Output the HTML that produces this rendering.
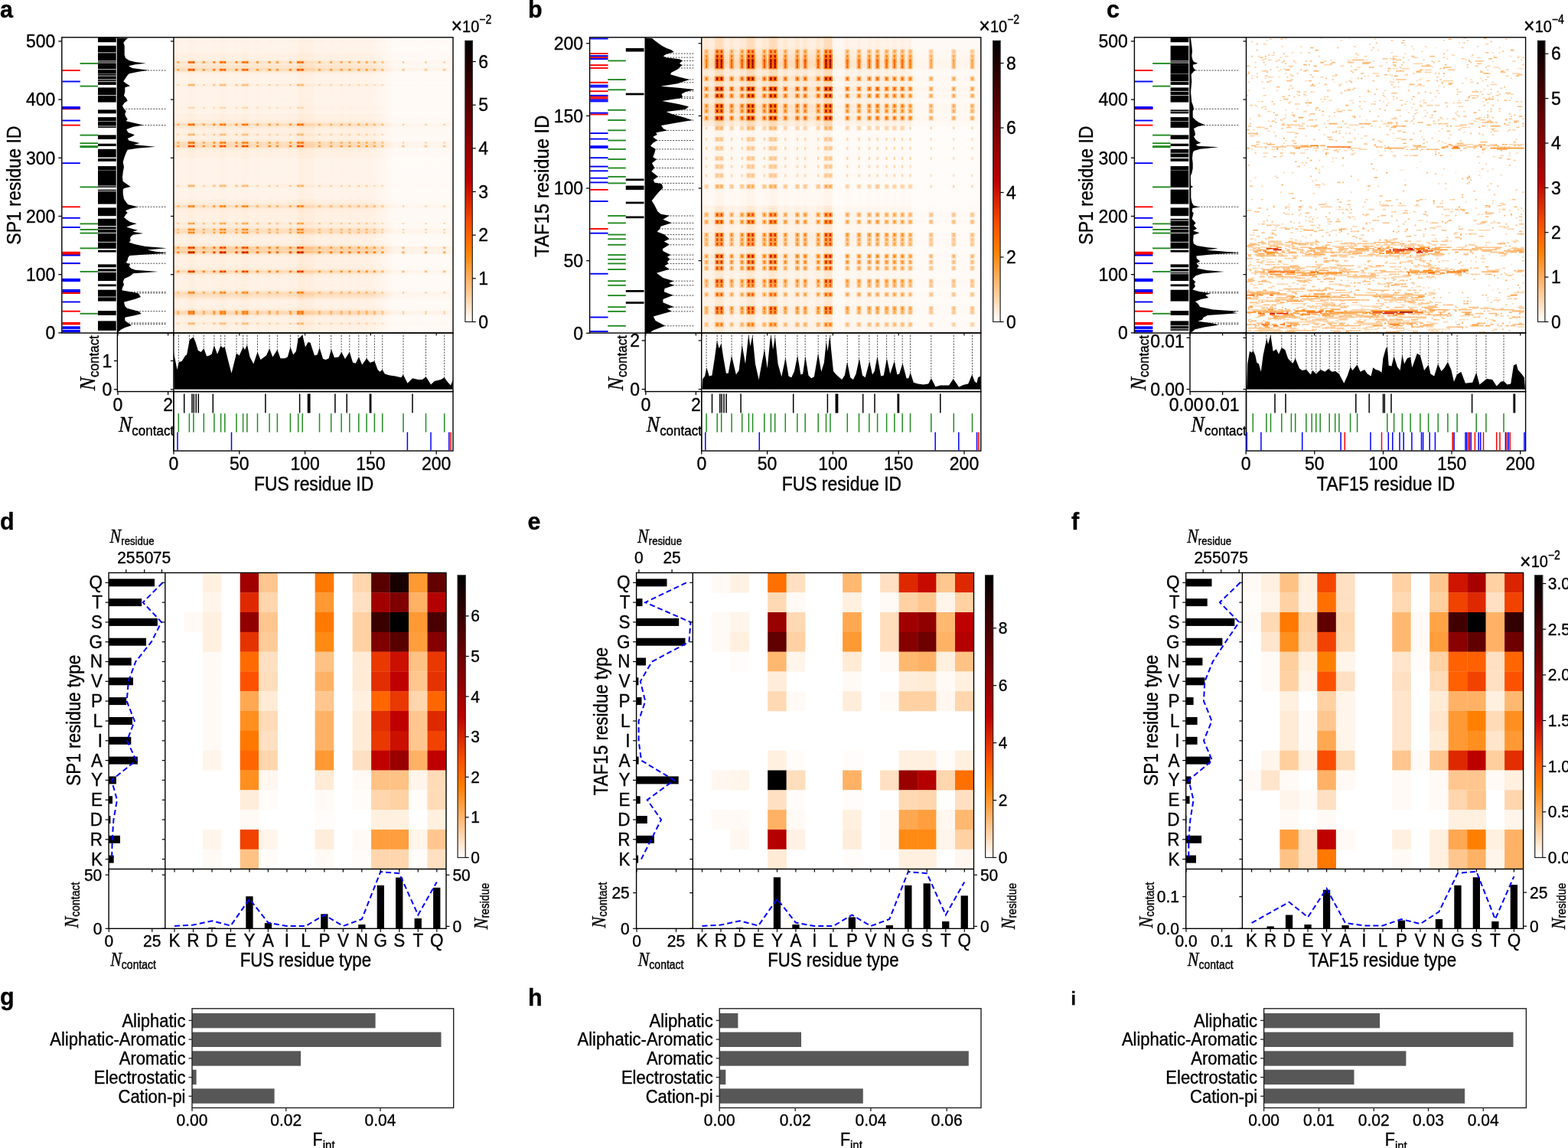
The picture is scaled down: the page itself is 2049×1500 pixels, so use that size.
<!DOCTYPE html>
<html><head><meta charset="utf-8"><title>Figure</title>
<style>html,body{margin:0;padding:0;background:#fff;}svg{display:block;}text{stroke:#000;stroke-width:0.35px;}</style>
</head><body>
<svg width="2049" height="1500" viewBox="0 0 2049 1500"><rect width="2049" height="1500" fill="#fff"/>
<text x="0" y="23.2" font-family="Liberation Sans, Arial, sans-serif" font-size="30.5" font-weight="bold">a</text>
<rect x="226.9" y="48.8" width="365.1" height="386.3" fill="#fffcfa"/>
<defs><linearGradient id="hba" x1="0" y1="0" x2="1" y2="0"><stop offset="0.0000" stop-color="#ff8000" stop-opacity="0.625"/><stop offset="0.0094" stop-color="#ff8000" stop-opacity="0.644"/><stop offset="0.0188" stop-color="#ff8000" stop-opacity="0.683"/><stop offset="0.0282" stop-color="#ff8000" stop-opacity="0.626"/><stop offset="0.0376" stop-color="#ff8000" stop-opacity="0.625"/><stop offset="0.0470" stop-color="#ff8000" stop-opacity="0.639"/><stop offset="0.0564" stop-color="#ff8000" stop-opacity="0.820"/><stop offset="0.0659" stop-color="#ff8000" stop-opacity="0.816"/><stop offset="0.0753" stop-color="#ff8000" stop-opacity="0.723"/><stop offset="0.0847" stop-color="#ff8000" stop-opacity="0.625"/><stop offset="0.0941" stop-color="#ff8000" stop-opacity="0.625"/><stop offset="0.1035" stop-color="#ff8000" stop-opacity="0.678"/><stop offset="0.1129" stop-color="#ff8000" stop-opacity="0.665"/><stop offset="0.1223" stop-color="#ff8000" stop-opacity="0.625"/><stop offset="0.1317" stop-color="#ff8000" stop-opacity="0.625"/><stop offset="0.1411" stop-color="#ff8000" stop-opacity="0.697"/><stop offset="0.1505" stop-color="#ff8000" stop-opacity="0.666"/><stop offset="0.1599" stop-color="#ff8000" stop-opacity="0.637"/><stop offset="0.1693" stop-color="#ff8000" stop-opacity="0.803"/><stop offset="0.1787" stop-color="#ff8000" stop-opacity="0.805"/><stop offset="0.1881" stop-color="#ff8000" stop-opacity="0.691"/><stop offset="0.1976" stop-color="#ff8000" stop-opacity="0.625"/><stop offset="0.2070" stop-color="#ff8000" stop-opacity="0.625"/><stop offset="0.2164" stop-color="#ff8000" stop-opacity="0.637"/><stop offset="0.2258" stop-color="#ff8000" stop-opacity="0.734"/><stop offset="0.2352" stop-color="#ff8000" stop-opacity="0.630"/><stop offset="0.2446" stop-color="#ff8000" stop-opacity="0.724"/><stop offset="0.2540" stop-color="#ff8000" stop-opacity="0.798"/><stop offset="0.2634" stop-color="#ff8000" stop-opacity="0.789"/><stop offset="0.2728" stop-color="#ff8000" stop-opacity="0.632"/><stop offset="0.2822" stop-color="#ff8000" stop-opacity="0.625"/><stop offset="0.2916" stop-color="#ff8000" stop-opacity="0.635"/><stop offset="0.3010" stop-color="#ff8000" stop-opacity="0.716"/><stop offset="0.3104" stop-color="#ff8000" stop-opacity="0.628"/><stop offset="0.3198" stop-color="#ff8000" stop-opacity="0.625"/><stop offset="0.3293" stop-color="#ff8000" stop-opacity="0.625"/><stop offset="0.3387" stop-color="#ff8000" stop-opacity="0.684"/><stop offset="0.3481" stop-color="#ff8000" stop-opacity="0.670"/><stop offset="0.3575" stop-color="#ff8000" stop-opacity="0.625"/><stop offset="0.3669" stop-color="#ff8000" stop-opacity="0.678"/><stop offset="0.3763" stop-color="#ff8000" stop-opacity="0.665"/><stop offset="0.3857" stop-color="#ff8000" stop-opacity="0.625"/><stop offset="0.3951" stop-color="#ff8000" stop-opacity="0.625"/><stop offset="0.4045" stop-color="#ff8000" stop-opacity="0.625"/><stop offset="0.4139" stop-color="#ff8000" stop-opacity="0.691"/><stop offset="0.4233" stop-color="#ff8000" stop-opacity="0.663"/><stop offset="0.4327" stop-color="#ff8000" stop-opacity="0.626"/><stop offset="0.4421" stop-color="#ff8000" stop-opacity="0.729"/><stop offset="0.4516" stop-color="#ff8000" stop-opacity="1.000"/><stop offset="0.4610" stop-color="#ff8000" stop-opacity="1.000"/><stop offset="0.4704" stop-color="#ff8000" stop-opacity="0.854"/><stop offset="0.4798" stop-color="#ff8000" stop-opacity="0.844"/><stop offset="0.4892" stop-color="#ff8000" stop-opacity="0.844"/><stop offset="0.4986" stop-color="#ff8000" stop-opacity="0.844"/><stop offset="0.5080" stop-color="#ff8000" stop-opacity="0.625"/><stop offset="0.5174" stop-color="#ff8000" stop-opacity="0.667"/><stop offset="0.5268" stop-color="#ff8000" stop-opacity="0.667"/><stop offset="0.5362" stop-color="#ff8000" stop-opacity="0.625"/><stop offset="0.5456" stop-color="#ff8000" stop-opacity="0.625"/><stop offset="0.5550" stop-color="#ff8000" stop-opacity="0.632"/><stop offset="0.5644" stop-color="#ff8000" stop-opacity="0.709"/><stop offset="0.5738" stop-color="#ff8000" stop-opacity="0.629"/><stop offset="0.5833" stop-color="#ff8000" stop-opacity="0.625"/><stop offset="0.5927" stop-color="#ff8000" stop-opacity="0.636"/><stop offset="0.6021" stop-color="#ff8000" stop-opacity="0.704"/><stop offset="0.6115" stop-color="#ff8000" stop-opacity="0.627"/><stop offset="0.6209" stop-color="#ff8000" stop-opacity="0.632"/><stop offset="0.6303" stop-color="#ff8000" stop-opacity="0.709"/><stop offset="0.6397" stop-color="#ff8000" stop-opacity="0.629"/><stop offset="0.6491" stop-color="#ff8000" stop-opacity="0.625"/><stop offset="0.6585" stop-color="#ff8000" stop-opacity="0.673"/><stop offset="0.6679" stop-color="#ff8000" stop-opacity="0.661"/><stop offset="0.6773" stop-color="#ff8000" stop-opacity="0.625"/><stop offset="0.6867" stop-color="#ff8000" stop-opacity="0.673"/><stop offset="0.6961" stop-color="#ff8000" stop-opacity="0.661"/><stop offset="0.7056" stop-color="#ff8000" stop-opacity="0.625"/><stop offset="0.7150" stop-color="#ff8000" stop-opacity="0.610"/><stop offset="0.7244" stop-color="#ff8000" stop-opacity="0.543"/><stop offset="0.7338" stop-color="#ff8000" stop-opacity="0.463"/><stop offset="0.7432" stop-color="#ff8000" stop-opacity="0.429"/><stop offset="0.7526" stop-color="#ff8000" stop-opacity="0.368"/><stop offset="0.7620" stop-color="#ff8000" stop-opacity="0.300"/><stop offset="0.7714" stop-color="#ff8000" stop-opacity="0.246"/><stop offset="0.7808" stop-color="#ff8000" stop-opacity="0.192"/><stop offset="0.7902" stop-color="#ff8000" stop-opacity="0.138"/><stop offset="0.7996" stop-color="#ff8000" stop-opacity="0.138"/><stop offset="0.8090" stop-color="#ff8000" stop-opacity="0.138"/><stop offset="0.8184" stop-color="#ff8000" stop-opacity="0.143"/><stop offset="0.8278" stop-color="#ff8000" stop-opacity="0.141"/><stop offset="0.8373" stop-color="#ff8000" stop-opacity="0.138"/><stop offset="0.8467" stop-color="#ff8000" stop-opacity="0.138"/><stop offset="0.8561" stop-color="#ff8000" stop-opacity="0.137"/><stop offset="0.8655" stop-color="#ff8000" stop-opacity="0.137"/><stop offset="0.8749" stop-color="#ff8000" stop-opacity="0.138"/><stop offset="0.8843" stop-color="#ff8000" stop-opacity="0.138"/><stop offset="0.8937" stop-color="#ff8000" stop-opacity="0.138"/><stop offset="0.9031" stop-color="#ff8000" stop-opacity="0.147"/><stop offset="0.9125" stop-color="#ff8000" stop-opacity="0.138"/><stop offset="0.9219" stop-color="#ff8000" stop-opacity="0.138"/><stop offset="0.9313" stop-color="#ff8000" stop-opacity="0.138"/><stop offset="0.9407" stop-color="#ff8000" stop-opacity="0.138"/><stop offset="0.9501" stop-color="#ff8000" stop-opacity="0.138"/><stop offset="0.9595" stop-color="#ff8000" stop-opacity="0.138"/><stop offset="0.9690" stop-color="#ff8000" stop-opacity="0.147"/><stop offset="0.9784" stop-color="#ff8000" stop-opacity="0.138"/><stop offset="0.9878" stop-color="#ff8000" stop-opacity="0.138"/><stop offset="0.9972" stop-color="#ff8000" stop-opacity="0.138"/></linearGradient></defs>
<g><rect x="226.9" y="433.4" width="365.1" height="1.8" fill="url(#hba)" opacity="0.110"/><rect x="226.9" y="431.9" width="365.1" height="1.8" fill="url(#hba)" opacity="0.110"/><rect x="226.9" y="430.3" width="365.1" height="1.8" fill="url(#hba)" opacity="0.110"/><rect x="226.9" y="428.8" width="365.1" height="1.8" fill="url(#hba)" opacity="0.110"/><rect x="226.9" y="427.3" width="365.1" height="1.8" fill="url(#hba)" opacity="0.110"/><rect x="226.9" y="425.8" width="365.1" height="1.8" fill="url(#hba)" opacity="0.111"/><rect x="226.9" y="424.2" width="365.1" height="1.8" fill="url(#hba)" opacity="0.123"/><rect x="226.9" y="422.7" width="365.1" height="1.8" fill="url(#hba)" opacity="0.163"/><rect x="226.9" y="421.2" width="365.1" height="1.8" fill="url(#hba)" opacity="0.163"/><rect x="226.9" y="419.7" width="365.1" height="1.8" fill="url(#hba)" opacity="0.123"/><rect x="226.9" y="418.1" width="365.1" height="1.8" fill="url(#hba)" opacity="0.111"/><rect x="226.9" y="416.6" width="365.1" height="1.8" fill="url(#hba)" opacity="0.111"/><rect x="226.9" y="415.1" width="365.1" height="1.8" fill="url(#hba)" opacity="0.115"/><rect x="226.9" y="413.6" width="365.1" height="1.8" fill="url(#hba)" opacity="0.126"/><rect x="226.9" y="412" width="365.1" height="1.8" fill="url(#hba)" opacity="0.158"/><rect x="226.9" y="410.5" width="365.1" height="1.8" fill="url(#hba)" opacity="0.254"/><rect x="226.9" y="409" width="365.1" height="1.8" fill="url(#hba)" opacity="0.384"/><rect x="226.9" y="407.5" width="365.1" height="1.8" fill="url(#hba)" opacity="0.426"/><rect x="226.9" y="405.9" width="365.1" height="1.8" fill="url(#hba)" opacity="0.354"/><rect x="226.9" y="404.4" width="365.1" height="1.8" fill="url(#hba)" opacity="0.218"/><rect x="226.9" y="402.9" width="365.1" height="1.8" fill="url(#hba)" opacity="0.152"/><rect x="226.9" y="401.4" width="365.1" height="1.8" fill="url(#hba)" opacity="0.126"/><rect x="226.9" y="399.8" width="365.1" height="1.8" fill="url(#hba)" opacity="0.115"/><rect x="226.9" y="398.3" width="365.1" height="1.8" fill="url(#hba)" opacity="0.111"/><rect x="226.9" y="396.8" width="365.1" height="1.8" fill="url(#hba)" opacity="0.110"/><rect x="226.9" y="395.3" width="365.1" height="1.8" fill="url(#hba)" opacity="0.110"/><rect x="226.9" y="393.8" width="365.1" height="1.8" fill="url(#hba)" opacity="0.112"/><rect x="226.9" y="392.2" width="365.1" height="1.8" fill="url(#hba)" opacity="0.118"/><rect x="226.9" y="390.7" width="365.1" height="1.8" fill="url(#hba)" opacity="0.135"/><rect x="226.9" y="389.2" width="365.1" height="1.8" fill="url(#hba)" opacity="0.174"/><rect x="226.9" y="387.7" width="365.1" height="1.8" fill="url(#hba)" opacity="0.234"/><rect x="226.9" y="386.1" width="365.1" height="1.8" fill="url(#hba)" opacity="0.295"/><rect x="226.9" y="384.6" width="365.1" height="1.8" fill="url(#hba)" opacity="0.329"/><rect x="226.9" y="383.1" width="365.1" height="1.8" fill="url(#hba)" opacity="0.355"/><rect x="226.9" y="381.6" width="365.1" height="1.8" fill="url(#hba)" opacity="0.355"/><rect x="226.9" y="380" width="365.1" height="1.8" fill="url(#hba)" opacity="0.234"/><rect x="226.9" y="378.5" width="365.1" height="1.8" fill="url(#hba)" opacity="0.143"/><rect x="226.9" y="377" width="365.1" height="1.8" fill="url(#hba)" opacity="0.118"/><rect x="226.9" y="375.5" width="365.1" height="1.8" fill="url(#hba)" opacity="0.112"/><rect x="226.9" y="373.9" width="365.1" height="1.8" fill="url(#hba)" opacity="0.110"/><rect x="226.9" y="372.4" width="365.1" height="1.8" fill="url(#hba)" opacity="0.110"/><rect x="226.9" y="370.9" width="365.1" height="1.8" fill="url(#hba)" opacity="0.110"/><rect x="226.9" y="369.4" width="365.1" height="1.8" fill="url(#hba)" opacity="0.110"/><rect x="226.9" y="367.8" width="365.1" height="1.8" fill="url(#hba)" opacity="0.110"/><rect x="226.9" y="366.3" width="365.1" height="1.8" fill="url(#hba)" opacity="0.110"/><rect x="226.9" y="364.8" width="365.1" height="1.8" fill="url(#hba)" opacity="0.110"/><rect x="226.9" y="363.3" width="365.1" height="1.8" fill="url(#hba)" opacity="0.111"/><rect x="226.9" y="361.7" width="365.1" height="1.8" fill="url(#hba)" opacity="0.113"/><rect x="226.9" y="360.2" width="365.1" height="1.8" fill="url(#hba)" opacity="0.121"/><rect x="226.9" y="358.7" width="365.1" height="1.8" fill="url(#hba)" opacity="0.138"/><rect x="226.9" y="357.2" width="365.1" height="1.8" fill="url(#hba)" opacity="0.188"/><rect x="226.9" y="355.7" width="365.1" height="1.8" fill="url(#hba)" opacity="0.299"/><rect x="226.9" y="354.1" width="365.1" height="1.8" fill="url(#hba)" opacity="0.408"/><rect x="226.9" y="352.6" width="365.1" height="1.8" fill="url(#hba)" opacity="0.299"/><rect x="226.9" y="351.1" width="365.1" height="1.8" fill="url(#hba)" opacity="0.188"/><rect x="226.9" y="349.6" width="365.1" height="1.8" fill="url(#hba)" opacity="0.149"/><rect x="226.9" y="348" width="365.1" height="1.8" fill="url(#hba)" opacity="0.132"/><rect x="226.9" y="346.5" width="365.1" height="1.8" fill="url(#hba)" opacity="0.124"/><rect x="226.9" y="345" width="365.1" height="1.8" fill="url(#hba)" opacity="0.122"/><rect x="226.9" y="343.5" width="365.1" height="1.8" fill="url(#hba)" opacity="0.121"/><rect x="226.9" y="341.9" width="365.1" height="1.8" fill="url(#hba)" opacity="0.121"/><rect x="226.9" y="340.4" width="365.1" height="1.8" fill="url(#hba)" opacity="0.121"/><rect x="226.9" y="338.9" width="365.1" height="1.8" fill="url(#hba)" opacity="0.121"/><rect x="226.9" y="337.4" width="365.1" height="1.8" fill="url(#hba)" opacity="0.121"/><rect x="226.9" y="335.8" width="365.1" height="1.8" fill="url(#hba)" opacity="0.121"/><rect x="226.9" y="334.3" width="365.1" height="1.8" fill="url(#hba)" opacity="0.123"/><rect x="226.9" y="332.8" width="365.1" height="1.8" fill="url(#hba)" opacity="0.134"/><rect x="226.9" y="331.3" width="365.1" height="1.8" fill="url(#hba)" opacity="0.210"/><rect x="226.9" y="329.7" width="365.1" height="1.8" fill="url(#hba)" opacity="0.430"/><rect x="226.9" y="328.2" width="365.1" height="1.8" fill="url(#hba)" opacity="0.505"/><rect x="226.9" y="326.7" width="365.1" height="1.8" fill="url(#hba)" opacity="0.412"/><rect x="226.9" y="325.2" width="365.1" height="1.8" fill="url(#hba)" opacity="0.429"/><rect x="226.9" y="323.6" width="365.1" height="1.8" fill="url(#hba)" opacity="0.516"/><rect x="226.9" y="322.1" width="365.1" height="1.8" fill="url(#hba)" opacity="0.440"/><rect x="226.9" y="320.6" width="365.1" height="1.8" fill="url(#hba)" opacity="0.242"/><rect x="226.9" y="319.1" width="365.1" height="1.8" fill="url(#hba)" opacity="0.155"/><rect x="226.9" y="317.6" width="365.1" height="1.8" fill="url(#hba)" opacity="0.131"/><rect x="226.9" y="316" width="365.1" height="1.8" fill="url(#hba)" opacity="0.123"/><rect x="226.9" y="314.5" width="365.1" height="1.8" fill="url(#hba)" opacity="0.121"/><rect x="226.9" y="313" width="365.1" height="1.8" fill="url(#hba)" opacity="0.121"/><rect x="226.9" y="311.5" width="365.1" height="1.8" fill="url(#hba)" opacity="0.121"/><rect x="226.9" y="309.9" width="365.1" height="1.8" fill="url(#hba)" opacity="0.122"/><rect x="226.9" y="308.4" width="365.1" height="1.8" fill="url(#hba)" opacity="0.126"/><rect x="226.9" y="306.9" width="365.1" height="1.8" fill="url(#hba)" opacity="0.138"/><rect x="226.9" y="305.4" width="365.1" height="1.8" fill="url(#hba)" opacity="0.184"/><rect x="226.9" y="303.8" width="365.1" height="1.8" fill="url(#hba)" opacity="0.290"/><rect x="226.9" y="302.3" width="365.1" height="1.8" fill="url(#hba)" opacity="0.335"/><rect x="226.9" y="300.8" width="365.1" height="1.8" fill="url(#hba)" opacity="0.336"/><rect x="226.9" y="299.3" width="365.1" height="1.8" fill="url(#hba)" opacity="0.358"/><rect x="226.9" y="297.7" width="365.1" height="1.8" fill="url(#hba)" opacity="0.259"/><rect x="226.9" y="296.2" width="365.1" height="1.8" fill="url(#hba)" opacity="0.169"/><rect x="226.9" y="294.7" width="365.1" height="1.8" fill="url(#hba)" opacity="0.140"/><rect x="226.9" y="293.2" width="365.1" height="1.8" fill="url(#hba)" opacity="0.153"/><rect x="226.9" y="291.6" width="365.1" height="1.8" fill="url(#hba)" opacity="0.199"/><rect x="226.9" y="290.1" width="365.1" height="1.8" fill="url(#hba)" opacity="0.175"/><rect x="226.9" y="288.6" width="365.1" height="1.8" fill="url(#hba)" opacity="0.131"/><rect x="226.9" y="287.1" width="365.1" height="1.8" fill="url(#hba)" opacity="0.121"/><rect x="226.9" y="285.5" width="365.1" height="1.8" fill="url(#hba)" opacity="0.121"/><rect x="226.9" y="284" width="365.1" height="1.8" fill="url(#hba)" opacity="0.121"/><rect x="226.9" y="282.5" width="365.1" height="1.8" fill="url(#hba)" opacity="0.121"/><rect x="226.9" y="281" width="365.1" height="1.8" fill="url(#hba)" opacity="0.121"/><rect x="226.9" y="279.5" width="365.1" height="1.8" fill="url(#hba)" opacity="0.121"/><rect x="226.9" y="277.9" width="365.1" height="1.8" fill="url(#hba)" opacity="0.122"/><rect x="226.9" y="276.4" width="365.1" height="1.8" fill="url(#hba)" opacity="0.124"/><rect x="226.9" y="274.9" width="365.1" height="1.8" fill="url(#hba)" opacity="0.131"/><rect x="226.9" y="273.4" width="365.1" height="1.8" fill="url(#hba)" opacity="0.145"/><rect x="226.9" y="271.8" width="365.1" height="1.8" fill="url(#hba)" opacity="0.176"/><rect x="226.9" y="270.3" width="365.1" height="1.8" fill="url(#hba)" opacity="0.255"/><rect x="226.9" y="268.8" width="365.1" height="1.8" fill="url(#hba)" opacity="0.329"/><rect x="226.9" y="267.3" width="365.1" height="1.8" fill="url(#hba)" opacity="0.255"/><rect x="226.9" y="265.7" width="365.1" height="1.8" fill="url(#hba)" opacity="0.176"/><rect x="226.9" y="264.2" width="365.1" height="1.8" fill="url(#hba)" opacity="0.145"/><rect x="226.9" y="262.7" width="365.1" height="1.8" fill="url(#hba)" opacity="0.131"/><rect x="226.9" y="261.2" width="365.1" height="1.8" fill="url(#hba)" opacity="0.124"/><rect x="226.9" y="259.6" width="365.1" height="1.8" fill="url(#hba)" opacity="0.122"/><rect x="226.9" y="258.1" width="365.1" height="1.8" fill="url(#hba)" opacity="0.088"/><rect x="226.9" y="256.6" width="365.1" height="1.8" fill="url(#hba)" opacity="0.088"/><rect x="226.9" y="255.1" width="365.1" height="1.8" fill="url(#hba)" opacity="0.088"/><rect x="226.9" y="253.5" width="365.1" height="1.8" fill="url(#hba)" opacity="0.088"/><rect x="226.9" y="252" width="365.1" height="1.8" fill="url(#hba)" opacity="0.088"/><rect x="226.9" y="250.5" width="365.1" height="1.8" fill="url(#hba)" opacity="0.088"/><rect x="226.9" y="249" width="365.1" height="1.8" fill="url(#hba)" opacity="0.088"/><rect x="226.9" y="247.4" width="365.1" height="1.8" fill="url(#hba)" opacity="0.088"/><rect x="226.9" y="245.9" width="365.1" height="1.8" fill="url(#hba)" opacity="0.089"/><rect x="226.9" y="244.4" width="365.1" height="1.8" fill="url(#hba)" opacity="0.101"/><rect x="226.9" y="242.9" width="365.1" height="1.8" fill="url(#hba)" opacity="0.141"/><rect x="226.9" y="241.4" width="365.1" height="1.8" fill="url(#hba)" opacity="0.141"/><rect x="226.9" y="239.8" width="365.1" height="1.8" fill="url(#hba)" opacity="0.101"/><rect x="226.9" y="238.3" width="365.1" height="1.8" fill="url(#hba)" opacity="0.089"/><rect x="226.9" y="236.8" width="365.1" height="1.8" fill="url(#hba)" opacity="0.088"/><rect x="226.9" y="235.3" width="365.1" height="1.8" fill="url(#hba)" opacity="0.088"/><rect x="226.9" y="233.7" width="365.1" height="1.8" fill="url(#hba)" opacity="0.088"/><rect x="226.9" y="232.2" width="365.1" height="1.8" fill="url(#hba)" opacity="0.088"/><rect x="226.9" y="230.7" width="365.1" height="1.8" fill="url(#hba)" opacity="0.088"/><rect x="226.9" y="229.2" width="365.1" height="1.8" fill="url(#hba)" opacity="0.088"/><rect x="226.9" y="227.6" width="365.1" height="1.8" fill="url(#hba)" opacity="0.088"/><rect x="226.9" y="226.1" width="365.1" height="1.8" fill="url(#hba)" opacity="0.088"/><rect x="226.9" y="224.6" width="365.1" height="1.8" fill="url(#hba)" opacity="0.088"/><rect x="226.9" y="223.1" width="365.1" height="1.8" fill="url(#hba)" opacity="0.088"/><rect x="226.9" y="221.5" width="365.1" height="1.8" fill="url(#hba)" opacity="0.088"/><rect x="226.9" y="220" width="365.1" height="1.8" fill="url(#hba)" opacity="0.088"/><rect x="226.9" y="218.5" width="365.1" height="1.8" fill="url(#hba)" opacity="0.088"/><rect x="226.9" y="217" width="365.1" height="1.8" fill="url(#hba)" opacity="0.088"/><rect x="226.9" y="215.4" width="365.1" height="1.8" fill="url(#hba)" opacity="0.088"/><rect x="226.9" y="213.9" width="365.1" height="1.8" fill="url(#hba)" opacity="0.088"/><rect x="226.9" y="212.4" width="365.1" height="1.8" fill="url(#hba)" opacity="0.088"/><rect x="226.9" y="210.9" width="365.1" height="1.8" fill="url(#hba)" opacity="0.088"/><rect x="226.9" y="209.3" width="365.1" height="1.8" fill="url(#hba)" opacity="0.088"/><rect x="226.9" y="207.8" width="365.1" height="1.8" fill="url(#hba)" opacity="0.088"/><rect x="226.9" y="206.3" width="365.1" height="1.8" fill="url(#hba)" opacity="0.088"/><rect x="226.9" y="204.8" width="365.1" height="1.8" fill="url(#hba)" opacity="0.121"/><rect x="226.9" y="203.3" width="365.1" height="1.8" fill="url(#hba)" opacity="0.121"/><rect x="226.9" y="201.7" width="365.1" height="1.8" fill="url(#hba)" opacity="0.121"/><rect x="226.9" y="200.2" width="365.1" height="1.8" fill="url(#hba)" opacity="0.121"/><rect x="226.9" y="198.7" width="365.1" height="1.8" fill="url(#hba)" opacity="0.121"/><rect x="226.9" y="197.2" width="365.1" height="1.8" fill="url(#hba)" opacity="0.122"/><rect x="226.9" y="195.6" width="365.1" height="1.8" fill="url(#hba)" opacity="0.126"/><rect x="226.9" y="194.1" width="365.1" height="1.8" fill="url(#hba)" opacity="0.139"/><rect x="226.9" y="192.6" width="365.1" height="1.8" fill="url(#hba)" opacity="0.200"/><rect x="226.9" y="191.1" width="365.1" height="1.8" fill="url(#hba)" opacity="0.355"/><rect x="226.9" y="189.5" width="365.1" height="1.8" fill="url(#hba)" opacity="0.395"/><rect x="226.9" y="188" width="365.1" height="1.8" fill="url(#hba)" opacity="0.322"/><rect x="226.9" y="186.5" width="365.1" height="1.8" fill="url(#hba)" opacity="0.359"/><rect x="226.9" y="185" width="365.1" height="1.8" fill="url(#hba)" opacity="0.319"/><rect x="226.9" y="183.4" width="365.1" height="1.8" fill="url(#hba)" opacity="0.191"/><rect x="226.9" y="181.9" width="365.1" height="1.8" fill="url(#hba)" opacity="0.139"/><rect x="226.9" y="180.4" width="365.1" height="1.8" fill="url(#hba)" opacity="0.126"/><rect x="226.9" y="178.9" width="365.1" height="1.8" fill="url(#hba)" opacity="0.123"/><rect x="226.9" y="177.3" width="365.1" height="1.8" fill="url(#hba)" opacity="0.133"/><rect x="226.9" y="175.8" width="365.1" height="1.8" fill="url(#hba)" opacity="0.169"/><rect x="226.9" y="174.3" width="365.1" height="1.8" fill="url(#hba)" opacity="0.169"/><rect x="226.9" y="172.8" width="365.1" height="1.8" fill="url(#hba)" opacity="0.133"/><rect x="226.9" y="171.2" width="365.1" height="1.8" fill="url(#hba)" opacity="0.123"/><rect x="226.9" y="169.7" width="365.1" height="1.8" fill="url(#hba)" opacity="0.124"/><rect x="226.9" y="168.2" width="365.1" height="1.8" fill="url(#hba)" opacity="0.132"/><rect x="226.9" y="166.7" width="365.1" height="1.8" fill="url(#hba)" opacity="0.149"/><rect x="226.9" y="165.2" width="365.1" height="1.8" fill="url(#hba)" opacity="0.184"/><rect x="226.9" y="163.6" width="365.1" height="1.8" fill="url(#hba)" opacity="0.273"/><rect x="226.9" y="162.1" width="365.1" height="1.8" fill="url(#hba)" opacity="0.356"/><rect x="226.9" y="160.6" width="365.1" height="1.8" fill="url(#hba)" opacity="0.273"/><rect x="226.9" y="159.1" width="365.1" height="1.8" fill="url(#hba)" opacity="0.184"/><rect x="226.9" y="157.5" width="365.1" height="1.8" fill="url(#hba)" opacity="0.149"/><rect x="226.9" y="156" width="365.1" height="1.8" fill="url(#hba)" opacity="0.132"/><rect x="226.9" y="154.5" width="365.1" height="1.8" fill="url(#hba)" opacity="0.124"/><rect x="226.9" y="153" width="365.1" height="1.8" fill="url(#hba)" opacity="0.122"/><rect x="226.9" y="151.4" width="365.1" height="1.8" fill="url(#hba)" opacity="0.121"/><rect x="226.9" y="149.9" width="365.1" height="1.8" fill="url(#hba)" opacity="0.121"/><rect x="226.9" y="148.4" width="365.1" height="1.8" fill="url(#hba)" opacity="0.121"/><rect x="226.9" y="146.9" width="365.1" height="1.8" fill="url(#hba)" opacity="0.088"/><rect x="226.9" y="145.3" width="365.1" height="1.8" fill="url(#hba)" opacity="0.088"/><rect x="226.9" y="143.8" width="365.1" height="1.8" fill="url(#hba)" opacity="0.088"/><rect x="226.9" y="142.3" width="365.1" height="1.8" fill="url(#hba)" opacity="0.095"/><rect x="226.9" y="140.8" width="365.1" height="1.8" fill="url(#hba)" opacity="0.117"/><rect x="226.9" y="139.2" width="365.1" height="1.8" fill="url(#hba)" opacity="0.117"/><rect x="226.9" y="137.7" width="365.1" height="1.8" fill="url(#hba)" opacity="0.095"/><rect x="226.9" y="136.2" width="365.1" height="1.8" fill="url(#hba)" opacity="0.088"/><rect x="226.9" y="134.7" width="365.1" height="1.8" fill="url(#hba)" opacity="0.088"/><rect x="226.9" y="133.1" width="365.1" height="1.8" fill="url(#hba)" opacity="0.088"/><rect x="226.9" y="131.6" width="365.1" height="1.8" fill="url(#hba)" opacity="0.088"/><rect x="226.9" y="130.1" width="365.1" height="1.8" fill="url(#hba)" opacity="0.088"/><rect x="226.9" y="128.6" width="365.1" height="1.8" fill="url(#hba)" opacity="0.088"/><rect x="226.9" y="127.1" width="365.1" height="1.8" fill="url(#hba)" opacity="0.088"/><rect x="226.9" y="125.5" width="365.1" height="1.8" fill="url(#hba)" opacity="0.088"/><rect x="226.9" y="124" width="365.1" height="1.8" fill="url(#hba)" opacity="0.088"/><rect x="226.9" y="122.5" width="365.1" height="1.8" fill="url(#hba)" opacity="0.088"/><rect x="226.9" y="121" width="365.1" height="1.8" fill="url(#hba)" opacity="0.088"/><rect x="226.9" y="119.4" width="365.1" height="1.8" fill="url(#hba)" opacity="0.088"/><rect x="226.9" y="117.9" width="365.1" height="1.8" fill="url(#hba)" opacity="0.088"/><rect x="226.9" y="116.4" width="365.1" height="1.8" fill="url(#hba)" opacity="0.088"/><rect x="226.9" y="114.9" width="365.1" height="1.8" fill="url(#hba)" opacity="0.088"/><rect x="226.9" y="113.3" width="365.1" height="1.8" fill="url(#hba)" opacity="0.092"/><rect x="226.9" y="111.8" width="365.1" height="1.8" fill="url(#hba)" opacity="0.119"/><rect x="226.9" y="110.3" width="365.1" height="1.8" fill="url(#hba)" opacity="0.151"/><rect x="226.9" y="108.8" width="365.1" height="1.8" fill="url(#hba)" opacity="0.119"/><rect x="226.9" y="107.2" width="365.1" height="1.8" fill="url(#hba)" opacity="0.092"/><rect x="226.9" y="105.7" width="365.1" height="1.8" fill="url(#hba)" opacity="0.088"/><rect x="226.9" y="104.2" width="365.1" height="1.8" fill="url(#hba)" opacity="0.088"/><rect x="226.9" y="102.7" width="365.1" height="1.8" fill="url(#hba)" opacity="0.088"/><rect x="226.9" y="101.1" width="365.1" height="1.8" fill="url(#hba)" opacity="0.088"/><rect x="226.9" y="99.6" width="365.1" height="1.8" fill="url(#hba)" opacity="0.088"/><rect x="226.9" y="98.1" width="365.1" height="1.8" fill="url(#hba)" opacity="0.088"/><rect x="226.9" y="96.6" width="365.1" height="1.8" fill="url(#hba)" opacity="0.089"/><rect x="226.9" y="95" width="365.1" height="1.8" fill="url(#hba)" opacity="0.126"/><rect x="226.9" y="93.5" width="365.1" height="1.8" fill="url(#hba)" opacity="0.148"/><rect x="226.9" y="92" width="365.1" height="1.8" fill="url(#hba)" opacity="0.250"/><rect x="226.9" y="90.5" width="365.1" height="1.8" fill="url(#hba)" opacity="0.376"/><rect x="226.9" y="89" width="365.1" height="1.8" fill="url(#hba)" opacity="0.325"/><rect x="226.9" y="87.4" width="365.1" height="1.8" fill="url(#hba)" opacity="0.264"/><rect x="226.9" y="85.9" width="365.1" height="1.8" fill="url(#hba)" opacity="0.237"/><rect x="226.9" y="84.4" width="365.1" height="1.8" fill="url(#hba)" opacity="0.201"/><rect x="226.9" y="82.9" width="365.1" height="1.8" fill="url(#hba)" opacity="0.194"/><rect x="226.9" y="81.3" width="365.1" height="1.8" fill="url(#hba)" opacity="0.269"/><rect x="226.9" y="79.8" width="365.1" height="1.8" fill="url(#hba)" opacity="0.258"/><rect x="226.9" y="78.3" width="365.1" height="1.8" fill="url(#hba)" opacity="0.155"/><rect x="226.9" y="76.8" width="365.1" height="1.8" fill="url(#hba)" opacity="0.123"/><rect x="226.9" y="75.2" width="365.1" height="1.8" fill="url(#hba)" opacity="0.121"/><rect x="226.9" y="73.7" width="365.1" height="1.8" fill="url(#hba)" opacity="0.121"/><rect x="226.9" y="72.2" width="365.1" height="1.8" fill="url(#hba)" opacity="0.121"/><rect x="226.9" y="70.7" width="365.1" height="1.8" fill="url(#hba)" opacity="0.121"/><rect x="226.9" y="69.1" width="365.1" height="1.8" fill="url(#hba)" opacity="0.121"/><rect x="226.9" y="67.6" width="365.1" height="1.8" fill="url(#hba)" opacity="0.088"/><rect x="226.9" y="66.1" width="365.1" height="1.8" fill="url(#hba)" opacity="0.088"/><rect x="226.9" y="64.6" width="365.1" height="1.8" fill="url(#hba)" opacity="0.088"/><rect x="226.9" y="63" width="365.1" height="1.8" fill="url(#hba)" opacity="0.088"/><rect x="226.9" y="61.5" width="365.1" height="1.8" fill="url(#hba)" opacity="0.088"/><rect x="226.9" y="60" width="365.1" height="1.8" fill="url(#hba)" opacity="0.088"/><rect x="226.9" y="58.5" width="365.1" height="1.8" fill="url(#hba)" opacity="0.088"/><rect x="226.9" y="56.9" width="365.1" height="1.8" fill="url(#hba)" opacity="0.088"/><rect x="226.9" y="55.4" width="365.1" height="1.8" fill="url(#hba)" opacity="0.088"/><rect x="226.9" y="53.9" width="365.1" height="1.8" fill="url(#hba)" opacity="0.088"/><rect x="226.9" y="52.4" width="365.1" height="1.8" fill="url(#hba)" opacity="0.088"/><rect x="226.9" y="50.9" width="365.1" height="1.8" fill="url(#hba)" opacity="0.088"/><rect x="226.9" y="49.3" width="365.1" height="1.8" fill="url(#hba)" opacity="0.088"/><rect x="226.9" y="47.8" width="365.1" height="1.8" fill="url(#hba)" opacity="0.088"/></g>
<path fill="#ffe0c2" d="M230.7 298.3h4.3v3.4h-4.3zM230.7 302.2h4.3v3.4h-4.3zM230.7 380.6h4.3v3.4h-4.3zM248 109.4h4.3v3.4h-4.3zM248 174.1h4.3v3.4h-4.3zM248 241.2h4.3v3.4h-4.3zM248 421h4.3v3.4h-4.3zM264.1 290.3h4.3v3.4h-4.3zM277.7 109.4h4.3v3.4h-4.3zM277.7 241.2h4.3v3.4h-4.3zM277.7 290.3h4.3v3.4h-4.3zM277.7 421h4.3v3.4h-4.3zM286.4 174.1h4.3v3.4h-4.3zM289 109.4h4.3v3.4h-4.3zM289 241.2h4.3v3.4h-4.3zM289 290.3h4.3v3.4h-4.3zM289 421h4.3v3.4h-4.3zM291.6 174.1h4.3v3.4h-4.3zM306.9 109.4h4.3v3.4h-4.3zM306.9 241.2h4.3v3.4h-4.3zM306.9 290.3h4.3v3.4h-4.3zM306.9 421h4.3v3.4h-4.3zM315.4 174.1h4.3v3.4h-4.3zM318 109.4h4.3v3.4h-4.3zM318 241.2h4.3v3.4h-4.3zM318 290.3h4.3v3.4h-4.3zM318 421h4.3v3.4h-4.3zM320.8 174.1h4.3v3.4h-4.3zM334.3 290.3h4.3v3.4h-4.3zM349.9 290.3h4.3v3.4h-4.3zM360.2 290.3h4.3v3.4h-4.3zM377.2 290.3h4.3v3.4h-4.3zM390.3 109.4h4.3v3.4h-4.3zM390.3 174.1h4.3v3.4h-4.3zM390.3 241.2h4.3v3.4h-4.3zM390.3 421h4.3v3.4h-4.3zM487.2 298.3h4.3v3.4h-4.3zM487.2 302.2h4.3v3.4h-4.3zM487.2 380.6h4.3v3.4h-4.3zM497.5 79.7h4.3v3.4h-4.3zM497.5 161.2h4.3v3.4h-4.3zM497.5 184.8h4.3v3.4h-4.3zM497.5 267.9h4.3v3.4h-4.3zM497.5 405.8h4.3v3.4h-4.3zM497.5 408.1h4.3v3.4h-4.3zM524.8 89.6h4.3v3.4h-4.3zM524.8 189.4h4.3v3.4h-4.3zM524.8 322h4.3v3.4h-4.3zM524.8 353.2h4.3v3.4h-4.3zM554.3 89.6h4.3v3.4h-4.3zM554.3 189.4h4.3v3.4h-4.3zM554.3 322h4.3v3.4h-4.3zM554.3 353.2h4.3v3.4h-4.3zM578.5 89.6h4.3v3.4h-4.3zM578.5 189.4h4.3v3.4h-4.3zM578.5 322h4.3v3.4h-4.3zM578.5 353.2h4.3v3.4h-4.3z"/>
<path fill="#ffd6ad" d="M230.7 79.7h4.3v3.4h-4.3zM230.7 89.6h4.3v3.4h-4.3zM230.7 161.2h4.3v3.4h-4.3zM230.7 184.8h4.3v3.4h-4.3zM230.7 267.9h4.3v3.4h-4.3zM230.7 405.8h4.3v3.4h-4.3zM230.7 408.1h4.3v3.4h-4.3zM245.3 109.4h4.3v3.4h-4.3zM245.3 174.1h4.3v3.4h-4.3zM245.3 241.2h4.3v3.4h-4.3zM245.3 290.3h4.3v3.4h-4.3zM245.3 421h4.3v3.4h-4.3zM248 290.3h4.3v3.4h-4.3zM250.7 109.4h4.3v3.4h-4.3zM250.7 174.1h4.3v3.4h-4.3zM250.7 241.2h4.3v3.4h-4.3zM250.7 290.3h4.3v3.4h-4.3zM250.7 421h4.3v3.4h-4.3zM264.1 161.2h4.3v3.4h-4.3zM264.1 184.8h4.3v3.4h-4.3zM264.1 267.9h4.3v3.4h-4.3zM264.1 298.3h4.3v3.4h-4.3zM264.1 302.2h4.3v3.4h-4.3zM264.1 380.6h4.3v3.4h-4.3zM264.1 405.8h4.3v3.4h-4.3zM264.1 408.1h4.3v3.4h-4.3zM277.7 298.3h4.3v3.4h-4.3zM277.7 302.2h4.3v3.4h-4.3zM277.7 380.6h4.3v3.4h-4.3zM286.4 109.4h4.3v3.4h-4.3zM286.4 241.2h4.3v3.4h-4.3zM286.4 290.3h4.3v3.4h-4.3zM286.4 421h4.3v3.4h-4.3zM289 298.3h4.3v3.4h-4.3zM289 302.2h4.3v3.4h-4.3zM289 380.6h4.3v3.4h-4.3zM291.6 109.4h4.3v3.4h-4.3zM291.6 241.2h4.3v3.4h-4.3zM291.6 290.3h4.3v3.4h-4.3zM291.6 421h4.3v3.4h-4.3zM306.9 298.3h4.3v3.4h-4.3zM306.9 302.2h4.3v3.4h-4.3zM306.9 380.6h4.3v3.4h-4.3zM315.4 109.4h4.3v3.4h-4.3zM315.4 241.2h4.3v3.4h-4.3zM315.4 290.3h4.3v3.4h-4.3zM315.4 421h4.3v3.4h-4.3zM318 298.3h4.3v3.4h-4.3zM318 302.2h4.3v3.4h-4.3zM318 380.6h4.3v3.4h-4.3zM320.8 109.4h4.3v3.4h-4.3zM320.8 241.2h4.3v3.4h-4.3zM320.8 290.3h4.3v3.4h-4.3zM320.8 421h4.3v3.4h-4.3zM334.3 161.2h4.3v3.4h-4.3zM334.3 184.8h4.3v3.4h-4.3zM334.3 267.9h4.3v3.4h-4.3zM334.3 298.3h4.3v3.4h-4.3zM334.3 302.2h4.3v3.4h-4.3zM334.3 380.6h4.3v3.4h-4.3zM334.3 405.8h4.3v3.4h-4.3zM334.3 408.1h4.3v3.4h-4.3zM349.9 267.9h4.3v3.4h-4.3zM349.9 298.3h4.3v3.4h-4.3zM349.9 302.2h4.3v3.4h-4.3zM349.9 380.6h4.3v3.4h-4.3zM349.9 408.1h4.3v3.4h-4.3zM360.2 161.2h4.3v3.4h-4.3zM360.2 184.8h4.3v3.4h-4.3zM360.2 267.9h4.3v3.4h-4.3zM360.2 298.3h4.3v3.4h-4.3zM360.2 302.2h4.3v3.4h-4.3zM360.2 380.6h4.3v3.4h-4.3zM360.2 405.8h4.3v3.4h-4.3zM360.2 408.1h4.3v3.4h-4.3zM377.2 267.9h4.3v3.4h-4.3zM377.2 298.3h4.3v3.4h-4.3zM377.2 302.2h4.3v3.4h-4.3zM377.2 380.6h4.3v3.4h-4.3zM377.2 408.1h4.3v3.4h-4.3zM387.5 109.4h4.3v3.4h-4.3zM387.5 174.1h4.3v3.4h-4.3zM387.5 241.2h4.3v3.4h-4.3zM387.5 290.3h4.3v3.4h-4.3zM387.5 421h4.3v3.4h-4.3zM390.3 290.3h4.3v3.4h-4.3zM390.3 302.2h4.3v3.4h-4.3zM393 109.4h4.3v3.4h-4.3zM393 174.1h4.3v3.4h-4.3zM393 241.2h4.3v3.4h-4.3zM393 290.3h4.3v3.4h-4.3zM393 421h4.3v3.4h-4.3zM415.3 79.7h4.3v3.4h-4.3zM415.3 161.2h4.3v3.4h-4.3zM415.3 184.8h4.3v3.4h-4.3zM415.3 267.9h4.3v3.4h-4.3zM415.3 298.3h4.3v3.4h-4.3zM415.3 302.2h4.3v3.4h-4.3zM415.3 380.6h4.3v3.4h-4.3zM415.3 405.8h4.3v3.4h-4.3zM415.3 408.1h4.3v3.4h-4.3zM430.6 79.7h4.3v3.4h-4.3zM430.6 161.2h4.3v3.4h-4.3zM430.6 184.8h4.3v3.4h-4.3zM430.6 267.9h4.3v3.4h-4.3zM430.6 298.3h4.3v3.4h-4.3zM430.6 302.2h4.3v3.4h-4.3zM430.6 380.6h4.3v3.4h-4.3zM430.6 405.8h4.3v3.4h-4.3zM430.6 408.1h4.3v3.4h-4.3zM444 79.7h4.3v3.4h-4.3zM444 161.2h4.3v3.4h-4.3zM444 184.8h4.3v3.4h-4.3zM444 267.9h4.3v3.4h-4.3zM444 298.3h4.3v3.4h-4.3zM444 302.2h4.3v3.4h-4.3zM444 380.6h4.3v3.4h-4.3zM444 405.8h4.3v3.4h-4.3zM444 408.1h4.3v3.4h-4.3zM454.6 79.7h4.3v3.4h-4.3zM454.6 161.2h4.3v3.4h-4.3zM454.6 184.8h4.3v3.4h-4.3zM454.6 267.9h4.3v3.4h-4.3zM454.6 298.3h4.3v3.4h-4.3zM454.6 302.2h4.3v3.4h-4.3zM454.6 380.6h4.3v3.4h-4.3zM454.6 405.8h4.3v3.4h-4.3zM454.6 408.1h4.3v3.4h-4.3zM466.6 79.7h4.3v3.4h-4.3zM466.6 161.2h4.3v3.4h-4.3zM466.6 184.8h4.3v3.4h-4.3zM466.6 267.9h4.3v3.4h-4.3zM466.6 298.3h4.3v3.4h-4.3zM466.6 302.2h4.3v3.4h-4.3zM466.6 380.6h4.3v3.4h-4.3zM466.6 405.8h4.3v3.4h-4.3zM466.6 408.1h4.3v3.4h-4.3zM476.9 79.7h4.3v3.4h-4.3zM476.9 161.2h4.3v3.4h-4.3zM476.9 184.8h4.3v3.4h-4.3zM476.9 267.9h4.3v3.4h-4.3zM476.9 298.3h4.3v3.4h-4.3zM476.9 302.2h4.3v3.4h-4.3zM476.9 380.6h4.3v3.4h-4.3zM476.9 405.8h4.3v3.4h-4.3zM476.9 408.1h4.3v3.4h-4.3zM487.2 79.7h4.3v3.4h-4.3zM487.2 89.6h4.3v3.4h-4.3zM487.2 161.2h4.3v3.4h-4.3zM487.2 184.8h4.3v3.4h-4.3zM487.2 267.9h4.3v3.4h-4.3zM487.2 405.8h4.3v3.4h-4.3zM487.2 408.1h4.3v3.4h-4.3zM497.5 89.6h4.3v3.4h-4.3zM497.5 189.4h4.3v3.4h-4.3zM497.5 322h4.3v3.4h-4.3zM497.5 353.2h4.3v3.4h-4.3zM524.8 328.1h4.3v3.4h-4.3zM554.3 328.1h4.3v3.4h-4.3zM578.5 328.1h4.3v3.4h-4.3z"/>
<path fill="#ffcc99" d="M230.7 189.4h4.3v3.4h-4.3zM230.7 322h4.3v3.4h-4.3zM230.7 353.2h4.3v3.4h-4.3zM248 267.9h4.3v3.4h-4.3zM248 298.3h4.3v3.4h-4.3zM248 302.2h4.3v3.4h-4.3zM248 380.6h4.3v3.4h-4.3zM248 408.1h4.3v3.4h-4.3zM264.1 79.7h4.3v3.4h-4.3zM264.1 89.6h4.3v3.4h-4.3zM264.1 189.4h4.3v3.4h-4.3zM277.7 79.7h4.3v3.4h-4.3zM277.7 161.2h4.3v3.4h-4.3zM277.7 184.8h4.3v3.4h-4.3zM277.7 267.9h4.3v3.4h-4.3zM277.7 405.8h4.3v3.4h-4.3zM277.7 408.1h4.3v3.4h-4.3zM286.4 298.3h4.3v3.4h-4.3zM286.4 302.2h4.3v3.4h-4.3zM286.4 380.6h4.3v3.4h-4.3zM289 79.7h4.3v3.4h-4.3zM289 161.2h4.3v3.4h-4.3zM289 184.8h4.3v3.4h-4.3zM289 267.9h4.3v3.4h-4.3zM289 405.8h4.3v3.4h-4.3zM289 408.1h4.3v3.4h-4.3zM291.6 298.3h4.3v3.4h-4.3zM291.6 302.2h4.3v3.4h-4.3zM291.6 380.6h4.3v3.4h-4.3zM306.9 79.7h4.3v3.4h-4.3zM306.9 161.2h4.3v3.4h-4.3zM306.9 184.8h4.3v3.4h-4.3zM306.9 267.9h4.3v3.4h-4.3zM306.9 405.8h4.3v3.4h-4.3zM306.9 408.1h4.3v3.4h-4.3zM315.4 298.3h4.3v3.4h-4.3zM315.4 302.2h4.3v3.4h-4.3zM315.4 380.6h4.3v3.4h-4.3zM318 79.7h4.3v3.4h-4.3zM318 161.2h4.3v3.4h-4.3zM318 184.8h4.3v3.4h-4.3zM318 267.9h4.3v3.4h-4.3zM318 405.8h4.3v3.4h-4.3zM318 408.1h4.3v3.4h-4.3zM320.8 298.3h4.3v3.4h-4.3zM320.8 302.2h4.3v3.4h-4.3zM320.8 380.6h4.3v3.4h-4.3zM334.3 79.7h4.3v3.4h-4.3zM334.3 89.6h4.3v3.4h-4.3zM334.3 189.4h4.3v3.4h-4.3zM349.9 79.7h4.3v3.4h-4.3zM349.9 161.2h4.3v3.4h-4.3zM349.9 184.8h4.3v3.4h-4.3zM349.9 405.8h4.3v3.4h-4.3zM360.2 79.7h4.3v3.4h-4.3zM360.2 89.6h4.3v3.4h-4.3zM360.2 189.4h4.3v3.4h-4.3zM377.2 79.7h4.3v3.4h-4.3zM377.2 161.2h4.3v3.4h-4.3zM377.2 184.8h4.3v3.4h-4.3zM377.2 405.8h4.3v3.4h-4.3zM387.5 302.2h4.3v3.4h-4.3zM390.3 161.2h4.3v3.4h-4.3zM390.3 184.8h4.3v3.4h-4.3zM390.3 267.9h4.3v3.4h-4.3zM390.3 298.3h4.3v3.4h-4.3zM390.3 380.6h4.3v3.4h-4.3zM390.3 405.8h4.3v3.4h-4.3zM390.3 408.1h4.3v3.4h-4.3zM393 302.2h4.3v3.4h-4.3zM415.3 89.6h4.3v3.4h-4.3zM415.3 189.4h4.3v3.4h-4.3zM415.3 322h4.3v3.4h-4.3zM415.3 353.2h4.3v3.4h-4.3zM430.6 89.6h4.3v3.4h-4.3zM430.6 189.4h4.3v3.4h-4.3zM430.6 322h4.3v3.4h-4.3zM430.6 353.2h4.3v3.4h-4.3zM444 89.6h4.3v3.4h-4.3zM444 189.4h4.3v3.4h-4.3zM444 322h4.3v3.4h-4.3zM444 353.2h4.3v3.4h-4.3zM454.6 89.6h4.3v3.4h-4.3zM454.6 189.4h4.3v3.4h-4.3zM454.6 322h4.3v3.4h-4.3zM454.6 353.2h4.3v3.4h-4.3zM466.6 89.6h4.3v3.4h-4.3zM466.6 189.4h4.3v3.4h-4.3zM466.6 322h4.3v3.4h-4.3zM466.6 353.2h4.3v3.4h-4.3zM476.9 89.6h4.3v3.4h-4.3zM476.9 189.4h4.3v3.4h-4.3zM476.9 322h4.3v3.4h-4.3zM476.9 353.2h4.3v3.4h-4.3zM487.2 189.4h4.3v3.4h-4.3zM487.2 322h4.3v3.4h-4.3zM487.2 353.2h4.3v3.4h-4.3zM497.5 328.1h4.3v3.4h-4.3z"/>
<path fill="#ffc285" d="M230.7 328.1h4.3v3.4h-4.3zM245.3 267.9h4.3v3.4h-4.3zM245.3 298.3h4.3v3.4h-4.3zM245.3 302.2h4.3v3.4h-4.3zM245.3 380.6h4.3v3.4h-4.3zM245.3 408.1h4.3v3.4h-4.3zM248 79.7h4.3v3.4h-4.3zM248 161.2h4.3v3.4h-4.3zM248 184.8h4.3v3.4h-4.3zM248 405.8h4.3v3.4h-4.3zM250.7 267.9h4.3v3.4h-4.3zM250.7 298.3h4.3v3.4h-4.3zM250.7 302.2h4.3v3.4h-4.3zM250.7 380.6h4.3v3.4h-4.3zM250.7 408.1h4.3v3.4h-4.3zM264.1 322h4.3v3.4h-4.3zM264.1 353.2h4.3v3.4h-4.3zM277.7 89.6h4.3v3.4h-4.3zM277.7 189.4h4.3v3.4h-4.3zM277.7 322h4.3v3.4h-4.3zM277.7 353.2h4.3v3.4h-4.3zM286.4 161.2h4.3v3.4h-4.3zM286.4 184.8h4.3v3.4h-4.3zM286.4 267.9h4.3v3.4h-4.3zM286.4 405.8h4.3v3.4h-4.3zM286.4 408.1h4.3v3.4h-4.3zM289 89.6h4.3v3.4h-4.3zM289 189.4h4.3v3.4h-4.3zM289 322h4.3v3.4h-4.3zM289 353.2h4.3v3.4h-4.3zM291.6 161.2h4.3v3.4h-4.3zM291.6 184.8h4.3v3.4h-4.3zM291.6 267.9h4.3v3.4h-4.3zM291.6 405.8h4.3v3.4h-4.3zM291.6 408.1h4.3v3.4h-4.3zM306.9 89.6h4.3v3.4h-4.3zM306.9 189.4h4.3v3.4h-4.3zM306.9 322h4.3v3.4h-4.3zM306.9 353.2h4.3v3.4h-4.3zM315.4 161.2h4.3v3.4h-4.3zM315.4 184.8h4.3v3.4h-4.3zM315.4 267.9h4.3v3.4h-4.3zM315.4 405.8h4.3v3.4h-4.3zM315.4 408.1h4.3v3.4h-4.3zM318 89.6h4.3v3.4h-4.3zM318 189.4h4.3v3.4h-4.3zM318 322h4.3v3.4h-4.3zM318 353.2h4.3v3.4h-4.3zM320.8 161.2h4.3v3.4h-4.3zM320.8 184.8h4.3v3.4h-4.3zM320.8 267.9h4.3v3.4h-4.3zM320.8 405.8h4.3v3.4h-4.3zM320.8 408.1h4.3v3.4h-4.3zM334.3 322h4.3v3.4h-4.3zM334.3 353.2h4.3v3.4h-4.3zM349.9 89.6h4.3v3.4h-4.3zM349.9 189.4h4.3v3.4h-4.3zM349.9 322h4.3v3.4h-4.3zM349.9 353.2h4.3v3.4h-4.3zM360.2 322h4.3v3.4h-4.3zM360.2 353.2h4.3v3.4h-4.3zM377.2 89.6h4.3v3.4h-4.3zM377.2 189.4h4.3v3.4h-4.3zM377.2 322h4.3v3.4h-4.3zM377.2 353.2h4.3v3.4h-4.3zM387.5 267.9h4.3v3.4h-4.3zM387.5 298.3h4.3v3.4h-4.3zM387.5 380.6h4.3v3.4h-4.3zM387.5 408.1h4.3v3.4h-4.3zM390.3 79.7h4.3v3.4h-4.3zM390.3 89.6h4.3v3.4h-4.3zM393 267.9h4.3v3.4h-4.3zM393 298.3h4.3v3.4h-4.3zM393 380.6h4.3v3.4h-4.3zM393 408.1h4.3v3.4h-4.3zM487.2 328.1h4.3v3.4h-4.3z"/>
<path fill="#ffb870" d="M245.3 79.7h4.3v3.4h-4.3zM245.3 161.2h4.3v3.4h-4.3zM245.3 184.8h4.3v3.4h-4.3zM245.3 405.8h4.3v3.4h-4.3zM248 89.6h4.3v3.4h-4.3zM248 189.4h4.3v3.4h-4.3zM248 322h4.3v3.4h-4.3zM248 353.2h4.3v3.4h-4.3zM250.7 79.7h4.3v3.4h-4.3zM250.7 161.2h4.3v3.4h-4.3zM250.7 184.8h4.3v3.4h-4.3zM250.7 405.8h4.3v3.4h-4.3zM264.1 328.1h4.3v3.4h-4.3zM286.4 79.7h4.3v3.4h-4.3zM286.4 89.6h4.3v3.4h-4.3zM291.6 79.7h4.3v3.4h-4.3zM291.6 89.6h4.3v3.4h-4.3zM315.4 79.7h4.3v3.4h-4.3zM315.4 89.6h4.3v3.4h-4.3zM320.8 79.7h4.3v3.4h-4.3zM320.8 89.6h4.3v3.4h-4.3zM334.3 328.1h4.3v3.4h-4.3zM360.2 328.1h4.3v3.4h-4.3zM387.5 79.7h4.3v3.4h-4.3zM387.5 161.2h4.3v3.4h-4.3zM387.5 184.8h4.3v3.4h-4.3zM387.5 405.8h4.3v3.4h-4.3zM390.3 189.4h4.3v3.4h-4.3zM390.3 322h4.3v3.4h-4.3zM390.3 353.2h4.3v3.4h-4.3zM393 79.7h4.3v3.4h-4.3zM393 161.2h4.3v3.4h-4.3zM393 184.8h4.3v3.4h-4.3zM393 405.8h4.3v3.4h-4.3zM415.3 328.1h4.3v3.4h-4.3zM430.6 328.1h4.3v3.4h-4.3zM444 328.1h4.3v3.4h-4.3zM454.6 328.1h4.3v3.4h-4.3zM466.6 328.1h4.3v3.4h-4.3zM476.9 328.1h4.3v3.4h-4.3z"/>
<path fill="#ffad5c" d="M245.3 89.6h4.3v3.4h-4.3zM245.3 189.4h4.3v3.4h-4.3zM250.7 89.6h4.3v3.4h-4.3zM250.7 189.4h4.3v3.4h-4.3zM277.7 328.1h4.3v3.4h-4.3zM286.4 189.4h4.3v3.4h-4.3zM286.4 322h4.3v3.4h-4.3zM286.4 353.2h4.3v3.4h-4.3zM289 328.1h4.3v3.4h-4.3zM291.6 189.4h4.3v3.4h-4.3zM291.6 322h4.3v3.4h-4.3zM291.6 353.2h4.3v3.4h-4.3zM306.9 328.1h4.3v3.4h-4.3zM315.4 189.4h4.3v3.4h-4.3zM315.4 322h4.3v3.4h-4.3zM315.4 353.2h4.3v3.4h-4.3zM318 328.1h4.3v3.4h-4.3zM320.8 189.4h4.3v3.4h-4.3zM320.8 322h4.3v3.4h-4.3zM320.8 353.2h4.3v3.4h-4.3zM349.9 328.1h4.3v3.4h-4.3zM377.2 328.1h4.3v3.4h-4.3zM387.5 89.6h4.3v3.4h-4.3zM387.5 189.4h4.3v3.4h-4.3zM387.5 322h4.3v3.4h-4.3zM387.5 353.2h4.3v3.4h-4.3zM393 89.6h4.3v3.4h-4.3zM393 189.4h4.3v3.4h-4.3zM393 322h4.3v3.4h-4.3zM393 353.2h4.3v3.4h-4.3z"/>
<path fill="#ffa347" d="M245.3 322h4.3v3.4h-4.3zM245.3 353.2h4.3v3.4h-4.3zM248 328.1h4.3v3.4h-4.3zM250.7 322h4.3v3.4h-4.3zM250.7 353.2h4.3v3.4h-4.3zM390.3 328.1h4.3v3.4h-4.3z"/>
<path fill="#ff8f1f" d="M286.4 328.1h4.3v3.4h-4.3zM291.6 328.1h4.3v3.4h-4.3zM315.4 328.1h4.3v3.4h-4.3zM320.8 328.1h4.3v3.4h-4.3zM387.5 328.1h4.3v3.4h-4.3zM393 328.1h4.3v3.4h-4.3z"/>
<path fill="#ff850a" d="M245.3 328.1h4.3v3.4h-4.3zM250.7 328.1h4.3v3.4h-4.3z"/>
<path fill="#ffd6ad" d="M265.1 139.7h2.4v2.1h-2.4zM335.3 139.7h2.4v2.1h-2.4zM361.2 139.7h2.4v2.1h-2.4zM498.5 174.8h2.4v2.1h-2.4zM525.8 291h2.4v2.1h-2.4zM555.3 291h2.4v2.1h-2.4zM579.5 291h2.4v2.1h-2.4zM350.9 139.7h2.4v2.1h-2.4zM378.2 139.7h2.4v2.1h-2.4zM498.5 421.7h2.4v2.1h-2.4zM498.5 241.8h2.4v2.1h-2.4zM498.5 110h2.4v2.1h-2.4zM278.7 139.7h2.4v2.1h-2.4zM290 139.7h2.4v2.1h-2.4zM307.8 139.7h2.4v2.1h-2.4zM319 139.7h2.4v2.1h-2.4zM391.2 139.7h2.4v2.1h-2.4zM231.6 174.8h2.4v2.1h-2.4zM488.2 174.8h2.4v2.1h-2.4zM525.8 302.8h2.4v2.1h-2.4zM555.3 302.8h2.4v2.1h-2.4zM579.5 302.8h2.4v2.1h-2.4zM249 139.7h2.4v2.1h-2.4zM498.5 291h2.4v2.1h-2.4zM231.6 421.7h2.4v2.1h-2.4zM231.6 241.8h2.4v2.1h-2.4zM231.6 110h2.4v2.1h-2.4zM488.2 421.7h2.4v2.1h-2.4zM488.2 241.8h2.4v2.1h-2.4zM488.2 110h2.4v2.1h-2.4z"/>
<path fill="#ffcc99" d="M416.3 174.8h2.4v2.1h-2.4zM431.5 174.8h2.4v2.1h-2.4zM444.9 174.8h2.4v2.1h-2.4zM455.6 174.8h2.4v2.1h-2.4zM467.6 174.8h2.4v2.1h-2.4zM477.9 174.8h2.4v2.1h-2.4zM525.8 381.3h2.4v2.1h-2.4zM525.8 299h2.4v2.1h-2.4zM555.3 381.3h2.4v2.1h-2.4zM555.3 299h2.4v2.1h-2.4zM579.5 381.3h2.4v2.1h-2.4zM579.5 299h2.4v2.1h-2.4zM287.4 139.7h2.4v2.1h-2.4zM292.6 139.7h2.4v2.1h-2.4zM316.4 139.7h2.4v2.1h-2.4zM321.7 139.7h2.4v2.1h-2.4zM416.3 421.7h2.4v2.1h-2.4zM416.3 241.8h2.4v2.1h-2.4zM416.3 110h2.4v2.1h-2.4zM431.5 421.7h2.4v2.1h-2.4zM431.5 241.8h2.4v2.1h-2.4zM431.5 110h2.4v2.1h-2.4zM444.9 421.7h2.4v2.1h-2.4zM444.9 241.8h2.4v2.1h-2.4zM444.9 110h2.4v2.1h-2.4zM455.6 421.7h2.4v2.1h-2.4zM455.6 241.8h2.4v2.1h-2.4zM455.6 110h2.4v2.1h-2.4zM467.6 421.7h2.4v2.1h-2.4zM467.6 241.8h2.4v2.1h-2.4zM467.6 110h2.4v2.1h-2.4zM477.9 421.7h2.4v2.1h-2.4zM477.9 241.8h2.4v2.1h-2.4zM477.9 110h2.4v2.1h-2.4zM525.8 408.7h2.4v2.1h-2.4zM525.8 268.5h2.4v2.1h-2.4zM555.3 408.7h2.4v2.1h-2.4zM555.3 268.5h2.4v2.1h-2.4zM579.5 408.7h2.4v2.1h-2.4zM579.5 268.5h2.4v2.1h-2.4zM265.1 174.8h2.4v2.1h-2.4zM335.3 174.8h2.4v2.1h-2.4zM361.2 174.8h2.4v2.1h-2.4zM388.5 139.7h2.4v2.1h-2.4zM394 139.7h2.4v2.1h-2.4zM246.2 139.7h2.4v2.1h-2.4zM251.7 139.7h2.4v2.1h-2.4zM265.1 421.7h2.4v2.1h-2.4zM265.1 241.8h2.4v2.1h-2.4zM265.1 110h2.4v2.1h-2.4zM335.3 421.7h2.4v2.1h-2.4zM335.3 241.8h2.4v2.1h-2.4zM335.3 110h2.4v2.1h-2.4zM361.2 421.7h2.4v2.1h-2.4zM361.2 241.8h2.4v2.1h-2.4zM361.2 110h2.4v2.1h-2.4zM525.8 406.4h2.4v2.1h-2.4zM525.8 185.4h2.4v2.1h-2.4zM525.8 161.8h2.4v2.1h-2.4zM555.3 406.4h2.4v2.1h-2.4zM555.3 185.4h2.4v2.1h-2.4zM555.3 161.8h2.4v2.1h-2.4zM579.5 406.4h2.4v2.1h-2.4zM579.5 185.4h2.4v2.1h-2.4zM579.5 161.8h2.4v2.1h-2.4zM350.9 174.8h2.4v2.1h-2.4zM378.2 174.8h2.4v2.1h-2.4zM231.6 291h2.4v2.1h-2.4zM488.2 291h2.4v2.1h-2.4zM498.5 302.8h2.4v2.1h-2.4z"/>
<path fill="#ffc285" d="M278.7 174.8h2.4v2.1h-2.4zM290 174.8h2.4v2.1h-2.4zM307.8 174.8h2.4v2.1h-2.4zM319 174.8h2.4v2.1h-2.4zM350.9 421.7h2.4v2.1h-2.4zM350.9 241.8h2.4v2.1h-2.4zM350.9 110h2.4v2.1h-2.4zM378.2 421.7h2.4v2.1h-2.4zM378.2 241.8h2.4v2.1h-2.4zM378.2 110h2.4v2.1h-2.4zM525.8 80.3h2.4v2.1h-2.4zM555.3 80.3h2.4v2.1h-2.4zM579.5 80.3h2.4v2.1h-2.4zM498.5 381.3h2.4v2.1h-2.4zM498.5 299h2.4v2.1h-2.4zM416.3 291h2.4v2.1h-2.4zM431.5 291h2.4v2.1h-2.4zM444.9 291h2.4v2.1h-2.4zM455.6 291h2.4v2.1h-2.4zM467.6 291h2.4v2.1h-2.4zM477.9 291h2.4v2.1h-2.4zM391.2 174.8h2.4v2.1h-2.4zM278.7 421.7h2.4v2.1h-2.4zM278.7 241.8h2.4v2.1h-2.4zM278.7 110h2.4v2.1h-2.4zM290 421.7h2.4v2.1h-2.4zM290 241.8h2.4v2.1h-2.4zM290 110h2.4v2.1h-2.4zM307.8 421.7h2.4v2.1h-2.4zM307.8 241.8h2.4v2.1h-2.4zM307.8 110h2.4v2.1h-2.4zM319 421.7h2.4v2.1h-2.4zM319 241.8h2.4v2.1h-2.4zM319 110h2.4v2.1h-2.4zM498.5 408.7h2.4v2.1h-2.4zM498.5 268.5h2.4v2.1h-2.4zM525.8 90.2h2.4v2.1h-2.4zM555.3 90.2h2.4v2.1h-2.4zM579.5 90.2h2.4v2.1h-2.4zM249 174.8h2.4v2.1h-2.4zM265.1 291h2.4v2.1h-2.4zM335.3 291h2.4v2.1h-2.4zM361.2 291h2.4v2.1h-2.4zM391.2 421.7h2.4v2.1h-2.4zM391.2 241.8h2.4v2.1h-2.4zM391.2 110h2.4v2.1h-2.4zM525.8 190h2.4v2.1h-2.4zM555.3 190h2.4v2.1h-2.4zM579.5 190h2.4v2.1h-2.4z"/>
<path fill="#ffb870" d="M525.8 353.8h2.4v2.1h-2.4zM525.8 322.6h2.4v2.1h-2.4zM555.3 353.8h2.4v2.1h-2.4zM555.3 322.6h2.4v2.1h-2.4zM579.5 353.8h2.4v2.1h-2.4zM579.5 322.6h2.4v2.1h-2.4zM498.5 406.4h2.4v2.1h-2.4zM498.5 185.4h2.4v2.1h-2.4zM498.5 161.8h2.4v2.1h-2.4zM231.6 302.8h2.4v2.1h-2.4zM488.2 302.8h2.4v2.1h-2.4zM249 421.7h2.4v2.1h-2.4zM249 241.8h2.4v2.1h-2.4zM249 110h2.4v2.1h-2.4zM350.9 291h2.4v2.1h-2.4zM378.2 291h2.4v2.1h-2.4zM287.4 174.8h2.4v2.1h-2.4zM292.6 174.8h2.4v2.1h-2.4zM316.4 174.8h2.4v2.1h-2.4zM321.7 174.8h2.4v2.1h-2.4zM498.5 80.3h2.4v2.1h-2.4zM231.6 381.3h2.4v2.1h-2.4zM231.6 299h2.4v2.1h-2.4zM278.7 291h2.4v2.1h-2.4zM290 291h2.4v2.1h-2.4zM307.8 291h2.4v2.1h-2.4zM319 291h2.4v2.1h-2.4zM488.2 381.3h2.4v2.1h-2.4zM488.2 299h2.4v2.1h-2.4zM388.5 174.8h2.4v2.1h-2.4zM394 174.8h2.4v2.1h-2.4zM416.3 302.8h2.4v2.1h-2.4zM431.5 302.8h2.4v2.1h-2.4zM444.9 302.8h2.4v2.1h-2.4zM455.6 302.8h2.4v2.1h-2.4zM467.6 302.8h2.4v2.1h-2.4zM477.9 302.8h2.4v2.1h-2.4zM287.4 421.7h2.4v2.1h-2.4zM287.4 241.8h2.4v2.1h-2.4zM287.4 110h2.4v2.1h-2.4zM292.6 421.7h2.4v2.1h-2.4zM292.6 241.8h2.4v2.1h-2.4zM292.6 110h2.4v2.1h-2.4zM316.4 421.7h2.4v2.1h-2.4zM316.4 241.8h2.4v2.1h-2.4zM316.4 110h2.4v2.1h-2.4zM321.7 421.7h2.4v2.1h-2.4zM321.7 241.8h2.4v2.1h-2.4zM321.7 110h2.4v2.1h-2.4z"/>
<path fill="#ffad5c" d="M231.6 408.7h2.4v2.1h-2.4zM231.6 268.5h2.4v2.1h-2.4zM246.2 174.8h2.4v2.1h-2.4zM251.7 174.8h2.4v2.1h-2.4zM488.2 408.7h2.4v2.1h-2.4zM488.2 268.5h2.4v2.1h-2.4zM391.2 291h2.4v2.1h-2.4zM498.5 90.2h2.4v2.1h-2.4zM388.5 421.7h2.4v2.1h-2.4zM388.5 241.8h2.4v2.1h-2.4zM388.5 110h2.4v2.1h-2.4zM394 421.7h2.4v2.1h-2.4zM394 241.8h2.4v2.1h-2.4zM394 110h2.4v2.1h-2.4zM416.3 381.3h2.4v2.1h-2.4zM416.3 299h2.4v2.1h-2.4zM431.5 381.3h2.4v2.1h-2.4zM431.5 299h2.4v2.1h-2.4zM444.9 381.3h2.4v2.1h-2.4zM444.9 299h2.4v2.1h-2.4zM455.6 381.3h2.4v2.1h-2.4zM455.6 299h2.4v2.1h-2.4zM467.6 381.3h2.4v2.1h-2.4zM467.6 299h2.4v2.1h-2.4zM477.9 381.3h2.4v2.1h-2.4zM477.9 299h2.4v2.1h-2.4zM265.1 302.8h2.4v2.1h-2.4zM335.3 302.8h2.4v2.1h-2.4zM361.2 302.8h2.4v2.1h-2.4zM498.5 190h2.4v2.1h-2.4zM249 291h2.4v2.1h-2.4zM246.2 421.7h2.4v2.1h-2.4zM246.2 241.8h2.4v2.1h-2.4zM246.2 110h2.4v2.1h-2.4zM251.7 421.7h2.4v2.1h-2.4zM251.7 241.8h2.4v2.1h-2.4zM251.7 110h2.4v2.1h-2.4zM231.6 406.4h2.4v2.1h-2.4zM231.6 185.4h2.4v2.1h-2.4zM231.6 161.8h2.4v2.1h-2.4zM488.2 406.4h2.4v2.1h-2.4zM488.2 185.4h2.4v2.1h-2.4zM488.2 161.8h2.4v2.1h-2.4zM416.3 408.7h2.4v2.1h-2.4zM416.3 268.5h2.4v2.1h-2.4zM431.5 408.7h2.4v2.1h-2.4zM431.5 268.5h2.4v2.1h-2.4zM444.9 408.7h2.4v2.1h-2.4zM444.9 268.5h2.4v2.1h-2.4zM455.6 408.7h2.4v2.1h-2.4zM455.6 268.5h2.4v2.1h-2.4zM467.6 408.7h2.4v2.1h-2.4zM467.6 268.5h2.4v2.1h-2.4zM477.9 408.7h2.4v2.1h-2.4zM477.9 268.5h2.4v2.1h-2.4zM498.5 353.8h2.4v2.1h-2.4zM498.5 322.6h2.4v2.1h-2.4z"/>
<path fill="#ffa347" d="M525.8 328.7h2.4v2.1h-2.4zM555.3 328.7h2.4v2.1h-2.4zM579.5 328.7h2.4v2.1h-2.4zM350.9 302.8h2.4v2.1h-2.4zM378.2 302.8h2.4v2.1h-2.4zM265.1 381.3h2.4v2.1h-2.4zM265.1 299h2.4v2.1h-2.4zM335.3 381.3h2.4v2.1h-2.4zM335.3 299h2.4v2.1h-2.4zM361.2 381.3h2.4v2.1h-2.4zM361.2 299h2.4v2.1h-2.4zM231.6 80.3h2.4v2.1h-2.4zM488.2 80.3h2.4v2.1h-2.4zM287.4 291h2.4v2.1h-2.4zM292.6 291h2.4v2.1h-2.4zM316.4 291h2.4v2.1h-2.4zM321.7 291h2.4v2.1h-2.4zM265.1 408.7h2.4v2.1h-2.4zM265.1 268.5h2.4v2.1h-2.4zM335.3 408.7h2.4v2.1h-2.4zM335.3 268.5h2.4v2.1h-2.4zM361.2 408.7h2.4v2.1h-2.4zM361.2 268.5h2.4v2.1h-2.4zM416.3 406.4h2.4v2.1h-2.4zM416.3 185.4h2.4v2.1h-2.4zM416.3 161.8h2.4v2.1h-2.4zM431.5 406.4h2.4v2.1h-2.4zM431.5 185.4h2.4v2.1h-2.4zM431.5 161.8h2.4v2.1h-2.4zM444.9 406.4h2.4v2.1h-2.4zM444.9 185.4h2.4v2.1h-2.4zM444.9 161.8h2.4v2.1h-2.4zM455.6 406.4h2.4v2.1h-2.4zM455.6 185.4h2.4v2.1h-2.4zM455.6 161.8h2.4v2.1h-2.4zM467.6 406.4h2.4v2.1h-2.4zM467.6 185.4h2.4v2.1h-2.4zM467.6 161.8h2.4v2.1h-2.4zM477.9 406.4h2.4v2.1h-2.4zM477.9 185.4h2.4v2.1h-2.4zM477.9 161.8h2.4v2.1h-2.4zM278.7 302.8h2.4v2.1h-2.4zM290 302.8h2.4v2.1h-2.4zM307.8 302.8h2.4v2.1h-2.4zM319 302.8h2.4v2.1h-2.4zM350.9 381.3h2.4v2.1h-2.4zM350.9 299h2.4v2.1h-2.4zM378.2 381.3h2.4v2.1h-2.4zM378.2 299h2.4v2.1h-2.4z"/>
<path fill="#ff9933" d="M388.5 291h2.4v2.1h-2.4zM394 291h2.4v2.1h-2.4zM391.2 302.8h2.4v2.1h-2.4zM350.9 408.7h2.4v2.1h-2.4zM350.9 268.5h2.4v2.1h-2.4zM378.2 408.7h2.4v2.1h-2.4zM378.2 268.5h2.4v2.1h-2.4zM416.3 80.3h2.4v2.1h-2.4zM431.5 80.3h2.4v2.1h-2.4zM444.9 80.3h2.4v2.1h-2.4zM455.6 80.3h2.4v2.1h-2.4zM467.6 80.3h2.4v2.1h-2.4zM477.9 80.3h2.4v2.1h-2.4zM231.6 90.2h2.4v2.1h-2.4zM488.2 90.2h2.4v2.1h-2.4zM265.1 406.4h2.4v2.1h-2.4zM265.1 185.4h2.4v2.1h-2.4zM265.1 161.8h2.4v2.1h-2.4zM335.3 406.4h2.4v2.1h-2.4zM335.3 185.4h2.4v2.1h-2.4zM335.3 161.8h2.4v2.1h-2.4zM361.2 406.4h2.4v2.1h-2.4zM361.2 185.4h2.4v2.1h-2.4zM361.2 161.8h2.4v2.1h-2.4zM278.7 381.3h2.4v2.1h-2.4zM278.7 299h2.4v2.1h-2.4zM290 381.3h2.4v2.1h-2.4zM290 299h2.4v2.1h-2.4zM307.8 381.3h2.4v2.1h-2.4zM307.8 299h2.4v2.1h-2.4zM319 381.3h2.4v2.1h-2.4zM319 299h2.4v2.1h-2.4zM246.2 291h2.4v2.1h-2.4zM251.7 291h2.4v2.1h-2.4zM231.6 190h2.4v2.1h-2.4zM488.2 190h2.4v2.1h-2.4z"/>
<path fill="#ff8f1f" d="M249 302.8h2.4v2.1h-2.4zM278.7 408.7h2.4v2.1h-2.4zM278.7 268.5h2.4v2.1h-2.4zM290 408.7h2.4v2.1h-2.4zM290 268.5h2.4v2.1h-2.4zM307.8 408.7h2.4v2.1h-2.4zM307.8 268.5h2.4v2.1h-2.4zM319 408.7h2.4v2.1h-2.4zM319 268.5h2.4v2.1h-2.4zM231.6 353.8h2.4v2.1h-2.4zM231.6 322.6h2.4v2.1h-2.4zM488.2 353.8h2.4v2.1h-2.4zM488.2 322.6h2.4v2.1h-2.4zM391.2 381.3h2.4v2.1h-2.4zM391.2 299h2.4v2.1h-2.4zM265.1 80.3h2.4v2.1h-2.4zM335.3 80.3h2.4v2.1h-2.4zM350.9 406.4h2.4v2.1h-2.4zM350.9 185.4h2.4v2.1h-2.4zM350.9 161.8h2.4v2.1h-2.4zM361.2 80.3h2.4v2.1h-2.4zM378.2 406.4h2.4v2.1h-2.4zM378.2 185.4h2.4v2.1h-2.4zM378.2 161.8h2.4v2.1h-2.4zM416.3 90.2h2.4v2.1h-2.4zM431.5 90.2h2.4v2.1h-2.4zM444.9 90.2h2.4v2.1h-2.4zM455.6 90.2h2.4v2.1h-2.4zM467.6 90.2h2.4v2.1h-2.4zM477.9 90.2h2.4v2.1h-2.4zM498.5 328.7h2.4v2.1h-2.4zM391.2 408.7h2.4v2.1h-2.4zM391.2 268.5h2.4v2.1h-2.4zM416.3 190h2.4v2.1h-2.4zM431.5 190h2.4v2.1h-2.4zM444.9 190h2.4v2.1h-2.4zM455.6 190h2.4v2.1h-2.4zM467.6 190h2.4v2.1h-2.4zM477.9 190h2.4v2.1h-2.4zM249 381.3h2.4v2.1h-2.4zM249 299h2.4v2.1h-2.4z"/>
<path fill="#ff850a" d="M278.7 406.4h2.4v2.1h-2.4zM278.7 185.4h2.4v2.1h-2.4zM278.7 161.8h2.4v2.1h-2.4zM290 406.4h2.4v2.1h-2.4zM290 185.4h2.4v2.1h-2.4zM290 161.8h2.4v2.1h-2.4zM307.8 406.4h2.4v2.1h-2.4zM307.8 185.4h2.4v2.1h-2.4zM307.8 161.8h2.4v2.1h-2.4zM319 406.4h2.4v2.1h-2.4zM319 185.4h2.4v2.1h-2.4zM319 161.8h2.4v2.1h-2.4zM350.9 80.3h2.4v2.1h-2.4zM378.2 80.3h2.4v2.1h-2.4zM287.4 302.8h2.4v2.1h-2.4zM292.6 302.8h2.4v2.1h-2.4zM316.4 302.8h2.4v2.1h-2.4zM321.7 302.8h2.4v2.1h-2.4zM416.3 353.8h2.4v2.1h-2.4zM416.3 322.6h2.4v2.1h-2.4zM431.5 353.8h2.4v2.1h-2.4zM431.5 322.6h2.4v2.1h-2.4zM444.9 353.8h2.4v2.1h-2.4zM444.9 322.6h2.4v2.1h-2.4zM455.6 353.8h2.4v2.1h-2.4zM455.6 322.6h2.4v2.1h-2.4zM467.6 353.8h2.4v2.1h-2.4zM467.6 322.6h2.4v2.1h-2.4zM477.9 353.8h2.4v2.1h-2.4zM477.9 322.6h2.4v2.1h-2.4zM265.1 90.2h2.4v2.1h-2.4zM335.3 90.2h2.4v2.1h-2.4zM361.2 90.2h2.4v2.1h-2.4zM249 408.7h2.4v2.1h-2.4zM249 268.5h2.4v2.1h-2.4zM388.5 302.8h2.4v2.1h-2.4zM394 302.8h2.4v2.1h-2.4z"/>
<path fill="#ff7a00" d="M265.1 190h2.4v2.1h-2.4zM335.3 190h2.4v2.1h-2.4zM361.2 190h2.4v2.1h-2.4zM391.2 406.4h2.4v2.1h-2.4zM391.2 185.4h2.4v2.1h-2.4zM391.2 161.8h2.4v2.1h-2.4zM278.7 80.3h2.4v2.1h-2.4zM290 80.3h2.4v2.1h-2.4zM307.8 80.3h2.4v2.1h-2.4zM319 80.3h2.4v2.1h-2.4zM287.4 381.3h2.4v2.1h-2.4zM287.4 299h2.4v2.1h-2.4zM292.6 381.3h2.4v2.1h-2.4zM292.6 299h2.4v2.1h-2.4zM316.4 381.3h2.4v2.1h-2.4zM316.4 299h2.4v2.1h-2.4zM321.7 381.3h2.4v2.1h-2.4zM321.7 299h2.4v2.1h-2.4zM265.1 353.8h2.4v2.1h-2.4zM265.1 322.6h2.4v2.1h-2.4zM335.3 353.8h2.4v2.1h-2.4zM335.3 322.6h2.4v2.1h-2.4zM361.2 353.8h2.4v2.1h-2.4zM361.2 322.6h2.4v2.1h-2.4zM350.9 90.2h2.4v2.1h-2.4zM378.2 90.2h2.4v2.1h-2.4zM246.2 302.8h2.4v2.1h-2.4zM251.7 302.8h2.4v2.1h-2.4zM249 406.4h2.4v2.1h-2.4zM249 185.4h2.4v2.1h-2.4zM249 161.8h2.4v2.1h-2.4z"/>
<path fill="#ff7000" d="M388.5 381.3h2.4v2.1h-2.4zM388.5 299h2.4v2.1h-2.4zM394 381.3h2.4v2.1h-2.4zM394 299h2.4v2.1h-2.4zM350.9 190h2.4v2.1h-2.4zM378.2 190h2.4v2.1h-2.4zM391.2 80.3h2.4v2.1h-2.4zM287.4 408.7h2.4v2.1h-2.4zM287.4 268.5h2.4v2.1h-2.4zM292.6 408.7h2.4v2.1h-2.4zM292.6 268.5h2.4v2.1h-2.4zM316.4 408.7h2.4v2.1h-2.4zM316.4 268.5h2.4v2.1h-2.4zM321.7 408.7h2.4v2.1h-2.4zM321.7 268.5h2.4v2.1h-2.4zM278.7 90.2h2.4v2.1h-2.4zM290 90.2h2.4v2.1h-2.4zM307.8 90.2h2.4v2.1h-2.4zM319 90.2h2.4v2.1h-2.4zM350.9 353.8h2.4v2.1h-2.4zM350.9 322.6h2.4v2.1h-2.4zM378.2 353.8h2.4v2.1h-2.4zM378.2 322.6h2.4v2.1h-2.4zM246.2 381.3h2.4v2.1h-2.4zM246.2 299h2.4v2.1h-2.4zM251.7 381.3h2.4v2.1h-2.4zM251.7 299h2.4v2.1h-2.4zM231.6 328.7h2.4v2.1h-2.4zM488.2 328.7h2.4v2.1h-2.4z"/>
<path fill="#ff6600" d="M388.5 408.7h2.4v2.1h-2.4zM388.5 268.5h2.4v2.1h-2.4zM394 408.7h2.4v2.1h-2.4zM394 268.5h2.4v2.1h-2.4zM249 80.3h2.4v2.1h-2.4zM278.7 190h2.4v2.1h-2.4zM290 190h2.4v2.1h-2.4zM307.8 190h2.4v2.1h-2.4zM319 190h2.4v2.1h-2.4zM287.4 406.4h2.4v2.1h-2.4zM287.4 185.4h2.4v2.1h-2.4zM287.4 161.8h2.4v2.1h-2.4zM292.6 406.4h2.4v2.1h-2.4zM292.6 185.4h2.4v2.1h-2.4zM292.6 161.8h2.4v2.1h-2.4zM316.4 406.4h2.4v2.1h-2.4zM316.4 185.4h2.4v2.1h-2.4zM316.4 161.8h2.4v2.1h-2.4zM321.7 406.4h2.4v2.1h-2.4zM321.7 185.4h2.4v2.1h-2.4zM321.7 161.8h2.4v2.1h-2.4zM391.2 90.2h2.4v2.1h-2.4zM246.2 408.7h2.4v2.1h-2.4zM246.2 268.5h2.4v2.1h-2.4zM251.7 408.7h2.4v2.1h-2.4zM251.7 268.5h2.4v2.1h-2.4zM278.7 353.8h2.4v2.1h-2.4zM278.7 322.6h2.4v2.1h-2.4zM290 353.8h2.4v2.1h-2.4zM290 322.6h2.4v2.1h-2.4zM307.8 353.8h2.4v2.1h-2.4zM307.8 322.6h2.4v2.1h-2.4zM319 353.8h2.4v2.1h-2.4zM319 322.6h2.4v2.1h-2.4z"/>
<path fill="#ff5c00" d="M391.2 190h2.4v2.1h-2.4zM388.5 406.4h2.4v2.1h-2.4zM388.5 185.4h2.4v2.1h-2.4zM388.5 161.8h2.4v2.1h-2.4zM394 406.4h2.4v2.1h-2.4zM394 185.4h2.4v2.1h-2.4zM394 161.8h2.4v2.1h-2.4zM416.3 328.7h2.4v2.1h-2.4zM431.5 328.7h2.4v2.1h-2.4zM444.9 328.7h2.4v2.1h-2.4zM455.6 328.7h2.4v2.1h-2.4zM467.6 328.7h2.4v2.1h-2.4zM477.9 328.7h2.4v2.1h-2.4zM249 90.2h2.4v2.1h-2.4zM287.4 80.3h2.4v2.1h-2.4zM292.6 80.3h2.4v2.1h-2.4zM316.4 80.3h2.4v2.1h-2.4zM321.7 80.3h2.4v2.1h-2.4z"/>
<path fill="#fc5200" d="M391.2 353.8h2.4v2.1h-2.4zM391.2 322.6h2.4v2.1h-2.4zM246.2 406.4h2.4v2.1h-2.4zM246.2 185.4h2.4v2.1h-2.4zM246.2 161.8h2.4v2.1h-2.4zM251.7 406.4h2.4v2.1h-2.4zM251.7 185.4h2.4v2.1h-2.4zM251.7 161.8h2.4v2.1h-2.4zM249 190h2.4v2.1h-2.4zM388.5 80.3h2.4v2.1h-2.4zM394 80.3h2.4v2.1h-2.4z"/>
<path fill="#f54700" d="M265.1 328.7h2.4v2.1h-2.4zM335.3 328.7h2.4v2.1h-2.4zM361.2 328.7h2.4v2.1h-2.4zM249 353.8h2.4v2.1h-2.4zM249 322.6h2.4v2.1h-2.4zM246.2 80.3h2.4v2.1h-2.4zM251.7 80.3h2.4v2.1h-2.4zM287.4 90.2h2.4v2.1h-2.4zM292.6 90.2h2.4v2.1h-2.4zM316.4 90.2h2.4v2.1h-2.4zM321.7 90.2h2.4v2.1h-2.4z"/>
<path fill="#ed3d00" d="M287.4 190h2.4v2.1h-2.4zM292.6 190h2.4v2.1h-2.4zM316.4 190h2.4v2.1h-2.4zM321.7 190h2.4v2.1h-2.4zM350.9 328.7h2.4v2.1h-2.4zM378.2 328.7h2.4v2.1h-2.4zM388.5 90.2h2.4v2.1h-2.4zM394 90.2h2.4v2.1h-2.4z"/>
<path fill="#e53300" d="M287.4 353.8h2.4v2.1h-2.4zM287.4 322.6h2.4v2.1h-2.4zM292.6 353.8h2.4v2.1h-2.4zM292.6 322.6h2.4v2.1h-2.4zM316.4 353.8h2.4v2.1h-2.4zM316.4 322.6h2.4v2.1h-2.4zM321.7 353.8h2.4v2.1h-2.4zM321.7 322.6h2.4v2.1h-2.4zM388.5 190h2.4v2.1h-2.4zM394 190h2.4v2.1h-2.4zM246.2 90.2h2.4v2.1h-2.4zM251.7 90.2h2.4v2.1h-2.4z"/>
<path fill="#de2900" d="M278.7 328.7h2.4v2.1h-2.4zM290 328.7h2.4v2.1h-2.4zM307.8 328.7h2.4v2.1h-2.4zM319 328.7h2.4v2.1h-2.4zM388.5 353.8h2.4v2.1h-2.4zM388.5 322.6h2.4v2.1h-2.4zM394 353.8h2.4v2.1h-2.4zM394 322.6h2.4v2.1h-2.4zM246.2 190h2.4v2.1h-2.4zM251.7 190h2.4v2.1h-2.4z"/>
<path fill="#d61f00" d="M246.2 353.8h2.4v2.1h-2.4zM246.2 322.6h2.4v2.1h-2.4zM251.7 353.8h2.4v2.1h-2.4zM251.7 322.6h2.4v2.1h-2.4zM391.2 328.7h2.4v2.1h-2.4z"/>
<path fill="#c70a00" d="M249 328.7h2.4v2.1h-2.4z"/>
<path fill="#b00000" d="M287.4 328.7h2.4v2.1h-2.4zM292.6 328.7h2.4v2.1h-2.4zM316.4 328.7h2.4v2.1h-2.4zM321.7 328.7h2.4v2.1h-2.4z"/>
<path fill="#a10000" d="M388.5 328.7h2.4v2.1h-2.4zM394 328.7h2.4v2.1h-2.4z"/>
<path fill="#910000" d="M246.2 328.7h2.4v2.1h-2.4zM251.7 328.7h2.4v2.1h-2.4z"/>
<line x1="81.4" y1="92" x2="104.8" y2="92" stroke="#ff0000" stroke-width="1.9"/>
<line x1="81.4" y1="142.3" x2="104.8" y2="142.3" stroke="#ff0000" stroke-width="1.9"/>
<line x1="81.4" y1="163.6" x2="104.8" y2="163.6" stroke="#ff0000" stroke-width="1.9"/>
<line x1="81.4" y1="270.3" x2="104.8" y2="270.3" stroke="#ff0000" stroke-width="1.9"/>
<line x1="81.4" y1="329.7" x2="104.8" y2="329.7" stroke="#ff0000" stroke-width="1.9"/>
<line x1="81.4" y1="330.9" x2="104.8" y2="330.9" stroke="#ff0000" stroke-width="1.9"/>
<line x1="81.4" y1="332" x2="104.8" y2="332" stroke="#ff0000" stroke-width="1.9"/>
<line x1="81.4" y1="344.2" x2="104.8" y2="344.2" stroke="#ff0000" stroke-width="1.9"/>
<line x1="81.4" y1="381.6" x2="104.8" y2="381.6" stroke="#ff0000" stroke-width="1.9"/>
<line x1="81.4" y1="383.1" x2="104.8" y2="383.1" stroke="#ff0000" stroke-width="1.9"/>
<line x1="81.4" y1="406.7" x2="104.8" y2="406.7" stroke="#ff0000" stroke-width="1.9"/>
<line x1="81.4" y1="421.9" x2="104.8" y2="421.9" stroke="#ff0000" stroke-width="1.9"/>
<line x1="81.4" y1="423.5" x2="104.8" y2="423.5" stroke="#ff0000" stroke-width="1.9"/>
<line x1="81.4" y1="106.5" x2="104.8" y2="106.5" stroke="#0000ff" stroke-width="1.9"/>
<line x1="81.4" y1="140" x2="104.8" y2="140" stroke="#0000ff" stroke-width="1.9"/>
<line x1="81.4" y1="140.8" x2="104.8" y2="140.8" stroke="#0000ff" stroke-width="1.9"/>
<line x1="81.4" y1="141.5" x2="104.8" y2="141.5" stroke="#0000ff" stroke-width="1.9"/>
<line x1="81.4" y1="157.5" x2="104.8" y2="157.5" stroke="#0000ff" stroke-width="1.9"/>
<line x1="81.4" y1="213.2" x2="104.8" y2="213.2" stroke="#0000ff" stroke-width="1.9"/>
<line x1="81.4" y1="284.8" x2="104.8" y2="284.8" stroke="#0000ff" stroke-width="1.9"/>
<line x1="81.4" y1="297" x2="104.8" y2="297" stroke="#0000ff" stroke-width="1.9"/>
<line x1="81.4" y1="333.6" x2="104.8" y2="333.6" stroke="#0000ff" stroke-width="1.9"/>
<line x1="81.4" y1="344" x2="104.8" y2="344" stroke="#0000ff" stroke-width="1.9"/>
<line x1="81.4" y1="364.8" x2="104.8" y2="364.8" stroke="#0000ff" stroke-width="1.9"/>
<line x1="81.4" y1="365.6" x2="104.8" y2="365.6" stroke="#0000ff" stroke-width="1.9"/>
<line x1="81.4" y1="366.3" x2="104.8" y2="366.3" stroke="#0000ff" stroke-width="1.9"/>
<line x1="81.4" y1="367.1" x2="104.8" y2="367.1" stroke="#0000ff" stroke-width="1.9"/>
<line x1="81.4" y1="378.9" x2="104.8" y2="378.9" stroke="#0000ff" stroke-width="1.9"/>
<line x1="81.4" y1="380.8" x2="104.8" y2="380.8" stroke="#0000ff" stroke-width="1.9"/>
<line x1="81.4" y1="394.5" x2="104.8" y2="394.5" stroke="#0000ff" stroke-width="1.9"/>
<line x1="81.4" y1="427.3" x2="104.8" y2="427.3" stroke="#0000ff" stroke-width="1.9"/>
<line x1="81.4" y1="429.1" x2="104.8" y2="429.1" stroke="#0000ff" stroke-width="1.9"/>
<line x1="81.4" y1="431.9" x2="104.8" y2="431.9" stroke="#0000ff" stroke-width="1.9"/>
<line x1="81.4" y1="433.4" x2="104.8" y2="433.4" stroke="#0000ff" stroke-width="1.9"/>
<line x1="104.5" y1="82.9" x2="128" y2="82.9" stroke="#228b22" stroke-width="1.9"/>
<line x1="104.5" y1="112.6" x2="128" y2="112.6" stroke="#228b22" stroke-width="1.9"/>
<line x1="104.5" y1="176.6" x2="128" y2="176.6" stroke="#228b22" stroke-width="1.9"/>
<line x1="104.5" y1="187.2" x2="128" y2="187.2" stroke="#228b22" stroke-width="1.9"/>
<line x1="104.5" y1="191.1" x2="128" y2="191.1" stroke="#228b22" stroke-width="1.9"/>
<line x1="104.5" y1="192.2" x2="128" y2="192.2" stroke="#228b22" stroke-width="1.9"/>
<line x1="104.5" y1="244.4" x2="128" y2="244.4" stroke="#228b22" stroke-width="1.9"/>
<line x1="104.5" y1="292.4" x2="128" y2="292.4" stroke="#228b22" stroke-width="1.9"/>
<line x1="104.5" y1="300" x2="128" y2="300" stroke="#228b22" stroke-width="1.9"/>
<line x1="104.5" y1="304.6" x2="128" y2="304.6" stroke="#228b22" stroke-width="1.9"/>
<line x1="104.5" y1="324.4" x2="128" y2="324.4" stroke="#228b22" stroke-width="1.9"/>
<line x1="104.5" y1="354.9" x2="128" y2="354.9" stroke="#228b22" stroke-width="1.9"/>
<line x1="104.5" y1="409.8" x2="128" y2="409.8" stroke="#228b22" stroke-width="1.9"/>
<rect x="128" y="49.1" width="23.7" height="6.1" fill="#000"/>
<rect x="128" y="59.7" width="23.7" height="21.9" fill="#000"/>
<line x1="128" y1="68.8" x2="151.7" y2="68.8" stroke="#fff" stroke-width="0.8"/>
<line x1="128" y1="79.8" x2="151.7" y2="79.8" stroke="#fff" stroke-width="0.8"/>
<rect x="128" y="82.4" width="23.7" height="3.2" fill="#000"/>
<rect x="128" y="85.1" width="23.7" height="11.3" fill="#000"/>
<line x1="128" y1="90.7" x2="151.7" y2="90.7" stroke="#fff" stroke-width="0.8"/>
<rect x="128" y="96.7" width="23.7" height="9.6" fill="#000"/>
<line x1="128" y1="99.1" x2="151.7" y2="99.1" stroke="#fff" stroke-width="0.8"/>
<line x1="128" y1="103.9" x2="151.7" y2="103.9" stroke="#fff" stroke-width="0.8"/>
<rect x="128" y="107.1" width="23.7" height="3.8" fill="#000"/>
<rect x="128" y="114.4" width="23.7" height="9.9" fill="#000"/>
<rect x="128" y="125.1" width="23.7" height="8.5" fill="#000"/>
<rect x="128" y="143.4" width="23.7" height="4.9" fill="#000"/>
<rect x="128" y="153.1" width="23.7" height="5.2" fill="#000"/>
<rect x="128" y="158.8" width="23.7" height="8.1" fill="#000"/>
<line x1="128" y1="164.9" x2="151.7" y2="164.9" stroke="#fff" stroke-width="0.8"/>
<rect x="128" y="176.4" width="23.7" height="5.5" fill="#000"/>
<rect x="128" y="187.7" width="23.7" height="3.2" fill="#000"/>
<rect x="128" y="194.8" width="23.7" height="10.8" fill="#000"/>
<rect x="128" y="207.1" width="23.7" height="3.8" fill="#000"/>
<rect x="128" y="217.1" width="23.7" height="5.2" fill="#000"/>
<rect x="128" y="222.5" width="23.7" height="22.4" fill="#000"/>
<line x1="128" y1="243" x2="151.7" y2="243" stroke="#fff" stroke-width="0.8"/>
<rect x="128" y="247.7" width="23.7" height="18.9" fill="#000"/>
<line x1="128" y1="249.6" x2="151.7" y2="249.6" stroke="#fff" stroke-width="0.8"/>
<rect x="128" y="271.4" width="23.7" height="10.8" fill="#000"/>
<rect x="128" y="285.8" width="23.7" height="9.5" fill="#000"/>
<rect x="128" y="296.4" width="23.7" height="3" fill="#000"/>
<rect x="128" y="300.1" width="23.7" height="3.8" fill="#000"/>
<rect x="128" y="304.8" width="23.7" height="11.1" fill="#000"/>
<rect x="128" y="316.7" width="23.7" height="8.2" fill="#000"/>
<rect x="128" y="326.7" width="23.7" height="2.9" fill="#000"/>
<rect x="128" y="345.4" width="23.7" height="3.9" fill="#000"/>
<rect x="128" y="351.4" width="23.7" height="3.2" fill="#000"/>
<rect x="128" y="355.8" width="23.7" height="11.2" fill="#000"/>
<rect x="128" y="371.4" width="23.7" height="2.8" fill="#000"/>
<rect x="128" y="378.7" width="23.7" height="14.9" fill="#000"/>
<line x1="128" y1="388" x2="151.7" y2="388" stroke="#fff" stroke-width="0.8"/>
<rect x="128" y="406.1" width="23.7" height="5.8" fill="#000"/>
<rect x="128" y="419.4" width="23.7" height="12.5" fill="#000"/>
<line x1="153.4" y1="92" x2="217.3" y2="92" stroke="#333" stroke-width="0.9" stroke-dasharray="2,1.6"/>
<line x1="153.4" y1="142.3" x2="217.3" y2="142.3" stroke="#333" stroke-width="0.9" stroke-dasharray="2,1.6"/>
<line x1="153.4" y1="163.6" x2="217.3" y2="163.6" stroke="#333" stroke-width="0.9" stroke-dasharray="2,1.6"/>
<line x1="153.4" y1="270.3" x2="217.3" y2="270.3" stroke="#333" stroke-width="0.9" stroke-dasharray="2,1.6"/>
<line x1="153.4" y1="329.7" x2="217.3" y2="329.7" stroke="#333" stroke-width="0.9" stroke-dasharray="2,1.6"/>
<line x1="153.4" y1="332" x2="217.3" y2="332" stroke="#333" stroke-width="0.9" stroke-dasharray="2,1.6"/>
<line x1="153.4" y1="344.2" x2="217.3" y2="344.2" stroke="#333" stroke-width="0.9" stroke-dasharray="2,1.6"/>
<line x1="153.4" y1="381.6" x2="217.3" y2="381.6" stroke="#333" stroke-width="0.9" stroke-dasharray="2,1.6"/>
<line x1="153.4" y1="383.1" x2="217.3" y2="383.1" stroke="#333" stroke-width="0.9" stroke-dasharray="2,1.6"/>
<line x1="153.4" y1="406.7" x2="217.3" y2="406.7" stroke="#333" stroke-width="0.9" stroke-dasharray="2,1.6"/>
<line x1="153.4" y1="421.9" x2="217.3" y2="421.9" stroke="#333" stroke-width="0.9" stroke-dasharray="2,1.6"/>
<line x1="153.4" y1="423.5" x2="217.3" y2="423.5" stroke="#333" stroke-width="0.9" stroke-dasharray="2,1.6"/>
<line x1="233.3" y1="438" x2="233.3" y2="508.7" stroke="#333" stroke-width="0.9" stroke-dasharray="2,1.6"/>
<line x1="247.4" y1="438" x2="247.4" y2="508.7" stroke="#333" stroke-width="0.9" stroke-dasharray="2,1.6"/>
<line x1="252.9" y1="438" x2="252.9" y2="508.7" stroke="#333" stroke-width="0.9" stroke-dasharray="2,1.6"/>
<line x1="266.3" y1="438" x2="266.3" y2="508.7" stroke="#333" stroke-width="0.9" stroke-dasharray="2,1.6"/>
<line x1="279.9" y1="438" x2="279.9" y2="508.7" stroke="#333" stroke-width="0.9" stroke-dasharray="2,1.6"/>
<line x1="288.6" y1="438" x2="288.6" y2="508.7" stroke="#333" stroke-width="0.9" stroke-dasharray="2,1.6"/>
<line x1="293.8" y1="438" x2="293.8" y2="508.7" stroke="#333" stroke-width="0.9" stroke-dasharray="2,1.6"/>
<line x1="309" y1="438" x2="309" y2="508.7" stroke="#333" stroke-width="0.9" stroke-dasharray="2,1.6"/>
<line x1="317.6" y1="438" x2="317.6" y2="508.7" stroke="#333" stroke-width="0.9" stroke-dasharray="2,1.6"/>
<line x1="322.9" y1="438" x2="322.9" y2="508.7" stroke="#333" stroke-width="0.9" stroke-dasharray="2,1.6"/>
<line x1="336.5" y1="438" x2="336.5" y2="508.7" stroke="#333" stroke-width="0.9" stroke-dasharray="2,1.6"/>
<line x1="352.1" y1="438" x2="352.1" y2="508.7" stroke="#333" stroke-width="0.9" stroke-dasharray="2,1.6"/>
<line x1="362.4" y1="438" x2="362.4" y2="508.7" stroke="#333" stroke-width="0.9" stroke-dasharray="2,1.6"/>
<line x1="379.4" y1="438" x2="379.4" y2="508.7" stroke="#333" stroke-width="0.9" stroke-dasharray="2,1.6"/>
<line x1="389.7" y1="438" x2="389.7" y2="508.7" stroke="#333" stroke-width="0.9" stroke-dasharray="2,1.6"/>
<line x1="395.2" y1="438" x2="395.2" y2="508.7" stroke="#333" stroke-width="0.9" stroke-dasharray="2,1.6"/>
<line x1="417.5" y1="438" x2="417.5" y2="508.7" stroke="#333" stroke-width="0.9" stroke-dasharray="2,1.6"/>
<line x1="432.7" y1="438" x2="432.7" y2="508.7" stroke="#333" stroke-width="0.9" stroke-dasharray="2,1.6"/>
<line x1="446.1" y1="438" x2="446.1" y2="508.7" stroke="#333" stroke-width="0.9" stroke-dasharray="2,1.6"/>
<line x1="456.8" y1="438" x2="456.8" y2="508.7" stroke="#333" stroke-width="0.9" stroke-dasharray="2,1.6"/>
<line x1="468.8" y1="438" x2="468.8" y2="508.7" stroke="#333" stroke-width="0.9" stroke-dasharray="2,1.6"/>
<line x1="479.1" y1="438" x2="479.1" y2="508.7" stroke="#333" stroke-width="0.9" stroke-dasharray="2,1.6"/>
<line x1="489.4" y1="438" x2="489.4" y2="508.7" stroke="#333" stroke-width="0.9" stroke-dasharray="2,1.6"/>
<line x1="499.7" y1="438" x2="499.7" y2="508.7" stroke="#333" stroke-width="0.9" stroke-dasharray="2,1.6"/>
<line x1="527" y1="438" x2="527" y2="508.7" stroke="#333" stroke-width="0.9" stroke-dasharray="2,1.6"/>
<line x1="556.5" y1="438" x2="556.5" y2="508.7" stroke="#333" stroke-width="0.9" stroke-dasharray="2,1.6"/>
<line x1="580.7" y1="438" x2="580.7" y2="508.7" stroke="#333" stroke-width="0.9" stroke-dasharray="2,1.6"/>
<polygon points="153.4,49.6 167.3,49.7 164.7,51.7 161.3,55.7 162.7,59.7 162.7,65 162.7,71.7 164,75.7 168.7,79 176.7,81 190.7,82.7 176.7,84.3 168,86.3 172.7,89 194,91.7 180.7,93.7 168.7,96.3 166.7,98.3 164,102.3 161.3,106.3 164.7,109 170,112.3 163.3,114.3 163.3,119.7 162,125 164.7,127.7 166.7,131.7 162.7,134.3 160,138.3 162,142.3 164.7,145 163.3,149 164,151.7 166.7,155.7 164.7,158.3 176.7,161 187.3,163.4 174,165.7 165.3,169 167.3,173 176,176.3 172.7,178.3 166.7,181 168.7,183.7 182.7,187 174.7,189 203.3,191.7 179.3,193.7 166.7,195.7 164.7,199.7 162.7,205 160.7,211.7 162,218.3 160.7,225 160,231.7 160.7,237 170.7,244 162,246 160.7,248 160.7,253.3 162,260 164.7,264 167.3,267.3 174,268.7 180,270.4 170,272.7 164,275.3 166.7,278 164.7,280 162,284 165.3,286.7 170,290 178.7,292.3 170,294.7 165.3,296.7 174,299.3 180,300.7 173.3,302.7 187.3,304.9 174,306.7 171.3,308.7 170,311.3 170.7,314 168.7,316.7 176.7,319.3 190,322 218,324.3 192.7,326.4 203.3,328.7 218,330.7 187.3,332.7 169.3,334 167.3,336.7 166.7,340 164.7,343.3 170,345.3 168.7,348 171.3,350.7 176.7,352.7 206.7,354.9 174,357.3 170,360.7 162.7,364 160.7,368 162,372 160,376 159.3,379.3 170,381.3 180.7,383.3 184,388 176.7,390.7 162,394.7 163.3,400 166,402.7 175.3,405.3 182,407.3 184.7,410 176.7,412 163.3,414.7 163.3,418.7 167.3,422 172,425.3 163.3,428 158,430.7 155.3,433.3 154.7,434.7 153.4,434.6" fill="#000"/>
<polygon points="227.5,508.7 227,460.8 231.5,483.1 233.9,472.9 237.6,471.9 242.3,464.5 244.1,463.6 247.8,444.1 252.5,440.4 255.2,446 258.9,458 262.7,459.9 266.4,455.2 270.1,465.4 273.8,464.5 276.6,462.7 279.9,451.5 284,462.7 288.6,451.5 290.5,454.3 293.8,453.4 297.9,470.1 302.5,487.7 309,461.7 312.7,464.5 317.7,453.4 320.1,457.1 322.9,450.6 326.6,466.4 331.3,475.6 336.5,459.9 340.5,470.1 344.3,467.3 348,464.5 352.2,455.2 356.3,466.4 362.4,457.1 366.5,468.2 372.1,468.2 375.8,466.4 379.5,453.4 383.2,463.6 386.9,458.9 389.7,442.3 392.5,440.4 395.3,437.6 399,453.4 402.7,446.9 405.5,447.8 411,464.5 414.7,463.6 417.5,454.3 422.2,469.1 425.9,470.1 429.6,468.2 432.9,456.2 437,467.3 442.6,466.4 446.3,459.9 450.9,469.1 456.8,459.9 461.1,473.8 464.8,474.7 468.9,466.4 473.2,476.6 479.1,468.2 483.4,473.8 489.5,471.9 493.6,483.1 496.3,485.8 499.7,483.1 502.8,488.6 507.5,490.1 516.7,491.4 524.2,493.3 526.9,489.5 532.5,500.7 539,494.2 546.4,496 552,496 556.6,492.3 563.1,502.5 567.7,497.9 576.1,496 580.7,493.3 585.4,499.7 589.1,503.5 591.8,496 591.4,508.7" fill="#000"/>
<rect x="80.8" y="48.8" width="511.2" height="386.3" fill="none" stroke="#000" stroke-width="1.4"/>
<line x1="153.4" y1="48.8" x2="153.4" y2="435.1" stroke="#000" stroke-width="1.4"/>
<line x1="226.9" y1="48.8" x2="226.9" y2="589.1" stroke="#000" stroke-width="1.4"/>
<rect x="153.4" y="435.1" width="438.6" height="76.5" fill="none" stroke="#000" stroke-width="1.4"/>
<rect x="226.9" y="511.6" width="365.1" height="77.5" fill="none" stroke="#000" stroke-width="1.4"/>
<line x1="76.3" y1="434.9" x2="80.8" y2="434.9" stroke="#000" stroke-width="1.3"/>
<line x1="222.9" y1="434.9" x2="226.9" y2="434.9" stroke="#000" stroke-width="1.2"/>
<text x="72.3" y="443.1" font-family="Liberation Sans, Arial, sans-serif" font-size="23" text-anchor="end">0</text>
<line x1="76.3" y1="358.7" x2="80.8" y2="358.7" stroke="#000" stroke-width="1.3"/>
<line x1="222.9" y1="358.7" x2="226.9" y2="358.7" stroke="#000" stroke-width="1.2"/>
<text x="72.3" y="366.9" font-family="Liberation Sans, Arial, sans-serif" font-size="23" text-anchor="end">100</text>
<line x1="76.3" y1="282.5" x2="80.8" y2="282.5" stroke="#000" stroke-width="1.3"/>
<line x1="222.9" y1="282.5" x2="226.9" y2="282.5" stroke="#000" stroke-width="1.2"/>
<text x="72.3" y="290.7" font-family="Liberation Sans, Arial, sans-serif" font-size="23" text-anchor="end">200</text>
<line x1="76.3" y1="206.3" x2="80.8" y2="206.3" stroke="#000" stroke-width="1.3"/>
<line x1="222.9" y1="206.3" x2="226.9" y2="206.3" stroke="#000" stroke-width="1.2"/>
<text x="72.3" y="214.5" font-family="Liberation Sans, Arial, sans-serif" font-size="23" text-anchor="end">300</text>
<line x1="76.3" y1="130.1" x2="80.8" y2="130.1" stroke="#000" stroke-width="1.3"/>
<line x1="222.9" y1="130.1" x2="226.9" y2="130.1" stroke="#000" stroke-width="1.2"/>
<text x="72.3" y="138.3" font-family="Liberation Sans, Arial, sans-serif" font-size="23" text-anchor="end">400</text>
<line x1="76.3" y1="53.9" x2="80.8" y2="53.9" stroke="#000" stroke-width="1.3"/>
<line x1="222.9" y1="53.9" x2="226.9" y2="53.9" stroke="#000" stroke-width="1.2"/>
<text x="72.3" y="62.1" font-family="Liberation Sans, Arial, sans-serif" font-size="23" text-anchor="end">500</text>
<text x="26.8" y="242.1" font-family="Liberation Sans, Arial, sans-serif" font-size="22.5" text-anchor="middle" transform="rotate(-90 26.8 242.1) translate(26.8 242.1) scale(1 1.13) translate(-26.8 -242.1)" textLength="155.1" lengthAdjust="spacingAndGlyphs">SP1 residue ID</text>
<line x1="227" y1="435.1" x2="227" y2="438.6" stroke="#000" stroke-width="1.2"/>
<line x1="227" y1="589.1" x2="227" y2="593.6" stroke="#000" stroke-width="1.3"/>
<text x="227" y="613.9" font-family="Liberation Sans, Arial, sans-serif" font-size="23" text-anchor="middle">0</text>
<line x1="312.8" y1="435.1" x2="312.8" y2="438.6" stroke="#000" stroke-width="1.2"/>
<line x1="312.8" y1="589.1" x2="312.8" y2="593.6" stroke="#000" stroke-width="1.3"/>
<text x="312.8" y="613.9" font-family="Liberation Sans, Arial, sans-serif" font-size="23" text-anchor="middle">50</text>
<line x1="398.6" y1="435.1" x2="398.6" y2="438.6" stroke="#000" stroke-width="1.2"/>
<line x1="398.6" y1="589.1" x2="398.6" y2="593.6" stroke="#000" stroke-width="1.3"/>
<text x="398.6" y="613.9" font-family="Liberation Sans, Arial, sans-serif" font-size="23" text-anchor="middle">100</text>
<line x1="484.4" y1="435.1" x2="484.4" y2="438.6" stroke="#000" stroke-width="1.2"/>
<line x1="484.4" y1="589.1" x2="484.4" y2="593.6" stroke="#000" stroke-width="1.3"/>
<text x="484.4" y="613.9" font-family="Liberation Sans, Arial, sans-serif" font-size="23" text-anchor="middle">150</text>
<line x1="570.2" y1="435.1" x2="570.2" y2="438.6" stroke="#000" stroke-width="1.2"/>
<line x1="570.2" y1="589.1" x2="570.2" y2="593.6" stroke="#000" stroke-width="1.3"/>
<text x="570.2" y="613.9" font-family="Liberation Sans, Arial, sans-serif" font-size="23" text-anchor="middle">200</text>
<text x="410.1" y="640.9" font-family="Liberation Sans, Arial, sans-serif" font-size="22.5" text-anchor="middle" transform="translate(410.1 640.9) scale(1 1.13) translate(-410.1 -640.9)" textLength="156.3" lengthAdjust="spacingAndGlyphs">FUS residue ID</text>
<line x1="240.7" y1="514.6" x2="240.7" y2="539.6" stroke="#000" stroke-width="1.5"/>
<line x1="251" y1="514.6" x2="251" y2="539.6" stroke="#000" stroke-width="1.5"/>
<line x1="253.3" y1="514.6" x2="253.3" y2="539.6" stroke="#000" stroke-width="1.5"/>
<line x1="256.2" y1="514.6" x2="256.2" y2="539.6" stroke="#000" stroke-width="1.5"/>
<line x1="259.3" y1="514.6" x2="259.3" y2="539.6" stroke="#000" stroke-width="1.5"/>
<line x1="278.3" y1="514.6" x2="278.3" y2="539.6" stroke="#000" stroke-width="1.5"/>
<line x1="346.9" y1="514.6" x2="346.9" y2="539.6" stroke="#000" stroke-width="1.5"/>
<line x1="391.6" y1="514.6" x2="391.6" y2="539.6" stroke="#000" stroke-width="1.5"/>
<line x1="402.5" y1="514.6" x2="402.5" y2="539.6" stroke="#000" stroke-width="1.5"/>
<line x1="403.7" y1="514.6" x2="403.7" y2="539.6" stroke="#000" stroke-width="1.5"/>
<line x1="404.8" y1="514.6" x2="404.8" y2="539.6" stroke="#000" stroke-width="1.5"/>
<line x1="437.9" y1="514.6" x2="437.9" y2="539.6" stroke="#000" stroke-width="1.5"/>
<line x1="453.2" y1="514.6" x2="453.2" y2="539.6" stroke="#000" stroke-width="1.5"/>
<line x1="483.4" y1="514.6" x2="483.4" y2="539.6" stroke="#000" stroke-width="1.5"/>
<line x1="484.7" y1="514.6" x2="484.7" y2="539.6" stroke="#000" stroke-width="1.5"/>
<line x1="539" y1="514.6" x2="539" y2="539.6" stroke="#000" stroke-width="1.5"/>
<line x1="233.3" y1="540.2" x2="233.3" y2="564.7" stroke="#228b22" stroke-width="1.5"/>
<line x1="247.4" y1="540.2" x2="247.4" y2="564.7" stroke="#228b22" stroke-width="1.5"/>
<line x1="252.9" y1="540.2" x2="252.9" y2="564.7" stroke="#228b22" stroke-width="1.5"/>
<line x1="266.3" y1="540.2" x2="266.3" y2="564.7" stroke="#228b22" stroke-width="1.5"/>
<line x1="279.9" y1="540.2" x2="279.9" y2="564.7" stroke="#228b22" stroke-width="1.5"/>
<line x1="288.6" y1="540.2" x2="288.6" y2="564.7" stroke="#228b22" stroke-width="1.5"/>
<line x1="293.8" y1="540.2" x2="293.8" y2="564.7" stroke="#228b22" stroke-width="1.5"/>
<line x1="309" y1="540.2" x2="309" y2="564.7" stroke="#228b22" stroke-width="1.5"/>
<line x1="317.6" y1="540.2" x2="317.6" y2="564.7" stroke="#228b22" stroke-width="1.5"/>
<line x1="322.9" y1="540.2" x2="322.9" y2="564.7" stroke="#228b22" stroke-width="1.5"/>
<line x1="336.5" y1="540.2" x2="336.5" y2="564.7" stroke="#228b22" stroke-width="1.5"/>
<line x1="352.1" y1="540.2" x2="352.1" y2="564.7" stroke="#228b22" stroke-width="1.5"/>
<line x1="362.4" y1="540.2" x2="362.4" y2="564.7" stroke="#228b22" stroke-width="1.5"/>
<line x1="379.4" y1="540.2" x2="379.4" y2="564.7" stroke="#228b22" stroke-width="1.5"/>
<line x1="389.7" y1="540.2" x2="389.7" y2="564.7" stroke="#228b22" stroke-width="1.5"/>
<line x1="395.2" y1="540.2" x2="395.2" y2="564.7" stroke="#228b22" stroke-width="1.5"/>
<line x1="417.5" y1="540.2" x2="417.5" y2="564.7" stroke="#228b22" stroke-width="1.5"/>
<line x1="432.7" y1="540.2" x2="432.7" y2="564.7" stroke="#228b22" stroke-width="1.5"/>
<line x1="446.1" y1="540.2" x2="446.1" y2="564.7" stroke="#228b22" stroke-width="1.5"/>
<line x1="456.8" y1="540.2" x2="456.8" y2="564.7" stroke="#228b22" stroke-width="1.5"/>
<line x1="468.8" y1="540.2" x2="468.8" y2="564.7" stroke="#228b22" stroke-width="1.5"/>
<line x1="479.1" y1="540.2" x2="479.1" y2="564.7" stroke="#228b22" stroke-width="1.5"/>
<line x1="489.4" y1="540.2" x2="489.4" y2="564.7" stroke="#228b22" stroke-width="1.5"/>
<line x1="499.7" y1="540.2" x2="499.7" y2="564.7" stroke="#228b22" stroke-width="1.5"/>
<line x1="527" y1="540.2" x2="527" y2="564.7" stroke="#228b22" stroke-width="1.5"/>
<line x1="556.5" y1="540.2" x2="556.5" y2="564.7" stroke="#228b22" stroke-width="1.5"/>
<line x1="580.7" y1="540.2" x2="580.7" y2="564.7" stroke="#228b22" stroke-width="1.5"/>
<line x1="232" y1="564.7" x2="232" y2="588.4" stroke="#0000ff" stroke-width="1.5"/>
<line x1="302.5" y1="564.7" x2="302.5" y2="588.4" stroke="#0000ff" stroke-width="1.5"/>
<line x1="532.4" y1="564.7" x2="532.4" y2="588.4" stroke="#0000ff" stroke-width="1.5"/>
<line x1="563" y1="564.7" x2="563" y2="588.4" stroke="#0000ff" stroke-width="1.5"/>
<line x1="586.8" y1="564.7" x2="586.8" y2="588.4" stroke="#0000ff" stroke-width="1.5"/>
<line x1="589.1" y1="564.7" x2="589.1" y2="588.4" stroke="#ff0000" stroke-width="1.5"/>
<line x1="148.9" y1="471.5" x2="153.4" y2="471.5" stroke="#000" stroke-width="1.3"/>
<line x1="222.9" y1="471.5" x2="226.9" y2="471.5" stroke="#000" stroke-width="1.2"/>
<text x="146.3" y="479.7" font-family="Liberation Sans, Arial, sans-serif" font-size="23" text-anchor="end">1</text>
<line x1="148.9" y1="508.8" x2="153.4" y2="508.8" stroke="#000" stroke-width="1.3"/>
<line x1="222.9" y1="508.8" x2="226.9" y2="508.8" stroke="#000" stroke-width="1.2"/>
<text x="146.3" y="517" font-family="Liberation Sans, Arial, sans-serif" font-size="23" text-anchor="end">0</text>
<line x1="154" y1="511.6" x2="154" y2="516.1" stroke="#000" stroke-width="1.3"/>
<line x1="154" y1="435.1" x2="154" y2="438.6" stroke="#000" stroke-width="1.2"/>
<text x="154" y="537.3" font-family="Liberation Sans, Arial, sans-serif" font-size="23" text-anchor="middle">0</text>
<line x1="219.6" y1="511.6" x2="219.6" y2="516.1" stroke="#000" stroke-width="1.3"/>
<line x1="219.6" y1="435.1" x2="219.6" y2="438.6" stroke="#000" stroke-width="1.2"/>
<text x="219.6" y="537.3" font-family="Liberation Sans, Arial, sans-serif" font-size="23" text-anchor="middle">2</text>
<text x="124.4" y="474.2" text-anchor="middle" transform="rotate(-90 124.4 474.2) translate(124.4 474.2) scale(1 1.13) translate(-124.4 -474.2)"><tspan font-family="Liberation Serif, Times New Roman, serif" font-style="italic" font-size="26">N</tspan><tspan font-family="Liberation Sans, Arial, sans-serif" font-size="17" dy="4">contact</tspan></text>
<text x="155" y="564" transform="translate(155 564) scale(1 1.13) translate(-155 -564)"><tspan font-family="Liberation Serif, Times New Roman, serif" font-style="italic" font-size="26">N</tspan><tspan font-family="Liberation Sans, Arial, sans-serif" font-size="17" dy="4">contact</tspan></text>
<defs><linearGradient id="cbg0" x1="0" y1="1" x2="0" y2="0"><stop offset="0.000" stop-color="#ffffff"/><stop offset="0.050" stop-color="#ffe5cc"/><stop offset="0.100" stop-color="#ffcc99"/><stop offset="0.150" stop-color="#ffb266"/><stop offset="0.200" stop-color="#ff9933"/><stop offset="0.250" stop-color="#ff8000"/><stop offset="0.300" stop-color="#ff6600"/><stop offset="0.350" stop-color="#f94d00"/><stop offset="0.400" stop-color="#e53300"/><stop offset="0.450" stop-color="#d21a00"/><stop offset="0.500" stop-color="#bf0000"/><stop offset="0.550" stop-color="#ac0000"/><stop offset="0.600" stop-color="#990000"/><stop offset="0.650" stop-color="#860000"/><stop offset="0.700" stop-color="#730000"/><stop offset="0.750" stop-color="#600000"/><stop offset="0.800" stop-color="#4c0000"/><stop offset="0.850" stop-color="#390000"/><stop offset="0.900" stop-color="#260000"/><stop offset="0.950" stop-color="#130000"/><stop offset="1.000" stop-color="#000000"/></linearGradient></defs>
<rect x="607.9" y="53.3" width="9.4" height="367.2" fill="url(#cbg0)" stroke="#222" stroke-width="1.2"/>
<line x1="617.3" y1="420.5" x2="621.8" y2="420.5" stroke="#000" stroke-width="1.2"/>
<text x="625.3" y="428.7" font-family="Liberation Sans, Arial, sans-serif" font-size="23">0</text>
<line x1="617.3" y1="363.8" x2="621.8" y2="363.8" stroke="#000" stroke-width="1.2"/>
<text x="625.3" y="372" font-family="Liberation Sans, Arial, sans-serif" font-size="23">1</text>
<line x1="617.3" y1="307.2" x2="621.8" y2="307.2" stroke="#000" stroke-width="1.2"/>
<text x="625.3" y="315.4" font-family="Liberation Sans, Arial, sans-serif" font-size="23">2</text>
<line x1="617.3" y1="250.5" x2="621.8" y2="250.5" stroke="#000" stroke-width="1.2"/>
<text x="625.3" y="258.7" font-family="Liberation Sans, Arial, sans-serif" font-size="23">3</text>
<line x1="617.3" y1="193.8" x2="621.8" y2="193.8" stroke="#000" stroke-width="1.2"/>
<text x="625.3" y="202" font-family="Liberation Sans, Arial, sans-serif" font-size="23">4</text>
<line x1="617.3" y1="137.2" x2="621.8" y2="137.2" stroke="#000" stroke-width="1.2"/>
<text x="625.3" y="145.4" font-family="Liberation Sans, Arial, sans-serif" font-size="23">5</text>
<line x1="617.3" y1="80.5" x2="621.8" y2="80.5" stroke="#000" stroke-width="1.2"/>
<text x="625.3" y="88.7" font-family="Liberation Sans, Arial, sans-serif" font-size="23">6</text>
<text x="589.5" y="41.6" font-family="Liberation Sans, Arial, sans-serif" font-size="20" transform="translate(589.5 41.6) scale(1 1.13) translate(-589.5 -41.6)"><tspan font-size="25" dy="1">×</tspan><tspan dy="-1">10</tspan><tspan font-size="14" dy="-9">−2</tspan></text>
<text x="690" y="23.2" font-family="Liberation Sans, Arial, sans-serif" font-size="30.5" font-weight="bold">b</text>
<rect x="916.7" y="48.8" width="365.1" height="386.3" fill="#fffcfa"/>
<defs><linearGradient id="hbb" x1="0" y1="0" x2="1" y2="0"><stop offset="0.0000" stop-color="#ff8000" stop-opacity="0.394"/><stop offset="0.0047" stop-color="#ff8000" stop-opacity="0.405"/><stop offset="0.0094" stop-color="#ff8000" stop-opacity="0.459"/><stop offset="0.0141" stop-color="#ff8000" stop-opacity="0.563"/><stop offset="0.0188" stop-color="#ff8000" stop-opacity="0.592"/><stop offset="0.0235" stop-color="#ff8000" stop-opacity="0.500"/><stop offset="0.0282" stop-color="#ff8000" stop-opacity="0.423"/><stop offset="0.0329" stop-color="#ff8000" stop-opacity="0.407"/><stop offset="0.0376" stop-color="#ff8000" stop-opacity="0.425"/><stop offset="0.0423" stop-color="#ff8000" stop-opacity="0.482"/><stop offset="0.0470" stop-color="#ff8000" stop-opacity="0.658"/><stop offset="0.0517" stop-color="#ff8000" stop-opacity="1.000"/><stop offset="0.0564" stop-color="#ff8000" stop-opacity="1.000"/><stop offset="0.0611" stop-color="#ff8000" stop-opacity="1.000"/><stop offset="0.0659" stop-color="#ff8000" stop-opacity="1.000"/><stop offset="0.0706" stop-color="#ff8000" stop-opacity="1.000"/><stop offset="0.0753" stop-color="#ff8000" stop-opacity="1.000"/><stop offset="0.0800" stop-color="#ff8000" stop-opacity="0.658"/><stop offset="0.0847" stop-color="#ff8000" stop-opacity="0.482"/><stop offset="0.0894" stop-color="#ff8000" stop-opacity="0.425"/><stop offset="0.0941" stop-color="#ff8000" stop-opacity="0.414"/><stop offset="0.0988" stop-color="#ff8000" stop-opacity="0.462"/><stop offset="0.1035" stop-color="#ff8000" stop-opacity="0.591"/><stop offset="0.1082" stop-color="#ff8000" stop-opacity="0.662"/><stop offset="0.1129" stop-color="#ff8000" stop-opacity="0.561"/><stop offset="0.1176" stop-color="#ff8000" stop-opacity="0.441"/><stop offset="0.1223" stop-color="#ff8000" stop-opacity="0.399"/><stop offset="0.1270" stop-color="#ff8000" stop-opacity="0.394"/><stop offset="0.1317" stop-color="#ff8000" stop-opacity="0.407"/><stop offset="0.1364" stop-color="#ff8000" stop-opacity="0.476"/><stop offset="0.1411" stop-color="#ff8000" stop-opacity="0.622"/><stop offset="0.1458" stop-color="#ff8000" stop-opacity="0.690"/><stop offset="0.1505" stop-color="#ff8000" stop-opacity="0.592"/><stop offset="0.1552" stop-color="#ff8000" stop-opacity="0.531"/><stop offset="0.1599" stop-color="#ff8000" stop-opacity="0.671"/><stop offset="0.1646" stop-color="#ff8000" stop-opacity="1.000"/><stop offset="0.1693" stop-color="#ff8000" stop-opacity="1.000"/><stop offset="0.1740" stop-color="#ff8000" stop-opacity="1.000"/><stop offset="0.1787" stop-color="#ff8000" stop-opacity="1.000"/><stop offset="0.1834" stop-color="#ff8000" stop-opacity="1.000"/><stop offset="0.1881" stop-color="#ff8000" stop-opacity="0.940"/><stop offset="0.1929" stop-color="#ff8000" stop-opacity="0.614"/><stop offset="0.1976" stop-color="#ff8000" stop-opacity="0.469"/><stop offset="0.2023" stop-color="#ff8000" stop-opacity="0.421"/><stop offset="0.2070" stop-color="#ff8000" stop-opacity="0.404"/><stop offset="0.2117" stop-color="#ff8000" stop-opacity="0.410"/><stop offset="0.2164" stop-color="#ff8000" stop-opacity="0.477"/><stop offset="0.2211" stop-color="#ff8000" stop-opacity="0.623"/><stop offset="0.2258" stop-color="#ff8000" stop-opacity="0.692"/><stop offset="0.2305" stop-color="#ff8000" stop-opacity="0.596"/><stop offset="0.2352" stop-color="#ff8000" stop-opacity="0.541"/><stop offset="0.2399" stop-color="#ff8000" stop-opacity="0.699"/><stop offset="0.2446" stop-color="#ff8000" stop-opacity="1.000"/><stop offset="0.2493" stop-color="#ff8000" stop-opacity="1.000"/><stop offset="0.2540" stop-color="#ff8000" stop-opacity="1.000"/><stop offset="0.2587" stop-color="#ff8000" stop-opacity="1.000"/><stop offset="0.2634" stop-color="#ff8000" stop-opacity="1.000"/><stop offset="0.2681" stop-color="#ff8000" stop-opacity="0.931"/><stop offset="0.2728" stop-color="#ff8000" stop-opacity="0.607"/><stop offset="0.2775" stop-color="#ff8000" stop-opacity="0.465"/><stop offset="0.2822" stop-color="#ff8000" stop-opacity="0.420"/><stop offset="0.2869" stop-color="#ff8000" stop-opacity="0.415"/><stop offset="0.2916" stop-color="#ff8000" stop-opacity="0.472"/><stop offset="0.2963" stop-color="#ff8000" stop-opacity="0.604"/><stop offset="0.3010" stop-color="#ff8000" stop-opacity="0.659"/><stop offset="0.3057" stop-color="#ff8000" stop-opacity="0.547"/><stop offset="0.3104" stop-color="#ff8000" stop-opacity="0.434"/><stop offset="0.3151" stop-color="#ff8000" stop-opacity="0.398"/><stop offset="0.3198" stop-color="#ff8000" stop-opacity="0.393"/><stop offset="0.3246" stop-color="#ff8000" stop-opacity="0.394"/><stop offset="0.3293" stop-color="#ff8000" stop-opacity="0.404"/><stop offset="0.3340" stop-color="#ff8000" stop-opacity="0.463"/><stop offset="0.3387" stop-color="#ff8000" stop-opacity="0.604"/><stop offset="0.3434" stop-color="#ff8000" stop-opacity="0.681"/><stop offset="0.3481" stop-color="#ff8000" stop-opacity="0.573"/><stop offset="0.3528" stop-color="#ff8000" stop-opacity="0.445"/><stop offset="0.3575" stop-color="#ff8000" stop-opacity="0.410"/><stop offset="0.3622" stop-color="#ff8000" stop-opacity="0.464"/><stop offset="0.3669" stop-color="#ff8000" stop-opacity="0.604"/><stop offset="0.3716" stop-color="#ff8000" stop-opacity="0.681"/><stop offset="0.3763" stop-color="#ff8000" stop-opacity="0.573"/><stop offset="0.3810" stop-color="#ff8000" stop-opacity="0.445"/><stop offset="0.3857" stop-color="#ff8000" stop-opacity="0.400"/><stop offset="0.3904" stop-color="#ff8000" stop-opacity="0.393"/><stop offset="0.3951" stop-color="#ff8000" stop-opacity="0.393"/><stop offset="0.3998" stop-color="#ff8000" stop-opacity="0.394"/><stop offset="0.4045" stop-color="#ff8000" stop-opacity="0.406"/><stop offset="0.4092" stop-color="#ff8000" stop-opacity="0.475"/><stop offset="0.4139" stop-color="#ff8000" stop-opacity="0.619"/><stop offset="0.4186" stop-color="#ff8000" stop-opacity="0.682"/><stop offset="0.4233" stop-color="#ff8000" stop-opacity="0.570"/><stop offset="0.4280" stop-color="#ff8000" stop-opacity="0.472"/><stop offset="0.4327" stop-color="#ff8000" stop-opacity="0.497"/><stop offset="0.4374" stop-color="#ff8000" stop-opacity="0.686"/><stop offset="0.4421" stop-color="#ff8000" stop-opacity="1.000"/><stop offset="0.4468" stop-color="#ff8000" stop-opacity="1.000"/><stop offset="0.4516" stop-color="#ff8000" stop-opacity="1.000"/><stop offset="0.4563" stop-color="#ff8000" stop-opacity="1.000"/><stop offset="0.4610" stop-color="#ff8000" stop-opacity="1.000"/><stop offset="0.4657" stop-color="#ff8000" stop-opacity="0.969"/><stop offset="0.4704" stop-color="#ff8000" stop-opacity="0.221"/><stop offset="0.4751" stop-color="#ff8000" stop-opacity="0.165"/><stop offset="0.4798" stop-color="#ff8000" stop-opacity="0.148"/><stop offset="0.4845" stop-color="#ff8000" stop-opacity="0.141"/><stop offset="0.4892" stop-color="#ff8000" stop-opacity="0.139"/><stop offset="0.4939" stop-color="#ff8000" stop-opacity="0.138"/><stop offset="0.4986" stop-color="#ff8000" stop-opacity="0.138"/><stop offset="0.5033" stop-color="#ff8000" stop-opacity="0.138"/><stop offset="0.5080" stop-color="#ff8000" stop-opacity="0.140"/><stop offset="0.5127" stop-color="#ff8000" stop-opacity="0.266"/><stop offset="0.5174" stop-color="#ff8000" stop-opacity="0.335"/><stop offset="0.5221" stop-color="#ff8000" stop-opacity="0.382"/><stop offset="0.5268" stop-color="#ff8000" stop-opacity="0.335"/><stop offset="0.5315" stop-color="#ff8000" stop-opacity="0.266"/><stop offset="0.5362" stop-color="#ff8000" stop-opacity="0.240"/><stop offset="0.5409" stop-color="#ff8000" stop-opacity="0.236"/><stop offset="0.5456" stop-color="#ff8000" stop-opacity="0.236"/><stop offset="0.5503" stop-color="#ff8000" stop-opacity="0.241"/><stop offset="0.5550" stop-color="#ff8000" stop-opacity="0.271"/><stop offset="0.5597" stop-color="#ff8000" stop-opacity="0.343"/><stop offset="0.5644" stop-color="#ff8000" stop-opacity="0.382"/><stop offset="0.5691" stop-color="#ff8000" stop-opacity="0.327"/><stop offset="0.5738" stop-color="#ff8000" stop-opacity="0.262"/><stop offset="0.5786" stop-color="#ff8000" stop-opacity="0.239"/><stop offset="0.5833" stop-color="#ff8000" stop-opacity="0.237"/><stop offset="0.5880" stop-color="#ff8000" stop-opacity="0.244"/><stop offset="0.5927" stop-color="#ff8000" stop-opacity="0.283"/><stop offset="0.5974" stop-color="#ff8000" stop-opacity="0.357"/><stop offset="0.6021" stop-color="#ff8000" stop-opacity="0.377"/><stop offset="0.6068" stop-color="#ff8000" stop-opacity="0.311"/><stop offset="0.6115" stop-color="#ff8000" stop-opacity="0.255"/><stop offset="0.6162" stop-color="#ff8000" stop-opacity="0.244"/><stop offset="0.6209" stop-color="#ff8000" stop-opacity="0.275"/><stop offset="0.6256" stop-color="#ff8000" stop-opacity="0.354"/><stop offset="0.6303" stop-color="#ff8000" stop-opacity="0.397"/><stop offset="0.6350" stop-color="#ff8000" stop-opacity="0.337"/><stop offset="0.6397" stop-color="#ff8000" stop-opacity="0.265"/><stop offset="0.6444" stop-color="#ff8000" stop-opacity="0.240"/><stop offset="0.6491" stop-color="#ff8000" stop-opacity="0.241"/><stop offset="0.6538" stop-color="#ff8000" stop-opacity="0.271"/><stop offset="0.6585" stop-color="#ff8000" stop-opacity="0.343"/><stop offset="0.6632" stop-color="#ff8000" stop-opacity="0.382"/><stop offset="0.6679" stop-color="#ff8000" stop-opacity="0.327"/><stop offset="0.6726" stop-color="#ff8000" stop-opacity="0.262"/><stop offset="0.6773" stop-color="#ff8000" stop-opacity="0.245"/><stop offset="0.6820" stop-color="#ff8000" stop-opacity="0.272"/><stop offset="0.6867" stop-color="#ff8000" stop-opacity="0.343"/><stop offset="0.6914" stop-color="#ff8000" stop-opacity="0.382"/><stop offset="0.6961" stop-color="#ff8000" stop-opacity="0.327"/><stop offset="0.7008" stop-color="#ff8000" stop-opacity="0.262"/><stop offset="0.7056" stop-color="#ff8000" stop-opacity="0.245"/><stop offset="0.7103" stop-color="#ff8000" stop-opacity="0.272"/><stop offset="0.7150" stop-color="#ff8000" stop-opacity="0.343"/><stop offset="0.7197" stop-color="#ff8000" stop-opacity="0.382"/><stop offset="0.7244" stop-color="#ff8000" stop-opacity="0.327"/><stop offset="0.7291" stop-color="#ff8000" stop-opacity="0.262"/><stop offset="0.7338" stop-color="#ff8000" stop-opacity="0.244"/><stop offset="0.7385" stop-color="#ff8000" stop-opacity="0.267"/><stop offset="0.7432" stop-color="#ff8000" stop-opacity="0.328"/><stop offset="0.7479" stop-color="#ff8000" stop-opacity="0.363"/><stop offset="0.7526" stop-color="#ff8000" stop-opacity="0.105"/><stop offset="0.7573" stop-color="#ff8000" stop-opacity="0.086"/><stop offset="0.7620" stop-color="#ff8000" stop-opacity="0.080"/><stop offset="0.7667" stop-color="#ff8000" stop-opacity="0.079"/><stop offset="0.7714" stop-color="#ff8000" stop-opacity="0.079"/><stop offset="0.7761" stop-color="#ff8000" stop-opacity="0.079"/><stop offset="0.7808" stop-color="#ff8000" stop-opacity="0.079"/><stop offset="0.7855" stop-color="#ff8000" stop-opacity="0.079"/><stop offset="0.7902" stop-color="#ff8000" stop-opacity="0.079"/><stop offset="0.7949" stop-color="#ff8000" stop-opacity="0.079"/><stop offset="0.7996" stop-color="#ff8000" stop-opacity="0.079"/><stop offset="0.8043" stop-color="#ff8000" stop-opacity="0.079"/><stop offset="0.8090" stop-color="#ff8000" stop-opacity="0.080"/><stop offset="0.8137" stop-color="#ff8000" stop-opacity="0.087"/><stop offset="0.8184" stop-color="#ff8000" stop-opacity="0.101"/><stop offset="0.8231" stop-color="#ff8000" stop-opacity="0.106"/><stop offset="0.8278" stop-color="#ff8000" stop-opacity="0.095"/><stop offset="0.8325" stop-color="#ff8000" stop-opacity="0.083"/><stop offset="0.8373" stop-color="#ff8000" stop-opacity="0.079"/><stop offset="0.8420" stop-color="#ff8000" stop-opacity="0.079"/><stop offset="0.8467" stop-color="#ff8000" stop-opacity="0.079"/><stop offset="0.8514" stop-color="#ff8000" stop-opacity="0.079"/><stop offset="0.8561" stop-color="#ff8000" stop-opacity="0.079"/><stop offset="0.8608" stop-color="#ff8000" stop-opacity="0.079"/><stop offset="0.8655" stop-color="#ff8000" stop-opacity="0.079"/><stop offset="0.8702" stop-color="#ff8000" stop-opacity="0.079"/><stop offset="0.8749" stop-color="#ff8000" stop-opacity="0.079"/><stop offset="0.8796" stop-color="#ff8000" stop-opacity="0.079"/><stop offset="0.8843" stop-color="#ff8000" stop-opacity="0.079"/><stop offset="0.8890" stop-color="#ff8000" stop-opacity="0.079"/><stop offset="0.8937" stop-color="#ff8000" stop-opacity="0.085"/><stop offset="0.8984" stop-color="#ff8000" stop-opacity="0.098"/><stop offset="0.9031" stop-color="#ff8000" stop-opacity="0.107"/><stop offset="0.9078" stop-color="#ff8000" stop-opacity="0.098"/><stop offset="0.9125" stop-color="#ff8000" stop-opacity="0.085"/><stop offset="0.9172" stop-color="#ff8000" stop-opacity="0.079"/><stop offset="0.9219" stop-color="#ff8000" stop-opacity="0.079"/><stop offset="0.9266" stop-color="#ff8000" stop-opacity="0.079"/><stop offset="0.9313" stop-color="#ff8000" stop-opacity="0.079"/><stop offset="0.9360" stop-color="#ff8000" stop-opacity="0.079"/><stop offset="0.9407" stop-color="#ff8000" stop-opacity="0.079"/><stop offset="0.9454" stop-color="#ff8000" stop-opacity="0.079"/><stop offset="0.9501" stop-color="#ff8000" stop-opacity="0.079"/><stop offset="0.9548" stop-color="#ff8000" stop-opacity="0.079"/><stop offset="0.9595" stop-color="#ff8000" stop-opacity="0.084"/><stop offset="0.9643" stop-color="#ff8000" stop-opacity="0.096"/><stop offset="0.9690" stop-color="#ff8000" stop-opacity="0.107"/><stop offset="0.9737" stop-color="#ff8000" stop-opacity="0.099"/><stop offset="0.9784" stop-color="#ff8000" stop-opacity="0.085"/><stop offset="0.9831" stop-color="#ff8000" stop-opacity="0.080"/><stop offset="0.9878" stop-color="#ff8000" stop-opacity="0.079"/><stop offset="0.9925" stop-color="#ff8000" stop-opacity="0.079"/><stop offset="0.9972" stop-color="#ff8000" stop-opacity="0.079"/><stop offset="1.0019" stop-color="#ff8000" stop-opacity="0.079"/></linearGradient></defs>
<g><rect x="916.7" y="433.4" width="365.1" height="2.2" fill="url(#hbb)" opacity="0.135"/><rect x="916.7" y="431.5" width="365.1" height="2.2" fill="url(#hbb)" opacity="0.135"/><rect x="916.7" y="429.6" width="365.1" height="2.2" fill="url(#hbb)" opacity="0.137"/><rect x="916.7" y="427.7" width="365.1" height="2.2" fill="url(#hbb)" opacity="0.145"/><rect x="916.7" y="425.8" width="365.1" height="2.2" fill="url(#hbb)" opacity="0.166"/><rect x="916.7" y="423.9" width="365.1" height="2.2" fill="url(#hbb)" opacity="0.189"/><rect x="916.7" y="422" width="365.1" height="2.2" fill="url(#hbb)" opacity="0.186"/><rect x="916.7" y="420.2" width="365.1" height="2.2" fill="url(#hbb)" opacity="0.161"/><rect x="916.7" y="418.3" width="365.1" height="2.2" fill="url(#hbb)" opacity="0.142"/><rect x="916.7" y="416.4" width="365.1" height="2.2" fill="url(#hbb)" opacity="0.136"/><rect x="916.7" y="414.5" width="365.1" height="2.2" fill="url(#hbb)" opacity="0.136"/><rect x="916.7" y="412.6" width="365.1" height="2.2" fill="url(#hbb)" opacity="0.140"/><rect x="916.7" y="410.7" width="365.1" height="2.2" fill="url(#hbb)" opacity="0.159"/><rect x="916.7" y="408.8" width="365.1" height="2.2" fill="url(#hbb)" opacity="0.197"/><rect x="916.7" y="406.9" width="365.1" height="2.2" fill="url(#hbb)" opacity="0.230"/><rect x="916.7" y="405" width="365.1" height="2.2" fill="url(#hbb)" opacity="0.243"/><rect x="916.7" y="403.1" width="365.1" height="2.2" fill="url(#hbb)" opacity="0.249"/><rect x="916.7" y="401.2" width="365.1" height="2.2" fill="url(#hbb)" opacity="0.230"/><rect x="916.7" y="399.3" width="365.1" height="2.2" fill="url(#hbb)" opacity="0.184"/><rect x="916.7" y="397.4" width="365.1" height="2.2" fill="url(#hbb)" opacity="0.149"/><rect x="916.7" y="395.5" width="365.1" height="2.2" fill="url(#hbb)" opacity="0.137"/><rect x="916.7" y="393.7" width="365.1" height="2.2" fill="url(#hbb)" opacity="0.135"/><rect x="916.7" y="391.8" width="365.1" height="2.2" fill="url(#hbb)" opacity="0.135"/><rect x="916.7" y="389.9" width="365.1" height="2.2" fill="url(#hbb)" opacity="0.138"/><rect x="916.7" y="388" width="365.1" height="2.2" fill="url(#hbb)" opacity="0.151"/><rect x="916.7" y="386.1" width="365.1" height="2.2" fill="url(#hbb)" opacity="0.182"/><rect x="916.7" y="384.2" width="365.1" height="2.2" fill="url(#hbb)" opacity="0.207"/><rect x="916.7" y="382.3" width="365.1" height="2.2" fill="url(#hbb)" opacity="0.195"/><rect x="916.7" y="380.4" width="365.1" height="2.2" fill="url(#hbb)" opacity="0.162"/><rect x="916.7" y="378.5" width="365.1" height="2.2" fill="url(#hbb)" opacity="0.143"/><rect x="916.7" y="376.6" width="365.1" height="2.2" fill="url(#hbb)" opacity="0.146"/><rect x="916.7" y="374.7" width="365.1" height="2.2" fill="url(#hbb)" opacity="0.172"/><rect x="916.7" y="372.8" width="365.1" height="2.2" fill="url(#hbb)" opacity="0.206"/><rect x="916.7" y="370.9" width="365.1" height="2.2" fill="url(#hbb)" opacity="0.221"/><rect x="916.7" y="369" width="365.1" height="2.2" fill="url(#hbb)" opacity="0.229"/><rect x="916.7" y="367.2" width="365.1" height="2.2" fill="url(#hbb)" opacity="0.240"/><rect x="916.7" y="365.3" width="365.1" height="2.2" fill="url(#hbb)" opacity="0.220"/><rect x="916.7" y="363.4" width="365.1" height="2.2" fill="url(#hbb)" opacity="0.175"/><rect x="916.7" y="361.5" width="365.1" height="2.2" fill="url(#hbb)" opacity="0.145"/><rect x="916.7" y="359.6" width="365.1" height="2.2" fill="url(#hbb)" opacity="0.136"/><rect x="916.7" y="357.7" width="365.1" height="2.2" fill="url(#hbb)" opacity="0.135"/><rect x="916.7" y="355.8" width="365.1" height="2.2" fill="url(#hbb)" opacity="0.138"/><rect x="916.7" y="353.9" width="365.1" height="2.2" fill="url(#hbb)" opacity="0.151"/><rect x="916.7" y="352" width="365.1" height="2.2" fill="url(#hbb)" opacity="0.183"/><rect x="916.7" y="350.1" width="365.1" height="2.2" fill="url(#hbb)" opacity="0.214"/><rect x="916.7" y="348.2" width="365.1" height="2.2" fill="url(#hbb)" opacity="0.207"/><rect x="916.7" y="346.3" width="365.1" height="2.2" fill="url(#hbb)" opacity="0.182"/><rect x="916.7" y="344.4" width="365.1" height="2.2" fill="url(#hbb)" opacity="0.192"/><rect x="916.7" y="342.5" width="365.1" height="2.2" fill="url(#hbb)" opacity="0.226"/><rect x="916.7" y="340.6" width="365.1" height="2.2" fill="url(#hbb)" opacity="0.227"/><rect x="916.7" y="338.8" width="365.1" height="2.2" fill="url(#hbb)" opacity="0.197"/><rect x="916.7" y="336.9" width="365.1" height="2.2" fill="url(#hbb)" opacity="0.197"/><rect x="916.7" y="335" width="365.1" height="2.2" fill="url(#hbb)" opacity="0.231"/><rect x="916.7" y="333.1" width="365.1" height="2.2" fill="url(#hbb)" opacity="0.235"/><rect x="916.7" y="331.2" width="365.1" height="2.2" fill="url(#hbb)" opacity="0.193"/><rect x="916.7" y="329.3" width="365.1" height="2.2" fill="url(#hbb)" opacity="0.153"/><rect x="916.7" y="327.4" width="365.1" height="2.2" fill="url(#hbb)" opacity="0.138"/><rect x="916.7" y="325.5" width="365.1" height="2.2" fill="url(#hbb)" opacity="0.136"/><rect x="916.7" y="323.6" width="365.1" height="2.2" fill="url(#hbb)" opacity="0.140"/><rect x="916.7" y="321.7" width="365.1" height="2.2" fill="url(#hbb)" opacity="0.159"/><rect x="916.7" y="319.8" width="365.1" height="2.2" fill="url(#hbb)" opacity="0.195"/><rect x="916.7" y="317.9" width="365.1" height="2.2" fill="url(#hbb)" opacity="0.221"/><rect x="916.7" y="316" width="365.1" height="2.2" fill="url(#hbb)" opacity="0.218"/><rect x="916.7" y="314.1" width="365.1" height="2.2" fill="url(#hbb)" opacity="0.218"/><rect x="916.7" y="312.3" width="365.1" height="2.2" fill="url(#hbb)" opacity="0.224"/><rect x="916.7" y="310.4" width="365.1" height="2.2" fill="url(#hbb)" opacity="0.214"/><rect x="916.7" y="308.5" width="365.1" height="2.2" fill="url(#hbb)" opacity="0.216"/><rect x="916.7" y="306.6" width="365.1" height="2.2" fill="url(#hbb)" opacity="0.235"/><rect x="916.7" y="304.7" width="365.1" height="2.2" fill="url(#hbb)" opacity="0.219"/><rect x="916.7" y="302.8" width="365.1" height="2.2" fill="url(#hbb)" opacity="0.175"/><rect x="916.7" y="300.9" width="365.1" height="2.2" fill="url(#hbb)" opacity="0.145"/><rect x="916.7" y="299" width="365.1" height="2.2" fill="url(#hbb)" opacity="0.136"/><rect x="916.7" y="297.1" width="365.1" height="2.2" fill="url(#hbb)" opacity="0.135"/><rect x="916.7" y="295.2" width="365.1" height="2.2" fill="url(#hbb)" opacity="0.138"/><rect x="916.7" y="293.3" width="365.1" height="2.2" fill="url(#hbb)" opacity="0.152"/><rect x="916.7" y="291.4" width="365.1" height="2.2" fill="url(#hbb)" opacity="0.188"/><rect x="916.7" y="289.5" width="365.1" height="2.2" fill="url(#hbb)" opacity="0.222"/><rect x="916.7" y="287.6" width="365.1" height="2.2" fill="url(#hbb)" opacity="0.212"/><rect x="916.7" y="285.8" width="365.1" height="2.2" fill="url(#hbb)" opacity="0.175"/><rect x="916.7" y="283.9" width="365.1" height="2.2" fill="url(#hbb)" opacity="0.163"/><rect x="916.7" y="282" width="365.1" height="2.2" fill="url(#hbb)" opacity="0.188"/><rect x="916.7" y="280.1" width="365.1" height="2.2" fill="url(#hbb)" opacity="0.215"/><rect x="916.7" y="278.2" width="365.1" height="2.2" fill="url(#hbb)" opacity="0.201"/><rect x="916.7" y="276.3" width="365.1" height="2.2" fill="url(#hbb)" opacity="0.165"/><rect x="916.7" y="274.4" width="365.1" height="2.2" fill="url(#hbb)" opacity="0.142"/><rect x="916.7" y="272.5" width="365.1" height="2.2" fill="url(#hbb)" opacity="0.136"/><rect x="916.7" y="270.6" width="365.1" height="2.2" fill="url(#hbb)" opacity="0.135"/><rect x="916.7" y="268.7" width="365.1" height="2.2" fill="url(#hbb)" opacity="0.135"/><rect x="916.7" y="266.8" width="365.1" height="2.2" fill="url(#hbb)" opacity="0.053"/><rect x="916.7" y="264.9" width="365.1" height="2.2" fill="url(#hbb)" opacity="0.053"/><rect x="916.7" y="263" width="365.1" height="2.2" fill="url(#hbb)" opacity="0.053"/><rect x="916.7" y="261.1" width="365.1" height="2.2" fill="url(#hbb)" opacity="0.053"/><rect x="916.7" y="259.3" width="365.1" height="2.2" fill="url(#hbb)" opacity="0.053"/><rect x="916.7" y="257.4" width="365.1" height="2.2" fill="url(#hbb)" opacity="0.053"/><rect x="916.7" y="255.5" width="365.1" height="2.2" fill="url(#hbb)" opacity="0.053"/><rect x="916.7" y="253.6" width="365.1" height="2.2" fill="url(#hbb)" opacity="0.053"/><rect x="916.7" y="251.7" width="365.1" height="2.2" fill="url(#hbb)" opacity="0.053"/><rect x="916.7" y="249.8" width="365.1" height="2.2" fill="url(#hbb)" opacity="0.053"/><rect x="916.7" y="247.9" width="365.1" height="2.2" fill="url(#hbb)" opacity="0.054"/><rect x="916.7" y="246" width="365.1" height="2.2" fill="url(#hbb)" opacity="0.058"/><rect x="916.7" y="244.1" width="365.1" height="2.2" fill="url(#hbb)" opacity="0.064"/><rect x="916.7" y="242.2" width="365.1" height="2.2" fill="url(#hbb)" opacity="0.066"/><rect x="916.7" y="240.3" width="365.1" height="2.2" fill="url(#hbb)" opacity="0.061"/><rect x="916.7" y="238.4" width="365.1" height="2.2" fill="url(#hbb)" opacity="0.055"/><rect x="916.7" y="236.5" width="365.1" height="2.2" fill="url(#hbb)" opacity="0.053"/><rect x="916.7" y="234.6" width="365.1" height="2.2" fill="url(#hbb)" opacity="0.053"/><rect x="916.7" y="232.7" width="365.1" height="2.2" fill="url(#hbb)" opacity="0.054"/><rect x="916.7" y="230.9" width="365.1" height="2.2" fill="url(#hbb)" opacity="0.057"/><rect x="916.7" y="229" width="365.1" height="2.2" fill="url(#hbb)" opacity="0.060"/><rect x="916.7" y="227.1" width="365.1" height="2.2" fill="url(#hbb)" opacity="0.060"/><rect x="916.7" y="225.2" width="365.1" height="2.2" fill="url(#hbb)" opacity="0.056"/><rect x="916.7" y="223.3" width="365.1" height="2.2" fill="url(#hbb)" opacity="0.054"/><rect x="916.7" y="221.4" width="365.1" height="2.2" fill="url(#hbb)" opacity="0.054"/><rect x="916.7" y="219.5" width="365.1" height="2.2" fill="url(#hbb)" opacity="0.056"/><rect x="916.7" y="217.6" width="365.1" height="2.2" fill="url(#hbb)" opacity="0.059"/><rect x="916.7" y="215.7" width="365.1" height="2.2" fill="url(#hbb)" opacity="0.059"/><rect x="916.7" y="213.8" width="365.1" height="2.2" fill="url(#hbb)" opacity="0.056"/><rect x="916.7" y="211.9" width="365.1" height="2.2" fill="url(#hbb)" opacity="0.054"/><rect x="916.7" y="210" width="365.1" height="2.2" fill="url(#hbb)" opacity="0.055"/><rect x="916.7" y="208.1" width="365.1" height="2.2" fill="url(#hbb)" opacity="0.058"/><rect x="916.7" y="206.2" width="365.1" height="2.2" fill="url(#hbb)" opacity="0.060"/><rect x="916.7" y="204.4" width="365.1" height="2.2" fill="url(#hbb)" opacity="0.058"/><rect x="916.7" y="202.5" width="365.1" height="2.2" fill="url(#hbb)" opacity="0.055"/><rect x="916.7" y="200.6" width="365.1" height="2.2" fill="url(#hbb)" opacity="0.053"/><rect x="916.7" y="198.7" width="365.1" height="2.2" fill="url(#hbb)" opacity="0.053"/><rect x="916.7" y="196.8" width="365.1" height="2.2" fill="url(#hbb)" opacity="0.055"/><rect x="916.7" y="194.9" width="365.1" height="2.2" fill="url(#hbb)" opacity="0.058"/><rect x="916.7" y="193" width="365.1" height="2.2" fill="url(#hbb)" opacity="0.061"/><rect x="916.7" y="191.1" width="365.1" height="2.2" fill="url(#hbb)" opacity="0.059"/><rect x="916.7" y="189.2" width="365.1" height="2.2" fill="url(#hbb)" opacity="0.055"/><rect x="916.7" y="187.3" width="365.1" height="2.2" fill="url(#hbb)" opacity="0.053"/><rect x="916.7" y="185.4" width="365.1" height="2.2" fill="url(#hbb)" opacity="0.054"/><rect x="916.7" y="183.5" width="365.1" height="2.2" fill="url(#hbb)" opacity="0.057"/><rect x="916.7" y="181.6" width="365.1" height="2.2" fill="url(#hbb)" opacity="0.060"/><rect x="916.7" y="179.7" width="365.1" height="2.2" fill="url(#hbb)" opacity="0.059"/><rect x="916.7" y="177.9" width="365.1" height="2.2" fill="url(#hbb)" opacity="0.056"/><rect x="916.7" y="176" width="365.1" height="2.2" fill="url(#hbb)" opacity="0.053"/><rect x="916.7" y="174.1" width="365.1" height="2.2" fill="url(#hbb)" opacity="0.053"/><rect x="916.7" y="172.2" width="365.1" height="2.2" fill="url(#hbb)" opacity="0.053"/><rect x="916.7" y="170.3" width="365.1" height="2.2" fill="url(#hbb)" opacity="0.056"/><rect x="916.7" y="168.4" width="365.1" height="2.2" fill="url(#hbb)" opacity="0.061"/><rect x="916.7" y="166.5" width="365.1" height="2.2" fill="url(#hbb)" opacity="0.064"/><rect x="916.7" y="164.6" width="365.1" height="2.2" fill="url(#hbb)" opacity="0.061"/><rect x="916.7" y="162.7" width="365.1" height="2.2" fill="url(#hbb)" opacity="0.239"/><rect x="916.7" y="160.8" width="365.1" height="2.2" fill="url(#hbb)" opacity="0.230"/><rect x="916.7" y="158.9" width="365.1" height="2.2" fill="url(#hbb)" opacity="0.242"/><rect x="916.7" y="157" width="365.1" height="2.2" fill="url(#hbb)" opacity="0.300"/><rect x="916.7" y="155.1" width="365.1" height="2.2" fill="url(#hbb)" opacity="0.404"/><rect x="916.7" y="153.2" width="365.1" height="2.2" fill="url(#hbb)" opacity="0.454"/><rect x="916.7" y="151.4" width="365.1" height="2.2" fill="url(#hbb)" opacity="0.385"/><rect x="916.7" y="149.5" width="365.1" height="2.2" fill="url(#hbb)" opacity="0.301"/><rect x="916.7" y="147.6" width="365.1" height="2.2" fill="url(#hbb)" opacity="0.306"/><rect x="916.7" y="145.7" width="365.1" height="2.2" fill="url(#hbb)" opacity="0.382"/><rect x="916.7" y="143.8" width="365.1" height="2.2" fill="url(#hbb)" opacity="0.419"/><rect x="916.7" y="141.9" width="365.1" height="2.2" fill="url(#hbb)" opacity="0.388"/><rect x="916.7" y="140" width="365.1" height="2.2" fill="url(#hbb)" opacity="0.396"/><rect x="916.7" y="138.1" width="365.1" height="2.2" fill="url(#hbb)" opacity="0.443"/><rect x="916.7" y="136.2" width="365.1" height="2.2" fill="url(#hbb)" opacity="0.412"/><rect x="916.7" y="134.3" width="365.1" height="2.2" fill="url(#hbb)" opacity="0.314"/><rect x="916.7" y="132.4" width="365.1" height="2.2" fill="url(#hbb)" opacity="0.248"/><rect x="916.7" y="130.5" width="365.1" height="2.2" fill="url(#hbb)" opacity="0.236"/><rect x="916.7" y="128.6" width="365.1" height="2.2" fill="url(#hbb)" opacity="0.267"/><rect x="916.7" y="126.7" width="365.1" height="2.2" fill="url(#hbb)" opacity="0.353"/><rect x="916.7" y="124.8" width="365.1" height="2.2" fill="url(#hbb)" opacity="0.435"/><rect x="916.7" y="123" width="365.1" height="2.2" fill="url(#hbb)" opacity="0.412"/><rect x="916.7" y="121.1" width="365.1" height="2.2" fill="url(#hbb)" opacity="0.327"/><rect x="916.7" y="119.2" width="365.1" height="2.2" fill="url(#hbb)" opacity="0.314"/><rect x="916.7" y="117.3" width="365.1" height="2.2" fill="url(#hbb)" opacity="0.405"/><rect x="916.7" y="115.4" width="365.1" height="2.2" fill="url(#hbb)" opacity="0.481"/><rect x="916.7" y="113.5" width="365.1" height="2.2" fill="url(#hbb)" opacity="0.425"/><rect x="916.7" y="111.6" width="365.1" height="2.2" fill="url(#hbb)" opacity="0.309"/><rect x="916.7" y="109.7" width="365.1" height="2.2" fill="url(#hbb)" opacity="0.245"/><rect x="916.7" y="107.8" width="365.1" height="2.2" fill="url(#hbb)" opacity="0.239"/><rect x="916.7" y="105.9" width="365.1" height="2.2" fill="url(#hbb)" opacity="0.284"/><rect x="916.7" y="104" width="365.1" height="2.2" fill="url(#hbb)" opacity="0.383"/><rect x="916.7" y="102.1" width="365.1" height="2.2" fill="url(#hbb)" opacity="0.454"/><rect x="916.7" y="100.2" width="365.1" height="2.2" fill="url(#hbb)" opacity="0.404"/><rect x="916.7" y="98.3" width="365.1" height="2.2" fill="url(#hbb)" opacity="0.300"/><rect x="916.7" y="96.5" width="365.1" height="2.2" fill="url(#hbb)" opacity="0.242"/><rect x="916.7" y="94.6" width="365.1" height="2.2" fill="url(#hbb)" opacity="0.228"/><rect x="916.7" y="92.7" width="365.1" height="2.2" fill="url(#hbb)" opacity="0.232"/><rect x="916.7" y="90.8" width="365.1" height="2.2" fill="url(#hbb)" opacity="0.264"/><rect x="916.7" y="88.9" width="365.1" height="2.2" fill="url(#hbb)" opacity="0.356"/><rect x="916.7" y="87" width="365.1" height="2.2" fill="url(#hbb)" opacity="0.477"/><rect x="916.7" y="85.1" width="365.1" height="2.2" fill="url(#hbb)" opacity="0.549"/><rect x="916.7" y="83.2" width="365.1" height="2.2" fill="url(#hbb)" opacity="0.572"/><rect x="916.7" y="81.3" width="365.1" height="2.2" fill="url(#hbb)" opacity="0.577"/><rect x="916.7" y="79.4" width="365.1" height="2.2" fill="url(#hbb)" opacity="0.566"/><rect x="916.7" y="77.5" width="365.1" height="2.2" fill="url(#hbb)" opacity="0.517"/><rect x="916.7" y="75.6" width="365.1" height="2.2" fill="url(#hbb)" opacity="0.457"/><rect x="916.7" y="73.7" width="365.1" height="2.2" fill="url(#hbb)" opacity="0.443"/><rect x="916.7" y="71.8" width="365.1" height="2.2" fill="url(#hbb)" opacity="0.419"/><rect x="916.7" y="70" width="365.1" height="2.2" fill="url(#hbb)" opacity="0.370"/><rect x="916.7" y="68.1" width="365.1" height="2.2" fill="url(#hbb)" opacity="0.363"/><rect x="916.7" y="66.2" width="365.1" height="2.2" fill="url(#hbb)" opacity="0.363"/><rect x="916.7" y="64.3" width="365.1" height="2.2" fill="url(#hbb)" opacity="0.312"/><rect x="916.7" y="62.4" width="365.1" height="2.2" fill="url(#hbb)" opacity="0.255"/><rect x="916.7" y="60.5" width="365.1" height="2.2" fill="url(#hbb)" opacity="0.231"/><rect x="916.7" y="58.6" width="365.1" height="2.2" fill="url(#hbb)" opacity="0.226"/><rect x="916.7" y="56.7" width="365.1" height="2.2" fill="url(#hbb)" opacity="0.225"/><rect x="916.7" y="54.8" width="365.1" height="2.2" fill="url(#hbb)" opacity="0.225"/><rect x="916.7" y="52.9" width="365.1" height="2.2" fill="url(#hbb)" opacity="0.225"/><rect x="916.7" y="51" width="365.1" height="2.2" fill="url(#hbb)" opacity="0.225"/><rect x="916.7" y="49.1" width="365.1" height="2.2" fill="url(#hbb)" opacity="0.225"/><rect x="916.7" y="47.2" width="365.1" height="2.2" fill="url(#hbb)" opacity="0.225"/></g>
<path fill="#ffe0c2" d="M920.1 240.7h6v6.1h-6zM953.1 164.4h6v6.1h-6zM966.6 164.4h6v6.1h-6zM995.8 164.4h6v6.1h-6zM1023.3 164.4h6v6.1h-6zM1038.9 164.4h6v6.1h-6zM1049.2 164.4h6v6.1h-6zM1066.2 164.4h6v6.1h-6zM1104.3 164.4h6v6.1h-6zM1104.3 240.7h6v6.1h-6zM1119.5 164.4h6v6.1h-6zM1119.5 240.7h6v6.1h-6zM1132.9 164.4h6v6.1h-6zM1132.9 240.7h6v6.1h-6zM1143.6 164.4h6v6.1h-6zM1155.6 164.4h6v6.1h-6zM1155.6 240.7h6v6.1h-6zM1165.9 164.4h6v6.1h-6zM1165.9 240.7h6v6.1h-6zM1176.2 164.4h6v6.1h-6zM1176.2 240.7h6v6.1h-6zM1186.5 240.7h6v6.1h-6zM1213.7 421.1h6v6.1h-6zM1243.3 421.1h6v6.1h-6zM1267.5 421.1h6v6.1h-6z"/>
<path fill="#ffd6ad" d="M920.1 369.8h6v6.1h-6zM920.1 381.7h6v6.1h-6zM920.1 421.1h6v6.1h-6zM934.2 179h6v6.1h-6zM934.2 190.7h6v6.1h-6zM934.2 204h6v6.1h-6zM934.2 214.6h6v6.1h-6zM934.2 226.3h6v6.1h-6zM939.7 179h6v6.1h-6zM939.7 190.7h6v6.1h-6zM939.7 204h6v6.1h-6zM939.7 214.6h6v6.1h-6zM939.7 226.3h6v6.1h-6zM953.1 240.7h6v6.1h-6zM953.1 421.1h6v6.1h-6zM966.6 240.7h6v6.1h-6zM975.4 179h6v6.1h-6zM975.4 190.7h6v6.1h-6zM975.4 204h6v6.1h-6zM975.4 214.6h6v6.1h-6zM975.4 226.3h6v6.1h-6zM980.5 179h6v6.1h-6zM980.5 190.7h6v6.1h-6zM980.5 204h6v6.1h-6zM980.5 214.6h6v6.1h-6zM980.5 226.3h6v6.1h-6zM995.8 240.7h6v6.1h-6zM1004.4 179h6v6.1h-6zM1004.4 190.7h6v6.1h-6zM1004.4 204h6v6.1h-6zM1004.4 214.6h6v6.1h-6zM1004.4 226.3h6v6.1h-6zM1009.7 179h6v6.1h-6zM1009.7 190.7h6v6.1h-6zM1009.7 204h6v6.1h-6zM1009.7 214.6h6v6.1h-6zM1009.7 226.3h6v6.1h-6zM1023.3 240.7h6v6.1h-6zM1023.3 421.1h6v6.1h-6zM1038.9 240.7h6v6.1h-6zM1049.2 240.7h6v6.1h-6zM1066.2 240.7h6v6.1h-6zM1076.5 179h6v6.1h-6zM1076.5 190.7h6v6.1h-6zM1076.5 204h6v6.1h-6zM1076.5 214.6h6v6.1h-6zM1076.5 226.3h6v6.1h-6zM1082 179h6v6.1h-6zM1082 190.7h6v6.1h-6zM1082 204h6v6.1h-6zM1082 214.6h6v6.1h-6zM1082 226.3h6v6.1h-6zM1104.3 421.1h6v6.1h-6zM1119.5 421.1h6v6.1h-6zM1132.9 421.1h6v6.1h-6zM1143.6 240.7h6v6.1h-6zM1143.6 421.1h6v6.1h-6zM1155.6 421.1h6v6.1h-6zM1165.9 421.1h6v6.1h-6zM1176.2 421.1h6v6.1h-6zM1186.5 369.8h6v6.1h-6zM1186.5 381.7h6v6.1h-6zM1186.5 421.1h6v6.1h-6zM1213.7 64.5h6v6.1h-6zM1213.7 277.6h6v6.1h-6zM1213.7 286.9h6v6.1h-6zM1213.7 303.9h6v6.1h-6zM1213.7 310.2h6v6.1h-6zM1213.7 315.8h6v6.1h-6zM1213.7 331.7h6v6.1h-6zM1213.7 339.5h6v6.1h-6zM1213.7 347.5h6v6.1h-6zM1213.7 364.5h6v6.1h-6zM1213.7 369.8h6v6.1h-6zM1213.7 381.7h6v6.1h-6zM1213.7 400.1h6v6.1h-6zM1213.7 404.8h6v6.1h-6zM1243.3 64.5h6v6.1h-6zM1243.3 277.6h6v6.1h-6zM1243.3 286.9h6v6.1h-6zM1243.3 303.9h6v6.1h-6zM1243.3 310.2h6v6.1h-6zM1243.3 315.8h6v6.1h-6zM1243.3 331.7h6v6.1h-6zM1243.3 339.5h6v6.1h-6zM1243.3 347.5h6v6.1h-6zM1243.3 364.5h6v6.1h-6zM1243.3 369.8h6v6.1h-6zM1243.3 381.7h6v6.1h-6zM1243.3 400.1h6v6.1h-6zM1243.3 404.8h6v6.1h-6zM1267.5 64.5h6v6.1h-6zM1267.5 277.6h6v6.1h-6zM1267.5 286.9h6v6.1h-6zM1267.5 303.9h6v6.1h-6zM1267.5 310.2h6v6.1h-6zM1267.5 315.8h6v6.1h-6zM1267.5 331.7h6v6.1h-6zM1267.5 339.5h6v6.1h-6zM1267.5 347.5h6v6.1h-6zM1267.5 364.5h6v6.1h-6zM1267.5 369.8h6v6.1h-6zM1267.5 381.7h6v6.1h-6zM1267.5 400.1h6v6.1h-6zM1267.5 404.8h6v6.1h-6z"/>
<path fill="#ffcc99" d="M920.1 64.5h6v6.1h-6zM920.1 277.6h6v6.1h-6zM920.1 286.9h6v6.1h-6zM920.1 303.9h6v6.1h-6zM920.1 310.2h6v6.1h-6zM920.1 315.8h6v6.1h-6zM920.1 331.7h6v6.1h-6zM920.1 339.5h6v6.1h-6zM920.1 347.5h6v6.1h-6zM920.1 364.5h6v6.1h-6zM920.1 400.1h6v6.1h-6zM920.1 404.8h6v6.1h-6zM934.2 164.4h6v6.1h-6zM934.2 240.7h6v6.1h-6zM939.7 164.4h6v6.1h-6zM939.7 240.7h6v6.1h-6zM953.1 64.5h6v6.1h-6zM953.1 277.6h6v6.1h-6zM953.1 310.2h6v6.1h-6zM953.1 315.8h6v6.1h-6zM953.1 347.5h6v6.1h-6zM953.1 369.8h6v6.1h-6zM953.1 381.7h6v6.1h-6zM953.1 404.8h6v6.1h-6zM966.6 369.8h6v6.1h-6zM966.6 381.7h6v6.1h-6zM966.6 421.1h6v6.1h-6zM975.4 164.4h6v6.1h-6zM975.4 240.7h6v6.1h-6zM980.5 164.4h6v6.1h-6zM980.5 240.7h6v6.1h-6zM995.8 369.8h6v6.1h-6zM995.8 381.7h6v6.1h-6zM995.8 421.1h6v6.1h-6zM1004.4 164.4h6v6.1h-6zM1004.4 240.7h6v6.1h-6zM1009.7 164.4h6v6.1h-6zM1009.7 240.7h6v6.1h-6zM1023.3 64.5h6v6.1h-6zM1023.3 277.6h6v6.1h-6zM1023.3 310.2h6v6.1h-6zM1023.3 315.8h6v6.1h-6zM1023.3 347.5h6v6.1h-6zM1023.3 369.8h6v6.1h-6zM1023.3 381.7h6v6.1h-6zM1023.3 404.8h6v6.1h-6zM1038.9 369.8h6v6.1h-6zM1038.9 381.7h6v6.1h-6zM1038.9 421.1h6v6.1h-6zM1049.2 369.8h6v6.1h-6zM1049.2 381.7h6v6.1h-6zM1049.2 421.1h6v6.1h-6zM1066.2 369.8h6v6.1h-6zM1066.2 381.7h6v6.1h-6zM1066.2 421.1h6v6.1h-6zM1076.5 164.4h6v6.1h-6zM1076.5 240.7h6v6.1h-6zM1082 164.4h6v6.1h-6zM1082 240.7h6v6.1h-6zM1104.3 64.5h6v6.1h-6zM1104.3 277.6h6v6.1h-6zM1104.3 286.9h6v6.1h-6zM1104.3 310.2h6v6.1h-6zM1104.3 315.8h6v6.1h-6zM1104.3 347.5h6v6.1h-6zM1104.3 369.8h6v6.1h-6zM1104.3 381.7h6v6.1h-6zM1104.3 404.8h6v6.1h-6zM1119.5 64.5h6v6.1h-6zM1119.5 277.6h6v6.1h-6zM1119.5 286.9h6v6.1h-6zM1119.5 310.2h6v6.1h-6zM1119.5 315.8h6v6.1h-6zM1119.5 347.5h6v6.1h-6zM1119.5 369.8h6v6.1h-6zM1119.5 381.7h6v6.1h-6zM1119.5 404.8h6v6.1h-6zM1132.9 64.5h6v6.1h-6zM1132.9 277.6h6v6.1h-6zM1132.9 286.9h6v6.1h-6zM1132.9 310.2h6v6.1h-6zM1132.9 315.8h6v6.1h-6zM1132.9 347.5h6v6.1h-6zM1132.9 369.8h6v6.1h-6zM1132.9 381.7h6v6.1h-6zM1132.9 404.8h6v6.1h-6zM1143.6 64.5h6v6.1h-6zM1143.6 277.6h6v6.1h-6zM1143.6 310.2h6v6.1h-6zM1143.6 315.8h6v6.1h-6zM1143.6 347.5h6v6.1h-6zM1143.6 369.8h6v6.1h-6zM1143.6 381.7h6v6.1h-6zM1143.6 404.8h6v6.1h-6zM1155.6 64.5h6v6.1h-6zM1155.6 277.6h6v6.1h-6zM1155.6 286.9h6v6.1h-6zM1155.6 310.2h6v6.1h-6zM1155.6 315.8h6v6.1h-6zM1155.6 347.5h6v6.1h-6zM1155.6 369.8h6v6.1h-6zM1155.6 381.7h6v6.1h-6zM1155.6 404.8h6v6.1h-6zM1165.9 64.5h6v6.1h-6zM1165.9 277.6h6v6.1h-6zM1165.9 286.9h6v6.1h-6zM1165.9 310.2h6v6.1h-6zM1165.9 315.8h6v6.1h-6zM1165.9 347.5h6v6.1h-6zM1165.9 369.8h6v6.1h-6zM1165.9 381.7h6v6.1h-6zM1165.9 404.8h6v6.1h-6zM1176.2 64.5h6v6.1h-6zM1176.2 277.6h6v6.1h-6zM1176.2 286.9h6v6.1h-6zM1176.2 310.2h6v6.1h-6zM1176.2 315.8h6v6.1h-6zM1176.2 347.5h6v6.1h-6zM1176.2 369.8h6v6.1h-6zM1176.2 381.7h6v6.1h-6zM1176.2 404.8h6v6.1h-6zM1186.5 64.5h6v6.1h-6zM1186.5 277.6h6v6.1h-6zM1186.5 286.9h6v6.1h-6zM1186.5 303.9h6v6.1h-6zM1186.5 310.2h6v6.1h-6zM1186.5 315.8h6v6.1h-6zM1186.5 339.5h6v6.1h-6zM1186.5 347.5h6v6.1h-6zM1186.5 364.5h6v6.1h-6zM1186.5 400.1h6v6.1h-6zM1186.5 404.8h6v6.1h-6zM1213.7 70.7h6v6.1h-6zM1213.7 76.2h6v6.1h-6zM1213.7 80.2h6v6.1h-6zM1213.7 84.1h6v6.1h-6zM1213.7 99.8h6v6.1h-6zM1213.7 113.1h6v6.1h-6zM1213.7 122.2h6v6.1h-6zM1213.7 135.4h6v6.1h-6zM1213.7 142.1h6v6.1h-6zM1213.7 151.3h6v6.1h-6zM1243.3 70.7h6v6.1h-6zM1243.3 76.2h6v6.1h-6zM1243.3 80.2h6v6.1h-6zM1243.3 84.1h6v6.1h-6zM1243.3 99.8h6v6.1h-6zM1243.3 113.1h6v6.1h-6zM1243.3 122.2h6v6.1h-6zM1243.3 135.4h6v6.1h-6zM1243.3 142.1h6v6.1h-6zM1243.3 151.3h6v6.1h-6zM1267.5 70.7h6v6.1h-6zM1267.5 76.2h6v6.1h-6zM1267.5 80.2h6v6.1h-6zM1267.5 84.1h6v6.1h-6zM1267.5 99.8h6v6.1h-6zM1267.5 113.1h6v6.1h-6zM1267.5 122.2h6v6.1h-6zM1267.5 135.4h6v6.1h-6zM1267.5 142.1h6v6.1h-6zM1267.5 151.3h6v6.1h-6z"/>
<path fill="#ffc285" d="M920.1 70.7h6v6.1h-6zM920.1 80.2h6v6.1h-6zM920.1 84.1h6v6.1h-6zM920.1 99.8h6v6.1h-6zM920.1 122.2h6v6.1h-6zM920.1 135.4h6v6.1h-6zM920.1 142.1h6v6.1h-6zM920.1 151.3h6v6.1h-6zM953.1 286.9h6v6.1h-6zM953.1 303.9h6v6.1h-6zM953.1 331.7h6v6.1h-6zM953.1 339.5h6v6.1h-6zM953.1 364.5h6v6.1h-6zM953.1 400.1h6v6.1h-6zM966.6 64.5h6v6.1h-6zM966.6 277.6h6v6.1h-6zM966.6 286.9h6v6.1h-6zM966.6 303.9h6v6.1h-6zM966.6 310.2h6v6.1h-6zM966.6 315.8h6v6.1h-6zM966.6 339.5h6v6.1h-6zM966.6 347.5h6v6.1h-6zM966.6 364.5h6v6.1h-6zM966.6 400.1h6v6.1h-6zM966.6 404.8h6v6.1h-6zM995.8 64.5h6v6.1h-6zM995.8 277.6h6v6.1h-6zM995.8 286.9h6v6.1h-6zM995.8 303.9h6v6.1h-6zM995.8 310.2h6v6.1h-6zM995.8 315.8h6v6.1h-6zM995.8 339.5h6v6.1h-6zM995.8 347.5h6v6.1h-6zM995.8 364.5h6v6.1h-6zM995.8 400.1h6v6.1h-6zM995.8 404.8h6v6.1h-6zM1023.3 286.9h6v6.1h-6zM1023.3 303.9h6v6.1h-6zM1023.3 331.7h6v6.1h-6zM1023.3 339.5h6v6.1h-6zM1023.3 364.5h6v6.1h-6zM1023.3 400.1h6v6.1h-6zM1038.9 64.5h6v6.1h-6zM1038.9 277.6h6v6.1h-6zM1038.9 286.9h6v6.1h-6zM1038.9 303.9h6v6.1h-6zM1038.9 310.2h6v6.1h-6zM1038.9 315.8h6v6.1h-6zM1038.9 339.5h6v6.1h-6zM1038.9 347.5h6v6.1h-6zM1038.9 364.5h6v6.1h-6zM1038.9 400.1h6v6.1h-6zM1038.9 404.8h6v6.1h-6zM1049.2 64.5h6v6.1h-6zM1049.2 277.6h6v6.1h-6zM1049.2 286.9h6v6.1h-6zM1049.2 303.9h6v6.1h-6zM1049.2 310.2h6v6.1h-6zM1049.2 315.8h6v6.1h-6zM1049.2 339.5h6v6.1h-6zM1049.2 347.5h6v6.1h-6zM1049.2 364.5h6v6.1h-6zM1049.2 400.1h6v6.1h-6zM1049.2 404.8h6v6.1h-6zM1066.2 64.5h6v6.1h-6zM1066.2 277.6h6v6.1h-6zM1066.2 286.9h6v6.1h-6zM1066.2 303.9h6v6.1h-6zM1066.2 310.2h6v6.1h-6zM1066.2 315.8h6v6.1h-6zM1066.2 339.5h6v6.1h-6zM1066.2 347.5h6v6.1h-6zM1066.2 364.5h6v6.1h-6zM1066.2 400.1h6v6.1h-6zM1066.2 404.8h6v6.1h-6zM1104.3 70.7h6v6.1h-6zM1104.3 142.1h6v6.1h-6zM1104.3 303.9h6v6.1h-6zM1104.3 331.7h6v6.1h-6zM1104.3 339.5h6v6.1h-6zM1104.3 364.5h6v6.1h-6zM1104.3 400.1h6v6.1h-6zM1119.5 70.7h6v6.1h-6zM1119.5 142.1h6v6.1h-6zM1119.5 303.9h6v6.1h-6zM1119.5 331.7h6v6.1h-6zM1119.5 339.5h6v6.1h-6zM1119.5 364.5h6v6.1h-6zM1119.5 400.1h6v6.1h-6zM1132.9 70.7h6v6.1h-6zM1132.9 142.1h6v6.1h-6zM1132.9 303.9h6v6.1h-6zM1132.9 331.7h6v6.1h-6zM1132.9 339.5h6v6.1h-6zM1132.9 364.5h6v6.1h-6zM1132.9 400.1h6v6.1h-6zM1143.6 286.9h6v6.1h-6zM1143.6 303.9h6v6.1h-6zM1143.6 331.7h6v6.1h-6zM1143.6 339.5h6v6.1h-6zM1143.6 364.5h6v6.1h-6zM1143.6 400.1h6v6.1h-6zM1155.6 70.7h6v6.1h-6zM1155.6 142.1h6v6.1h-6zM1155.6 303.9h6v6.1h-6zM1155.6 331.7h6v6.1h-6zM1155.6 339.5h6v6.1h-6zM1155.6 364.5h6v6.1h-6zM1155.6 400.1h6v6.1h-6zM1165.9 70.7h6v6.1h-6zM1165.9 142.1h6v6.1h-6zM1165.9 303.9h6v6.1h-6zM1165.9 331.7h6v6.1h-6zM1165.9 339.5h6v6.1h-6zM1165.9 364.5h6v6.1h-6zM1165.9 400.1h6v6.1h-6zM1176.2 70.7h6v6.1h-6zM1176.2 142.1h6v6.1h-6zM1176.2 303.9h6v6.1h-6zM1176.2 331.7h6v6.1h-6zM1176.2 339.5h6v6.1h-6zM1176.2 364.5h6v6.1h-6zM1176.2 400.1h6v6.1h-6zM1186.5 70.7h6v6.1h-6zM1186.5 122.2h6v6.1h-6zM1186.5 135.4h6v6.1h-6zM1186.5 142.1h6v6.1h-6zM1186.5 331.7h6v6.1h-6z"/>
<path fill="#ffb870" d="M920.1 76.2h6v6.1h-6zM920.1 113.1h6v6.1h-6zM934.2 421.1h6v6.1h-6zM939.7 421.1h6v6.1h-6zM953.1 70.7h6v6.1h-6zM953.1 142.1h6v6.1h-6zM966.6 70.7h6v6.1h-6zM966.6 142.1h6v6.1h-6zM966.6 331.7h6v6.1h-6zM975.4 421.1h6v6.1h-6zM980.5 421.1h6v6.1h-6zM995.8 70.7h6v6.1h-6zM995.8 142.1h6v6.1h-6zM995.8 331.7h6v6.1h-6zM1004.4 421.1h6v6.1h-6zM1009.7 421.1h6v6.1h-6zM1023.3 70.7h6v6.1h-6zM1023.3 142.1h6v6.1h-6zM1038.9 70.7h6v6.1h-6zM1038.9 142.1h6v6.1h-6zM1038.9 331.7h6v6.1h-6zM1049.2 70.7h6v6.1h-6zM1049.2 142.1h6v6.1h-6zM1049.2 331.7h6v6.1h-6zM1066.2 70.7h6v6.1h-6zM1066.2 142.1h6v6.1h-6zM1066.2 331.7h6v6.1h-6zM1076.5 421.1h6v6.1h-6zM1082 421.1h6v6.1h-6zM1104.3 80.2h6v6.1h-6zM1104.3 84.1h6v6.1h-6zM1104.3 99.8h6v6.1h-6zM1104.3 122.2h6v6.1h-6zM1104.3 135.4h6v6.1h-6zM1104.3 151.3h6v6.1h-6zM1119.5 80.2h6v6.1h-6zM1119.5 84.1h6v6.1h-6zM1119.5 99.8h6v6.1h-6zM1119.5 122.2h6v6.1h-6zM1119.5 135.4h6v6.1h-6zM1119.5 151.3h6v6.1h-6zM1132.9 80.2h6v6.1h-6zM1132.9 84.1h6v6.1h-6zM1132.9 99.8h6v6.1h-6zM1132.9 122.2h6v6.1h-6zM1132.9 135.4h6v6.1h-6zM1132.9 151.3h6v6.1h-6zM1143.6 70.7h6v6.1h-6zM1143.6 142.1h6v6.1h-6zM1155.6 80.2h6v6.1h-6zM1155.6 84.1h6v6.1h-6zM1155.6 99.8h6v6.1h-6zM1155.6 122.2h6v6.1h-6zM1155.6 135.4h6v6.1h-6zM1155.6 151.3h6v6.1h-6zM1165.9 80.2h6v6.1h-6zM1165.9 84.1h6v6.1h-6zM1165.9 99.8h6v6.1h-6zM1165.9 122.2h6v6.1h-6zM1165.9 135.4h6v6.1h-6zM1165.9 151.3h6v6.1h-6zM1176.2 80.2h6v6.1h-6zM1176.2 84.1h6v6.1h-6zM1176.2 99.8h6v6.1h-6zM1176.2 122.2h6v6.1h-6zM1176.2 135.4h6v6.1h-6zM1176.2 151.3h6v6.1h-6zM1186.5 76.2h6v6.1h-6zM1186.5 80.2h6v6.1h-6zM1186.5 84.1h6v6.1h-6zM1186.5 99.8h6v6.1h-6zM1186.5 113.1h6v6.1h-6zM1186.5 151.3h6v6.1h-6z"/>
<path fill="#ffad5c" d="M934.2 369.8h6v6.1h-6zM934.2 381.7h6v6.1h-6zM939.7 369.8h6v6.1h-6zM939.7 381.7h6v6.1h-6zM953.1 76.2h6v6.1h-6zM953.1 80.2h6v6.1h-6zM953.1 84.1h6v6.1h-6zM953.1 99.8h6v6.1h-6zM953.1 122.2h6v6.1h-6zM953.1 135.4h6v6.1h-6zM953.1 151.3h6v6.1h-6zM966.6 80.2h6v6.1h-6zM966.6 84.1h6v6.1h-6zM966.6 99.8h6v6.1h-6zM966.6 122.2h6v6.1h-6zM966.6 135.4h6v6.1h-6zM966.6 151.3h6v6.1h-6zM975.4 369.8h6v6.1h-6zM975.4 381.7h6v6.1h-6zM980.5 369.8h6v6.1h-6zM980.5 381.7h6v6.1h-6zM995.8 80.2h6v6.1h-6zM995.8 84.1h6v6.1h-6zM995.8 99.8h6v6.1h-6zM995.8 122.2h6v6.1h-6zM995.8 135.4h6v6.1h-6zM995.8 151.3h6v6.1h-6zM1004.4 369.8h6v6.1h-6zM1004.4 381.7h6v6.1h-6zM1009.7 369.8h6v6.1h-6zM1009.7 381.7h6v6.1h-6zM1023.3 76.2h6v6.1h-6zM1023.3 80.2h6v6.1h-6zM1023.3 84.1h6v6.1h-6zM1023.3 99.8h6v6.1h-6zM1023.3 122.2h6v6.1h-6zM1023.3 135.4h6v6.1h-6zM1023.3 151.3h6v6.1h-6zM1038.9 80.2h6v6.1h-6zM1038.9 84.1h6v6.1h-6zM1038.9 99.8h6v6.1h-6zM1038.9 122.2h6v6.1h-6zM1038.9 135.4h6v6.1h-6zM1038.9 151.3h6v6.1h-6zM1049.2 80.2h6v6.1h-6zM1049.2 84.1h6v6.1h-6zM1049.2 99.8h6v6.1h-6zM1049.2 122.2h6v6.1h-6zM1049.2 135.4h6v6.1h-6zM1049.2 151.3h6v6.1h-6zM1066.2 80.2h6v6.1h-6zM1066.2 84.1h6v6.1h-6zM1066.2 99.8h6v6.1h-6zM1066.2 122.2h6v6.1h-6zM1066.2 135.4h6v6.1h-6zM1066.2 151.3h6v6.1h-6zM1076.5 369.8h6v6.1h-6zM1076.5 381.7h6v6.1h-6zM1082 369.8h6v6.1h-6zM1082 381.7h6v6.1h-6zM1104.3 76.2h6v6.1h-6zM1104.3 113.1h6v6.1h-6zM1119.5 76.2h6v6.1h-6zM1119.5 113.1h6v6.1h-6zM1132.9 76.2h6v6.1h-6zM1132.9 113.1h6v6.1h-6zM1143.6 76.2h6v6.1h-6zM1143.6 80.2h6v6.1h-6zM1143.6 84.1h6v6.1h-6zM1143.6 99.8h6v6.1h-6zM1143.6 122.2h6v6.1h-6zM1143.6 135.4h6v6.1h-6zM1143.6 151.3h6v6.1h-6zM1155.6 76.2h6v6.1h-6zM1155.6 113.1h6v6.1h-6zM1165.9 76.2h6v6.1h-6zM1165.9 113.1h6v6.1h-6zM1176.2 76.2h6v6.1h-6zM1176.2 113.1h6v6.1h-6z"/>
<path fill="#ffa347" d="M934.2 64.5h6v6.1h-6zM934.2 277.6h6v6.1h-6zM934.2 310.2h6v6.1h-6zM934.2 315.8h6v6.1h-6zM934.2 347.5h6v6.1h-6zM934.2 404.8h6v6.1h-6zM939.7 64.5h6v6.1h-6zM939.7 277.6h6v6.1h-6zM939.7 310.2h6v6.1h-6zM939.7 315.8h6v6.1h-6zM939.7 347.5h6v6.1h-6zM939.7 404.8h6v6.1h-6zM953.1 113.1h6v6.1h-6zM966.6 76.2h6v6.1h-6zM966.6 113.1h6v6.1h-6zM975.4 64.5h6v6.1h-6zM975.4 277.6h6v6.1h-6zM975.4 310.2h6v6.1h-6zM975.4 315.8h6v6.1h-6zM975.4 347.5h6v6.1h-6zM975.4 404.8h6v6.1h-6zM980.5 64.5h6v6.1h-6zM980.5 277.6h6v6.1h-6zM980.5 310.2h6v6.1h-6zM980.5 315.8h6v6.1h-6zM980.5 347.5h6v6.1h-6zM980.5 404.8h6v6.1h-6zM995.8 76.2h6v6.1h-6zM995.8 113.1h6v6.1h-6zM1004.4 64.5h6v6.1h-6zM1004.4 277.6h6v6.1h-6zM1004.4 310.2h6v6.1h-6zM1004.4 315.8h6v6.1h-6zM1004.4 347.5h6v6.1h-6zM1004.4 404.8h6v6.1h-6zM1009.7 64.5h6v6.1h-6zM1009.7 277.6h6v6.1h-6zM1009.7 310.2h6v6.1h-6zM1009.7 315.8h6v6.1h-6zM1009.7 347.5h6v6.1h-6zM1009.7 404.8h6v6.1h-6zM1023.3 113.1h6v6.1h-6zM1038.9 76.2h6v6.1h-6zM1038.9 113.1h6v6.1h-6zM1049.2 76.2h6v6.1h-6zM1049.2 113.1h6v6.1h-6zM1066.2 76.2h6v6.1h-6zM1066.2 113.1h6v6.1h-6zM1076.5 64.5h6v6.1h-6zM1076.5 277.6h6v6.1h-6zM1076.5 310.2h6v6.1h-6zM1076.5 315.8h6v6.1h-6zM1076.5 347.5h6v6.1h-6zM1076.5 404.8h6v6.1h-6zM1082 64.5h6v6.1h-6zM1082 277.6h6v6.1h-6zM1082 310.2h6v6.1h-6zM1082 315.8h6v6.1h-6zM1082 347.5h6v6.1h-6zM1082 404.8h6v6.1h-6zM1143.6 113.1h6v6.1h-6z"/>
<path fill="#ff9933" d="M934.2 286.9h6v6.1h-6zM934.2 303.9h6v6.1h-6zM934.2 339.5h6v6.1h-6zM934.2 364.5h6v6.1h-6zM934.2 400.1h6v6.1h-6zM939.7 286.9h6v6.1h-6zM939.7 303.9h6v6.1h-6zM939.7 339.5h6v6.1h-6zM939.7 364.5h6v6.1h-6zM939.7 400.1h6v6.1h-6zM975.4 286.9h6v6.1h-6zM975.4 303.9h6v6.1h-6zM975.4 339.5h6v6.1h-6zM975.4 364.5h6v6.1h-6zM975.4 400.1h6v6.1h-6zM980.5 286.9h6v6.1h-6zM980.5 303.9h6v6.1h-6zM980.5 339.5h6v6.1h-6zM980.5 364.5h6v6.1h-6zM980.5 400.1h6v6.1h-6zM1004.4 286.9h6v6.1h-6zM1004.4 303.9h6v6.1h-6zM1004.4 339.5h6v6.1h-6zM1004.4 364.5h6v6.1h-6zM1004.4 400.1h6v6.1h-6zM1009.7 286.9h6v6.1h-6zM1009.7 303.9h6v6.1h-6zM1009.7 339.5h6v6.1h-6zM1009.7 364.5h6v6.1h-6zM1009.7 400.1h6v6.1h-6zM1076.5 286.9h6v6.1h-6zM1076.5 303.9h6v6.1h-6zM1076.5 339.5h6v6.1h-6zM1076.5 364.5h6v6.1h-6zM1076.5 400.1h6v6.1h-6zM1082 286.9h6v6.1h-6zM1082 303.9h6v6.1h-6zM1082 339.5h6v6.1h-6zM1082 364.5h6v6.1h-6zM1082 400.1h6v6.1h-6z"/>
<path fill="#ff8f1f" d="M934.2 331.7h6v6.1h-6zM939.7 331.7h6v6.1h-6zM975.4 331.7h6v6.1h-6zM980.5 331.7h6v6.1h-6zM1004.4 331.7h6v6.1h-6zM1009.7 331.7h6v6.1h-6zM1076.5 331.7h6v6.1h-6zM1082 331.7h6v6.1h-6z"/>
<path fill="#ff850a" d="M934.2 70.7h6v6.1h-6zM934.2 142.1h6v6.1h-6zM939.7 70.7h6v6.1h-6zM939.7 142.1h6v6.1h-6zM975.4 70.7h6v6.1h-6zM975.4 142.1h6v6.1h-6zM980.5 70.7h6v6.1h-6zM980.5 142.1h6v6.1h-6zM1004.4 70.7h6v6.1h-6zM1004.4 142.1h6v6.1h-6zM1009.7 70.7h6v6.1h-6zM1009.7 142.1h6v6.1h-6zM1076.5 70.7h6v6.1h-6zM1076.5 142.1h6v6.1h-6zM1082 70.7h6v6.1h-6zM1082 142.1h6v6.1h-6z"/>
<path fill="#ff7a00" d="M934.2 122.2h6v6.1h-6zM934.2 135.4h6v6.1h-6zM939.7 122.2h6v6.1h-6zM939.7 135.4h6v6.1h-6zM975.4 122.2h6v6.1h-6zM975.4 135.4h6v6.1h-6zM980.5 122.2h6v6.1h-6zM980.5 135.4h6v6.1h-6zM1004.4 122.2h6v6.1h-6zM1004.4 135.4h6v6.1h-6zM1009.7 122.2h6v6.1h-6zM1009.7 135.4h6v6.1h-6zM1076.5 122.2h6v6.1h-6zM1076.5 135.4h6v6.1h-6zM1082 122.2h6v6.1h-6zM1082 135.4h6v6.1h-6z"/>
<path fill="#ff7000" d="M934.2 80.2h6v6.1h-6zM934.2 84.1h6v6.1h-6zM934.2 99.8h6v6.1h-6zM934.2 151.3h6v6.1h-6zM939.7 80.2h6v6.1h-6zM939.7 84.1h6v6.1h-6zM939.7 99.8h6v6.1h-6zM939.7 151.3h6v6.1h-6zM975.4 80.2h6v6.1h-6zM975.4 84.1h6v6.1h-6zM975.4 99.8h6v6.1h-6zM975.4 151.3h6v6.1h-6zM980.5 80.2h6v6.1h-6zM980.5 84.1h6v6.1h-6zM980.5 99.8h6v6.1h-6zM980.5 151.3h6v6.1h-6zM1004.4 80.2h6v6.1h-6zM1004.4 84.1h6v6.1h-6zM1004.4 99.8h6v6.1h-6zM1004.4 151.3h6v6.1h-6zM1009.7 80.2h6v6.1h-6zM1009.7 84.1h6v6.1h-6zM1009.7 99.8h6v6.1h-6zM1009.7 151.3h6v6.1h-6zM1076.5 80.2h6v6.1h-6zM1076.5 84.1h6v6.1h-6zM1076.5 99.8h6v6.1h-6zM1076.5 151.3h6v6.1h-6zM1082 80.2h6v6.1h-6zM1082 84.1h6v6.1h-6zM1082 99.8h6v6.1h-6zM1082 151.3h6v6.1h-6z"/>
<path fill="#ff6600" d="M934.2 76.2h6v6.1h-6zM934.2 113.1h6v6.1h-6zM939.7 76.2h6v6.1h-6zM939.7 113.1h6v6.1h-6zM975.4 76.2h6v6.1h-6zM975.4 113.1h6v6.1h-6zM980.5 76.2h6v6.1h-6zM980.5 113.1h6v6.1h-6zM1004.4 76.2h6v6.1h-6zM1004.4 113.1h6v6.1h-6zM1009.7 76.2h6v6.1h-6zM1009.7 113.1h6v6.1h-6zM1076.5 76.2h6v6.1h-6zM1076.5 113.1h6v6.1h-6zM1082 76.2h6v6.1h-6zM1082 113.1h6v6.1h-6z"/>
<path fill="#ffe0c2" d="M1215.6 205.1h2.3v3.8h-2.3zM1215.6 180.1h2.3v3.8h-2.3zM1245.1 205.1h2.3v3.8h-2.3zM1245.1 180.1h2.3v3.8h-2.3zM1269.3 205.1h2.3v3.8h-2.3zM1269.3 180.1h2.3v3.8h-2.3zM1215.6 227.4h2.3v3.8h-2.3zM1215.6 191.9h2.3v3.8h-2.3zM1245.1 227.4h2.3v3.8h-2.3zM1245.1 191.9h2.3v3.8h-2.3zM1269.3 227.4h2.3v3.8h-2.3zM1269.3 191.9h2.3v3.8h-2.3zM922 215.7h2.3v3.8h-2.3zM1188.3 215.7h2.3v3.8h-2.3zM922 205.1h2.3v3.8h-2.3zM922 180.1h2.3v3.8h-2.3z"/>
<path fill="#ffd6ad" d="M1215.6 165.5h2.3v3.8h-2.3zM1245.1 165.5h2.3v3.8h-2.3zM1269.3 165.5h2.3v3.8h-2.3zM1188.3 205.1h2.3v3.8h-2.3zM1188.3 180.1h2.3v3.8h-2.3zM922 227.4h2.3v3.8h-2.3zM922 191.9h2.3v3.8h-2.3zM1106.1 215.7h2.3v3.8h-2.3zM1121.4 215.7h2.3v3.8h-2.3zM1134.8 215.7h2.3v3.8h-2.3zM1157.4 215.7h2.3v3.8h-2.3zM1167.7 215.7h2.3v3.8h-2.3zM1178 215.7h2.3v3.8h-2.3zM1188.3 227.4h2.3v3.8h-2.3zM1188.3 191.9h2.3v3.8h-2.3zM1106.1 205.1h2.3v3.8h-2.3zM1106.1 180.1h2.3v3.8h-2.3zM1121.4 205.1h2.3v3.8h-2.3zM1121.4 180.1h2.3v3.8h-2.3zM1134.8 205.1h2.3v3.8h-2.3zM1134.8 180.1h2.3v3.8h-2.3zM1157.4 205.1h2.3v3.8h-2.3zM1157.4 180.1h2.3v3.8h-2.3zM1167.7 205.1h2.3v3.8h-2.3zM1167.7 180.1h2.3v3.8h-2.3zM1178 205.1h2.3v3.8h-2.3zM1178 180.1h2.3v3.8h-2.3zM954.9 215.7h2.3v3.8h-2.3zM1025.1 215.7h2.3v3.8h-2.3zM1145.4 215.7h2.3v3.8h-2.3zM1215.6 241.8h2.3v3.8h-2.3zM1245.1 241.8h2.3v3.8h-2.3zM1269.3 241.8h2.3v3.8h-2.3zM1106.1 227.4h2.3v3.8h-2.3zM1106.1 191.9h2.3v3.8h-2.3zM1121.4 227.4h2.3v3.8h-2.3zM1121.4 191.9h2.3v3.8h-2.3zM1134.8 227.4h2.3v3.8h-2.3zM1134.8 191.9h2.3v3.8h-2.3zM1157.4 227.4h2.3v3.8h-2.3zM1157.4 191.9h2.3v3.8h-2.3zM1167.7 227.4h2.3v3.8h-2.3zM1167.7 191.9h2.3v3.8h-2.3zM1178 227.4h2.3v3.8h-2.3zM1178 191.9h2.3v3.8h-2.3zM968.5 215.7h2.3v3.8h-2.3zM997.7 215.7h2.3v3.8h-2.3zM1040.7 215.7h2.3v3.8h-2.3zM1051 215.7h2.3v3.8h-2.3zM1068 215.7h2.3v3.8h-2.3zM954.9 205.1h2.3v3.8h-2.3zM954.9 180.1h2.3v3.8h-2.3zM1025.1 205.1h2.3v3.8h-2.3zM1025.1 180.1h2.3v3.8h-2.3zM1145.4 205.1h2.3v3.8h-2.3zM1145.4 180.1h2.3v3.8h-2.3zM968.5 205.1h2.3v3.8h-2.3zM968.5 180.1h2.3v3.8h-2.3zM997.7 205.1h2.3v3.8h-2.3zM997.7 180.1h2.3v3.8h-2.3zM1040.7 205.1h2.3v3.8h-2.3zM1040.7 180.1h2.3v3.8h-2.3zM1051 205.1h2.3v3.8h-2.3zM1051 180.1h2.3v3.8h-2.3zM1068 205.1h2.3v3.8h-2.3zM1068 180.1h2.3v3.8h-2.3zM954.9 227.4h2.3v3.8h-2.3zM954.9 191.9h2.3v3.8h-2.3zM1025.1 227.4h2.3v3.8h-2.3zM1025.1 191.9h2.3v3.8h-2.3zM1145.4 227.4h2.3v3.8h-2.3zM1145.4 191.9h2.3v3.8h-2.3zM922 165.5h2.3v3.8h-2.3zM968.5 227.4h2.3v3.8h-2.3zM968.5 191.9h2.3v3.8h-2.3zM997.7 227.4h2.3v3.8h-2.3zM997.7 191.9h2.3v3.8h-2.3zM1040.7 227.4h2.3v3.8h-2.3zM1040.7 191.9h2.3v3.8h-2.3zM1051 227.4h2.3v3.8h-2.3zM1051 191.9h2.3v3.8h-2.3zM1068 227.4h2.3v3.8h-2.3zM1068 191.9h2.3v3.8h-2.3zM1188.3 165.5h2.3v3.8h-2.3z"/>
<path fill="#ffcc99" d="M1106.1 165.5h2.3v3.8h-2.3zM1121.4 165.5h2.3v3.8h-2.3zM1134.8 165.5h2.3v3.8h-2.3zM1157.4 165.5h2.3v3.8h-2.3zM1167.7 165.5h2.3v3.8h-2.3zM1178 165.5h2.3v3.8h-2.3zM922 241.8h2.3v3.8h-2.3zM1188.3 241.8h2.3v3.8h-2.3zM954.9 165.5h2.3v3.8h-2.3zM1025.1 165.5h2.3v3.8h-2.3zM1145.4 165.5h2.3v3.8h-2.3zM1215.6 422.2h2.3v3.8h-2.3zM1245.1 422.2h2.3v3.8h-2.3zM1269.3 422.2h2.3v3.8h-2.3zM968.5 165.5h2.3v3.8h-2.3zM997.7 165.5h2.3v3.8h-2.3zM1040.7 165.5h2.3v3.8h-2.3zM1051 165.5h2.3v3.8h-2.3zM1068 165.5h2.3v3.8h-2.3zM1106.1 241.8h2.3v3.8h-2.3zM1121.4 241.8h2.3v3.8h-2.3zM1134.8 241.8h2.3v3.8h-2.3zM1157.4 241.8h2.3v3.8h-2.3zM1167.7 241.8h2.3v3.8h-2.3zM1178 241.8h2.3v3.8h-2.3z"/>
<path fill="#ffc285" d="M954.9 241.8h2.3v3.8h-2.3zM1025.1 241.8h2.3v3.8h-2.3zM1145.4 241.8h2.3v3.8h-2.3zM936.1 215.7h2.3v3.8h-2.3zM941.6 215.7h2.3v3.8h-2.3zM977.2 215.7h2.3v3.8h-2.3zM982.4 215.7h2.3v3.8h-2.3zM1006.2 215.7h2.3v3.8h-2.3zM1011.6 215.7h2.3v3.8h-2.3zM1078.3 215.7h2.3v3.8h-2.3zM1083.8 215.7h2.3v3.8h-2.3zM968.5 241.8h2.3v3.8h-2.3zM997.7 241.8h2.3v3.8h-2.3zM1040.7 241.8h2.3v3.8h-2.3zM1051 241.8h2.3v3.8h-2.3zM1068 241.8h2.3v3.8h-2.3zM1215.6 382.9h2.3v3.8h-2.3zM1215.6 370.9h2.3v3.8h-2.3zM1245.1 382.9h2.3v3.8h-2.3zM1245.1 370.9h2.3v3.8h-2.3zM1269.3 382.9h2.3v3.8h-2.3zM1269.3 370.9h2.3v3.8h-2.3zM936.1 205.1h2.3v3.8h-2.3zM936.1 180.1h2.3v3.8h-2.3zM941.6 205.1h2.3v3.8h-2.3zM941.6 180.1h2.3v3.8h-2.3zM977.2 205.1h2.3v3.8h-2.3zM977.2 180.1h2.3v3.8h-2.3zM982.4 205.1h2.3v3.8h-2.3zM982.4 180.1h2.3v3.8h-2.3zM1006.2 205.1h2.3v3.8h-2.3zM1006.2 180.1h2.3v3.8h-2.3zM1011.6 205.1h2.3v3.8h-2.3zM1011.6 180.1h2.3v3.8h-2.3zM1078.3 205.1h2.3v3.8h-2.3zM1078.3 180.1h2.3v3.8h-2.3zM1083.8 205.1h2.3v3.8h-2.3zM1083.8 180.1h2.3v3.8h-2.3zM1215.6 406h2.3v3.8h-2.3zM1215.6 348.6h2.3v3.8h-2.3zM1215.6 317h2.3v3.8h-2.3zM1215.6 311.3h2.3v3.8h-2.3zM1215.6 278.7h2.3v3.8h-2.3zM1215.6 65.6h2.3v3.8h-2.3zM1245.1 406h2.3v3.8h-2.3zM1245.1 348.6h2.3v3.8h-2.3zM1245.1 317h2.3v3.8h-2.3zM1245.1 311.3h2.3v3.8h-2.3zM1245.1 278.7h2.3v3.8h-2.3zM1245.1 65.6h2.3v3.8h-2.3zM1269.3 406h2.3v3.8h-2.3zM1269.3 348.6h2.3v3.8h-2.3zM1269.3 317h2.3v3.8h-2.3zM1269.3 311.3h2.3v3.8h-2.3zM1269.3 278.7h2.3v3.8h-2.3zM1269.3 65.6h2.3v3.8h-2.3zM936.1 227.4h2.3v3.8h-2.3zM936.1 191.9h2.3v3.8h-2.3zM941.6 227.4h2.3v3.8h-2.3zM941.6 191.9h2.3v3.8h-2.3zM977.2 227.4h2.3v3.8h-2.3zM977.2 191.9h2.3v3.8h-2.3zM982.4 227.4h2.3v3.8h-2.3zM982.4 191.9h2.3v3.8h-2.3zM1006.2 227.4h2.3v3.8h-2.3zM1006.2 191.9h2.3v3.8h-2.3zM1011.6 227.4h2.3v3.8h-2.3zM1011.6 191.9h2.3v3.8h-2.3zM1078.3 227.4h2.3v3.8h-2.3zM1078.3 191.9h2.3v3.8h-2.3zM1083.8 227.4h2.3v3.8h-2.3zM1083.8 191.9h2.3v3.8h-2.3zM922 422.2h2.3v3.8h-2.3z"/>
<path fill="#ffb870" d="M1188.3 422.2h2.3v3.8h-2.3zM1215.6 288h2.3v3.8h-2.3zM1245.1 288h2.3v3.8h-2.3zM1269.3 288h2.3v3.8h-2.3zM1215.6 401.2h2.3v3.8h-2.3zM1215.6 365.6h2.3v3.8h-2.3zM1215.6 340.6h2.3v3.8h-2.3zM1215.6 305.1h2.3v3.8h-2.3zM1245.1 401.2h2.3v3.8h-2.3zM1245.1 365.6h2.3v3.8h-2.3zM1245.1 340.6h2.3v3.8h-2.3zM1245.1 305.1h2.3v3.8h-2.3zM1269.3 401.2h2.3v3.8h-2.3zM1269.3 365.6h2.3v3.8h-2.3zM1269.3 340.6h2.3v3.8h-2.3zM1269.3 305.1h2.3v3.8h-2.3zM1106.1 422.2h2.3v3.8h-2.3zM1121.4 422.2h2.3v3.8h-2.3zM1134.8 422.2h2.3v3.8h-2.3zM1157.4 422.2h2.3v3.8h-2.3zM1167.7 422.2h2.3v3.8h-2.3zM1178 422.2h2.3v3.8h-2.3z"/>
<path fill="#ffad5c" d="M1215.6 332.9h2.3v3.8h-2.3zM1245.1 332.9h2.3v3.8h-2.3zM1269.3 332.9h2.3v3.8h-2.3zM922 382.9h2.3v3.8h-2.3zM922 370.9h2.3v3.8h-2.3zM954.9 422.2h2.3v3.8h-2.3zM1025.1 422.2h2.3v3.8h-2.3zM1145.4 422.2h2.3v3.8h-2.3zM1188.3 382.9h2.3v3.8h-2.3zM1188.3 370.9h2.3v3.8h-2.3zM936.1 165.5h2.3v3.8h-2.3zM941.6 165.5h2.3v3.8h-2.3zM977.2 165.5h2.3v3.8h-2.3zM982.4 165.5h2.3v3.8h-2.3zM1006.2 165.5h2.3v3.8h-2.3zM1011.6 165.5h2.3v3.8h-2.3zM1078.3 165.5h2.3v3.8h-2.3zM1083.8 165.5h2.3v3.8h-2.3zM1215.6 143.2h2.3v3.8h-2.3zM1215.6 71.8h2.3v3.8h-2.3zM1245.1 143.2h2.3v3.8h-2.3zM1245.1 71.8h2.3v3.8h-2.3zM1269.3 143.2h2.3v3.8h-2.3zM1269.3 71.8h2.3v3.8h-2.3zM968.5 422.2h2.3v3.8h-2.3zM997.7 422.2h2.3v3.8h-2.3zM1040.7 422.2h2.3v3.8h-2.3zM1051 422.2h2.3v3.8h-2.3zM1068 422.2h2.3v3.8h-2.3zM922 406h2.3v3.8h-2.3zM922 348.6h2.3v3.8h-2.3zM922 317h2.3v3.8h-2.3zM922 311.3h2.3v3.8h-2.3zM922 278.7h2.3v3.8h-2.3zM922 65.6h2.3v3.8h-2.3zM1188.3 406h2.3v3.8h-2.3zM1188.3 348.6h2.3v3.8h-2.3zM1188.3 317h2.3v3.8h-2.3zM1188.3 311.3h2.3v3.8h-2.3zM1188.3 278.7h2.3v3.8h-2.3zM1188.3 65.6h2.3v3.8h-2.3z"/>
<path fill="#ffa347" d="M1106.1 382.9h2.3v3.8h-2.3zM1106.1 370.9h2.3v3.8h-2.3zM1121.4 382.9h2.3v3.8h-2.3zM1121.4 370.9h2.3v3.8h-2.3zM1134.8 382.9h2.3v3.8h-2.3zM1134.8 370.9h2.3v3.8h-2.3zM1157.4 382.9h2.3v3.8h-2.3zM1157.4 370.9h2.3v3.8h-2.3zM1167.7 382.9h2.3v3.8h-2.3zM1167.7 370.9h2.3v3.8h-2.3zM1178 382.9h2.3v3.8h-2.3zM1178 370.9h2.3v3.8h-2.3zM922 288h2.3v3.8h-2.3zM1215.6 136.6h2.3v3.8h-2.3zM1215.6 123.3h2.3v3.8h-2.3zM1245.1 136.6h2.3v3.8h-2.3zM1245.1 123.3h2.3v3.8h-2.3zM1269.3 136.6h2.3v3.8h-2.3zM1269.3 123.3h2.3v3.8h-2.3zM1188.3 288h2.3v3.8h-2.3zM936.1 241.8h2.3v3.8h-2.3zM941.6 241.8h2.3v3.8h-2.3zM977.2 241.8h2.3v3.8h-2.3zM982.4 241.8h2.3v3.8h-2.3zM1006.2 241.8h2.3v3.8h-2.3zM1011.6 241.8h2.3v3.8h-2.3zM1078.3 241.8h2.3v3.8h-2.3zM1083.8 241.8h2.3v3.8h-2.3zM1215.6 152.5h2.3v3.8h-2.3zM1215.6 101h2.3v3.8h-2.3zM1215.6 85.3h2.3v3.8h-2.3zM1215.6 81.3h2.3v3.8h-2.3zM1245.1 152.5h2.3v3.8h-2.3zM1245.1 101h2.3v3.8h-2.3zM1245.1 85.3h2.3v3.8h-2.3zM1245.1 81.3h2.3v3.8h-2.3zM1269.3 152.5h2.3v3.8h-2.3zM1269.3 101h2.3v3.8h-2.3zM1269.3 85.3h2.3v3.8h-2.3zM1269.3 81.3h2.3v3.8h-2.3zM954.9 382.9h2.3v3.8h-2.3zM954.9 370.9h2.3v3.8h-2.3zM1025.1 382.9h2.3v3.8h-2.3zM1025.1 370.9h2.3v3.8h-2.3zM1145.4 382.9h2.3v3.8h-2.3zM1145.4 370.9h2.3v3.8h-2.3zM1106.1 406h2.3v3.8h-2.3zM1106.1 348.6h2.3v3.8h-2.3zM1106.1 317h2.3v3.8h-2.3zM1106.1 311.3h2.3v3.8h-2.3zM1106.1 278.7h2.3v3.8h-2.3zM1106.1 65.6h2.3v3.8h-2.3zM1121.4 406h2.3v3.8h-2.3zM1121.4 348.6h2.3v3.8h-2.3zM1121.4 317h2.3v3.8h-2.3zM1121.4 311.3h2.3v3.8h-2.3zM1121.4 278.7h2.3v3.8h-2.3zM1121.4 65.6h2.3v3.8h-2.3zM1134.8 406h2.3v3.8h-2.3zM1134.8 348.6h2.3v3.8h-2.3zM1134.8 317h2.3v3.8h-2.3zM1134.8 311.3h2.3v3.8h-2.3zM1134.8 278.7h2.3v3.8h-2.3zM1134.8 65.6h2.3v3.8h-2.3zM1157.4 406h2.3v3.8h-2.3zM1157.4 348.6h2.3v3.8h-2.3zM1157.4 317h2.3v3.8h-2.3zM1157.4 311.3h2.3v3.8h-2.3zM1157.4 278.7h2.3v3.8h-2.3zM1157.4 65.6h2.3v3.8h-2.3zM1167.7 406h2.3v3.8h-2.3zM1167.7 348.6h2.3v3.8h-2.3zM1167.7 317h2.3v3.8h-2.3zM1167.7 311.3h2.3v3.8h-2.3zM1167.7 278.7h2.3v3.8h-2.3zM1167.7 65.6h2.3v3.8h-2.3zM1178 406h2.3v3.8h-2.3zM1178 348.6h2.3v3.8h-2.3zM1178 317h2.3v3.8h-2.3zM1178 311.3h2.3v3.8h-2.3zM1178 278.7h2.3v3.8h-2.3zM1178 65.6h2.3v3.8h-2.3zM922 401.2h2.3v3.8h-2.3zM922 365.6h2.3v3.8h-2.3zM922 340.6h2.3v3.8h-2.3zM922 305.1h2.3v3.8h-2.3z"/>
<path fill="#ff9933" d="M1188.3 401.2h2.3v3.8h-2.3zM1188.3 365.6h2.3v3.8h-2.3zM1188.3 340.6h2.3v3.8h-2.3zM1188.3 305.1h2.3v3.8h-2.3zM1215.6 77.3h2.3v3.8h-2.3zM1245.1 77.3h2.3v3.8h-2.3zM1269.3 77.3h2.3v3.8h-2.3zM968.5 382.9h2.3v3.8h-2.3zM968.5 370.9h2.3v3.8h-2.3zM997.7 382.9h2.3v3.8h-2.3zM997.7 370.9h2.3v3.8h-2.3zM1040.7 382.9h2.3v3.8h-2.3zM1040.7 370.9h2.3v3.8h-2.3zM1051 382.9h2.3v3.8h-2.3zM1051 370.9h2.3v3.8h-2.3zM1068 382.9h2.3v3.8h-2.3zM1068 370.9h2.3v3.8h-2.3zM922 332.9h2.3v3.8h-2.3zM1215.6 114.2h2.3v3.8h-2.3zM1245.1 114.2h2.3v3.8h-2.3zM1269.3 114.2h2.3v3.8h-2.3zM1106.1 288h2.3v3.8h-2.3zM1121.4 288h2.3v3.8h-2.3zM1134.8 288h2.3v3.8h-2.3zM1157.4 288h2.3v3.8h-2.3zM1167.7 288h2.3v3.8h-2.3zM1178 288h2.3v3.8h-2.3zM954.9 406h2.3v3.8h-2.3zM954.9 348.6h2.3v3.8h-2.3zM954.9 317h2.3v3.8h-2.3zM954.9 311.3h2.3v3.8h-2.3zM954.9 278.7h2.3v3.8h-2.3zM954.9 65.6h2.3v3.8h-2.3zM1025.1 406h2.3v3.8h-2.3zM1025.1 348.6h2.3v3.8h-2.3zM1025.1 317h2.3v3.8h-2.3zM1025.1 311.3h2.3v3.8h-2.3zM1025.1 278.7h2.3v3.8h-2.3zM1025.1 65.6h2.3v3.8h-2.3zM1145.4 406h2.3v3.8h-2.3zM1145.4 348.6h2.3v3.8h-2.3zM1145.4 317h2.3v3.8h-2.3zM1145.4 311.3h2.3v3.8h-2.3zM1145.4 278.7h2.3v3.8h-2.3zM1145.4 65.6h2.3v3.8h-2.3zM1188.3 332.9h2.3v3.8h-2.3z"/>
<path fill="#ff8f1f" d="M922 143.2h2.3v3.8h-2.3zM922 71.8h2.3v3.8h-2.3zM968.5 406h2.3v3.8h-2.3zM968.5 348.6h2.3v3.8h-2.3zM968.5 317h2.3v3.8h-2.3zM968.5 311.3h2.3v3.8h-2.3zM968.5 278.7h2.3v3.8h-2.3zM968.5 65.6h2.3v3.8h-2.3zM997.7 406h2.3v3.8h-2.3zM997.7 348.6h2.3v3.8h-2.3zM997.7 317h2.3v3.8h-2.3zM997.7 311.3h2.3v3.8h-2.3zM997.7 278.7h2.3v3.8h-2.3zM997.7 65.6h2.3v3.8h-2.3zM1040.7 406h2.3v3.8h-2.3zM1040.7 348.6h2.3v3.8h-2.3zM1040.7 317h2.3v3.8h-2.3zM1040.7 311.3h2.3v3.8h-2.3zM1040.7 278.7h2.3v3.8h-2.3zM1040.7 65.6h2.3v3.8h-2.3zM1051 406h2.3v3.8h-2.3zM1051 348.6h2.3v3.8h-2.3zM1051 317h2.3v3.8h-2.3zM1051 311.3h2.3v3.8h-2.3zM1051 278.7h2.3v3.8h-2.3zM1051 65.6h2.3v3.8h-2.3zM1068 406h2.3v3.8h-2.3zM1068 348.6h2.3v3.8h-2.3zM1068 317h2.3v3.8h-2.3zM1068 311.3h2.3v3.8h-2.3zM1068 278.7h2.3v3.8h-2.3zM1068 65.6h2.3v3.8h-2.3zM1106.1 401.2h2.3v3.8h-2.3zM1106.1 365.6h2.3v3.8h-2.3zM1106.1 340.6h2.3v3.8h-2.3zM1106.1 305.1h2.3v3.8h-2.3zM1121.4 401.2h2.3v3.8h-2.3zM1121.4 365.6h2.3v3.8h-2.3zM1121.4 340.6h2.3v3.8h-2.3zM1121.4 305.1h2.3v3.8h-2.3zM1134.8 401.2h2.3v3.8h-2.3zM1134.8 365.6h2.3v3.8h-2.3zM1134.8 340.6h2.3v3.8h-2.3zM1134.8 305.1h2.3v3.8h-2.3zM1157.4 401.2h2.3v3.8h-2.3zM1157.4 365.6h2.3v3.8h-2.3zM1157.4 340.6h2.3v3.8h-2.3zM1157.4 305.1h2.3v3.8h-2.3zM1167.7 401.2h2.3v3.8h-2.3zM1167.7 365.6h2.3v3.8h-2.3zM1167.7 340.6h2.3v3.8h-2.3zM1167.7 305.1h2.3v3.8h-2.3zM1178 401.2h2.3v3.8h-2.3zM1178 365.6h2.3v3.8h-2.3zM1178 340.6h2.3v3.8h-2.3zM1178 305.1h2.3v3.8h-2.3zM954.9 288h2.3v3.8h-2.3zM1025.1 288h2.3v3.8h-2.3zM1145.4 288h2.3v3.8h-2.3zM1188.3 143.2h2.3v3.8h-2.3zM1188.3 71.8h2.3v3.8h-2.3z"/>
<path fill="#ff850a" d="M1106.1 332.9h2.3v3.8h-2.3zM1121.4 332.9h2.3v3.8h-2.3zM1134.8 332.9h2.3v3.8h-2.3zM1157.4 332.9h2.3v3.8h-2.3zM1167.7 332.9h2.3v3.8h-2.3zM1178 332.9h2.3v3.8h-2.3zM968.5 288h2.3v3.8h-2.3zM997.7 288h2.3v3.8h-2.3zM1040.7 288h2.3v3.8h-2.3zM1051 288h2.3v3.8h-2.3zM1068 288h2.3v3.8h-2.3zM954.9 401.2h2.3v3.8h-2.3zM954.9 365.6h2.3v3.8h-2.3zM954.9 340.6h2.3v3.8h-2.3zM954.9 305.1h2.3v3.8h-2.3zM1025.1 401.2h2.3v3.8h-2.3zM1025.1 365.6h2.3v3.8h-2.3zM1025.1 340.6h2.3v3.8h-2.3zM1025.1 305.1h2.3v3.8h-2.3zM1145.4 401.2h2.3v3.8h-2.3zM1145.4 365.6h2.3v3.8h-2.3zM1145.4 340.6h2.3v3.8h-2.3zM1145.4 305.1h2.3v3.8h-2.3zM922 136.6h2.3v3.8h-2.3zM922 123.3h2.3v3.8h-2.3zM1188.3 136.6h2.3v3.8h-2.3zM1188.3 123.3h2.3v3.8h-2.3zM1106.1 143.2h2.3v3.8h-2.3zM1106.1 71.8h2.3v3.8h-2.3zM1121.4 143.2h2.3v3.8h-2.3zM1121.4 71.8h2.3v3.8h-2.3zM1134.8 143.2h2.3v3.8h-2.3zM1134.8 71.8h2.3v3.8h-2.3zM1157.4 143.2h2.3v3.8h-2.3zM1157.4 71.8h2.3v3.8h-2.3zM1167.7 143.2h2.3v3.8h-2.3zM1167.7 71.8h2.3v3.8h-2.3zM1178 143.2h2.3v3.8h-2.3zM1178 71.8h2.3v3.8h-2.3z"/>
<path fill="#ff7a00" d="M968.5 401.2h2.3v3.8h-2.3zM968.5 365.6h2.3v3.8h-2.3zM968.5 340.6h2.3v3.8h-2.3zM968.5 305.1h2.3v3.8h-2.3zM997.7 401.2h2.3v3.8h-2.3zM997.7 365.6h2.3v3.8h-2.3zM997.7 340.6h2.3v3.8h-2.3zM997.7 305.1h2.3v3.8h-2.3zM1040.7 401.2h2.3v3.8h-2.3zM1040.7 365.6h2.3v3.8h-2.3zM1040.7 340.6h2.3v3.8h-2.3zM1040.7 305.1h2.3v3.8h-2.3zM1051 401.2h2.3v3.8h-2.3zM1051 365.6h2.3v3.8h-2.3zM1051 340.6h2.3v3.8h-2.3zM1051 305.1h2.3v3.8h-2.3zM1068 401.2h2.3v3.8h-2.3zM1068 365.6h2.3v3.8h-2.3zM1068 340.6h2.3v3.8h-2.3zM1068 305.1h2.3v3.8h-2.3zM922 152.5h2.3v3.8h-2.3zM922 101h2.3v3.8h-2.3zM922 85.3h2.3v3.8h-2.3zM922 81.3h2.3v3.8h-2.3zM954.9 332.9h2.3v3.8h-2.3zM1025.1 332.9h2.3v3.8h-2.3zM1145.4 332.9h2.3v3.8h-2.3zM1188.3 152.5h2.3v3.8h-2.3zM1188.3 101h2.3v3.8h-2.3zM1188.3 85.3h2.3v3.8h-2.3zM1188.3 81.3h2.3v3.8h-2.3zM922 77.3h2.3v3.8h-2.3zM968.5 332.9h2.3v3.8h-2.3zM997.7 332.9h2.3v3.8h-2.3zM1040.7 332.9h2.3v3.8h-2.3zM1051 332.9h2.3v3.8h-2.3zM1068 332.9h2.3v3.8h-2.3zM954.9 143.2h2.3v3.8h-2.3zM954.9 71.8h2.3v3.8h-2.3zM1025.1 143.2h2.3v3.8h-2.3zM1025.1 71.8h2.3v3.8h-2.3zM1145.4 143.2h2.3v3.8h-2.3zM1145.4 71.8h2.3v3.8h-2.3z"/>
<path fill="#ff7000" d="M1188.3 77.3h2.3v3.8h-2.3zM936.1 422.2h2.3v3.8h-2.3zM941.6 422.2h2.3v3.8h-2.3zM977.2 422.2h2.3v3.8h-2.3zM982.4 422.2h2.3v3.8h-2.3zM1006.2 422.2h2.3v3.8h-2.3zM1011.6 422.2h2.3v3.8h-2.3zM1078.3 422.2h2.3v3.8h-2.3zM1083.8 422.2h2.3v3.8h-2.3zM922 114.2h2.3v3.8h-2.3zM1106.1 136.6h2.3v3.8h-2.3zM1106.1 123.3h2.3v3.8h-2.3zM1121.4 136.6h2.3v3.8h-2.3zM1121.4 123.3h2.3v3.8h-2.3zM1134.8 136.6h2.3v3.8h-2.3zM1134.8 123.3h2.3v3.8h-2.3zM1157.4 136.6h2.3v3.8h-2.3zM1157.4 123.3h2.3v3.8h-2.3zM1167.7 136.6h2.3v3.8h-2.3zM1167.7 123.3h2.3v3.8h-2.3zM1178 136.6h2.3v3.8h-2.3zM1178 123.3h2.3v3.8h-2.3zM1188.3 114.2h2.3v3.8h-2.3zM968.5 143.2h2.3v3.8h-2.3zM968.5 71.8h2.3v3.8h-2.3zM997.7 143.2h2.3v3.8h-2.3zM997.7 71.8h2.3v3.8h-2.3zM1040.7 143.2h2.3v3.8h-2.3zM1040.7 71.8h2.3v3.8h-2.3zM1051 143.2h2.3v3.8h-2.3zM1051 71.8h2.3v3.8h-2.3zM1068 143.2h2.3v3.8h-2.3zM1068 71.8h2.3v3.8h-2.3z"/>
<path fill="#ff6600" d="M1106.1 152.5h2.3v3.8h-2.3zM1106.1 101h2.3v3.8h-2.3zM1106.1 85.3h2.3v3.8h-2.3zM1106.1 81.3h2.3v3.8h-2.3zM1121.4 152.5h2.3v3.8h-2.3zM1121.4 101h2.3v3.8h-2.3zM1121.4 85.3h2.3v3.8h-2.3zM1121.4 81.3h2.3v3.8h-2.3zM1134.8 152.5h2.3v3.8h-2.3zM1134.8 101h2.3v3.8h-2.3zM1134.8 85.3h2.3v3.8h-2.3zM1134.8 81.3h2.3v3.8h-2.3zM1157.4 152.5h2.3v3.8h-2.3zM1157.4 101h2.3v3.8h-2.3zM1157.4 85.3h2.3v3.8h-2.3zM1157.4 81.3h2.3v3.8h-2.3zM1167.7 152.5h2.3v3.8h-2.3zM1167.7 101h2.3v3.8h-2.3zM1167.7 85.3h2.3v3.8h-2.3zM1167.7 81.3h2.3v3.8h-2.3zM1178 152.5h2.3v3.8h-2.3zM1178 101h2.3v3.8h-2.3zM1178 85.3h2.3v3.8h-2.3zM1178 81.3h2.3v3.8h-2.3zM954.9 136.6h2.3v3.8h-2.3zM954.9 123.3h2.3v3.8h-2.3zM1025.1 136.6h2.3v3.8h-2.3zM1025.1 123.3h2.3v3.8h-2.3zM1145.4 136.6h2.3v3.8h-2.3zM1145.4 123.3h2.3v3.8h-2.3zM1106.1 77.3h2.3v3.8h-2.3zM1121.4 77.3h2.3v3.8h-2.3zM1134.8 77.3h2.3v3.8h-2.3zM1157.4 77.3h2.3v3.8h-2.3zM1167.7 77.3h2.3v3.8h-2.3zM1178 77.3h2.3v3.8h-2.3z"/>
<path fill="#ff5c00" d="M954.9 152.5h2.3v3.8h-2.3zM954.9 101h2.3v3.8h-2.3zM954.9 85.3h2.3v3.8h-2.3zM954.9 81.3h2.3v3.8h-2.3zM1025.1 152.5h2.3v3.8h-2.3zM1025.1 101h2.3v3.8h-2.3zM1025.1 85.3h2.3v3.8h-2.3zM1025.1 81.3h2.3v3.8h-2.3zM1145.4 152.5h2.3v3.8h-2.3zM1145.4 101h2.3v3.8h-2.3zM1145.4 85.3h2.3v3.8h-2.3zM1145.4 81.3h2.3v3.8h-2.3zM968.5 136.6h2.3v3.8h-2.3zM968.5 123.3h2.3v3.8h-2.3zM997.7 136.6h2.3v3.8h-2.3zM997.7 123.3h2.3v3.8h-2.3zM1040.7 136.6h2.3v3.8h-2.3zM1040.7 123.3h2.3v3.8h-2.3zM1051 136.6h2.3v3.8h-2.3zM1051 123.3h2.3v3.8h-2.3zM1068 136.6h2.3v3.8h-2.3zM1068 123.3h2.3v3.8h-2.3zM1106.1 114.2h2.3v3.8h-2.3zM1121.4 114.2h2.3v3.8h-2.3zM1134.8 114.2h2.3v3.8h-2.3zM1157.4 114.2h2.3v3.8h-2.3zM1167.7 114.2h2.3v3.8h-2.3zM1178 114.2h2.3v3.8h-2.3z"/>
<path fill="#fc5200" d="M954.9 77.3h2.3v3.8h-2.3zM1025.1 77.3h2.3v3.8h-2.3zM1145.4 77.3h2.3v3.8h-2.3zM936.1 382.9h2.3v3.8h-2.3zM936.1 370.9h2.3v3.8h-2.3zM941.6 382.9h2.3v3.8h-2.3zM941.6 370.9h2.3v3.8h-2.3zM968.5 152.5h2.3v3.8h-2.3zM968.5 101h2.3v3.8h-2.3zM968.5 85.3h2.3v3.8h-2.3zM968.5 81.3h2.3v3.8h-2.3zM977.2 382.9h2.3v3.8h-2.3zM977.2 370.9h2.3v3.8h-2.3zM982.4 382.9h2.3v3.8h-2.3zM982.4 370.9h2.3v3.8h-2.3zM997.7 152.5h2.3v3.8h-2.3zM997.7 101h2.3v3.8h-2.3zM997.7 85.3h2.3v3.8h-2.3zM997.7 81.3h2.3v3.8h-2.3zM1006.2 382.9h2.3v3.8h-2.3zM1006.2 370.9h2.3v3.8h-2.3zM1011.6 382.9h2.3v3.8h-2.3zM1011.6 370.9h2.3v3.8h-2.3zM1040.7 152.5h2.3v3.8h-2.3zM1040.7 101h2.3v3.8h-2.3zM1040.7 85.3h2.3v3.8h-2.3zM1040.7 81.3h2.3v3.8h-2.3zM1051 152.5h2.3v3.8h-2.3zM1051 101h2.3v3.8h-2.3zM1051 85.3h2.3v3.8h-2.3zM1051 81.3h2.3v3.8h-2.3zM1068 152.5h2.3v3.8h-2.3zM1068 101h2.3v3.8h-2.3zM1068 85.3h2.3v3.8h-2.3zM1068 81.3h2.3v3.8h-2.3zM1078.3 382.9h2.3v3.8h-2.3zM1078.3 370.9h2.3v3.8h-2.3zM1083.8 382.9h2.3v3.8h-2.3zM1083.8 370.9h2.3v3.8h-2.3z"/>
<path fill="#f54700" d="M954.9 114.2h2.3v3.8h-2.3zM1025.1 114.2h2.3v3.8h-2.3zM1145.4 114.2h2.3v3.8h-2.3zM968.5 77.3h2.3v3.8h-2.3zM997.7 77.3h2.3v3.8h-2.3zM1040.7 77.3h2.3v3.8h-2.3zM1051 77.3h2.3v3.8h-2.3zM1068 77.3h2.3v3.8h-2.3z"/>
<path fill="#ed3d00" d="M936.1 406h2.3v3.8h-2.3zM936.1 348.6h2.3v3.8h-2.3zM936.1 317h2.3v3.8h-2.3zM936.1 311.3h2.3v3.8h-2.3zM936.1 278.7h2.3v3.8h-2.3zM936.1 65.6h2.3v3.8h-2.3zM941.6 406h2.3v3.8h-2.3zM941.6 348.6h2.3v3.8h-2.3zM941.6 317h2.3v3.8h-2.3zM941.6 311.3h2.3v3.8h-2.3zM941.6 278.7h2.3v3.8h-2.3zM941.6 65.6h2.3v3.8h-2.3zM977.2 406h2.3v3.8h-2.3zM977.2 348.6h2.3v3.8h-2.3zM977.2 317h2.3v3.8h-2.3zM977.2 311.3h2.3v3.8h-2.3zM977.2 278.7h2.3v3.8h-2.3zM977.2 65.6h2.3v3.8h-2.3zM982.4 406h2.3v3.8h-2.3zM982.4 348.6h2.3v3.8h-2.3zM982.4 317h2.3v3.8h-2.3zM982.4 311.3h2.3v3.8h-2.3zM982.4 278.7h2.3v3.8h-2.3zM982.4 65.6h2.3v3.8h-2.3zM1006.2 406h2.3v3.8h-2.3zM1006.2 348.6h2.3v3.8h-2.3zM1006.2 317h2.3v3.8h-2.3zM1006.2 311.3h2.3v3.8h-2.3zM1006.2 278.7h2.3v3.8h-2.3zM1006.2 65.6h2.3v3.8h-2.3zM1011.6 406h2.3v3.8h-2.3zM1011.6 348.6h2.3v3.8h-2.3zM1011.6 317h2.3v3.8h-2.3zM1011.6 311.3h2.3v3.8h-2.3zM1011.6 278.7h2.3v3.8h-2.3zM1011.6 65.6h2.3v3.8h-2.3zM1078.3 406h2.3v3.8h-2.3zM1078.3 348.6h2.3v3.8h-2.3zM1078.3 317h2.3v3.8h-2.3zM1078.3 311.3h2.3v3.8h-2.3zM1078.3 278.7h2.3v3.8h-2.3zM1078.3 65.6h2.3v3.8h-2.3zM1083.8 406h2.3v3.8h-2.3zM1083.8 348.6h2.3v3.8h-2.3zM1083.8 317h2.3v3.8h-2.3zM1083.8 311.3h2.3v3.8h-2.3zM1083.8 278.7h2.3v3.8h-2.3zM1083.8 65.6h2.3v3.8h-2.3zM968.5 114.2h2.3v3.8h-2.3zM997.7 114.2h2.3v3.8h-2.3zM1040.7 114.2h2.3v3.8h-2.3zM1051 114.2h2.3v3.8h-2.3zM1068 114.2h2.3v3.8h-2.3z"/>
<path fill="#e53300" d="M936.1 288h2.3v3.8h-2.3zM941.6 288h2.3v3.8h-2.3zM977.2 288h2.3v3.8h-2.3zM982.4 288h2.3v3.8h-2.3zM1006.2 288h2.3v3.8h-2.3zM1011.6 288h2.3v3.8h-2.3zM1078.3 288h2.3v3.8h-2.3zM1083.8 288h2.3v3.8h-2.3z"/>
<path fill="#d61f00" d="M936.1 401.2h2.3v3.8h-2.3zM936.1 365.6h2.3v3.8h-2.3zM936.1 340.6h2.3v3.8h-2.3zM936.1 305.1h2.3v3.8h-2.3zM941.6 401.2h2.3v3.8h-2.3zM941.6 365.6h2.3v3.8h-2.3zM941.6 340.6h2.3v3.8h-2.3zM941.6 305.1h2.3v3.8h-2.3zM977.2 401.2h2.3v3.8h-2.3zM977.2 365.6h2.3v3.8h-2.3zM977.2 340.6h2.3v3.8h-2.3zM977.2 305.1h2.3v3.8h-2.3zM982.4 401.2h2.3v3.8h-2.3zM982.4 365.6h2.3v3.8h-2.3zM982.4 340.6h2.3v3.8h-2.3zM982.4 305.1h2.3v3.8h-2.3zM1006.2 401.2h2.3v3.8h-2.3zM1006.2 365.6h2.3v3.8h-2.3zM1006.2 340.6h2.3v3.8h-2.3zM1006.2 305.1h2.3v3.8h-2.3zM1011.6 401.2h2.3v3.8h-2.3zM1011.6 365.6h2.3v3.8h-2.3zM1011.6 340.6h2.3v3.8h-2.3zM1011.6 305.1h2.3v3.8h-2.3zM1078.3 401.2h2.3v3.8h-2.3zM1078.3 365.6h2.3v3.8h-2.3zM1078.3 340.6h2.3v3.8h-2.3zM1078.3 305.1h2.3v3.8h-2.3zM1083.8 401.2h2.3v3.8h-2.3zM1083.8 365.6h2.3v3.8h-2.3zM1083.8 340.6h2.3v3.8h-2.3zM1083.8 305.1h2.3v3.8h-2.3z"/>
<path fill="#c70a00" d="M936.1 332.9h2.3v3.8h-2.3zM941.6 332.9h2.3v3.8h-2.3zM977.2 332.9h2.3v3.8h-2.3zM982.4 332.9h2.3v3.8h-2.3zM1006.2 332.9h2.3v3.8h-2.3zM1011.6 332.9h2.3v3.8h-2.3zM1078.3 332.9h2.3v3.8h-2.3zM1083.8 332.9h2.3v3.8h-2.3z"/>
<path fill="#bf0000" d="M936.1 143.2h2.3v3.8h-2.3zM936.1 71.8h2.3v3.8h-2.3zM941.6 143.2h2.3v3.8h-2.3zM941.6 71.8h2.3v3.8h-2.3zM977.2 143.2h2.3v3.8h-2.3zM977.2 71.8h2.3v3.8h-2.3zM982.4 143.2h2.3v3.8h-2.3zM982.4 71.8h2.3v3.8h-2.3zM1006.2 143.2h2.3v3.8h-2.3zM1006.2 71.8h2.3v3.8h-2.3zM1011.6 143.2h2.3v3.8h-2.3zM1011.6 71.8h2.3v3.8h-2.3zM1078.3 143.2h2.3v3.8h-2.3zM1078.3 71.8h2.3v3.8h-2.3zM1083.8 143.2h2.3v3.8h-2.3zM1083.8 71.8h2.3v3.8h-2.3z"/>
<path fill="#a10000" d="M936.1 136.6h2.3v3.8h-2.3zM936.1 123.3h2.3v3.8h-2.3zM941.6 136.6h2.3v3.8h-2.3zM941.6 123.3h2.3v3.8h-2.3zM977.2 136.6h2.3v3.8h-2.3zM977.2 123.3h2.3v3.8h-2.3zM982.4 136.6h2.3v3.8h-2.3zM982.4 123.3h2.3v3.8h-2.3zM1006.2 136.6h2.3v3.8h-2.3zM1006.2 123.3h2.3v3.8h-2.3zM1011.6 136.6h2.3v3.8h-2.3zM1011.6 123.3h2.3v3.8h-2.3zM1078.3 136.6h2.3v3.8h-2.3zM1078.3 123.3h2.3v3.8h-2.3zM1083.8 136.6h2.3v3.8h-2.3zM1083.8 123.3h2.3v3.8h-2.3z"/>
<path fill="#990000" d="M936.1 152.5h2.3v3.8h-2.3zM936.1 101h2.3v3.8h-2.3zM936.1 85.3h2.3v3.8h-2.3zM936.1 81.3h2.3v3.8h-2.3zM941.6 152.5h2.3v3.8h-2.3zM941.6 101h2.3v3.8h-2.3zM941.6 85.3h2.3v3.8h-2.3zM941.6 81.3h2.3v3.8h-2.3zM977.2 152.5h2.3v3.8h-2.3zM977.2 101h2.3v3.8h-2.3zM977.2 85.3h2.3v3.8h-2.3zM977.2 81.3h2.3v3.8h-2.3zM982.4 152.5h2.3v3.8h-2.3zM982.4 101h2.3v3.8h-2.3zM982.4 85.3h2.3v3.8h-2.3zM982.4 81.3h2.3v3.8h-2.3zM1006.2 152.5h2.3v3.8h-2.3zM1006.2 101h2.3v3.8h-2.3zM1006.2 85.3h2.3v3.8h-2.3zM1006.2 81.3h2.3v3.8h-2.3zM1011.6 152.5h2.3v3.8h-2.3zM1011.6 101h2.3v3.8h-2.3zM1011.6 85.3h2.3v3.8h-2.3zM1011.6 81.3h2.3v3.8h-2.3zM1078.3 152.5h2.3v3.8h-2.3zM1078.3 101h2.3v3.8h-2.3zM1078.3 85.3h2.3v3.8h-2.3zM1078.3 81.3h2.3v3.8h-2.3zM1083.8 152.5h2.3v3.8h-2.3zM1083.8 101h2.3v3.8h-2.3zM1083.8 85.3h2.3v3.8h-2.3zM1083.8 81.3h2.3v3.8h-2.3z"/>
<path fill="#8a0000" d="M936.1 77.3h2.3v3.8h-2.3zM941.6 77.3h2.3v3.8h-2.3zM977.2 77.3h2.3v3.8h-2.3zM982.4 77.3h2.3v3.8h-2.3zM1006.2 77.3h2.3v3.8h-2.3zM1011.6 77.3h2.3v3.8h-2.3zM1078.3 77.3h2.3v3.8h-2.3zM1083.8 77.3h2.3v3.8h-2.3z"/>
<path fill="#820000" d="M936.1 114.2h2.3v3.8h-2.3zM941.6 114.2h2.3v3.8h-2.3zM977.2 114.2h2.3v3.8h-2.3zM982.4 114.2h2.3v3.8h-2.3zM1006.2 114.2h2.3v3.8h-2.3zM1011.6 114.2h2.3v3.8h-2.3zM1078.3 114.2h2.3v3.8h-2.3zM1083.8 114.2h2.3v3.8h-2.3z"/>
<line x1="771.2" y1="70" x2="794.6" y2="70" stroke="#ff0000" stroke-width="1.9"/>
<line x1="771.2" y1="75.1" x2="794.6" y2="75.1" stroke="#ff0000" stroke-width="1.9"/>
<line x1="771.2" y1="85.1" x2="794.6" y2="85.1" stroke="#ff0000" stroke-width="1.9"/>
<line x1="771.2" y1="88.9" x2="794.6" y2="88.9" stroke="#ff0000" stroke-width="1.9"/>
<line x1="771.2" y1="107.8" x2="794.6" y2="107.8" stroke="#ff0000" stroke-width="1.9"/>
<line x1="771.2" y1="119.2" x2="794.6" y2="119.2" stroke="#ff0000" stroke-width="1.9"/>
<line x1="771.2" y1="126.7" x2="794.6" y2="126.7" stroke="#ff0000" stroke-width="1.9"/>
<line x1="771.2" y1="128.6" x2="794.6" y2="128.6" stroke="#ff0000" stroke-width="1.9"/>
<line x1="771.2" y1="149.5" x2="794.6" y2="149.5" stroke="#ff0000" stroke-width="1.9"/>
<line x1="771.2" y1="247.9" x2="794.6" y2="247.9" stroke="#ff0000" stroke-width="1.9"/>
<line x1="771.2" y1="299" x2="794.6" y2="299" stroke="#ff0000" stroke-width="1.9"/>
<line x1="771.2" y1="50.5" x2="794.6" y2="50.5" stroke="#0000ff" stroke-width="1.9"/>
<line x1="771.2" y1="73" x2="794.6" y2="73" stroke="#0000ff" stroke-width="1.9"/>
<line x1="771.2" y1="77.1" x2="794.6" y2="77.1" stroke="#0000ff" stroke-width="1.9"/>
<line x1="771.2" y1="111.6" x2="794.6" y2="111.6" stroke="#0000ff" stroke-width="1.9"/>
<line x1="771.2" y1="113.5" x2="794.6" y2="113.5" stroke="#0000ff" stroke-width="1.9"/>
<line x1="771.2" y1="124.8" x2="794.6" y2="124.8" stroke="#0000ff" stroke-width="1.9"/>
<line x1="771.2" y1="130.5" x2="794.6" y2="130.5" stroke="#0000ff" stroke-width="1.9"/>
<line x1="771.2" y1="132.4" x2="794.6" y2="132.4" stroke="#0000ff" stroke-width="1.9"/>
<line x1="771.2" y1="147.6" x2="794.6" y2="147.6" stroke="#0000ff" stroke-width="1.9"/>
<line x1="771.2" y1="174.1" x2="794.6" y2="174.1" stroke="#0000ff" stroke-width="1.9"/>
<line x1="771.2" y1="181.6" x2="794.6" y2="181.6" stroke="#0000ff" stroke-width="1.9"/>
<line x1="771.2" y1="191.1" x2="794.6" y2="191.1" stroke="#0000ff" stroke-width="1.9"/>
<line x1="771.2" y1="193" x2="794.6" y2="193" stroke="#0000ff" stroke-width="1.9"/>
<line x1="771.2" y1="206.2" x2="794.6" y2="206.2" stroke="#0000ff" stroke-width="1.9"/>
<line x1="771.2" y1="217.6" x2="794.6" y2="217.6" stroke="#0000ff" stroke-width="1.9"/>
<line x1="771.2" y1="223.3" x2="794.6" y2="223.3" stroke="#0000ff" stroke-width="1.9"/>
<line x1="771.2" y1="232.7" x2="794.6" y2="232.7" stroke="#0000ff" stroke-width="1.9"/>
<line x1="771.2" y1="238.4" x2="794.6" y2="238.4" stroke="#0000ff" stroke-width="1.9"/>
<line x1="771.2" y1="263" x2="794.6" y2="263" stroke="#0000ff" stroke-width="1.9"/>
<line x1="771.2" y1="304.7" x2="794.6" y2="304.7" stroke="#0000ff" stroke-width="1.9"/>
<line x1="771.2" y1="357.7" x2="794.6" y2="357.7" stroke="#0000ff" stroke-width="1.9"/>
<line x1="771.2" y1="414.5" x2="794.6" y2="414.5" stroke="#0000ff" stroke-width="1.9"/>
<line x1="771.2" y1="433" x2="794.6" y2="433" stroke="#0000ff" stroke-width="1.9"/>
<line x1="794.3" y1="79.4" x2="817.8" y2="79.4" stroke="#228b22" stroke-width="1.9"/>
<line x1="794.3" y1="104" x2="817.8" y2="104" stroke="#228b22" stroke-width="1.9"/>
<line x1="794.3" y1="117.3" x2="817.8" y2="117.3" stroke="#228b22" stroke-width="1.9"/>
<line x1="794.3" y1="143.8" x2="817.8" y2="143.8" stroke="#228b22" stroke-width="1.9"/>
<line x1="794.3" y1="157" x2="817.8" y2="157" stroke="#228b22" stroke-width="1.9"/>
<line x1="794.3" y1="170.3" x2="817.8" y2="170.3" stroke="#228b22" stroke-width="1.9"/>
<line x1="794.3" y1="183.5" x2="817.8" y2="183.5" stroke="#228b22" stroke-width="1.9"/>
<line x1="794.3" y1="194.9" x2="817.8" y2="194.9" stroke="#228b22" stroke-width="1.9"/>
<line x1="794.3" y1="208.1" x2="817.8" y2="208.1" stroke="#228b22" stroke-width="1.9"/>
<line x1="794.3" y1="219.5" x2="817.8" y2="219.5" stroke="#228b22" stroke-width="1.9"/>
<line x1="794.3" y1="230.9" x2="817.8" y2="230.9" stroke="#228b22" stroke-width="1.9"/>
<line x1="794.3" y1="239.4" x2="817.8" y2="239.4" stroke="#228b22" stroke-width="1.9"/>
<line x1="794.3" y1="282" x2="817.8" y2="282" stroke="#228b22" stroke-width="1.9"/>
<line x1="794.3" y1="291.4" x2="817.8" y2="291.4" stroke="#228b22" stroke-width="1.9"/>
<line x1="794.3" y1="306.6" x2="817.8" y2="306.6" stroke="#228b22" stroke-width="1.9"/>
<line x1="794.3" y1="312.3" x2="817.8" y2="312.3" stroke="#228b22" stroke-width="1.9"/>
<line x1="794.3" y1="319.8" x2="817.8" y2="319.8" stroke="#228b22" stroke-width="1.9"/>
<line x1="794.3" y1="333.1" x2="817.8" y2="333.1" stroke="#228b22" stroke-width="1.9"/>
<line x1="794.3" y1="338.8" x2="817.8" y2="338.8" stroke="#228b22" stroke-width="1.9"/>
<line x1="794.3" y1="344.4" x2="817.8" y2="344.4" stroke="#228b22" stroke-width="1.9"/>
<line x1="794.3" y1="352" x2="817.8" y2="352" stroke="#228b22" stroke-width="1.9"/>
<line x1="794.3" y1="367.2" x2="817.8" y2="367.2" stroke="#228b22" stroke-width="1.9"/>
<line x1="794.3" y1="372.8" x2="817.8" y2="372.8" stroke="#228b22" stroke-width="1.9"/>
<line x1="794.3" y1="386.1" x2="817.8" y2="386.1" stroke="#228b22" stroke-width="1.9"/>
<line x1="794.3" y1="401.2" x2="817.8" y2="401.2" stroke="#228b22" stroke-width="1.9"/>
<line x1="794.3" y1="406.9" x2="817.8" y2="406.9" stroke="#228b22" stroke-width="1.9"/>
<line x1="794.3" y1="425.8" x2="817.8" y2="425.8" stroke="#228b22" stroke-width="1.9"/>
<rect x="817.8" y="62.9" width="23.7" height="4.6" fill="#000"/>
<rect x="817.8" y="121.6" width="23.7" height="2.7" fill="#000"/>
<rect x="817.8" y="233.5" width="23.7" height="2.7" fill="#000"/>
<rect x="817.8" y="242.6" width="23.7" height="5.4" fill="#000"/>
<rect x="817.8" y="263.6" width="23.7" height="2.7" fill="#000"/>
<rect x="817.8" y="282.5" width="23.7" height="2.7" fill="#000"/>
<rect x="817.8" y="379" width="23.7" height="2.7" fill="#000"/>
<rect x="817.8" y="394.2" width="23.7" height="2.7" fill="#000"/>
<line x1="843.2" y1="70" x2="907.1" y2="70" stroke="#333" stroke-width="0.9" stroke-dasharray="2,1.6"/>
<line x1="843.2" y1="75.1" x2="907.1" y2="75.1" stroke="#333" stroke-width="0.9" stroke-dasharray="2,1.6"/>
<line x1="843.2" y1="85.1" x2="907.1" y2="85.1" stroke="#333" stroke-width="0.9" stroke-dasharray="2,1.6"/>
<line x1="843.2" y1="88.9" x2="907.1" y2="88.9" stroke="#333" stroke-width="0.9" stroke-dasharray="2,1.6"/>
<line x1="843.2" y1="107.8" x2="907.1" y2="107.8" stroke="#333" stroke-width="0.9" stroke-dasharray="2,1.6"/>
<line x1="843.2" y1="119.2" x2="907.1" y2="119.2" stroke="#333" stroke-width="0.9" stroke-dasharray="2,1.6"/>
<line x1="843.2" y1="126.7" x2="907.1" y2="126.7" stroke="#333" stroke-width="0.9" stroke-dasharray="2,1.6"/>
<line x1="843.2" y1="128.6" x2="907.1" y2="128.6" stroke="#333" stroke-width="0.9" stroke-dasharray="2,1.6"/>
<line x1="843.2" y1="149.5" x2="907.1" y2="149.5" stroke="#333" stroke-width="0.9" stroke-dasharray="2,1.6"/>
<line x1="843.2" y1="247.9" x2="907.1" y2="247.9" stroke="#333" stroke-width="0.9" stroke-dasharray="2,1.6"/>
<line x1="843.2" y1="299" x2="907.1" y2="299" stroke="#333" stroke-width="0.9" stroke-dasharray="2,1.6"/>
<line x1="843.2" y1="79.4" x2="907.1" y2="79.4" stroke="#333" stroke-width="0.9" stroke-dasharray="2,1.6"/>
<line x1="843.2" y1="104" x2="907.1" y2="104" stroke="#333" stroke-width="0.9" stroke-dasharray="2,1.6"/>
<line x1="843.2" y1="117.3" x2="907.1" y2="117.3" stroke="#333" stroke-width="0.9" stroke-dasharray="2,1.6"/>
<line x1="843.2" y1="143.8" x2="907.1" y2="143.8" stroke="#333" stroke-width="0.9" stroke-dasharray="2,1.6"/>
<line x1="843.2" y1="157" x2="907.1" y2="157" stroke="#333" stroke-width="0.9" stroke-dasharray="2,1.6"/>
<line x1="843.2" y1="170.3" x2="907.1" y2="170.3" stroke="#333" stroke-width="0.9" stroke-dasharray="2,1.6"/>
<line x1="843.2" y1="183.5" x2="907.1" y2="183.5" stroke="#333" stroke-width="0.9" stroke-dasharray="2,1.6"/>
<line x1="843.2" y1="194.9" x2="907.1" y2="194.9" stroke="#333" stroke-width="0.9" stroke-dasharray="2,1.6"/>
<line x1="843.2" y1="208.1" x2="907.1" y2="208.1" stroke="#333" stroke-width="0.9" stroke-dasharray="2,1.6"/>
<line x1="843.2" y1="219.5" x2="907.1" y2="219.5" stroke="#333" stroke-width="0.9" stroke-dasharray="2,1.6"/>
<line x1="843.2" y1="230.9" x2="907.1" y2="230.9" stroke="#333" stroke-width="0.9" stroke-dasharray="2,1.6"/>
<line x1="843.2" y1="239.4" x2="907.1" y2="239.4" stroke="#333" stroke-width="0.9" stroke-dasharray="2,1.6"/>
<line x1="843.2" y1="282" x2="907.1" y2="282" stroke="#333" stroke-width="0.9" stroke-dasharray="2,1.6"/>
<line x1="843.2" y1="291.4" x2="907.1" y2="291.4" stroke="#333" stroke-width="0.9" stroke-dasharray="2,1.6"/>
<line x1="843.2" y1="306.6" x2="907.1" y2="306.6" stroke="#333" stroke-width="0.9" stroke-dasharray="2,1.6"/>
<line x1="843.2" y1="312.3" x2="907.1" y2="312.3" stroke="#333" stroke-width="0.9" stroke-dasharray="2,1.6"/>
<line x1="843.2" y1="319.8" x2="907.1" y2="319.8" stroke="#333" stroke-width="0.9" stroke-dasharray="2,1.6"/>
<line x1="843.2" y1="333.1" x2="907.1" y2="333.1" stroke="#333" stroke-width="0.9" stroke-dasharray="2,1.6"/>
<line x1="843.2" y1="338.8" x2="907.1" y2="338.8" stroke="#333" stroke-width="0.9" stroke-dasharray="2,1.6"/>
<line x1="843.2" y1="344.4" x2="907.1" y2="344.4" stroke="#333" stroke-width="0.9" stroke-dasharray="2,1.6"/>
<line x1="843.2" y1="352" x2="907.1" y2="352" stroke="#333" stroke-width="0.9" stroke-dasharray="2,1.6"/>
<line x1="843.2" y1="367.2" x2="907.1" y2="367.2" stroke="#333" stroke-width="0.9" stroke-dasharray="2,1.6"/>
<line x1="843.2" y1="372.8" x2="907.1" y2="372.8" stroke="#333" stroke-width="0.9" stroke-dasharray="2,1.6"/>
<line x1="843.2" y1="386.1" x2="907.1" y2="386.1" stroke="#333" stroke-width="0.9" stroke-dasharray="2,1.6"/>
<line x1="843.2" y1="401.2" x2="907.1" y2="401.2" stroke="#333" stroke-width="0.9" stroke-dasharray="2,1.6"/>
<line x1="843.2" y1="406.9" x2="907.1" y2="406.9" stroke="#333" stroke-width="0.9" stroke-dasharray="2,1.6"/>
<line x1="843.2" y1="425.8" x2="907.1" y2="425.8" stroke="#333" stroke-width="0.9" stroke-dasharray="2,1.6"/>
<line x1="923.1" y1="438" x2="923.1" y2="508.7" stroke="#333" stroke-width="0.9" stroke-dasharray="2,1.6"/>
<line x1="937.2" y1="438" x2="937.2" y2="508.7" stroke="#333" stroke-width="0.9" stroke-dasharray="2,1.6"/>
<line x1="942.7" y1="438" x2="942.7" y2="508.7" stroke="#333" stroke-width="0.9" stroke-dasharray="2,1.6"/>
<line x1="956.1" y1="438" x2="956.1" y2="508.7" stroke="#333" stroke-width="0.9" stroke-dasharray="2,1.6"/>
<line x1="969.7" y1="438" x2="969.7" y2="508.7" stroke="#333" stroke-width="0.9" stroke-dasharray="2,1.6"/>
<line x1="978.4" y1="438" x2="978.4" y2="508.7" stroke="#333" stroke-width="0.9" stroke-dasharray="2,1.6"/>
<line x1="983.6" y1="438" x2="983.6" y2="508.7" stroke="#333" stroke-width="0.9" stroke-dasharray="2,1.6"/>
<line x1="998.8" y1="438" x2="998.8" y2="508.7" stroke="#333" stroke-width="0.9" stroke-dasharray="2,1.6"/>
<line x1="1007.4" y1="438" x2="1007.4" y2="508.7" stroke="#333" stroke-width="0.9" stroke-dasharray="2,1.6"/>
<line x1="1012.7" y1="438" x2="1012.7" y2="508.7" stroke="#333" stroke-width="0.9" stroke-dasharray="2,1.6"/>
<line x1="1026.3" y1="438" x2="1026.3" y2="508.7" stroke="#333" stroke-width="0.9" stroke-dasharray="2,1.6"/>
<line x1="1041.9" y1="438" x2="1041.9" y2="508.7" stroke="#333" stroke-width="0.9" stroke-dasharray="2,1.6"/>
<line x1="1052.2" y1="438" x2="1052.2" y2="508.7" stroke="#333" stroke-width="0.9" stroke-dasharray="2,1.6"/>
<line x1="1069.2" y1="438" x2="1069.2" y2="508.7" stroke="#333" stroke-width="0.9" stroke-dasharray="2,1.6"/>
<line x1="1079.5" y1="438" x2="1079.5" y2="508.7" stroke="#333" stroke-width="0.9" stroke-dasharray="2,1.6"/>
<line x1="1085" y1="438" x2="1085" y2="508.7" stroke="#333" stroke-width="0.9" stroke-dasharray="2,1.6"/>
<line x1="1107.3" y1="438" x2="1107.3" y2="508.7" stroke="#333" stroke-width="0.9" stroke-dasharray="2,1.6"/>
<line x1="1122.5" y1="438" x2="1122.5" y2="508.7" stroke="#333" stroke-width="0.9" stroke-dasharray="2,1.6"/>
<line x1="1135.9" y1="438" x2="1135.9" y2="508.7" stroke="#333" stroke-width="0.9" stroke-dasharray="2,1.6"/>
<line x1="1146.6" y1="438" x2="1146.6" y2="508.7" stroke="#333" stroke-width="0.9" stroke-dasharray="2,1.6"/>
<line x1="1158.6" y1="438" x2="1158.6" y2="508.7" stroke="#333" stroke-width="0.9" stroke-dasharray="2,1.6"/>
<line x1="1168.9" y1="438" x2="1168.9" y2="508.7" stroke="#333" stroke-width="0.9" stroke-dasharray="2,1.6"/>
<line x1="1179.2" y1="438" x2="1179.2" y2="508.7" stroke="#333" stroke-width="0.9" stroke-dasharray="2,1.6"/>
<line x1="1189.5" y1="438" x2="1189.5" y2="508.7" stroke="#333" stroke-width="0.9" stroke-dasharray="2,1.6"/>
<line x1="1216.8" y1="438" x2="1216.8" y2="508.7" stroke="#333" stroke-width="0.9" stroke-dasharray="2,1.6"/>
<line x1="1246.3" y1="438" x2="1246.3" y2="508.7" stroke="#333" stroke-width="0.9" stroke-dasharray="2,1.6"/>
<line x1="1270.5" y1="438" x2="1270.5" y2="508.7" stroke="#333" stroke-width="0.9" stroke-dasharray="2,1.6"/>
<polygon points="843.2,49.6 852,50 856,53.3 861.3,57.3 865.3,60 870.7,62.7 877.3,65.3 880.7,68 870.7,70.7 866.7,73.3 870.7,75.3 888,77.3 892,79.3 888,82.7 891.3,85.3 888,88 885.3,90.7 877.3,94.7 876,97.3 888,100.7 901.3,104 890.7,107.3 885.3,109.3 863.3,112.7 886.7,114.7 907.3,117.1 896,120 890.7,122.7 892,126.7 890.7,128 865.3,132 886.7,136 900,139.3 896,142.7 870.7,146 878.7,149.3 893.3,153.3 904.7,157.1 886.7,160 864,164 866.7,168 872,170.4 857.3,173.3 858.7,176 853.3,178.7 856,181.3 859.3,183.3 853.3,186.7 850,190.7 856.7,194.7 855.3,200 853.3,205.3 858,208.3 852,213.3 855.3,219.3 851.3,224 860,230.7 853.8,234.9 855.2,238.4 865,240.5 866.4,245.4 860.8,251 856.6,255.9 851.7,262.2 855.2,267.8 859.4,276.2 863.6,279.7 874.8,281.8 866.4,286.7 877.6,291.3 863.6,295.8 862.2,298.9 858.7,302.8 867.8,306.3 874.8,312.2 867.8,315.4 874.8,319.6 865.7,325.2 866.4,328 876.2,332.9 872,335.7 875.5,338.5 872,342 873.4,344.4 868.5,347.6 874.8,351.8 858,356.7 866.4,363 880.4,367.2 874.1,370 881.1,372.8 868.5,377 867.8,381.2 879.7,385.8 866.4,391 866.4,395.2 880.4,401.1 872,403.6 877.6,406.7 853.8,413.4 856.6,419 869.2,425.7 853.8,431.6 849.6,434.4 843.2,434.6" fill="#000"/>
<polygon points="917.3,508.7 918.3,495.1 921.1,491.4 923.4,480.3 926.7,491.4 930.4,490.5 934.1,466.4 936.9,445 939.7,455.2 942.5,448.7 945.2,466.4 948.9,487.7 951.7,487.7 956,464.5 961.9,489.5 965.6,484 969.7,450.6 974,475.6 978.2,437.6 980.5,452.5 983.3,438.5 987,475.6 991.6,496 995.3,475.6 999,456.2 1002.7,481.2 1006.4,444.1 1007.7,438.5 1010.1,457.1 1012.9,439.5 1016.6,475.6 1021.3,492.3 1026.5,467.3 1030.5,491.4 1034.3,493.3 1038,484.9 1042.2,464.5 1046.3,489.5 1049.1,488.6 1052.4,465.4 1056.5,490.5 1060.2,494.2 1063.9,492.3 1069.1,461.7 1073.2,485.8 1076.9,473.8 1079.7,446 1081.6,458.9 1084.3,438.5 1089,484.9 1092.7,489.5 1100.1,496 1103.8,490.5 1107.1,472.9 1111.2,493.3 1114.9,496 1118.6,488.6 1122.9,468.2 1127,490.5 1130.7,493.3 1136.3,471.9 1140,489.5 1142.8,484.9 1146.5,465.4 1151.1,491.4 1154.8,490.5 1158.9,468.2 1163.2,488.6 1168.7,471.9 1172.4,489.5 1175.2,488.6 1179.5,474.7 1184.5,494.2 1187.3,494.2 1189.7,486.8 1193.8,499.7 1199.3,501.6 1206.7,502.5 1213.2,501.6 1216.9,494.2 1222.5,505.3 1229,503.5 1240.1,503.5 1245.7,495.1 1253.1,505.7 1258.7,503.1 1265.2,501.6 1270.2,489.5 1273.5,497.9 1276.3,500.7 1278.1,493.3 1280.9,491.4 1281.2,508.7" fill="#000"/>
<rect x="770.6" y="48.8" width="511.2" height="386.3" fill="none" stroke="#000" stroke-width="1.4"/>
<line x1="843.2" y1="48.8" x2="843.2" y2="435.1" stroke="#000" stroke-width="1.4"/>
<line x1="916.7" y1="48.8" x2="916.7" y2="589.1" stroke="#000" stroke-width="1.4"/>
<rect x="843.2" y="435.1" width="438.6" height="76.5" fill="none" stroke="#000" stroke-width="1.4"/>
<rect x="916.7" y="511.6" width="365.1" height="77.5" fill="none" stroke="#000" stroke-width="1.4"/>
<line x1="766.1" y1="435.3" x2="770.6" y2="435.3" stroke="#000" stroke-width="1.3"/>
<line x1="912.7" y1="435.3" x2="916.7" y2="435.3" stroke="#000" stroke-width="1.2"/>
<text x="762.1" y="443.5" font-family="Liberation Sans, Arial, sans-serif" font-size="23" text-anchor="end">0</text>
<line x1="766.1" y1="340.6" x2="770.6" y2="340.6" stroke="#000" stroke-width="1.3"/>
<line x1="912.7" y1="340.6" x2="916.7" y2="340.6" stroke="#000" stroke-width="1.2"/>
<text x="762.1" y="348.8" font-family="Liberation Sans, Arial, sans-serif" font-size="23" text-anchor="end">50</text>
<line x1="766.1" y1="246" x2="770.6" y2="246" stroke="#000" stroke-width="1.3"/>
<line x1="912.7" y1="246" x2="916.7" y2="246" stroke="#000" stroke-width="1.2"/>
<text x="762.1" y="254.2" font-family="Liberation Sans, Arial, sans-serif" font-size="23" text-anchor="end">100</text>
<line x1="766.1" y1="151.4" x2="770.6" y2="151.4" stroke="#000" stroke-width="1.3"/>
<line x1="912.7" y1="151.4" x2="916.7" y2="151.4" stroke="#000" stroke-width="1.2"/>
<text x="762.1" y="159.6" font-family="Liberation Sans, Arial, sans-serif" font-size="23" text-anchor="end">150</text>
<line x1="766.1" y1="56.7" x2="770.6" y2="56.7" stroke="#000" stroke-width="1.3"/>
<line x1="912.7" y1="56.7" x2="916.7" y2="56.7" stroke="#000" stroke-width="1.2"/>
<text x="762.1" y="64.9" font-family="Liberation Sans, Arial, sans-serif" font-size="23" text-anchor="end">200</text>
<text x="716.6" y="243.1" font-family="Liberation Sans, Arial, sans-serif" font-size="22.5" text-anchor="middle" transform="rotate(-90 716.6 243.1) translate(716.6 243.1) scale(1 1.13) translate(-716.6 -243.1)" textLength="185.1" lengthAdjust="spacingAndGlyphs">TAF15 residue ID</text>
<line x1="916.8" y1="435.1" x2="916.8" y2="438.6" stroke="#000" stroke-width="1.2"/>
<line x1="916.8" y1="589.1" x2="916.8" y2="593.6" stroke="#000" stroke-width="1.3"/>
<text x="916.8" y="613.9" font-family="Liberation Sans, Arial, sans-serif" font-size="23" text-anchor="middle">0</text>
<line x1="1002.6" y1="435.1" x2="1002.6" y2="438.6" stroke="#000" stroke-width="1.2"/>
<line x1="1002.6" y1="589.1" x2="1002.6" y2="593.6" stroke="#000" stroke-width="1.3"/>
<text x="1002.6" y="613.9" font-family="Liberation Sans, Arial, sans-serif" font-size="23" text-anchor="middle">50</text>
<line x1="1088.4" y1="435.1" x2="1088.4" y2="438.6" stroke="#000" stroke-width="1.2"/>
<line x1="1088.4" y1="589.1" x2="1088.4" y2="593.6" stroke="#000" stroke-width="1.3"/>
<text x="1088.4" y="613.9" font-family="Liberation Sans, Arial, sans-serif" font-size="23" text-anchor="middle">100</text>
<line x1="1174.2" y1="435.1" x2="1174.2" y2="438.6" stroke="#000" stroke-width="1.2"/>
<line x1="1174.2" y1="589.1" x2="1174.2" y2="593.6" stroke="#000" stroke-width="1.3"/>
<text x="1174.2" y="613.9" font-family="Liberation Sans, Arial, sans-serif" font-size="23" text-anchor="middle">150</text>
<line x1="1260" y1="435.1" x2="1260" y2="438.6" stroke="#000" stroke-width="1.2"/>
<line x1="1260" y1="589.1" x2="1260" y2="593.6" stroke="#000" stroke-width="1.3"/>
<text x="1260" y="613.9" font-family="Liberation Sans, Arial, sans-serif" font-size="23" text-anchor="middle">200</text>
<text x="1099.9" y="640.9" font-family="Liberation Sans, Arial, sans-serif" font-size="22.5" text-anchor="middle" transform="translate(1099.9 640.9) scale(1 1.13) translate(-1099.9 -640.9)" textLength="156.3" lengthAdjust="spacingAndGlyphs">FUS residue ID</text>
<line x1="930.5" y1="514.6" x2="930.5" y2="539.6" stroke="#000" stroke-width="1.5"/>
<line x1="940.8" y1="514.6" x2="940.8" y2="539.6" stroke="#000" stroke-width="1.5"/>
<line x1="943.1" y1="514.6" x2="943.1" y2="539.6" stroke="#000" stroke-width="1.5"/>
<line x1="946" y1="514.6" x2="946" y2="539.6" stroke="#000" stroke-width="1.5"/>
<line x1="949.1" y1="514.6" x2="949.1" y2="539.6" stroke="#000" stroke-width="1.5"/>
<line x1="968.1" y1="514.6" x2="968.1" y2="539.6" stroke="#000" stroke-width="1.5"/>
<line x1="1036.7" y1="514.6" x2="1036.7" y2="539.6" stroke="#000" stroke-width="1.5"/>
<line x1="1081.4" y1="514.6" x2="1081.4" y2="539.6" stroke="#000" stroke-width="1.5"/>
<line x1="1092.3" y1="514.6" x2="1092.3" y2="539.6" stroke="#000" stroke-width="1.5"/>
<line x1="1093.5" y1="514.6" x2="1093.5" y2="539.6" stroke="#000" stroke-width="1.5"/>
<line x1="1094.6" y1="514.6" x2="1094.6" y2="539.6" stroke="#000" stroke-width="1.5"/>
<line x1="1127.7" y1="514.6" x2="1127.7" y2="539.6" stroke="#000" stroke-width="1.5"/>
<line x1="1143" y1="514.6" x2="1143" y2="539.6" stroke="#000" stroke-width="1.5"/>
<line x1="1173.2" y1="514.6" x2="1173.2" y2="539.6" stroke="#000" stroke-width="1.5"/>
<line x1="1174.5" y1="514.6" x2="1174.5" y2="539.6" stroke="#000" stroke-width="1.5"/>
<line x1="1228.8" y1="514.6" x2="1228.8" y2="539.6" stroke="#000" stroke-width="1.5"/>
<line x1="923.1" y1="540.2" x2="923.1" y2="564.7" stroke="#228b22" stroke-width="1.5"/>
<line x1="937.2" y1="540.2" x2="937.2" y2="564.7" stroke="#228b22" stroke-width="1.5"/>
<line x1="942.7" y1="540.2" x2="942.7" y2="564.7" stroke="#228b22" stroke-width="1.5"/>
<line x1="956.1" y1="540.2" x2="956.1" y2="564.7" stroke="#228b22" stroke-width="1.5"/>
<line x1="969.7" y1="540.2" x2="969.7" y2="564.7" stroke="#228b22" stroke-width="1.5"/>
<line x1="978.4" y1="540.2" x2="978.4" y2="564.7" stroke="#228b22" stroke-width="1.5"/>
<line x1="983.6" y1="540.2" x2="983.6" y2="564.7" stroke="#228b22" stroke-width="1.5"/>
<line x1="998.8" y1="540.2" x2="998.8" y2="564.7" stroke="#228b22" stroke-width="1.5"/>
<line x1="1007.4" y1="540.2" x2="1007.4" y2="564.7" stroke="#228b22" stroke-width="1.5"/>
<line x1="1012.7" y1="540.2" x2="1012.7" y2="564.7" stroke="#228b22" stroke-width="1.5"/>
<line x1="1026.3" y1="540.2" x2="1026.3" y2="564.7" stroke="#228b22" stroke-width="1.5"/>
<line x1="1041.9" y1="540.2" x2="1041.9" y2="564.7" stroke="#228b22" stroke-width="1.5"/>
<line x1="1052.2" y1="540.2" x2="1052.2" y2="564.7" stroke="#228b22" stroke-width="1.5"/>
<line x1="1069.2" y1="540.2" x2="1069.2" y2="564.7" stroke="#228b22" stroke-width="1.5"/>
<line x1="1079.5" y1="540.2" x2="1079.5" y2="564.7" stroke="#228b22" stroke-width="1.5"/>
<line x1="1085" y1="540.2" x2="1085" y2="564.7" stroke="#228b22" stroke-width="1.5"/>
<line x1="1107.3" y1="540.2" x2="1107.3" y2="564.7" stroke="#228b22" stroke-width="1.5"/>
<line x1="1122.5" y1="540.2" x2="1122.5" y2="564.7" stroke="#228b22" stroke-width="1.5"/>
<line x1="1135.9" y1="540.2" x2="1135.9" y2="564.7" stroke="#228b22" stroke-width="1.5"/>
<line x1="1146.6" y1="540.2" x2="1146.6" y2="564.7" stroke="#228b22" stroke-width="1.5"/>
<line x1="1158.6" y1="540.2" x2="1158.6" y2="564.7" stroke="#228b22" stroke-width="1.5"/>
<line x1="1168.9" y1="540.2" x2="1168.9" y2="564.7" stroke="#228b22" stroke-width="1.5"/>
<line x1="1179.2" y1="540.2" x2="1179.2" y2="564.7" stroke="#228b22" stroke-width="1.5"/>
<line x1="1189.5" y1="540.2" x2="1189.5" y2="564.7" stroke="#228b22" stroke-width="1.5"/>
<line x1="1216.8" y1="540.2" x2="1216.8" y2="564.7" stroke="#228b22" stroke-width="1.5"/>
<line x1="1246.3" y1="540.2" x2="1246.3" y2="564.7" stroke="#228b22" stroke-width="1.5"/>
<line x1="1270.5" y1="540.2" x2="1270.5" y2="564.7" stroke="#228b22" stroke-width="1.5"/>
<line x1="921.8" y1="564.7" x2="921.8" y2="588.4" stroke="#0000ff" stroke-width="1.5"/>
<line x1="992.3" y1="564.7" x2="992.3" y2="588.4" stroke="#0000ff" stroke-width="1.5"/>
<line x1="1222.2" y1="564.7" x2="1222.2" y2="588.4" stroke="#0000ff" stroke-width="1.5"/>
<line x1="1252.8" y1="564.7" x2="1252.8" y2="588.4" stroke="#0000ff" stroke-width="1.5"/>
<line x1="1276.6" y1="564.7" x2="1276.6" y2="588.4" stroke="#0000ff" stroke-width="1.5"/>
<line x1="1278.9" y1="564.7" x2="1278.9" y2="588.4" stroke="#ff0000" stroke-width="1.5"/>
<line x1="838.7" y1="445" x2="843.2" y2="445" stroke="#000" stroke-width="1.3"/>
<line x1="912.7" y1="445" x2="916.7" y2="445" stroke="#000" stroke-width="1.2"/>
<text x="836.1" y="453.2" font-family="Liberation Sans, Arial, sans-serif" font-size="23" text-anchor="end">2</text>
<line x1="838.7" y1="508.6" x2="843.2" y2="508.6" stroke="#000" stroke-width="1.3"/>
<line x1="912.7" y1="508.6" x2="916.7" y2="508.6" stroke="#000" stroke-width="1.2"/>
<text x="836.1" y="516.8" font-family="Liberation Sans, Arial, sans-serif" font-size="23" text-anchor="end">0</text>
<line x1="843.8" y1="511.6" x2="843.8" y2="516.1" stroke="#000" stroke-width="1.3"/>
<line x1="843.8" y1="435.1" x2="843.8" y2="438.6" stroke="#000" stroke-width="1.2"/>
<text x="843.8" y="537.3" font-family="Liberation Sans, Arial, sans-serif" font-size="23" text-anchor="middle">0</text>
<line x1="909.4" y1="511.6" x2="909.4" y2="516.1" stroke="#000" stroke-width="1.3"/>
<line x1="909.4" y1="435.1" x2="909.4" y2="438.6" stroke="#000" stroke-width="1.2"/>
<text x="909.4" y="537.3" font-family="Liberation Sans, Arial, sans-serif" font-size="23" text-anchor="middle">2</text>
<text x="814.2" y="474.2" text-anchor="middle" transform="rotate(-90 814.2 474.2) translate(814.2 474.2) scale(1 1.13) translate(-814.2 -474.2)"><tspan font-family="Liberation Serif, Times New Roman, serif" font-style="italic" font-size="26">N</tspan><tspan font-family="Liberation Sans, Arial, sans-serif" font-size="17" dy="4">contact</tspan></text>
<text x="844.8" y="564" transform="translate(844.8 564) scale(1 1.13) translate(-844.8 -564)"><tspan font-family="Liberation Serif, Times New Roman, serif" font-style="italic" font-size="26">N</tspan><tspan font-family="Liberation Sans, Arial, sans-serif" font-size="17" dy="4">contact</tspan></text>
<defs><linearGradient id="cbg689" x1="0" y1="1" x2="0" y2="0"><stop offset="0.000" stop-color="#ffffff"/><stop offset="0.050" stop-color="#ffe5cc"/><stop offset="0.100" stop-color="#ffcc99"/><stop offset="0.150" stop-color="#ffb266"/><stop offset="0.200" stop-color="#ff9933"/><stop offset="0.250" stop-color="#ff8000"/><stop offset="0.300" stop-color="#ff6600"/><stop offset="0.350" stop-color="#f94d00"/><stop offset="0.400" stop-color="#e53300"/><stop offset="0.450" stop-color="#d21a00"/><stop offset="0.500" stop-color="#bf0000"/><stop offset="0.550" stop-color="#ac0000"/><stop offset="0.600" stop-color="#990000"/><stop offset="0.650" stop-color="#860000"/><stop offset="0.700" stop-color="#730000"/><stop offset="0.750" stop-color="#600000"/><stop offset="0.800" stop-color="#4c0000"/><stop offset="0.850" stop-color="#390000"/><stop offset="0.900" stop-color="#260000"/><stop offset="0.950" stop-color="#130000"/><stop offset="1.000" stop-color="#000000"/></linearGradient></defs>
<rect x="1297.7" y="53.3" width="9.4" height="367.2" fill="url(#cbg689)" stroke="#222" stroke-width="1.2"/>
<line x1="1307.1" y1="420.5" x2="1311.6" y2="420.5" stroke="#000" stroke-width="1.2"/>
<text x="1315.1" y="428.7" font-family="Liberation Sans, Arial, sans-serif" font-size="23">0</text>
<line x1="1307.1" y1="336" x2="1311.6" y2="336" stroke="#000" stroke-width="1.2"/>
<text x="1315.1" y="344.2" font-family="Liberation Sans, Arial, sans-serif" font-size="23">2</text>
<line x1="1307.1" y1="251.5" x2="1311.6" y2="251.5" stroke="#000" stroke-width="1.2"/>
<text x="1315.1" y="259.7" font-family="Liberation Sans, Arial, sans-serif" font-size="23">4</text>
<line x1="1307.1" y1="167" x2="1311.6" y2="167" stroke="#000" stroke-width="1.2"/>
<text x="1315.1" y="175.2" font-family="Liberation Sans, Arial, sans-serif" font-size="23">6</text>
<line x1="1307.1" y1="82.5" x2="1311.6" y2="82.5" stroke="#000" stroke-width="1.2"/>
<text x="1315.1" y="90.7" font-family="Liberation Sans, Arial, sans-serif" font-size="23">8</text>
<text x="1279.3" y="41.6" font-family="Liberation Sans, Arial, sans-serif" font-size="20" transform="translate(1279.3 41.6) scale(1 1.13) translate(-1279.3 -41.6)"><tspan font-size="25" dy="1">×</tspan><tspan dy="-1">10</tspan><tspan font-size="14" dy="-9">−2</tspan></text>
<text x="1446" y="23.2" font-family="Liberation Sans, Arial, sans-serif" font-size="30.5" font-weight="bold">c</text>
<rect x="1628.5" y="48.8" width="365.1" height="386.3" fill="#ffffff"/>
<path fill="#ffebd6" transform="translate(1628.5 48.8) scale(2.2 1.6)" d="M61 1h1v1h-1zM107 8h1v1h-1zM112 8h1v1h-1zM133 15h2v1h-2zM156 15h2v1h-2zM161 15h2v1h-2zM64 16h1v1h-1zM65 24h1v1h-1zM88 25h1v1h-1zM161 25h2v1h-2zM164 25h1v1h-1zM3 31h2v1h-2zM121 32h1v1h-1zM62 33h1v1h-1zM103 33h2v1h-2zM102 34h1v1h-1zM52 36h1v1h-1zM102 39h1v1h-1zM66 41h1v1h-1zM154 42h1v1h-1zM40 44h1v1h-1zM156 46h1v1h-1zM34 47h1v1h-1zM47 48h1v1h-1zM140 49h1v1h-1zM83 50h1v1h-1zM61 51h1v1h-1zM63 51h1v1h-1zM97 53h1v1h-1zM95 59h1v1h-1zM105 59h1v1h-1zM12 60h1v1h-1zM14 60h1v1h-1zM124 62h1v1h-1zM144 64h1v1h-1zM104 65h1v1h-1zM49 67h1v1h-1zM36 68h1v1h-1zM97 69h1v1h-1zM59 73h1v1h-1zM131 73h1v1h-1zM61 74h1v1h-1zM12 76h1v1h-1zM112 78h1v1h-1zM66 79h1v1h-1zM162 79h1v1h-1zM7 80h1v1h-1zM88 84h1v1h-1zM106 85h1v1h-1zM113 85h1v1h-1zM117 86h1v1h-1zM124 87h1v1h-1zM54 91h1v1h-1zM26 93h1v1h-1zM78 93h1v1h-1zM161 94h1v1h-1zM121 96h1v1h-1zM47 97h1v1h-1zM112 97h1v1h-1zM146 97h1v1h-1zM76 99h1v1h-1zM103 101h1v1h-1zM101 106h1v1h-1zM77 108h1v1h-1zM91 108h3v1h-3zM138 109h1v1h-1zM124 110h1v1h-1zM116 112h1v1h-1zM139 114h1v1h-1zM94 116h1v1h-1zM39 127h1v1h-1zM156 132h1v1h-1zM80 136h1v1h-1zM82 136h1v1h-1zM99 136h1v1h-1zM47 137h2v1h-2zM141 138h1v1h-1zM53 140h2v1h-2zM56 140h1v1h-1zM72 140h1v1h-1zM120 142h1v1h-1zM97 143h1v1h-1zM137 144h1v1h-1zM139 144h1v1h-1zM137 145h1v1h-1zM40 146h1v1h-1zM64 146h1v1h-1zM57 147h1v1h-1zM1 148h1v1h-1zM37 150h1v1h-1zM143 153h2v1h-2zM152 155h1v1h-1zM105 161h1v1h-1zM112 161h1v1h-1zM30 166h2v1h-2zM52 166h1v1h-1zM55 166h1v1h-1zM60 167h1v1h-1zM63 167h1v1h-1zM135 167h1v1h-1zM151 167h1v1h-1zM40 168h1v1h-1zM153 170h1v1h-1zM26 171h1v1h-1zM29 171h1v1h-1zM164 178h1v1h-1zM8 179h1v1h-1zM10 179h1v1h-1zM80 179h1v1h-1zM9 180h1v1h-1zM13 181h1v1h-1zM15 181h1v1h-1zM87 181h3v1h-3zM11 182h1v1h-1zM118 182h1v1h-1zM120 182h1v1h-1zM130 182h1v1h-1zM98 183h1v1h-1zM141 183h1v1h-1zM20 184h3v1h-3zM30 185h1v1h-1zM157 185h1v1h-1zM5 186h1v1h-1zM66 186h3v1h-3zM6 188h3v1h-3zM4 189h2v1h-2zM95 189h1v1h-1zM59 193h1v1h-1zM62 193h2v1h-2zM9 194h1v1h-1zM81 194h1v1h-1zM83 194h3v1h-3zM13 196h2v1h-2zM16 196h1v1h-1zM18 196h3v1h-3zM22 196h2v1h-2zM25 196h1v1h-1zM63 196h1v1h-1zM65 196h1v1h-1zM67 196h4v1h-4zM72 196h1v1h-1zM75 196h1v1h-1zM78 196h3v1h-3zM83 196h1v1h-1zM90 196h1v1h-1zM35 197h1v1h-1zM60 199h1v1h-1zM85 205h1v1h-1zM146 206h1v1h-1zM100 207h1v1h-1zM112 208h1v1h-1zM49 213h1v1h-1zM79 213h2v1h-2zM82 213h1v1h-1zM110 213h2v1h-2zM11 214h1v1h-1zM13 214h2v1h-2zM47 215h1v1h-1zM87 215h2v1h-2zM146 215h1v1h-1zM49 216h1v1h-1zM81 216h1v1h-1zM84 216h1v1h-1zM86 216h1v1h-1zM89 216h1v1h-1zM92 216h3v1h-3zM2 217h4v1h-4zM97 217h2v1h-2zM4 218h2v1h-2zM62 218h7v1h-7zM94 218h1v1h-1zM101 218h1v1h-1zM104 218h1v1h-1zM16 219h1v1h-1zM74 220h1v1h-1zM101 220h1v1h-1zM86 221h2v1h-2zM62 222h1v1h-1zM129 227h3v1h-3zM5 228h1v1h-1zM8 228h1v1h-1zM30 229h1v1h-1zM34 229h1v1h-1zM36 229h1v1h-1zM75 229h2v1h-2zM78 229h3v1h-3zM88 229h1v1h-1zM16 230h1v1h-1zM23 230h1v1h-1zM25 230h1v1h-1zM71 230h2v1h-2zM126 230h1v1h-1zM128 230h1v1h-1zM144 230h1v1h-1zM79 231h1v1h-1zM88 231h1v1h-1zM94 231h1v1h-1zM97 231h3v1h-3zM4 232h1v1h-1zM29 232h1v1h-1zM38 233h1v1h-1zM135 236h1v1h-1zM68 237h1v1h-1zM121 237h1v1h-1zM15 238h1v1h-1zM17 238h1v1h-1zM29 238h1v1h-1zM35 238h1v1h-1zM55 238h2v1h-2zM58 238h1v1h-1zM73 238h1v1h-1zM75 238h1v1h-1zM93 238h4v1h-4zM107 238h1v1h-1zM113 238h1v1h-1zM115 238h1v1h-1zM117 238h3v1h-3zM96 239h1v1h-1zM98 239h1v1h-1zM100 239h2v1h-2zM108 239h2v1h-2zM111 239h1v1h-1zM7 240h1v1h-1zM10 240h1v1h-1zM12 240h2v1h-2zM15 240h1v1h-1zM18 240h1v1h-1zM76 240h1v1h-1z"/>
<path fill="#ffd6ad" transform="translate(1628.5 48.8) scale(2.2 1.6)" d="M21 0h1v1h-1zM44 0h1v1h-1zM129 0h2v1h-2zM20 1h2v1h-2zM76 1h1v1h-1zM12 2h1v1h-1zM56 2h1v1h-1zM117 2h1v1h-1zM3 3h1v1h-1zM126 4h1v1h-1zM10 5h2v1h-2zM73 5h1v1h-1zM142 5h2v1h-2zM94 6h1v1h-1zM21 7h1v1h-1zM32 7h1v1h-1zM98 7h1v1h-1zM106 7h1v1h-1zM137 7h1v1h-1zM150 8h1v1h-1zM99 9h1v1h-1zM74 10h1v1h-1zM78 10h1v1h-1zM119 10h1v1h-1zM104 11h1v1h-1zM27 12h1v1h-1zM32 12h1v1h-1zM86 12h1v1h-1zM146 12h1v1h-1zM150 12h1v1h-1zM94 13h1v1h-1zM15 14h2v1h-2zM66 14h1v1h-1zM122 14h2v1h-2zM7 15h1v1h-1zM23 15h2v1h-2zM43 15h1v1h-1zM70 15h2v1h-2zM87 15h3v1h-3zM147 15h1v1h-1zM20 16h1v1h-1zM65 16h1v1h-1zM87 16h1v1h-1zM99 16h3v1h-3zM137 16h2v1h-2zM85 17h2v1h-2zM119 17h1v1h-1zM129 17h1v1h-1zM9 18h2v1h-2zM13 18h2v1h-2zM50 18h1v1h-1zM60 18h1v1h-1zM71 18h1v1h-1zM90 18h1v1h-1zM96 18h1v1h-1zM105 18h1v1h-1zM130 18h1v1h-1zM132 18h1v1h-1zM163 18h1v1h-1zM17 19h2v1h-2zM46 19h2v1h-2zM61 19h1v1h-1zM75 19h1v1h-1zM146 19h1v1h-1zM158 19h2v1h-2zM5 20h1v1h-1zM21 20h1v1h-1zM29 20h1v1h-1zM83 20h1v1h-1zM89 20h1v1h-1zM99 21h6v1h-6zM11 22h1v1h-1zM46 22h5v1h-5zM25 23h3v1h-3zM56 23h2v1h-2zM62 23h1v1h-1zM79 23h2v1h-2zM137 23h1v1h-1zM143 23h2v1h-2zM26 24h1v1h-1zM66 24h2v1h-2zM110 24h1v1h-1zM147 24h3v1h-3zM22 25h1v1h-1zM87 25h1v1h-1zM89 25h1v1h-1zM92 25h5v1h-5zM150 25h1v1h-1zM163 25h1v1h-1zM20 26h1v1h-1zM35 26h2v1h-2zM106 26h4v1h-4zM143 26h1v1h-1zM154 26h1v1h-1zM9 27h1v1h-1zM12 27h1v1h-1zM19 27h1v1h-1zM106 28h4v1h-4zM6 29h1v1h-1zM23 29h1v1h-1zM75 29h4v1h-4zM158 29h5v1h-5zM0 30h1v1h-1zM85 30h1v1h-1zM94 30h1v1h-1zM51 31h3v1h-3zM70 31h1v1h-1zM72 31h1v1h-1zM86 31h1v1h-1zM117 31h1v1h-1zM154 31h2v1h-2zM13 32h3v1h-3zM19 32h1v1h-1zM44 32h2v1h-2zM3 33h1v1h-1zM11 33h1v1h-1zM130 33h1v1h-1zM139 33h1v1h-1zM157 33h1v1h-1zM26 34h2v1h-2zM87 34h1v1h-1zM103 34h1v1h-1zM133 34h1v1h-1zM35 35h1v1h-1zM101 35h1v1h-1zM107 35h1v1h-1zM117 35h6v1h-6zM140 35h1v1h-1zM1 36h1v1h-1zM9 36h1v1h-1zM59 36h1v1h-1zM85 36h3v1h-3zM133 36h2v1h-2zM146 36h1v1h-1zM43 37h1v1h-1zM128 37h1v1h-1zM46 38h1v1h-1zM55 38h2v1h-2zM145 38h4v1h-4zM101 39h1v1h-1zM103 39h3v1h-3zM114 39h1v1h-1zM87 40h2v1h-2zM90 40h1v1h-1zM117 40h1v1h-1zM10 41h1v1h-1zM141 42h1v1h-1zM1 43h1v1h-1zM18 43h1v1h-1zM49 43h1v1h-1zM58 43h4v1h-4zM82 43h1v1h-1zM136 43h1v1h-1zM34 44h2v1h-2zM38 44h2v1h-2zM73 44h1v1h-1zM125 44h3v1h-3zM81 45h1v1h-1zM86 45h1v1h-1zM89 45h1v1h-1zM114 45h1v1h-1zM145 45h1v1h-1zM30 46h1v1h-1zM143 46h2v1h-2zM155 46h1v1h-1zM157 46h2v1h-2zM10 47h2v1h-2zM35 47h1v1h-1zM133 47h5v1h-5zM148 47h1v1h-1zM21 48h1v1h-1zM28 48h1v1h-1zM46 48h1v1h-1zM48 48h1v1h-1zM67 48h1v1h-1zM82 48h1v1h-1zM112 48h1v1h-1zM137 48h1v1h-1zM131 49h2v1h-2zM136 49h1v1h-1zM141 49h1v1h-1zM157 49h1v1h-1zM44 50h1v1h-1zM87 50h1v1h-1zM98 50h1v1h-1zM20 51h1v1h-1zM36 51h1v1h-1zM49 51h2v1h-2zM62 51h1v1h-1zM91 51h2v1h-2zM110 51h1v1h-1zM126 51h1v1h-1zM7 52h1v1h-1zM26 52h1v1h-1zM45 52h1v1h-1zM76 52h1v1h-1zM81 52h1v1h-1zM95 52h1v1h-1zM103 52h1v1h-1zM140 52h1v1h-1zM160 52h2v1h-2zM63 53h1v1h-1zM84 53h1v1h-1zM105 53h1v1h-1zM119 53h1v1h-1zM123 53h1v1h-1zM125 53h3v1h-3zM143 53h1v1h-1zM30 54h2v1h-2zM74 54h2v1h-2zM2 55h2v1h-2zM5 55h1v1h-1zM36 55h1v1h-1zM107 55h4v1h-4zM112 55h3v1h-3zM6 56h1v1h-1zM10 56h2v1h-2zM103 56h2v1h-2zM126 56h3v1h-3zM98 57h1v1h-1zM30 58h1v1h-1zM41 58h1v1h-1zM54 58h1v1h-1zM68 58h1v1h-1zM23 59h1v1h-1zM41 59h1v1h-1zM53 59h1v1h-1zM57 59h2v1h-2zM60 59h1v1h-1zM62 59h1v1h-1zM100 59h2v1h-2zM106 59h1v1h-1zM162 59h1v1h-1zM13 60h1v1h-1zM34 60h2v1h-2zM125 60h1v1h-1zM129 60h1v1h-1zM143 60h1v1h-1zM150 60h1v1h-1zM27 61h1v1h-1zM96 61h1v1h-1zM101 61h1v1h-1zM107 61h1v1h-1zM124 61h1v1h-1zM23 63h1v1h-1zM37 63h1v1h-1zM45 63h1v1h-1zM125 63h1v1h-1zM7 64h2v1h-2zM52 64h1v1h-1zM67 64h1v1h-1zM91 64h1v1h-1zM143 64h1v1h-1zM23 65h1v1h-1zM109 65h2v1h-2zM138 65h2v1h-2zM141 65h1v1h-1zM2 66h1v1h-1zM17 66h1v1h-1zM22 66h1v1h-1zM86 66h1v1h-1zM88 66h2v1h-2zM116 66h1v1h-1zM119 66h1v1h-1zM122 66h1v1h-1zM154 66h1v1h-1zM21 67h1v1h-1zM71 67h1v1h-1zM124 67h1v1h-1zM144 67h1v1h-1zM13 68h1v1h-1zM48 68h1v1h-1zM77 68h1v1h-1zM80 68h1v1h-1zM135 68h2v1h-2zM21 70h2v1h-2zM34 70h1v1h-1zM46 70h1v1h-1zM58 70h2v1h-2zM81 70h3v1h-3zM85 70h2v1h-2zM99 70h1v1h-1zM111 70h2v1h-2zM116 70h2v1h-2zM132 70h1v1h-1zM26 71h1v1h-1zM28 71h3v1h-3zM41 71h2v1h-2zM61 71h6v1h-6zM72 71h1v1h-1zM89 71h1v1h-1zM154 71h3v1h-3zM25 72h1v1h-1zM29 72h1v1h-1zM31 72h2v1h-2zM84 72h1v1h-1zM124 72h4v1h-4zM6 73h1v1h-1zM8 73h3v1h-3zM26 73h1v1h-1zM40 73h1v1h-1zM47 73h1v1h-1zM54 73h2v1h-2zM60 73h1v1h-1zM68 73h2v1h-2zM79 73h1v1h-1zM128 73h3v1h-3zM132 73h1v1h-1zM160 73h1v1h-1zM116 74h1v1h-1zM127 74h1v1h-1zM145 74h3v1h-3zM4 75h1v1h-1zM43 75h1v1h-1zM64 75h1v1h-1zM158 75h2v1h-2zM13 76h1v1h-1zM55 76h1v1h-1zM114 76h1v1h-1zM148 76h2v1h-2zM155 76h1v1h-1zM16 77h1v1h-1zM24 77h5v1h-5zM52 77h2v1h-2zM129 77h1v1h-1zM145 77h1v1h-1zM59 78h1v1h-1zM87 78h1v1h-1zM5 79h2v1h-2zM46 79h1v1h-1zM83 79h2v1h-2zM2 80h3v1h-3zM35 80h1v1h-1zM70 80h2v1h-2zM57 81h1v1h-1zM104 81h1v1h-1zM68 82h1v1h-1zM89 82h3v1h-3zM120 82h1v1h-1zM51 83h1v1h-1zM160 83h1v1h-1zM23 84h1v1h-1zM78 84h2v1h-2zM79 85h2v1h-2zM107 85h1v1h-1zM116 85h1v1h-1zM10 86h3v1h-3zM22 86h1v1h-1zM70 86h2v1h-2zM118 86h1v1h-1zM7 87h1v1h-1zM70 87h2v1h-2zM125 87h10v1h-10zM140 87h1v1h-1zM145 87h3v1h-3zM156 87h9v1h-9zM25 88h2v1h-2zM28 88h3v1h-3zM82 88h1v1h-1zM120 88h1v1h-1zM123 88h2v1h-2zM140 88h1v1h-1zM142 88h2v1h-2zM145 88h1v1h-1zM162 88h2v1h-2zM6 89h4v1h-4zM12 89h1v1h-1zM95 89h1v1h-1zM150 89h1v1h-1zM152 89h1v1h-1zM154 89h2v1h-2zM40 90h2v1h-2zM60 90h8v1h-8zM140 90h3v1h-3zM3 91h1v1h-1zM15 91h2v1h-2zM21 91h1v1h-1zM35 91h2v1h-2zM46 91h2v1h-2zM53 91h1v1h-1zM55 91h1v1h-1zM62 91h1v1h-1zM67 91h5v1h-5zM97 91h1v1h-1zM45 92h1v1h-1zM58 92h2v1h-2zM82 92h1v1h-1zM103 92h1v1h-1zM140 92h1v1h-1zM86 93h1v1h-1zM10 94h3v1h-3zM32 94h3v1h-3zM64 94h1v1h-1zM140 94h1v1h-1zM156 94h1v1h-1zM160 94h1v1h-1zM28 95h1v1h-1zM62 95h1v1h-1zM21 96h1v1h-1zM87 96h2v1h-2zM94 96h1v1h-1zM97 96h2v1h-2zM151 96h2v1h-2zM156 96h1v1h-1zM10 97h2v1h-2zM88 97h1v1h-1zM138 97h1v1h-1zM147 97h1v1h-1zM51 98h1v1h-1zM53 98h1v1h-1zM43 100h1v1h-1zM51 101h1v1h-1zM138 102h1v1h-1zM142 103h1v1h-1zM34 104h1v1h-1zM57 104h1v1h-1zM30 105h1v1h-1zM45 105h1v1h-1zM41 106h1v1h-1zM117 107h1v1h-1zM146 107h1v1h-1zM43 108h1v1h-1zM143 109h1v1h-1zM22 110h1v1h-1zM27 110h1v1h-1zM138 112h1v1h-1zM151 112h1v1h-1zM17 113h1v1h-1zM5 114h1v1h-1zM41 116h1v1h-1zM66 116h1v1h-1zM2 117h1v1h-1zM39 117h1v1h-1zM45 119h1v1h-1zM114 119h1v1h-1zM46 120h1v1h-1zM9 121h1v1h-1zM78 121h1v1h-1zM143 121h1v1h-1zM43 122h1v1h-1zM118 123h1v1h-1zM72 124h1v1h-1zM20 126h1v1h-1zM62 126h1v1h-1zM25 127h2v1h-2zM40 127h1v1h-1zM3 132h1v1h-1zM106 132h1v1h-1zM121 132h2v1h-2zM60 133h2v1h-2zM116 133h1v1h-1zM146 133h1v1h-1zM111 134h1v1h-1zM130 134h1v1h-1zM47 135h1v1h-1zM115 135h2v1h-2zM146 135h1v1h-1zM151 135h2v1h-2zM25 136h1v1h-1zM79 136h1v1h-1zM81 136h1v1h-1zM83 136h1v1h-1zM16 137h1v1h-1zM33 137h1v1h-1zM90 137h5v1h-5zM100 137h3v1h-3zM149 137h3v1h-3zM23 138h3v1h-3zM37 138h2v1h-2zM44 138h7v1h-7zM61 138h1v1h-1zM69 138h1v1h-1zM115 138h1v1h-1zM142 138h1v1h-1zM38 139h1v1h-1zM136 139h1v1h-1zM25 140h1v1h-1zM31 140h2v1h-2zM55 140h1v1h-1zM57 140h1v1h-1zM73 140h3v1h-3zM81 140h2v1h-2zM117 140h4v1h-4zM122 140h1v1h-1zM150 140h1v1h-1zM161 140h1v1h-1zM31 141h1v1h-1zM60 141h1v1h-1zM126 141h1v1h-1zM156 141h1v1h-1zM164 141h1v1h-1zM86 142h2v1h-2zM99 142h2v1h-2zM121 142h2v1h-2zM150 142h1v1h-1zM37 143h1v1h-1zM61 143h2v1h-2zM23 144h3v1h-3zM32 144h1v1h-1zM116 144h1v1h-1zM138 144h1v1h-1zM140 144h1v1h-1zM142 144h4v1h-4zM13 145h1v1h-1zM31 145h1v1h-1zM70 145h2v1h-2zM86 145h1v1h-1zM118 145h3v1h-3zM157 145h1v1h-1zM35 146h1v1h-1zM38 146h1v1h-1zM60 146h2v1h-2zM63 146h1v1h-1zM86 146h1v1h-1zM37 147h1v1h-1zM42 147h1v1h-1zM160 147h1v1h-1zM49 148h1v1h-1zM64 148h1v1h-1zM35 149h1v1h-1zM37 149h1v1h-1zM54 149h1v1h-1zM77 149h1v1h-1zM102 149h3v1h-3zM162 149h2v1h-2zM38 150h2v1h-2zM48 150h2v1h-2zM94 150h1v1h-1zM107 150h1v1h-1zM28 151h1v1h-1zM73 151h1v1h-1zM109 151h1v1h-1zM145 151h2v1h-2zM7 152h1v1h-1zM15 152h1v1h-1zM21 152h1v1h-1zM137 152h3v1h-3zM16 153h4v1h-4zM38 153h3v1h-3zM18 154h1v1h-1zM33 154h1v1h-1zM63 154h3v1h-3zM113 154h3v1h-3zM150 154h4v1h-4zM17 155h1v1h-1zM20 155h3v1h-3zM42 155h2v1h-2zM109 155h4v1h-4zM153 155h2v1h-2zM164 155h1v1h-1zM32 156h3v1h-3zM70 156h1v1h-1zM74 156h2v1h-2zM111 156h1v1h-1zM155 156h1v1h-1zM157 156h1v1h-1zM15 157h2v1h-2zM51 157h3v1h-3zM72 157h1v1h-1zM101 157h2v1h-2zM133 157h1v1h-1zM138 157h7v1h-7zM32 158h1v1h-1zM50 158h1v1h-1zM63 158h3v1h-3zM72 158h1v1h-1zM75 158h1v1h-1zM4 159h1v1h-1zM26 159h2v1h-2zM47 159h2v1h-2zM55 159h1v1h-1zM89 159h1v1h-1zM125 159h1v1h-1zM105 160h1v1h-1zM123 160h2v1h-2zM130 160h1v1h-1zM134 160h3v1h-3zM154 160h1v1h-1zM2 161h3v1h-3zM53 161h1v1h-1zM68 161h1v1h-1zM110 161h2v1h-2zM6 162h1v1h-1zM33 162h1v1h-1zM138 162h1v1h-1zM35 163h1v1h-1zM2 164h1v1h-1zM12 164h2v1h-2zM26 164h2v1h-2zM87 164h1v1h-1zM5 165h1v1h-1zM41 165h1v1h-1zM85 165h4v1h-4zM118 165h2v1h-2zM160 165h1v1h-1zM13 166h1v1h-1zM17 166h1v1h-1zM19 166h2v1h-2zM27 166h1v1h-1zM32 166h1v1h-1zM53 166h2v1h-2zM56 166h1v1h-1zM92 166h1v1h-1zM101 166h3v1h-3zM121 166h1v1h-1zM158 166h4v1h-4zM13 167h8v1h-8zM35 167h9v1h-9zM59 167h1v1h-1zM61 167h2v1h-2zM107 167h2v1h-2zM142 167h3v1h-3zM152 167h1v1h-1zM16 168h6v1h-6zM38 168h2v1h-2zM41 168h1v1h-1zM61 168h1v1h-1zM68 168h1v1h-1zM72 168h2v1h-2zM76 168h1v1h-1zM82 168h2v1h-2zM97 168h4v1h-4zM108 168h2v1h-2zM13 169h15v1h-15zM41 169h2v1h-2zM62 169h1v1h-1zM79 169h1v1h-1zM81 169h1v1h-1zM84 169h4v1h-4zM89 169h4v1h-4zM94 169h2v1h-2zM97 169h1v1h-1zM100 169h2v1h-2zM103 169h2v1h-2zM110 169h1v1h-1zM130 169h1v1h-1zM142 169h1v1h-1zM23 170h3v1h-3zM46 170h1v1h-1zM51 170h15v1h-15zM96 170h4v1h-4zM108 170h1v1h-1zM154 170h1v1h-1zM1 171h14v1h-14zM25 171h1v1h-1zM27 171h2v1h-2zM30 171h1v1h-1zM77 171h2v1h-2zM125 171h5v1h-5zM158 171h3v1h-3zM163 171h2v1h-2zM147 172h1v1h-1zM157 172h1v1h-1zM162 172h1v1h-1zM2 173h3v1h-3zM47 173h1v1h-1zM49 173h2v1h-2zM54 173h1v1h-1zM58 173h1v1h-1zM32 174h3v1h-3zM63 174h1v1h-1zM67 174h1v1h-1zM71 174h1v1h-1zM35 175h1v1h-1zM133 175h2v1h-2zM154 175h1v1h-1zM156 175h1v1h-1zM0 176h1v1h-1zM23 176h7v1h-7zM33 176h2v1h-2zM60 176h1v1h-1zM70 176h1v1h-1zM73 176h3v1h-3zM104 176h3v1h-3zM129 176h3v1h-3zM19 177h2v1h-2zM52 177h14v1h-14zM77 177h1v1h-1zM91 177h1v1h-1zM93 177h2v1h-2zM98 177h1v1h-1zM101 177h1v1h-1zM144 177h1v1h-1zM154 177h1v1h-1zM24 178h1v1h-1zM27 178h3v1h-3zM33 178h12v1h-12zM68 178h6v1h-6zM78 178h7v1h-7zM88 178h1v1h-1zM92 178h2v1h-2zM112 178h4v1h-4zM151 178h3v1h-3zM9 179h1v1h-1zM41 179h1v1h-1zM56 179h4v1h-4zM82 179h1v1h-1zM88 179h3v1h-3zM96 179h8v1h-8zM164 179h1v1h-1zM10 180h1v1h-1zM24 180h1v1h-1zM26 180h2v1h-2zM100 180h1v1h-1zM103 180h2v1h-2zM139 180h3v1h-3zM12 181h1v1h-1zM14 181h1v1h-1zM17 181h1v1h-1zM100 181h3v1h-3zM124 181h1v1h-1zM9 182h2v1h-2zM60 182h1v1h-1zM106 182h1v1h-1zM116 182h2v1h-2zM119 182h1v1h-1zM133 182h1v1h-1zM2 183h1v1h-1zM8 183h1v1h-1zM12 183h1v1h-1zM14 183h1v1h-1zM16 183h1v1h-1zM53 183h2v1h-2zM91 183h7v1h-7zM136 183h1v1h-1zM140 183h1v1h-1zM8 184h2v1h-2zM82 184h2v1h-2zM85 184h4v1h-4zM11 185h1v1h-1zM14 185h2v1h-2zM18 185h2v1h-2zM22 185h3v1h-3zM41 185h5v1h-5zM53 185h3v1h-3zM70 185h1v1h-1zM4 186h1v1h-1zM42 186h3v1h-3zM72 186h2v1h-2zM99 186h9v1h-9zM109 186h1v1h-1zM112 186h1v1h-1zM128 186h1v1h-1zM35 187h1v1h-1zM37 187h2v1h-2zM42 187h1v1h-1zM49 187h5v1h-5zM56 187h1v1h-1zM66 187h2v1h-2zM73 187h7v1h-7zM85 187h1v1h-1zM87 187h1v1h-1zM90 187h1v1h-1zM100 187h2v1h-2zM105 187h5v1h-5zM111 187h1v1h-1zM4 188h2v1h-2zM9 188h1v1h-1zM17 188h3v1h-3zM21 188h1v1h-1zM23 188h1v1h-1zM29 188h1v1h-1zM50 188h1v1h-1zM53 188h5v1h-5zM72 188h1v1h-1zM118 188h2v1h-2zM135 188h1v1h-1zM152 188h2v1h-2zM0 189h2v1h-2zM31 189h2v1h-2zM44 189h3v1h-3zM50 189h1v1h-1zM56 189h2v1h-2zM60 189h1v1h-1zM62 189h2v1h-2zM70 189h2v1h-2zM88 189h3v1h-3zM94 189h1v1h-1zM114 189h6v1h-6zM143 189h1v1h-1zM148 189h3v1h-3zM5 190h2v1h-2zM33 190h7v1h-7zM55 190h1v1h-1zM58 190h1v1h-1zM60 190h2v1h-2zM91 190h1v1h-1zM143 190h1v1h-1zM89 191h1v1h-1zM91 191h1v1h-1zM93 191h1v1h-1zM3 192h4v1h-4zM8 192h1v1h-1zM15 192h2v1h-2zM20 192h1v1h-1zM68 192h2v1h-2zM72 192h9v1h-9zM153 192h1v1h-1zM8 193h5v1h-5zM55 193h4v1h-4zM60 193h2v1h-2zM64 193h2v1h-2zM87 193h1v1h-1zM89 193h1v1h-1zM103 193h1v1h-1zM105 193h3v1h-3zM133 193h1v1h-1zM135 193h1v1h-1zM137 193h2v1h-2zM158 193h1v1h-1zM12 194h1v1h-1zM52 194h9v1h-9zM63 194h1v1h-1zM67 194h1v1h-1zM71 194h2v1h-2zM77 194h1v1h-1zM82 194h1v1h-1zM164 194h1v1h-1zM45 195h2v1h-2zM87 195h10v1h-10zM102 195h1v1h-1zM3 196h2v1h-2zM15 196h1v1h-1zM17 196h1v1h-1zM21 196h1v1h-1zM24 196h1v1h-1zM26 196h2v1h-2zM38 196h1v1h-1zM48 196h1v1h-1zM50 196h1v1h-1zM64 196h1v1h-1zM66 196h1v1h-1zM71 196h1v1h-1zM73 196h2v1h-2zM76 196h2v1h-2zM81 196h2v1h-2zM84 196h1v1h-1zM87 196h1v1h-1zM112 196h1v1h-1zM36 197h2v1h-2zM87 197h1v1h-1zM158 197h1v1h-1zM33 198h1v1h-1zM36 198h1v1h-1zM60 198h1v1h-1zM45 199h1v1h-1zM90 199h1v1h-1zM27 200h2v1h-2zM34 200h1v1h-1zM37 200h1v1h-1zM62 200h1v1h-1zM78 200h1v1h-1zM164 200h1v1h-1zM2 201h2v1h-2zM18 201h3v1h-3zM22 201h3v1h-3zM49 201h8v1h-8zM70 201h1v1h-1zM78 201h1v1h-1zM80 201h2v1h-2zM99 201h1v1h-1zM4 202h2v1h-2zM33 202h1v1h-1zM35 202h1v1h-1zM57 202h5v1h-5zM144 202h1v1h-1zM16 203h1v1h-1zM25 203h2v1h-2zM60 203h2v1h-2zM83 203h1v1h-1zM101 203h3v1h-3zM4 204h3v1h-3zM13 204h1v1h-1zM32 204h3v1h-3zM84 204h1v1h-1zM98 204h1v1h-1zM105 204h1v1h-1zM108 204h1v1h-1zM43 205h1v1h-1zM114 205h1v1h-1zM149 205h1v1h-1zM155 205h1v1h-1zM19 206h3v1h-3zM95 206h1v1h-1zM111 206h1v1h-1zM0 207h4v1h-4zM9 207h2v1h-2zM12 207h3v1h-3zM16 207h1v1h-1zM24 207h10v1h-10zM37 207h1v1h-1zM39 207h1v1h-1zM42 207h4v1h-4zM161 207h1v1h-1zM164 207h1v1h-1zM49 208h6v1h-6zM56 208h5v1h-5zM62 208h1v1h-1zM71 208h6v1h-6zM94 208h1v1h-1zM101 208h2v1h-2zM108 208h4v1h-4zM120 208h1v1h-1zM159 208h6v1h-6zM37 209h2v1h-2zM80 209h5v1h-5zM87 209h3v1h-3zM109 209h1v1h-1zM112 209h1v1h-1zM18 210h10v1h-10zM42 210h2v1h-2zM46 210h2v1h-2zM49 210h2v1h-2zM108 210h2v1h-2zM92 211h7v1h-7zM4 212h4v1h-4zM13 212h3v1h-3zM22 212h1v1h-1zM76 212h2v1h-2zM143 212h1v1h-1zM148 212h1v1h-1zM17 213h7v1h-7zM48 213h1v1h-1zM50 213h1v1h-1zM81 213h1v1h-1zM86 213h2v1h-2zM89 213h1v1h-1zM91 213h9v1h-9zM155 213h3v1h-3zM7 214h4v1h-4zM12 214h1v1h-1zM15 214h1v1h-1zM35 214h2v1h-2zM39 214h1v1h-1zM99 214h1v1h-1zM143 214h1v1h-1zM147 214h4v1h-4zM38 215h9v1h-9zM56 215h2v1h-2zM85 215h2v1h-2zM89 215h1v1h-1zM133 215h1v1h-1zM149 215h1v1h-1zM8 216h1v1h-1zM10 216h1v1h-1zM18 216h1v1h-1zM46 216h3v1h-3zM50 216h2v1h-2zM82 216h2v1h-2zM85 216h1v1h-1zM90 216h2v1h-2zM107 216h4v1h-4zM112 216h4v1h-4zM6 217h2v1h-2zM18 217h4v1h-4zM27 217h9v1h-9zM41 217h12v1h-12zM77 217h5v1h-5zM99 217h1v1h-1zM158 217h1v1h-1zM80 218h2v1h-2zM92 218h2v1h-2zM100 218h1v1h-1zM102 218h2v1h-2zM118 218h1v1h-1zM5 219h5v1h-5zM14 219h2v1h-2zM17 219h1v1h-1zM38 219h1v1h-1zM40 219h3v1h-3zM44 219h3v1h-3zM48 219h1v1h-1zM50 219h1v1h-1zM56 219h2v1h-2zM59 219h1v1h-1zM68 219h13v1h-13zM93 219h1v1h-1zM124 219h1v1h-1zM162 219h2v1h-2zM9 220h4v1h-4zM30 220h4v1h-4zM39 220h3v1h-3zM44 220h1v1h-1zM47 220h1v1h-1zM75 220h4v1h-4zM96 220h5v1h-5zM124 220h2v1h-2zM141 220h3v1h-3zM161 220h4v1h-4zM9 221h1v1h-1zM34 221h2v1h-2zM41 221h1v1h-1zM43 221h3v1h-3zM47 221h4v1h-4zM52 221h2v1h-2zM55 221h1v1h-1zM68 221h2v1h-2zM128 221h3v1h-3zM134 221h3v1h-3zM144 221h1v1h-1zM147 221h1v1h-1zM162 221h3v1h-3zM1 222h2v1h-2zM4 222h2v1h-2zM7 222h4v1h-4zM23 222h1v1h-1zM63 222h16v1h-16zM61 223h1v1h-1zM63 223h2v1h-2zM66 223h2v1h-2zM69 223h2v1h-2zM143 223h2v1h-2zM43 226h1v1h-1zM59 226h2v1h-2zM62 226h3v1h-3zM67 226h3v1h-3zM84 226h1v1h-1zM98 226h1v1h-1zM32 227h2v1h-2zM91 227h1v1h-1zM112 227h3v1h-3zM117 227h1v1h-1zM127 227h2v1h-2zM132 227h1v1h-1zM134 227h1v1h-1zM138 227h1v1h-1zM152 227h1v1h-1zM6 228h2v1h-2zM36 228h5v1h-5zM46 228h1v1h-1zM48 228h1v1h-1zM52 228h3v1h-3zM57 228h2v1h-2zM60 228h1v1h-1zM65 228h3v1h-3zM69 228h1v1h-1zM76 228h1v1h-1zM79 228h3v1h-3zM116 228h1v1h-1zM136 228h2v1h-2zM164 228h1v1h-1zM27 229h3v1h-3zM31 229h3v1h-3zM35 229h1v1h-1zM37 229h1v1h-1zM41 229h20v1h-20zM77 229h1v1h-1zM81 229h2v1h-2zM89 229h1v1h-1zM101 229h6v1h-6zM116 229h1v1h-1zM160 229h1v1h-1zM1 230h2v1h-2zM13 230h2v1h-2zM17 230h4v1h-4zM22 230h1v1h-1zM24 230h1v1h-1zM39 230h2v1h-2zM67 230h1v1h-1zM70 230h1v1h-1zM113 230h2v1h-2zM127 230h1v1h-1zM129 230h1v1h-1zM131 230h1v1h-1zM145 230h2v1h-2zM35 231h14v1h-14zM53 231h2v1h-2zM65 231h3v1h-3zM78 231h1v1h-1zM80 231h8v1h-8zM89 231h5v1h-5zM95 231h2v1h-2zM100 231h1v1h-1zM9 232h1v1h-1zM23 232h6v1h-6zM30 232h11v1h-11zM46 232h6v1h-6zM54 232h1v1h-1zM85 232h7v1h-7zM93 232h4v1h-4zM98 232h6v1h-6zM107 232h2v1h-2zM117 232h3v1h-3zM124 232h1v1h-1zM128 232h1v1h-1zM156 232h1v1h-1zM37 233h1v1h-1zM39 233h5v1h-5zM64 233h17v1h-17zM109 233h5v1h-5zM145 233h1v1h-1zM68 234h1v1h-1zM70 234h2v1h-2zM73 234h1v1h-1zM6 235h2v1h-2zM14 235h1v1h-1zM44 235h2v1h-2zM149 235h2v1h-2zM8 236h1v1h-1zM18 236h1v1h-1zM47 236h6v1h-6zM71 236h2v1h-2zM75 236h1v1h-1zM107 236h4v1h-4zM131 236h1v1h-1zM161 236h4v1h-4zM19 237h1v1h-1zM22 237h4v1h-4zM27 237h1v1h-1zM49 237h1v1h-1zM53 237h1v1h-1zM62 237h1v1h-1zM66 237h2v1h-2zM69 237h3v1h-3zM119 237h2v1h-2zM7 238h8v1h-8zM16 238h1v1h-1zM18 238h2v1h-2zM26 238h3v1h-3zM30 238h1v1h-1zM34 238h1v1h-1zM40 238h1v1h-1zM54 238h1v1h-1zM57 238h1v1h-1zM70 238h3v1h-3zM74 238h1v1h-1zM76 238h2v1h-2zM108 238h5v1h-5zM114 238h1v1h-1zM116 238h1v1h-1zM120 238h1v1h-1zM147 238h1v1h-1zM43 239h1v1h-1zM45 239h1v1h-1zM51 239h5v1h-5zM89 239h5v1h-5zM97 239h1v1h-1zM99 239h1v1h-1zM110 239h1v1h-1zM4 240h1v1h-1zM8 240h2v1h-2zM11 240h1v1h-1zM16 240h2v1h-2zM19 240h3v1h-3zM70 240h4v1h-4zM75 240h1v1h-1zM77 240h2v1h-2zM109 240h6v1h-6zM138 240h2v1h-2z"/>
<path fill="#ffc285" transform="translate(1628.5 48.8) scale(2.2 1.6)" d="M23 0h1v1h-1zM14 1h1v1h-1zM120 1h2v1h-2zM154 1h1v1h-1zM86 2h1v1h-1zM131 2h1v1h-1zM145 3h1v1h-1zM77 4h1v1h-1zM92 4h2v1h-2zM129 4h1v1h-1zM6 5h1v1h-1zM64 7h1v1h-1zM38 8h2v1h-2zM54 8h1v1h-1zM75 8h1v1h-1zM128 8h1v1h-1zM6 10h1v1h-1zM42 10h1v1h-1zM152 11h1v1h-1zM16 12h1v1h-1zM37 12h1v1h-1zM142 12h2v1h-2zM22 13h1v1h-1zM65 13h1v1h-1zM117 13h1v1h-1zM13 14h1v1h-1zM134 14h1v1h-1zM3 15h1v1h-1zM11 15h1v1h-1zM98 15h2v1h-2zM109 15h3v1h-3zM8 16h2v1h-2zM93 16h1v1h-1zM117 16h1v1h-1zM147 16h1v1h-1zM161 16h1v1h-1zM164 16h1v1h-1zM11 17h1v1h-1zM81 17h3v1h-3zM87 17h2v1h-2zM128 17h1v1h-1zM19 18h1v1h-1zM63 18h7v1h-7zM87 18h1v1h-1zM89 18h1v1h-1zM91 18h1v1h-1zM28 19h1v1h-1zM35 19h1v1h-1zM110 19h1v1h-1zM114 19h1v1h-1zM136 19h5v1h-5zM10 20h1v1h-1zM52 20h1v1h-1zM60 20h4v1h-4zM69 20h4v1h-4zM87 20h2v1h-2zM93 20h1v1h-1zM111 20h1v1h-1zM133 20h1v1h-1zM23 21h1v1h-1zM69 21h4v1h-4zM137 21h3v1h-3zM37 22h1v1h-1zM87 22h2v1h-2zM92 22h1v1h-1zM107 22h2v1h-2zM131 22h1v1h-1zM164 22h1v1h-1zM0 23h2v1h-2zM41 23h1v1h-1zM88 23h1v1h-1zM104 23h6v1h-6zM136 23h1v1h-1zM5 24h1v1h-1zM18 24h1v1h-1zM74 24h1v1h-1zM91 24h1v1h-1zM117 24h2v1h-2zM120 24h2v1h-2zM131 24h1v1h-1zM142 24h1v1h-1zM85 25h1v1h-1zM115 25h1v1h-1zM117 25h1v1h-1zM14 26h1v1h-1zM32 26h1v1h-1zM64 26h2v1h-2zM103 26h2v1h-2zM120 26h4v1h-4zM155 26h1v1h-1zM10 27h2v1h-2zM34 27h2v1h-2zM62 27h1v1h-1zM90 27h1v1h-1zM92 27h2v1h-2zM101 27h3v1h-3zM139 27h1v1h-1zM151 27h2v1h-2zM1 28h1v1h-1zM12 28h1v1h-1zM63 28h1v1h-1zM101 28h3v1h-3zM139 28h2v1h-2zM151 28h3v1h-3zM1 29h1v1h-1zM30 29h1v1h-1zM68 29h2v1h-2zM99 29h1v1h-1zM112 29h1v1h-1zM114 29h1v1h-1zM144 29h1v1h-1zM26 30h1v1h-1zM38 30h1v1h-1zM53 30h1v1h-1zM82 30h2v1h-2zM95 30h1v1h-1zM161 30h3v1h-3zM11 31h2v1h-2zM27 31h1v1h-1zM77 31h2v1h-2zM160 31h2v1h-2zM6 32h1v1h-1zM24 32h1v1h-1zM39 32h1v1h-1zM113 32h1v1h-1zM143 32h1v1h-1zM47 33h1v1h-1zM66 33h1v1h-1zM51 34h1v1h-1zM89 34h6v1h-6zM115 34h1v1h-1zM142 34h1v1h-1zM14 35h1v1h-1zM24 35h3v1h-3zM37 35h2v1h-2zM61 35h1v1h-1zM75 35h1v1h-1zM108 35h1v1h-1zM113 35h1v1h-1zM12 36h2v1h-2zM90 36h1v1h-1zM116 36h1v1h-1zM116 37h1v1h-1zM120 37h3v1h-3zM47 38h1v1h-1zM86 38h1v1h-1zM98 38h2v1h-2zM102 38h2v1h-2zM120 38h2v1h-2zM26 39h1v1h-1zM38 39h3v1h-3zM55 39h1v1h-1zM143 39h1v1h-1zM18 40h2v1h-2zM153 40h1v1h-1zM27 41h1v1h-1zM64 41h1v1h-1zM151 41h1v1h-1zM25 42h1v1h-1zM60 42h2v1h-2zM63 42h1v1h-1zM77 42h1v1h-1zM125 42h1v1h-1zM145 42h1v1h-1zM48 43h1v1h-1zM72 43h1v1h-1zM96 43h1v1h-1zM113 43h1v1h-1zM30 44h1v1h-1zM72 44h1v1h-1zM106 44h1v1h-1zM134 44h4v1h-4zM139 44h1v1h-1zM149 44h1v1h-1zM56 45h1v1h-1zM87 45h2v1h-2zM102 45h1v1h-1zM109 45h1v1h-1zM154 45h3v1h-3zM34 46h1v1h-1zM76 46h1v1h-1zM125 46h1v1h-1zM140 46h1v1h-1zM150 46h1v1h-1zM0 47h1v1h-1zM25 47h1v1h-1zM31 47h1v1h-1zM81 47h1v1h-1zM149 47h1v1h-1zM22 48h1v1h-1zM87 48h1v1h-1zM146 48h1v1h-1zM89 49h1v1h-1zM134 49h2v1h-2zM144 49h1v1h-1zM22 50h3v1h-3zM46 50h1v1h-1zM142 50h4v1h-4zM79 51h1v1h-1zM105 51h1v1h-1zM130 51h2v1h-2zM142 51h1v1h-1zM149 51h1v1h-1zM153 51h2v1h-2zM156 51h1v1h-1zM9 52h1v1h-1zM15 52h1v1h-1zM67 52h1v1h-1zM70 52h1v1h-1zM163 52h1v1h-1zM25 53h1v1h-1zM36 53h1v1h-1zM106 53h1v1h-1zM118 53h1v1h-1zM16 54h1v1h-1zM29 54h1v1h-1zM76 54h1v1h-1zM94 54h1v1h-1zM99 54h1v1h-1zM60 55h1v1h-1zM83 55h1v1h-1zM92 55h1v1h-1zM103 55h1v1h-1zM141 55h1v1h-1zM146 55h1v1h-1zM67 56h1v1h-1zM119 56h1v1h-1zM161 56h1v1h-1zM163 56h1v1h-1zM9 57h1v1h-1zM41 57h2v1h-2zM11 58h1v1h-1zM79 58h1v1h-1zM145 58h1v1h-1zM150 58h1v1h-1zM43 59h1v1h-1zM61 59h1v1h-1zM82 59h1v1h-1zM89 59h3v1h-3zM138 59h1v1h-1zM54 60h3v1h-3zM73 60h1v1h-1zM111 60h1v1h-1zM145 60h1v1h-1zM16 61h1v1h-1zM52 61h1v1h-1zM136 61h1v1h-1zM38 62h3v1h-3zM100 62h1v1h-1zM156 62h1v1h-1zM7 63h1v1h-1zM17 63h2v1h-2zM27 63h2v1h-2zM110 63h1v1h-1zM143 63h1v1h-1zM159 63h1v1h-1zM28 64h1v1h-1zM49 64h1v1h-1zM63 64h2v1h-2zM78 64h1v1h-1zM99 64h1v1h-1zM106 64h1v1h-1zM126 64h1v1h-1zM129 64h2v1h-2zM157 64h1v1h-1zM88 65h1v1h-1zM115 65h1v1h-1zM143 65h1v1h-1zM146 65h1v1h-1zM87 66h1v1h-1zM99 66h1v1h-1zM123 66h1v1h-1zM136 66h3v1h-3zM156 66h2v1h-2zM164 66h1v1h-1zM20 67h1v1h-1zM37 67h3v1h-3zM41 67h1v1h-1zM114 67h1v1h-1zM139 67h3v1h-3zM15 68h2v1h-2zM28 68h1v1h-1zM57 68h1v1h-1zM75 68h2v1h-2zM94 68h2v1h-2zM98 68h1v1h-1zM111 68h1v1h-1zM143 68h3v1h-3zM159 68h1v1h-1zM161 68h1v1h-1zM17 69h1v1h-1zM84 69h3v1h-3zM89 69h1v1h-1zM103 69h1v1h-1zM140 69h2v1h-2zM144 69h1v1h-1zM146 69h1v1h-1zM156 69h1v1h-1zM160 69h1v1h-1zM2 70h1v1h-1zM33 70h1v1h-1zM69 70h1v1h-1zM84 70h1v1h-1zM89 70h1v1h-1zM114 70h2v1h-2zM118 70h2v1h-2zM133 70h2v1h-2zM21 71h2v1h-2zM24 71h2v1h-2zM27 71h1v1h-1zM31 71h1v1h-1zM107 71h1v1h-1zM109 71h1v1h-1zM127 71h4v1h-4zM1 72h2v1h-2zM33 72h1v1h-1zM36 72h1v1h-1zM38 72h2v1h-2zM74 72h1v1h-1zM83 72h1v1h-1zM90 72h2v1h-2zM141 72h1v1h-1zM164 72h1v1h-1zM7 73h1v1h-1zM24 73h2v1h-2zM56 73h1v1h-1zM87 73h1v1h-1zM161 73h1v1h-1zM11 74h2v1h-2zM21 74h1v1h-1zM31 74h4v1h-4zM0 75h2v1h-2zM85 75h1v1h-1zM126 75h1v1h-1zM156 75h1v1h-1zM53 76h1v1h-1zM90 76h2v1h-2zM103 76h1v1h-1zM119 76h1v1h-1zM147 76h1v1h-1zM51 77h1v1h-1zM93 77h2v1h-2zM1 78h5v1h-5zM29 78h2v1h-2zM55 78h1v1h-1zM61 78h1v1h-1zM99 78h1v1h-1zM133 78h1v1h-1zM138 78h1v1h-1zM121 79h1v1h-1zM140 79h1v1h-1zM146 79h1v1h-1zM17 80h1v1h-1zM29 81h1v1h-1zM48 81h3v1h-3zM64 82h1v1h-1zM110 82h1v1h-1zM40 83h1v1h-1zM49 83h2v1h-2zM92 83h3v1h-3zM97 83h2v1h-2zM105 83h1v1h-1zM27 84h2v1h-2zM53 84h1v1h-1zM114 84h1v1h-1zM127 84h1v1h-1zM6 85h2v1h-2zM60 85h3v1h-3zM139 85h4v1h-4zM14 86h1v1h-1zM28 86h2v1h-2zM93 86h1v1h-1zM105 86h1v1h-1zM125 86h4v1h-4zM6 87h1v1h-1zM12 87h1v1h-1zM15 87h2v1h-2zM76 87h1v1h-1zM138 87h2v1h-2zM141 87h1v1h-1zM148 87h1v1h-1zM153 87h1v1h-1zM3 88h3v1h-3zM21 88h1v1h-1zM24 88h1v1h-1zM27 88h1v1h-1zM32 88h1v1h-1zM76 88h1v1h-1zM100 88h2v1h-2zM119 88h1v1h-1zM121 88h2v1h-2zM125 88h6v1h-6zM135 88h5v1h-5zM141 88h1v1h-1zM144 88h1v1h-1zM146 88h4v1h-4zM161 88h1v1h-1zM5 89h1v1h-1zM11 89h1v1h-1zM15 89h9v1h-9zM29 89h2v1h-2zM38 89h1v1h-1zM42 89h1v1h-1zM78 89h3v1h-3zM94 89h1v1h-1zM100 89h7v1h-7zM131 89h5v1h-5zM149 89h1v1h-1zM151 89h1v1h-1zM153 89h1v1h-1zM156 89h1v1h-1zM11 90h1v1h-1zM42 90h1v1h-1zM101 90h1v1h-1zM129 90h2v1h-2zM48 91h1v1h-1zM85 91h1v1h-1zM95 91h1v1h-1zM98 91h4v1h-4zM109 91h3v1h-3zM114 91h1v1h-1zM41 92h1v1h-1zM52 92h2v1h-2zM63 92h1v1h-1zM127 92h1v1h-1zM151 92h1v1h-1zM54 93h1v1h-1zM112 93h1v1h-1zM5 94h1v1h-1zM20 94h2v1h-2zM26 94h3v1h-3zM48 94h1v1h-1zM114 94h1v1h-1zM63 95h1v1h-1zM79 96h2v1h-2zM95 96h1v1h-1zM99 96h3v1h-3zM116 96h1v1h-1zM16 97h2v1h-2zM20 97h1v1h-1zM137 97h1v1h-1zM36 98h1v1h-1zM150 98h2v1h-2zM156 99h1v1h-1zM159 100h1v1h-1zM33 102h1v1h-1zM35 102h1v1h-1zM1 104h1v1h-1zM156 104h1v1h-1zM31 105h1v1h-1zM41 107h1v1h-1zM75 107h1v1h-1zM140 107h1v1h-1zM43 110h1v1h-1zM107 110h1v1h-1zM112 111h1v1h-1zM38 113h1v1h-1zM62 113h1v1h-1zM132 113h1v1h-1zM18 114h1v1h-1zM132 114h1v1h-1zM128 115h1v1h-1zM131 115h1v1h-1zM133 116h1v1h-1zM54 118h2v1h-2zM57 118h1v1h-1zM132 118h1v1h-1zM118 119h1v1h-1zM131 119h1v1h-1zM145 119h1v1h-1zM41 120h3v1h-3zM2 121h2v1h-2zM73 121h1v1h-1zM149 121h1v1h-1zM144 124h1v1h-1zM160 124h1v1h-1zM93 125h1v1h-1zM135 125h1v1h-1zM164 126h1v1h-1zM27 127h1v1h-1zM128 128h1v1h-1zM147 128h1v1h-1zM79 129h2v1h-2zM128 130h1v1h-1zM27 131h2v1h-2zM9 132h1v1h-1zM71 132h1v1h-1zM89 132h1v1h-1zM103 132h2v1h-2zM123 132h1v1h-1zM136 132h1v1h-1zM158 132h2v1h-2zM83 133h3v1h-3zM102 133h1v1h-1zM55 134h2v1h-2zM70 134h1v1h-1zM79 134h1v1h-1zM111 135h1v1h-1zM43 136h4v1h-4zM60 136h2v1h-2zM101 136h1v1h-1zM152 136h2v1h-2zM80 137h5v1h-5zM86 137h1v1h-1zM144 137h1v1h-1zM16 138h1v1h-1zM113 138h2v1h-2zM116 138h1v1h-1zM159 138h2v1h-2zM7 139h2v1h-2zM23 139h1v1h-1zM163 139h1v1h-1zM12 140h1v1h-1zM41 140h1v1h-1zM62 140h1v1h-1zM124 140h1v1h-1zM127 140h3v1h-3zM152 140h2v1h-2zM0 141h3v1h-3zM94 141h2v1h-2zM128 141h2v1h-2zM6 142h2v1h-2zM88 142h1v1h-1zM142 142h1v1h-1zM22 143h1v1h-1zM35 143h2v1h-2zM49 143h1v1h-1zM57 143h1v1h-1zM93 143h3v1h-3zM142 143h5v1h-5zM27 144h1v1h-1zM69 144h1v1h-1zM71 144h2v1h-2zM105 144h2v1h-2zM163 144h1v1h-1zM80 145h3v1h-3zM107 145h1v1h-1zM124 145h1v1h-1zM153 145h1v1h-1zM47 146h1v1h-1zM78 146h1v1h-1zM142 146h2v1h-2zM162 146h2v1h-2zM61 147h1v1h-1zM39 148h1v1h-1zM48 148h1v1h-1zM54 148h1v1h-1zM96 148h1v1h-1zM12 149h1v1h-1zM75 149h2v1h-2zM78 149h1v1h-1zM89 149h1v1h-1zM135 149h2v1h-2zM10 150h1v1h-1zM15 150h1v1h-1zM26 150h1v1h-1zM50 150h1v1h-1zM53 150h3v1h-3zM119 150h1v1h-1zM140 150h3v1h-3zM147 150h1v1h-1zM31 151h1v1h-1zM71 151h1v1h-1zM81 151h4v1h-4zM110 151h4v1h-4zM139 151h3v1h-3zM149 151h2v1h-2zM9 152h2v1h-2zM49 152h1v1h-1zM71 152h1v1h-1zM93 152h1v1h-1zM154 152h1v1h-1zM162 152h3v1h-3zM12 153h3v1h-3zM43 153h1v1h-1zM100 153h1v1h-1zM160 153h1v1h-1zM31 154h2v1h-2zM90 154h1v1h-1zM126 154h1v1h-1zM155 154h1v1h-1zM23 155h1v1h-1zM27 155h1v1h-1zM69 155h1v1h-1zM146 155h1v1h-1zM29 156h2v1h-2zM55 156h1v1h-1zM59 156h1v1h-1zM62 156h1v1h-1zM69 156h1v1h-1zM126 156h3v1h-3zM156 156h1v1h-1zM158 156h1v1h-1zM17 157h1v1h-1zM43 157h3v1h-3zM95 157h1v1h-1zM103 157h1v1h-1zM116 157h3v1h-3zM132 157h1v1h-1zM134 157h1v1h-1zM40 158h2v1h-2zM56 158h1v1h-1zM62 158h1v1h-1zM66 158h1v1h-1zM90 158h1v1h-1zM94 158h1v1h-1zM162 158h2v1h-2zM9 159h2v1h-2zM15 159h1v1h-1zM124 159h1v1h-1zM15 160h2v1h-2zM60 160h1v1h-1zM127 160h1v1h-1zM132 160h2v1h-2zM161 160h2v1h-2zM164 160h1v1h-1zM17 161h1v1h-1zM38 161h1v1h-1zM69 161h1v1h-1zM100 161h1v1h-1zM127 161h1v1h-1zM7 162h1v1h-1zM45 162h1v1h-1zM63 162h2v1h-2zM95 162h2v1h-2zM105 162h1v1h-1zM139 162h2v1h-2zM13 163h2v1h-2zM65 163h1v1h-1zM119 163h1v1h-1zM124 163h3v1h-3zM3 164h1v1h-1zM11 164h1v1h-1zM67 164h2v1h-2zM88 164h2v1h-2zM112 164h1v1h-1zM29 165h1v1h-1zM82 165h2v1h-2zM9 166h1v1h-1zM14 166h3v1h-3zM18 166h1v1h-1zM25 166h2v1h-2zM42 166h1v1h-1zM69 166h3v1h-3zM83 166h3v1h-3zM96 166h2v1h-2zM110 166h4v1h-4zM116 166h4v1h-4zM7 167h4v1h-4zM23 167h2v1h-2zM26 167h4v1h-4zM48 167h3v1h-3zM77 167h1v1h-1zM80 167h1v1h-1zM82 167h4v1h-4zM87 167h1v1h-1zM89 167h1v1h-1zM155 167h1v1h-1zM159 167h1v1h-1zM2 168h4v1h-4zM9 168h3v1h-3zM13 168h1v1h-1zM28 168h1v1h-1zM33 168h3v1h-3zM56 168h5v1h-5zM62 168h3v1h-3zM66 168h2v1h-2zM69 168h3v1h-3zM74 168h2v1h-2zM86 168h2v1h-2zM91 168h2v1h-2zM149 168h1v1h-1zM152 168h1v1h-1zM1 169h2v1h-2zM5 169h2v1h-2zM31 169h5v1h-5zM39 169h1v1h-1zM47 169h3v1h-3zM64 169h2v1h-2zM77 169h2v1h-2zM82 169h2v1h-2zM88 169h1v1h-1zM93 169h1v1h-1zM96 169h1v1h-1zM98 169h2v1h-2zM102 169h1v1h-1zM111 169h2v1h-2zM115 169h4v1h-4zM132 169h4v1h-4zM0 170h4v1h-4zM15 170h1v1h-1zM17 170h1v1h-1zM27 170h2v1h-2zM45 170h1v1h-1zM47 170h1v1h-1zM69 170h1v1h-1zM72 170h2v1h-2zM75 170h1v1h-1zM80 170h1v1h-1zM92 170h1v1h-1zM102 170h4v1h-4zM130 170h1v1h-1zM136 170h1v1h-1zM156 170h1v1h-1zM32 171h7v1h-7zM53 171h4v1h-4zM61 171h3v1h-3zM70 171h3v1h-3zM76 171h1v1h-1zM79 171h2v1h-2zM85 171h1v1h-1zM94 171h1v1h-1zM113 171h1v1h-1zM116 171h3v1h-3zM121 171h1v1h-1zM136 171h4v1h-4zM141 171h11v1h-11zM4 172h2v1h-2zM23 172h1v1h-1zM27 172h1v1h-1zM29 172h2v1h-2zM55 172h6v1h-6zM62 172h2v1h-2zM70 172h1v1h-1zM72 172h3v1h-3zM82 172h1v1h-1zM91 172h1v1h-1zM128 172h1v1h-1zM135 172h5v1h-5zM148 172h3v1h-3zM158 172h4v1h-4zM163 172h2v1h-2zM6 173h2v1h-2zM9 173h3v1h-3zM13 173h1v1h-1zM24 173h2v1h-2zM30 173h3v1h-3zM38 173h3v1h-3zM42 173h5v1h-5zM55 173h3v1h-3zM59 173h1v1h-1zM76 173h1v1h-1zM82 173h1v1h-1zM122 173h1v1h-1zM124 173h2v1h-2zM128 173h1v1h-1zM132 173h3v1h-3zM137 173h1v1h-1zM139 173h10v1h-10zM155 173h2v1h-2zM160 173h1v1h-1zM164 173h1v1h-1zM21 174h2v1h-2zM24 174h2v1h-2zM50 174h1v1h-1zM55 174h2v1h-2zM58 174h1v1h-1zM61 174h2v1h-2zM64 174h3v1h-3zM68 174h3v1h-3zM72 174h1v1h-1zM75 174h1v1h-1zM77 174h1v1h-1zM97 174h3v1h-3zM112 174h1v1h-1zM114 174h2v1h-2zM33 175h1v1h-1zM36 175h1v1h-1zM41 175h6v1h-6zM48 175h2v1h-2zM52 175h3v1h-3zM57 175h12v1h-12zM75 175h2v1h-2zM78 175h3v1h-3zM92 175h1v1h-1zM94 175h1v1h-1zM96 175h2v1h-2zM145 175h8v1h-8zM155 175h1v1h-1zM157 175h4v1h-4zM18 176h3v1h-3zM35 176h1v1h-1zM37 176h2v1h-2zM40 176h6v1h-6zM51 176h1v1h-1zM61 176h1v1h-1zM101 176h2v1h-2zM108 176h9v1h-9zM120 176h1v1h-1zM134 176h1v1h-1zM150 176h5v1h-5zM1 177h2v1h-2zM5 177h6v1h-6zM14 177h2v1h-2zM21 177h1v1h-1zM38 177h2v1h-2zM72 177h5v1h-5zM78 177h1v1h-1zM85 177h1v1h-1zM103 177h6v1h-6zM110 177h1v1h-1zM112 177h1v1h-1zM114 177h2v1h-2zM117 177h1v1h-1zM129 177h1v1h-1zM131 177h1v1h-1zM153 177h1v1h-1zM1 178h2v1h-2zM6 178h2v1h-2zM11 178h5v1h-5zM17 178h1v1h-1zM19 178h5v1h-5zM30 178h1v1h-1zM55 178h5v1h-5zM67 178h1v1h-1zM74 178h1v1h-1zM77 178h1v1h-1zM85 178h3v1h-3zM89 178h2v1h-2zM101 178h5v1h-5zM140 178h1v1h-1zM28 179h2v1h-2zM40 179h1v1h-1zM62 179h2v1h-2zM83 179h1v1h-1zM95 179h1v1h-1zM136 179h1v1h-1zM0 180h4v1h-4zM23 180h1v1h-1zM25 180h1v1h-1zM28 180h2v1h-2zM47 180h1v1h-1zM90 180h1v1h-1zM113 180h1v1h-1zM6 181h2v1h-2zM51 181h1v1h-1zM103 181h1v1h-1zM19 182h2v1h-2zM27 182h1v1h-1zM46 182h1v1h-1zM48 182h3v1h-3zM52 182h1v1h-1zM54 182h1v1h-1zM58 182h2v1h-2zM72 182h2v1h-2zM96 182h3v1h-3zM103 182h3v1h-3zM164 182h1v1h-1zM6 183h2v1h-2zM9 183h1v1h-1zM13 183h1v1h-1zM15 183h1v1h-1zM19 183h2v1h-2zM46 183h3v1h-3zM72 183h1v1h-1zM83 183h1v1h-1zM105 183h1v1h-1zM114 183h1v1h-1zM127 183h1v1h-1zM107 184h2v1h-2zM2 185h1v1h-1zM12 185h2v1h-2zM16 185h1v1h-1zM102 185h1v1h-1zM108 185h2v1h-2zM1 186h1v1h-1zM7 186h1v1h-1zM26 186h5v1h-5zM55 186h9v1h-9zM74 186h1v1h-1zM80 186h1v1h-1zM108 186h1v1h-1zM16 187h10v1h-10zM27 187h5v1h-5zM36 187h1v1h-1zM39 187h3v1h-3zM43 187h1v1h-1zM86 187h1v1h-1zM88 187h1v1h-1zM91 187h1v1h-1zM110 187h1v1h-1zM15 188h2v1h-2zM22 188h1v1h-1zM24 188h2v1h-2zM27 188h2v1h-2zM30 188h5v1h-5zM42 188h2v1h-2zM45 188h4v1h-4zM51 188h2v1h-2zM58 188h1v1h-1zM70 188h2v1h-2zM94 188h1v1h-1zM109 188h4v1h-4zM114 188h1v1h-1zM133 188h1v1h-1zM136 188h2v1h-2zM2 189h1v1h-1zM9 189h7v1h-7zM22 189h4v1h-4zM29 189h2v1h-2zM55 189h1v1h-1zM58 189h2v1h-2zM61 189h1v1h-1zM113 189h1v1h-1zM121 189h2v1h-2zM128 189h1v1h-1zM131 189h1v1h-1zM2 190h1v1h-1zM12 190h2v1h-2zM15 190h1v1h-1zM18 190h1v1h-1zM20 190h1v1h-1zM41 190h1v1h-1zM56 190h2v1h-2zM59 190h1v1h-1zM76 190h2v1h-2zM79 190h4v1h-4zM112 190h9v1h-9zM144 190h6v1h-6zM6 191h1v1h-1zM30 191h5v1h-5zM48 191h6v1h-6zM56 191h2v1h-2zM59 191h1v1h-1zM61 191h1v1h-1zM66 191h1v1h-1zM69 191h1v1h-1zM80 191h9v1h-9zM90 191h1v1h-1zM92 191h1v1h-1zM160 191h4v1h-4zM9 192h6v1h-6zM21 192h2v1h-2zM70 192h1v1h-1zM103 192h3v1h-3zM120 192h5v1h-5zM127 192h1v1h-1zM130 192h2v1h-2zM5 193h1v1h-1zM49 193h1v1h-1zM76 193h1v1h-1zM85 193h2v1h-2zM88 193h1v1h-1zM90 193h1v1h-1zM100 193h3v1h-3zM110 193h6v1h-6zM124 193h4v1h-4zM134 193h1v1h-1zM136 193h1v1h-1zM142 193h2v1h-2zM145 193h1v1h-1zM151 193h1v1h-1zM154 193h1v1h-1zM17 194h5v1h-5zM31 194h1v1h-1zM46 194h3v1h-3zM64 194h2v1h-2zM68 194h3v1h-3zM73 194h4v1h-4zM78 194h1v1h-1zM93 194h2v1h-2zM126 194h2v1h-2zM155 194h3v1h-3zM9 195h2v1h-2zM13 195h3v1h-3zM18 195h12v1h-12zM39 195h2v1h-2zM60 195h17v1h-17zM107 195h1v1h-1zM110 195h2v1h-2zM29 196h1v1h-1zM32 196h3v1h-3zM47 196h1v1h-1zM49 196h1v1h-1zM52 196h1v1h-1zM86 196h1v1h-1zM102 196h3v1h-3zM109 196h1v1h-1zM149 196h1v1h-1zM1 197h3v1h-3zM21 197h1v1h-1zM42 197h2v1h-2zM47 197h3v1h-3zM51 197h2v1h-2zM73 197h1v1h-1zM82 197h1v1h-1zM88 197h1v1h-1zM97 197h1v1h-1zM135 197h1v1h-1zM2 198h2v1h-2zM9 198h3v1h-3zM30 198h3v1h-3zM34 198h2v1h-2zM37 198h2v1h-2zM56 198h1v1h-1zM70 198h1v1h-1zM75 198h1v1h-1zM87 198h1v1h-1zM91 198h3v1h-3zM95 198h1v1h-1zM0 199h4v1h-4zM8 199h3v1h-3zM12 199h2v1h-2zM31 199h3v1h-3zM35 199h2v1h-2zM44 199h1v1h-1zM49 199h3v1h-3zM69 199h5v1h-5zM14 200h1v1h-1zM66 200h2v1h-2zM83 200h4v1h-4zM98 200h2v1h-2zM7 201h3v1h-3zM21 201h1v1h-1zM30 201h1v1h-1zM72 201h2v1h-2zM79 201h1v1h-1zM82 201h1v1h-1zM84 201h1v1h-1zM90 201h2v1h-2zM93 201h1v1h-1zM34 202h1v1h-1zM55 202h2v1h-2zM84 202h1v1h-1zM88 202h3v1h-3zM15 203h1v1h-1zM39 203h2v1h-2zM59 203h1v1h-1zM64 203h1v1h-1zM82 203h1v1h-1zM84 203h1v1h-1zM92 203h2v1h-2zM95 203h1v1h-1zM14 204h1v1h-1zM47 204h3v1h-3zM162 204h1v1h-1zM22 205h7v1h-7zM30 205h5v1h-5zM46 205h2v1h-2zM49 205h3v1h-3zM72 205h2v1h-2zM1 206h1v1h-1zM25 206h1v1h-1zM36 206h2v1h-2zM39 206h1v1h-1zM44 206h1v1h-1zM46 206h2v1h-2zM53 206h6v1h-6zM74 206h11v1h-11zM87 206h1v1h-1zM90 206h2v1h-2zM96 206h2v1h-2zM99 206h2v1h-2zM103 206h1v1h-1zM6 207h3v1h-3zM11 207h1v1h-1zM15 207h1v1h-1zM38 207h1v1h-1zM62 207h1v1h-1zM80 207h2v1h-2zM0 208h2v1h-2zM5 208h1v1h-1zM8 208h1v1h-1zM10 208h2v1h-2zM13 208h1v1h-1zM17 208h1v1h-1zM27 208h3v1h-3zM55 208h1v1h-1zM61 208h1v1h-1zM89 208h1v1h-1zM100 208h1v1h-1zM128 208h1v1h-1zM150 208h1v1h-1zM110 209h2v1h-2zM34 210h2v1h-2zM37 210h1v1h-1zM40 210h2v1h-2zM44 210h2v1h-2zM48 210h1v1h-1zM59 210h1v1h-1zM64 210h37v1h-37zM102 210h1v1h-1zM104 210h2v1h-2zM140 210h1v1h-1zM142 210h1v1h-1zM5 211h1v1h-1zM51 211h1v1h-1zM53 211h4v1h-4zM60 211h2v1h-2zM155 211h2v1h-2zM1 212h1v1h-1zM12 212h1v1h-1zM18 212h4v1h-4zM23 212h2v1h-2zM29 212h1v1h-1zM36 212h1v1h-1zM41 212h3v1h-3zM46 212h2v1h-2zM49 212h1v1h-1zM51 212h4v1h-4zM56 212h1v1h-1zM58 212h1v1h-1zM60 212h3v1h-3zM64 212h1v1h-1zM79 212h10v1h-10zM90 212h1v1h-1zM95 212h1v1h-1zM99 212h1v1h-1zM115 212h1v1h-1zM131 212h1v1h-1zM0 213h7v1h-7zM25 213h2v1h-2zM33 213h7v1h-7zM41 213h3v1h-3zM88 213h1v1h-1zM90 213h1v1h-1zM101 213h1v1h-1zM159 213h2v1h-2zM17 214h2v1h-2zM20 214h1v1h-1zM22 214h2v1h-2zM25 214h1v1h-1zM27 214h1v1h-1zM32 214h1v1h-1zM34 214h1v1h-1zM37 214h2v1h-2zM46 214h3v1h-3zM50 214h1v1h-1zM52 214h1v1h-1zM54 214h1v1h-1zM57 214h1v1h-1zM59 214h1v1h-1zM63 214h1v1h-1zM67 214h2v1h-2zM70 214h2v1h-2zM78 214h1v1h-1zM82 214h9v1h-9zM92 214h3v1h-3zM98 214h1v1h-1zM100 214h6v1h-6zM7 215h1v1h-1zM9 215h1v1h-1zM11 215h9v1h-9zM32 215h1v1h-1zM78 215h1v1h-1zM95 215h1v1h-1zM97 215h2v1h-2zM109 215h1v1h-1zM129 215h1v1h-1zM2 216h5v1h-5zM9 216h1v1h-1zM63 216h2v1h-2zM96 216h1v1h-1zM98 216h3v1h-3zM104 216h1v1h-1zM145 216h1v1h-1zM56 217h3v1h-3zM102 217h7v1h-7zM130 217h1v1h-1zM10 218h4v1h-4zM15 218h3v1h-3zM34 218h1v1h-1zM45 218h7v1h-7zM113 218h1v1h-1zM117 218h1v1h-1zM119 218h4v1h-4zM154 218h1v1h-1zM36 219h2v1h-2zM39 219h1v1h-1zM43 219h1v1h-1zM47 219h1v1h-1zM51 219h5v1h-5zM58 219h1v1h-1zM60 219h1v1h-1zM108 219h5v1h-5zM14 220h2v1h-2zM21 220h1v1h-1zM38 220h1v1h-1zM56 220h4v1h-4zM83 220h2v1h-2zM88 220h1v1h-1zM90 220h3v1h-3zM104 220h6v1h-6zM111 220h3v1h-3zM132 220h3v1h-3zM136 220h1v1h-1zM1 221h1v1h-1zM10 221h1v1h-1zM12 221h6v1h-6zM30 221h1v1h-1zM46 221h1v1h-1zM51 221h1v1h-1zM54 221h1v1h-1zM97 221h2v1h-2zM106 221h5v1h-5zM139 221h5v1h-5zM145 221h2v1h-2zM151 221h2v1h-2zM3 222h1v1h-1zM6 222h1v1h-1zM11 222h1v1h-1zM19 222h3v1h-3zM24 222h2v1h-2zM85 222h17v1h-17zM120 222h1v1h-1zM123 222h2v1h-2zM128 222h6v1h-6zM146 222h13v1h-13zM8 223h1v1h-1zM13 223h1v1h-1zM18 223h1v1h-1zM20 223h1v1h-1zM26 223h1v1h-1zM62 223h1v1h-1zM65 223h1v1h-1zM68 223h1v1h-1zM104 223h3v1h-3zM117 223h2v1h-2zM141 223h1v1h-1zM163 223h1v1h-1zM106 224h5v1h-5zM114 224h1v1h-1zM116 224h1v1h-1zM162 224h3v1h-3zM1 225h2v1h-2zM35 225h1v1h-1zM38 225h1v1h-1zM41 225h1v1h-1zM98 225h3v1h-3zM102 225h1v1h-1zM105 225h1v1h-1zM136 225h5v1h-5zM144 225h5v1h-5zM151 225h1v1h-1zM39 226h4v1h-4zM51 226h4v1h-4zM58 226h1v1h-1zM61 226h1v1h-1zM65 226h2v1h-2zM78 226h2v1h-2zM99 226h1v1h-1zM106 226h2v1h-2zM110 226h3v1h-3zM117 226h1v1h-1zM119 226h1v1h-1zM121 226h1v1h-1zM129 226h1v1h-1zM133 226h2v1h-2zM148 226h2v1h-2zM7 227h1v1h-1zM10 227h1v1h-1zM15 227h1v1h-1zM20 227h1v1h-1zM22 227h1v1h-1zM24 227h3v1h-3zM43 227h1v1h-1zM47 227h2v1h-2zM50 227h1v1h-1zM55 227h8v1h-8zM65 227h11v1h-11zM77 227h2v1h-2zM80 227h2v1h-2zM86 227h1v1h-1zM111 227h1v1h-1zM115 227h1v1h-1zM120 227h2v1h-2zM148 227h1v1h-1zM151 227h1v1h-1zM155 227h1v1h-1zM19 228h1v1h-1zM21 228h2v1h-2zM24 228h1v1h-1zM27 228h1v1h-1zM30 228h2v1h-2zM47 228h1v1h-1zM49 228h3v1h-3zM55 228h2v1h-2zM59 228h1v1h-1zM61 228h4v1h-4zM68 228h1v1h-1zM70 228h6v1h-6zM77 228h2v1h-2zM90 228h17v1h-17zM135 228h1v1h-1zM138 228h1v1h-1zM160 228h2v1h-2zM13 229h3v1h-3zM19 229h4v1h-4zM73 229h1v1h-1zM110 229h1v1h-1zM117 229h1v1h-1zM142 229h1v1h-1zM156 229h2v1h-2zM32 230h1v1h-1zM34 230h2v1h-2zM41 230h7v1h-7zM55 230h5v1h-5zM76 230h4v1h-4zM82 230h2v1h-2zM86 230h3v1h-3zM98 230h4v1h-4zM111 230h2v1h-2zM1 231h1v1h-1zM4 231h1v1h-1zM10 231h1v1h-1zM70 231h1v1h-1zM146 231h1v1h-1zM77 232h3v1h-3zM84 232h1v1h-1zM6 233h4v1h-4zM48 233h6v1h-6zM55 233h1v1h-1zM57 233h2v1h-2zM85 233h3v1h-3zM89 233h1v1h-1zM94 233h1v1h-1zM128 233h1v1h-1zM139 233h2v1h-2zM162 233h2v1h-2zM3 234h1v1h-1zM33 234h3v1h-3zM40 234h2v1h-2zM55 234h3v1h-3zM67 234h1v1h-1zM69 234h1v1h-1zM72 234h1v1h-1zM74 234h7v1h-7zM93 234h1v1h-1zM95 234h2v1h-2zM105 234h2v1h-2zM110 234h2v1h-2zM125 234h1v1h-1zM145 234h2v1h-2zM149 234h1v1h-1zM158 234h3v1h-3zM163 234h1v1h-1zM5 235h1v1h-1zM22 235h1v1h-1zM50 235h2v1h-2zM53 235h6v1h-6zM60 235h8v1h-8zM84 235h1v1h-1zM103 235h2v1h-2zM106 235h1v1h-1zM108 235h3v1h-3zM133 235h1v1h-1zM138 235h3v1h-3zM151 235h1v1h-1zM154 235h1v1h-1zM157 235h2v1h-2zM5 236h1v1h-1zM16 236h2v1h-2zM19 236h3v1h-3zM23 236h4v1h-4zM39 236h5v1h-5zM73 236h2v1h-2zM89 236h1v1h-1zM100 236h1v1h-1zM103 236h1v1h-1zM119 236h6v1h-6zM128 236h1v1h-1zM130 236h1v1h-1zM1 237h15v1h-15zM20 237h2v1h-2zM26 237h1v1h-1zM28 237h2v1h-2zM45 237h4v1h-4zM50 237h3v1h-3zM54 237h4v1h-4zM63 237h2v1h-2zM78 237h1v1h-1zM81 237h1v1h-1zM87 237h7v1h-7zM128 237h1v1h-1zM39 238h1v1h-1zM41 238h1v1h-1zM148 238h1v1h-1zM152 238h1v1h-1zM1 239h2v1h-2zM5 239h16v1h-16zM24 239h15v1h-15zM40 239h1v1h-1zM50 239h1v1h-1zM59 239h3v1h-3zM63 239h4v1h-4zM113 239h1v1h-1zM146 239h1v1h-1zM156 239h1v1h-1zM23 240h6v1h-6zM53 240h3v1h-3zM84 240h3v1h-3zM89 240h2v1h-2zM99 240h3v1h-3zM116 240h1v1h-1zM140 240h2v1h-2z"/>
<path fill="#ffad5c" transform="translate(1628.5 48.8) scale(2.2 1.6)" d="M141 0h2v1h-2zM93 2h1v1h-1zM41 10h1v1h-1zM157 10h2v1h-2zM148 16h1v1h-1zM144 17h2v1h-2zM22 19h1v1h-1zM38 19h1v1h-1zM132 19h1v1h-1zM44 20h2v1h-2zM51 20h1v1h-1zM73 20h1v1h-1zM50 21h1v1h-1zM34 22h2v1h-2zM118 22h1v1h-1zM40 23h1v1h-1zM73 24h1v1h-1zM75 24h1v1h-1zM119 24h1v1h-1zM84 25h1v1h-1zM23 26h3v1h-3zM40 27h3v1h-3zM84 27h1v1h-1zM89 27h1v1h-1zM91 27h1v1h-1zM117 29h1v1h-1zM141 29h3v1h-3zM88 31h2v1h-2zM68 33h1v1h-1zM62 36h1v1h-1zM137 37h1v1h-1zM39 38h1v1h-1zM97 38h1v1h-1zM31 44h1v1h-1zM99 48h1v1h-1zM132 48h1v1h-1zM146 50h1v1h-1zM35 53h1v1h-1zM37 53h2v1h-2zM59 55h1v1h-1zM162 56h1v1h-1zM45 60h1v1h-1zM112 60h1v1h-1zM135 61h1v1h-1zM162 64h2v1h-2zM31 65h3v1h-3zM64 65h1v1h-1zM154 67h1v1h-1zM29 68h1v1h-1zM160 68h1v1h-1zM102 69h1v1h-1zM104 69h1v1h-1zM142 69h2v1h-2zM145 69h1v1h-1zM148 69h1v1h-1zM159 69h1v1h-1zM49 70h5v1h-5zM67 70h2v1h-2zM70 70h4v1h-4zM153 70h1v1h-1zM164 70h1v1h-1zM108 71h1v1h-1zM14 72h1v1h-1zM40 72h2v1h-2zM87 72h3v1h-3zM92 72h3v1h-3zM119 72h1v1h-1zM121 72h1v1h-1zM140 72h1v1h-1zM145 72h6v1h-6zM86 73h1v1h-1zM88 73h1v1h-1zM138 73h1v1h-1zM146 75h1v1h-1zM120 76h1v1h-1zM6 78h1v1h-1zM22 82h1v1h-1zM75 83h1v1h-1zM159 85h1v1h-1zM94 86h1v1h-1zM13 87h2v1h-2zM120 87h2v1h-2zM152 87h1v1h-1zM154 87h1v1h-1zM33 88h4v1h-4zM44 88h3v1h-3zM99 88h1v1h-1zM102 88h2v1h-2zM159 88h1v1h-1zM28 89h1v1h-1zM31 89h7v1h-7zM77 89h1v1h-1zM84 89h1v1h-1zM116 89h2v1h-2zM136 89h1v1h-1zM0 90h2v1h-2zM18 90h1v1h-1zM82 90h12v1h-12zM116 90h2v1h-2zM135 90h1v1h-1zM18 91h1v1h-1zM104 91h1v1h-1zM107 91h2v1h-2zM112 91h2v1h-2zM140 91h2v1h-2zM149 91h6v1h-6zM47 94h1v1h-1zM47 95h1v1h-1zM112 95h1v1h-1zM115 96h1v1h-1zM57 98h1v1h-1zM155 99h1v1h-1zM38 100h1v1h-1zM29 101h1v1h-1zM74 103h1v1h-1zM83 110h1v1h-1zM76 114h2v1h-2zM131 114h1v1h-1zM21 120h1v1h-1zM94 120h1v1h-1zM72 121h1v1h-1zM54 132h1v1h-1zM32 133h1v1h-1zM101 133h1v1h-1zM111 133h1v1h-1zM91 135h1v1h-1zM142 137h2v1h-2zM31 138h2v1h-2zM55 138h1v1h-1zM126 138h1v1h-1zM144 138h1v1h-1zM59 140h1v1h-1zM125 140h1v1h-1zM5 142h1v1h-1zM106 142h1v1h-1zM130 143h2v1h-2zM157 144h1v1h-1zM120 149h2v1h-2zM116 150h1v1h-1zM118 151h1v1h-1zM23 156h3v1h-3zM56 156h3v1h-3zM95 156h1v1h-1zM106 156h1v1h-1zM4 157h3v1h-3zM34 157h6v1h-6zM55 157h2v1h-2zM87 158h1v1h-1zM163 160h1v1h-1zM49 161h1v1h-1zM97 162h1v1h-1zM15 163h1v1h-1zM127 164h1v1h-1zM79 165h1v1h-1zM41 166h1v1h-1zM25 167h1v1h-1zM76 167h1v1h-1zM78 167h2v1h-2zM81 167h1v1h-1zM86 167h1v1h-1zM88 167h1v1h-1zM90 167h1v1h-1zM27 168h1v1h-1zM29 168h4v1h-4zM36 168h1v1h-1zM93 168h1v1h-1zM150 168h2v1h-2zM153 168h1v1h-1zM3 169h2v1h-2zM7 169h1v1h-1zM38 169h1v1h-1zM14 170h1v1h-1zM16 170h1v1h-1zM18 170h1v1h-1zM70 170h2v1h-2zM74 170h1v1h-1zM84 170h1v1h-1zM94 170h1v1h-1zM41 171h7v1h-7zM57 171h1v1h-1zM83 171h2v1h-2zM86 171h1v1h-1zM95 171h3v1h-3zM99 171h1v1h-1zM112 171h1v1h-1zM114 171h2v1h-2zM119 171h2v1h-2zM140 171h1v1h-1zM7 172h1v1h-1zM28 172h1v1h-1zM37 172h14v1h-14zM64 172h6v1h-6zM71 172h1v1h-1zM75 172h1v1h-1zM81 172h1v1h-1zM83 172h2v1h-2zM88 172h2v1h-2zM93 172h2v1h-2zM110 172h2v1h-2zM113 172h1v1h-1zM134 172h1v1h-1zM8 173h1v1h-1zM12 173h1v1h-1zM33 173h1v1h-1zM65 173h2v1h-2zM68 173h5v1h-5zM75 173h1v1h-1zM77 173h5v1h-5zM109 173h1v1h-1zM111 173h4v1h-4zM117 173h1v1h-1zM119 173h1v1h-1zM123 173h1v1h-1zM126 173h2v1h-2zM129 173h3v1h-3zM135 173h2v1h-2zM159 173h1v1h-1zM161 173h3v1h-3zM4 174h1v1h-1zM6 174h3v1h-3zM17 174h1v1h-1zM36 174h2v1h-2zM39 174h1v1h-1zM44 174h3v1h-3zM76 174h1v1h-1zM95 174h2v1h-2zM100 174h1v1h-1zM140 174h6v1h-6zM153 174h12v1h-12zM5 175h2v1h-2zM21 175h2v1h-2zM25 175h5v1h-5zM32 175h1v1h-1zM40 175h1v1h-1zM47 175h1v1h-1zM50 175h2v1h-2zM55 175h1v1h-1zM77 175h1v1h-1zM93 175h1v1h-1zM95 175h1v1h-1zM124 175h2v1h-2zM164 175h1v1h-1zM7 176h4v1h-4zM16 176h1v1h-1zM63 176h6v1h-6zM85 176h1v1h-1zM88 176h6v1h-6zM12 177h2v1h-2zM16 177h1v1h-1zM35 177h3v1h-3zM40 177h7v1h-7zM111 177h1v1h-1zM113 177h1v1h-1zM116 177h1v1h-1zM130 177h1v1h-1zM8 178h3v1h-3zM16 178h1v1h-1zM50 178h4v1h-4zM97 178h1v1h-1zM46 180h1v1h-1zM47 182h1v1h-1zM51 182h1v1h-1zM53 182h1v1h-1zM109 182h1v1h-1zM41 183h1v1h-1zM91 184h1v1h-1zM98 184h1v1h-1zM126 184h1v1h-1zM54 186h1v1h-1zM77 186h3v1h-3zM81 186h1v1h-1zM26 187h1v1h-1zM142 187h2v1h-2zM113 188h1v1h-1zM41 189h1v1h-1zM97 189h1v1h-1zM108 189h2v1h-2zM127 189h1v1h-1zM129 189h2v1h-2zM14 190h1v1h-1zM16 190h2v1h-2zM19 190h1v1h-1zM22 190h10v1h-10zM43 190h6v1h-6zM68 190h2v1h-2zM97 190h6v1h-6zM159 190h1v1h-1zM161 190h4v1h-4zM5 191h1v1h-1zM7 191h4v1h-4zM55 191h1v1h-1zM58 191h1v1h-1zM60 191h1v1h-1zM62 191h4v1h-4zM140 191h6v1h-6zM148 191h2v1h-2zM24 192h2v1h-2zM29 192h2v1h-2zM32 192h1v1h-1zM34 192h2v1h-2zM60 192h1v1h-1zM98 192h4v1h-4zM106 192h1v1h-1zM119 192h1v1h-1zM125 192h2v1h-2zM23 193h6v1h-6zM33 193h1v1h-1zM35 193h1v1h-1zM37 193h9v1h-9zM47 193h2v1h-2zM50 193h4v1h-4zM74 193h2v1h-2zM96 193h1v1h-1zM144 193h1v1h-1zM30 194h1v1h-1zM32 194h9v1h-9zM95 194h3v1h-3zM147 194h1v1h-1zM8 195h1v1h-1zM41 195h1v1h-1zM108 195h1v1h-1zM30 196h2v1h-2zM46 197h1v1h-1zM50 197h1v1h-1zM1 198h1v1h-1zM4 198h1v1h-1zM154 198h1v1h-1zM7 199h1v1h-1zM11 199h1v1h-1zM34 199h1v1h-1zM64 200h1v1h-1zM88 201h2v1h-2zM92 201h1v1h-1zM94 201h1v1h-1zM86 202h2v1h-2zM161 202h1v1h-1zM94 203h1v1h-1zM29 205h1v1h-1zM10 206h2v1h-2zM38 206h1v1h-1zM40 206h4v1h-4zM45 206h1v1h-1zM65 206h2v1h-2zM2 208h3v1h-3zM6 208h2v1h-2zM9 208h1v1h-1zM12 208h1v1h-1zM14 208h3v1h-3zM18 208h2v1h-2zM88 208h1v1h-1zM90 208h1v1h-1zM3 209h5v1h-5zM9 209h9v1h-9zM21 209h3v1h-3zM29 209h1v1h-1zM48 209h1v1h-1zM64 209h1v1h-1zM77 209h1v1h-1zM94 209h5v1h-5zM106 209h1v1h-1zM7 210h1v1h-1zM56 210h3v1h-3zM60 210h1v1h-1zM101 210h1v1h-1zM103 210h1v1h-1zM4 211h1v1h-1zM6 211h1v1h-1zM24 211h3v1h-3zM52 211h1v1h-1zM75 211h1v1h-1zM77 211h2v1h-2zM81 211h6v1h-6zM0 212h1v1h-1zM2 212h1v1h-1zM26 212h3v1h-3zM30 212h1v1h-1zM44 212h2v1h-2zM48 212h1v1h-1zM50 212h1v1h-1zM55 212h1v1h-1zM57 212h1v1h-1zM59 212h1v1h-1zM63 212h1v1h-1zM91 212h4v1h-4zM98 212h1v1h-1zM100 212h5v1h-5zM111 212h1v1h-1zM27 213h1v1h-1zM40 213h1v1h-1zM19 214h1v1h-1zM21 214h1v1h-1zM24 214h1v1h-1zM26 214h1v1h-1zM28 214h3v1h-3zM44 214h2v1h-2zM51 214h1v1h-1zM53 214h1v1h-1zM55 214h2v1h-2zM58 214h1v1h-1zM60 214h3v1h-3zM64 214h3v1h-3zM69 214h1v1h-1zM72 214h1v1h-1zM91 214h1v1h-1zM24 215h8v1h-8zM33 215h1v1h-1zM94 215h1v1h-1zM96 215h1v1h-1zM99 215h1v1h-1zM131 215h1v1h-1zM20 216h3v1h-3zM65 216h1v1h-1zM97 216h1v1h-1zM129 217h1v1h-1zM131 217h1v1h-1zM52 218h1v1h-1zM55 218h1v1h-1zM112 218h1v1h-1zM2 219h2v1h-2zM1 220h3v1h-3zM89 220h1v1h-1zM110 220h1v1h-1zM135 220h1v1h-1zM137 220h1v1h-1zM23 221h1v1h-1zM79 221h1v1h-1zM28 222h1v1h-1zM44 222h2v1h-2zM50 222h6v1h-6zM103 222h1v1h-1zM108 222h12v1h-12zM126 222h2v1h-2zM4 223h4v1h-4zM9 223h4v1h-4zM14 223h4v1h-4zM19 223h1v1h-1zM21 223h5v1h-5zM58 223h2v1h-2zM110 223h2v1h-2zM124 223h1v1h-1zM158 223h5v1h-5zM164 223h1v1h-1zM10 224h1v1h-1zM14 224h3v1h-3zM18 224h2v1h-2zM28 224h3v1h-3zM47 224h1v1h-1zM51 224h1v1h-1zM115 224h1v1h-1zM117 224h1v1h-1zM128 224h6v1h-6zM156 224h2v1h-2zM26 225h4v1h-4zM31 225h1v1h-1zM33 225h2v1h-2zM36 225h2v1h-2zM39 225h2v1h-2zM45 225h1v1h-1zM47 225h3v1h-3zM52 225h2v1h-2zM55 225h1v1h-1zM57 225h9v1h-9zM69 225h2v1h-2zM96 225h2v1h-2zM101 225h1v1h-1zM103 225h2v1h-2zM108 225h1v1h-1zM115 225h1v1h-1zM130 225h3v1h-3zM162 225h1v1h-1zM8 226h2v1h-2zM87 226h1v1h-1zM90 226h2v1h-2zM93 226h1v1h-1zM102 226h1v1h-1zM108 226h2v1h-2zM113 226h4v1h-4zM118 226h1v1h-1zM130 226h3v1h-3zM8 227h2v1h-2zM16 227h4v1h-4zM21 227h1v1h-1zM23 227h1v1h-1zM27 227h2v1h-2zM45 227h2v1h-2zM49 227h1v1h-1zM51 227h1v1h-1zM76 227h1v1h-1zM84 227h2v1h-2zM87 227h3v1h-3zM119 227h1v1h-1zM16 228h3v1h-3zM20 228h1v1h-1zM23 228h1v1h-1zM25 228h2v1h-2zM28 228h2v1h-2zM158 228h2v1h-2zM162 228h1v1h-1zM16 229h3v1h-3zM33 230h1v1h-1zM80 230h2v1h-2zM85 230h1v1h-1zM89 230h4v1h-4zM3 231h1v1h-1zM5 231h1v1h-1zM147 231h1v1h-1zM2 232h1v1h-1zM11 232h3v1h-3zM66 232h4v1h-4zM12 233h2v1h-2zM24 233h2v1h-2zM27 233h4v1h-4zM56 233h1v1h-1zM84 233h1v1h-1zM88 233h1v1h-1zM90 233h4v1h-4zM95 233h6v1h-6zM103 233h2v1h-2zM137 233h2v1h-2zM141 233h1v1h-1zM152 233h1v1h-1zM0 234h3v1h-3zM4 234h2v1h-2zM7 234h1v1h-1zM26 234h6v1h-6zM36 234h1v1h-1zM42 234h1v1h-1zM45 234h2v1h-2zM49 234h2v1h-2zM60 234h1v1h-1zM97 234h2v1h-2zM101 234h1v1h-1zM107 234h3v1h-3zM126 234h1v1h-1zM134 234h4v1h-4zM161 234h2v1h-2zM164 234h1v1h-1zM29 235h1v1h-1zM52 235h1v1h-1zM59 235h1v1h-1zM75 235h1v1h-1zM78 235h3v1h-3zM88 235h5v1h-5zM98 235h1v1h-1zM105 235h1v1h-1zM107 235h1v1h-1zM134 235h4v1h-4zM142 235h3v1h-3zM155 235h1v1h-1zM159 235h1v1h-1zM11 236h3v1h-3zM85 236h2v1h-2zM98 236h2v1h-2zM101 236h2v1h-2zM104 236h1v1h-1zM125 236h3v1h-3zM82 237h1v1h-1zM39 239h1v1h-1zM62 239h1v1h-1zM67 239h1v1h-1zM52 240h1v1h-1zM59 240h2v1h-2zM83 240h1v1h-1zM87 240h2v1h-2z"/>
<path fill="#ff9933" transform="translate(1628.5 48.8) scale(2.2 1.6)" d="M118 89h2v1h-2zM29 90h2v1h-2zM145 90h2v1h-2zM148 90h5v1h-5zM154 90h11v1h-11zM18 171h1v1h-1zM20 171h1v1h-1zM103 171h6v1h-6zM87 172h1v1h-1zM112 172h1v1h-1zM114 172h1v1h-1zM67 173h1v1h-1zM110 173h1v1h-1zM115 173h2v1h-2zM118 173h1v1h-1zM5 174h1v1h-1zM38 174h1v1h-1zM40 174h1v1h-1zM79 174h3v1h-3zM133 174h1v1h-1zM17 175h2v1h-2zM106 175h1v1h-1zM112 175h3v1h-3zM162 175h2v1h-2zM12 176h4v1h-4zM80 176h1v1h-1zM83 176h2v1h-2zM86 176h2v1h-2zM94 176h3v1h-3zM10 190h1v1h-1zM123 190h1v1h-1zM125 190h1v1h-1zM127 190h1v1h-1zM95 191h5v1h-5zM101 191h14v1h-14zM146 191h2v1h-2zM26 192h3v1h-3zM31 192h1v1h-1zM33 192h1v1h-1zM36 192h5v1h-5zM14 193h7v1h-7zM34 193h1v1h-1zM8 209h1v1h-1zM18 209h3v1h-3zM40 209h7v1h-7zM49 209h1v1h-1zM6 210h1v1h-1zM8 210h2v1h-2zM157 210h4v1h-4zM27 211h2v1h-2zM44 211h6v1h-6zM76 211h1v1h-1zM79 211h1v1h-1zM102 211h4v1h-4zM14 222h1v1h-1zM33 222h2v1h-2zM109 223h1v1h-1zM0 224h1v1h-1zM2 224h1v1h-1zM11 224h3v1h-3zM17 224h1v1h-1zM20 224h2v1h-2zM49 224h2v1h-2zM52 224h22v1h-22zM30 225h1v1h-1zM44 225h1v1h-1zM46 225h1v1h-1zM50 225h2v1h-2zM54 225h1v1h-1zM56 225h1v1h-1zM71 225h1v1h-1zM73 225h7v1h-7zM10 226h1v1h-1zM22 226h6v1h-6zM45 226h5v1h-5zM75 226h2v1h-2zM88 226h2v1h-2zM92 226h1v1h-1zM11 233h1v1h-1zM26 233h1v1h-1zM82 233h1v1h-1zM15 234h3v1h-3zM28 235h1v1h-1zM76 235h2v1h-2zM87 235h1v1h-1z"/>
<path fill="#ff850a" transform="translate(1628.5 48.8) scale(2.2 1.6)" d="M38 88h5v1h-5zM31 90h1v1h-1zM122 90h5v1h-5zM147 90h1v1h-1zM153 90h1v1h-1zM19 171h1v1h-1zM103 173h2v1h-2zM106 173h1v1h-1zM11 175h6v1h-6zM107 175h1v1h-1zM79 176h1v1h-1zM81 176h1v1h-1zM105 190h6v1h-6zM126 190h1v1h-1zM128 190h4v1h-4zM100 191h1v1h-1zM42 192h15v1h-15zM115 192h1v1h-1zM117 192h1v1h-1zM32 211h11v1h-11zM13 222h1v1h-1zM15 222h1v1h-1zM29 223h12v1h-12zM47 223h5v1h-5zM74 223h28v1h-28zM1 224h1v1h-1zM3 224h3v1h-3zM7 224h2v1h-2zM120 225h1v1h-1zM32 226h1v1h-1zM34 226h1v1h-1zM36 226h2v1h-2zM22 233h1v1h-1zM10 235h3v1h-3z"/>
<path fill="#ff7000" transform="translate(1628.5 48.8) scale(2.2 1.6)" d="M48 89h1v1h-1zM50 89h4v1h-4zM56 89h1v1h-1zM58 89h2v1h-2zM78 172h2v1h-2zM100 172h6v1h-6zM101 173h2v1h-2zM105 173h1v1h-1zM107 173h1v1h-1zM10 174h2v1h-2zM85 174h1v1h-1zM83 175h4v1h-4zM19 191h1v1h-1zM23 191h1v1h-1zM25 191h2v1h-2zM38 191h5v1h-5zM119 191h9v1h-9zM116 192h1v1h-1zM1 210h1v1h-1zM43 223h3v1h-3zM7 225h4v1h-4zM14 226h3v1h-3zM33 226h1v1h-1zM35 226h1v1h-1zM11 234h3v1h-3zM20 234h1v1h-1zM85 234h6v1h-6zM16 235h3v1h-3zM24 235h3v1h-3z"/>
<path fill="#ff5c00" transform="translate(1628.5 48.8) scale(2.2 1.6)" d="M49 89h1v1h-1zM54 89h2v1h-2zM57 89h1v1h-1zM60 89h2v1h-2zM123 89h3v1h-3zM83 174h2v1h-2zM88 174h1v1h-1zM88 175h3v1h-3zM13 191h6v1h-6zM20 191h3v1h-3zM24 191h1v1h-1zM27 191h2v1h-2zM96 192h1v1h-1zM108 192h4v1h-4zM0 210h1v1h-1zM2 210h3v1h-3zM14 210h2v1h-2zM24 224h1v1h-1zM36 224h9v1h-9zM100 224h5v1h-5zM89 225h5v1h-5zM9 234h2v1h-2zM21 234h2v1h-2z"/>
<path fill="#f54700" transform="translate(1628.5 48.8) scale(2.2 1.6)" d="M139 89h1v1h-1zM16 172h1v1h-1zM18 172h1v1h-1zM87 174h1v1h-1zM89 174h5v1h-5zM106 174h5v1h-5zM129 191h1v1h-1z"/>
<path fill="#e53300" transform="translate(1628.5 48.8) scale(2.2 1.6)" d="M12 172h4v1h-4zM17 172h1v1h-1zM108 172h1v1h-1zM85 173h1v1h-1zM87 173h2v1h-2zM96 173h1v1h-1zM99 173h1v1h-1zM105 174h1v1h-1zM75 224h6v1h-6zM18 225h7v1h-7zM81 225h7v1h-7z"/>
<path fill="#d61f00" transform="translate(1628.5 48.8) scale(2.2 1.6)" d="M96 172h3v1h-3zM16 173h5v1h-5zM89 173h7v1h-7zM97 173h2v1h-2zM102 174h1v1h-1zM101 175h4v1h-4zM82 224h1v1h-1zM84 224h6v1h-6z"/>
<path fill="#c70a00" transform="translate(1628.5 48.8) scale(2.2 1.6)" d="M103 174h1v1h-1zM83 224h1v1h-1zM14 225h3v1h-3z"/>
<path fill="#990000" transform="translate(1628.5 48.8) scale(2.2 1.6)" d="M91 224h8v1h-8z"/>
<line x1="1483" y1="92" x2="1506.4" y2="92" stroke="#ff0000" stroke-width="1.9"/>
<line x1="1483" y1="142.3" x2="1506.4" y2="142.3" stroke="#ff0000" stroke-width="1.9"/>
<line x1="1483" y1="163.6" x2="1506.4" y2="163.6" stroke="#ff0000" stroke-width="1.9"/>
<line x1="1483" y1="270.3" x2="1506.4" y2="270.3" stroke="#ff0000" stroke-width="1.9"/>
<line x1="1483" y1="329.7" x2="1506.4" y2="329.7" stroke="#ff0000" stroke-width="1.9"/>
<line x1="1483" y1="330.9" x2="1506.4" y2="330.9" stroke="#ff0000" stroke-width="1.9"/>
<line x1="1483" y1="332" x2="1506.4" y2="332" stroke="#ff0000" stroke-width="1.9"/>
<line x1="1483" y1="344.2" x2="1506.4" y2="344.2" stroke="#ff0000" stroke-width="1.9"/>
<line x1="1483" y1="381.6" x2="1506.4" y2="381.6" stroke="#ff0000" stroke-width="1.9"/>
<line x1="1483" y1="383.1" x2="1506.4" y2="383.1" stroke="#ff0000" stroke-width="1.9"/>
<line x1="1483" y1="406.7" x2="1506.4" y2="406.7" stroke="#ff0000" stroke-width="1.9"/>
<line x1="1483" y1="421.9" x2="1506.4" y2="421.9" stroke="#ff0000" stroke-width="1.9"/>
<line x1="1483" y1="423.5" x2="1506.4" y2="423.5" stroke="#ff0000" stroke-width="1.9"/>
<line x1="1483" y1="106.5" x2="1506.4" y2="106.5" stroke="#0000ff" stroke-width="1.9"/>
<line x1="1483" y1="140" x2="1506.4" y2="140" stroke="#0000ff" stroke-width="1.9"/>
<line x1="1483" y1="140.8" x2="1506.4" y2="140.8" stroke="#0000ff" stroke-width="1.9"/>
<line x1="1483" y1="141.5" x2="1506.4" y2="141.5" stroke="#0000ff" stroke-width="1.9"/>
<line x1="1483" y1="157.5" x2="1506.4" y2="157.5" stroke="#0000ff" stroke-width="1.9"/>
<line x1="1483" y1="213.2" x2="1506.4" y2="213.2" stroke="#0000ff" stroke-width="1.9"/>
<line x1="1483" y1="284.8" x2="1506.4" y2="284.8" stroke="#0000ff" stroke-width="1.9"/>
<line x1="1483" y1="297" x2="1506.4" y2="297" stroke="#0000ff" stroke-width="1.9"/>
<line x1="1483" y1="333.6" x2="1506.4" y2="333.6" stroke="#0000ff" stroke-width="1.9"/>
<line x1="1483" y1="344" x2="1506.4" y2="344" stroke="#0000ff" stroke-width="1.9"/>
<line x1="1483" y1="364.8" x2="1506.4" y2="364.8" stroke="#0000ff" stroke-width="1.9"/>
<line x1="1483" y1="365.6" x2="1506.4" y2="365.6" stroke="#0000ff" stroke-width="1.9"/>
<line x1="1483" y1="366.3" x2="1506.4" y2="366.3" stroke="#0000ff" stroke-width="1.9"/>
<line x1="1483" y1="367.1" x2="1506.4" y2="367.1" stroke="#0000ff" stroke-width="1.9"/>
<line x1="1483" y1="378.9" x2="1506.4" y2="378.9" stroke="#0000ff" stroke-width="1.9"/>
<line x1="1483" y1="380.8" x2="1506.4" y2="380.8" stroke="#0000ff" stroke-width="1.9"/>
<line x1="1483" y1="394.5" x2="1506.4" y2="394.5" stroke="#0000ff" stroke-width="1.9"/>
<line x1="1483" y1="427.3" x2="1506.4" y2="427.3" stroke="#0000ff" stroke-width="1.9"/>
<line x1="1483" y1="429.1" x2="1506.4" y2="429.1" stroke="#0000ff" stroke-width="1.9"/>
<line x1="1483" y1="431.9" x2="1506.4" y2="431.9" stroke="#0000ff" stroke-width="1.9"/>
<line x1="1483" y1="433.4" x2="1506.4" y2="433.4" stroke="#0000ff" stroke-width="1.9"/>
<line x1="1506.1" y1="82.9" x2="1529.6" y2="82.9" stroke="#228b22" stroke-width="1.9"/>
<line x1="1506.1" y1="112.6" x2="1529.6" y2="112.6" stroke="#228b22" stroke-width="1.9"/>
<line x1="1506.1" y1="176.6" x2="1529.6" y2="176.6" stroke="#228b22" stroke-width="1.9"/>
<line x1="1506.1" y1="187.2" x2="1529.6" y2="187.2" stroke="#228b22" stroke-width="1.9"/>
<line x1="1506.1" y1="191.1" x2="1529.6" y2="191.1" stroke="#228b22" stroke-width="1.9"/>
<line x1="1506.1" y1="192.2" x2="1529.6" y2="192.2" stroke="#228b22" stroke-width="1.9"/>
<line x1="1506.1" y1="244.4" x2="1529.6" y2="244.4" stroke="#228b22" stroke-width="1.9"/>
<line x1="1506.1" y1="292.4" x2="1529.6" y2="292.4" stroke="#228b22" stroke-width="1.9"/>
<line x1="1506.1" y1="300" x2="1529.6" y2="300" stroke="#228b22" stroke-width="1.9"/>
<line x1="1506.1" y1="304.6" x2="1529.6" y2="304.6" stroke="#228b22" stroke-width="1.9"/>
<line x1="1506.1" y1="324.4" x2="1529.6" y2="324.4" stroke="#228b22" stroke-width="1.9"/>
<line x1="1506.1" y1="354.9" x2="1529.6" y2="354.9" stroke="#228b22" stroke-width="1.9"/>
<line x1="1506.1" y1="409.8" x2="1529.6" y2="409.8" stroke="#228b22" stroke-width="1.9"/>
<rect x="1529.6" y="49.1" width="23.7" height="6.1" fill="#000"/>
<rect x="1529.6" y="59.7" width="23.7" height="21.9" fill="#000"/>
<line x1="1529.6" y1="79.8" x2="1553.3" y2="79.8" stroke="#fff" stroke-width="0.8"/>
<rect x="1529.6" y="82.4" width="23.7" height="3.2" fill="#000"/>
<rect x="1529.6" y="85.1" width="23.7" height="11.3" fill="#000"/>
<rect x="1529.6" y="96.7" width="23.7" height="9.6" fill="#000"/>
<rect x="1529.6" y="107.1" width="23.7" height="3.8" fill="#000"/>
<rect x="1529.6" y="114.4" width="23.7" height="9.9" fill="#000"/>
<line x1="1529.6" y1="119.4" x2="1553.3" y2="119.4" stroke="#fff" stroke-width="0.8"/>
<rect x="1529.6" y="125.1" width="23.7" height="8.5" fill="#000"/>
<rect x="1529.6" y="143.4" width="23.7" height="4.9" fill="#000"/>
<line x1="1529.6" y1="145.8" x2="1553.3" y2="145.8" stroke="#fff" stroke-width="0.8"/>
<rect x="1529.6" y="153.1" width="23.7" height="5.2" fill="#000"/>
<rect x="1529.6" y="158.8" width="23.7" height="8.1" fill="#000"/>
<rect x="1529.6" y="176.4" width="23.7" height="5.5" fill="#000"/>
<rect x="1529.6" y="187.7" width="23.7" height="3.2" fill="#000"/>
<rect x="1529.6" y="194.8" width="23.7" height="10.8" fill="#000"/>
<line x1="1529.6" y1="200.2" x2="1553.3" y2="200.2" stroke="#fff" stroke-width="0.8"/>
<rect x="1529.6" y="207.1" width="23.7" height="3.8" fill="#000"/>
<rect x="1529.6" y="217.1" width="23.7" height="5.2" fill="#000"/>
<rect x="1529.6" y="222.5" width="23.7" height="22.4" fill="#000"/>
<rect x="1529.6" y="247.7" width="23.7" height="18.9" fill="#000"/>
<rect x="1529.6" y="271.4" width="23.7" height="10.8" fill="#000"/>
<rect x="1529.6" y="285.8" width="23.7" height="9.5" fill="#000"/>
<line x1="1529.6" y1="288.2" x2="1553.3" y2="288.2" stroke="#fff" stroke-width="0.8"/>
<rect x="1529.6" y="296.4" width="23.7" height="3" fill="#000"/>
<rect x="1529.6" y="300.1" width="23.7" height="3.8" fill="#000"/>
<rect x="1529.6" y="304.8" width="23.7" height="11.1" fill="#000"/>
<rect x="1529.6" y="316.7" width="23.7" height="8.2" fill="#000"/>
<rect x="1529.6" y="326.7" width="23.7" height="2.9" fill="#000"/>
<rect x="1529.6" y="345.4" width="23.7" height="3.9" fill="#000"/>
<rect x="1529.6" y="351.4" width="23.7" height="3.2" fill="#000"/>
<rect x="1529.6" y="355.8" width="23.7" height="11.2" fill="#000"/>
<line x1="1529.6" y1="357.7" x2="1553.3" y2="357.7" stroke="#fff" stroke-width="0.8"/>
<rect x="1529.6" y="371.4" width="23.7" height="2.8" fill="#000"/>
<rect x="1529.6" y="378.7" width="23.7" height="14.9" fill="#000"/>
<rect x="1529.6" y="406.1" width="23.7" height="5.8" fill="#000"/>
<rect x="1529.6" y="419.4" width="23.7" height="12.5" fill="#000"/>
<line x1="1529.6" y1="425.7" x2="1553.3" y2="425.7" stroke="#fff" stroke-width="0.8"/>
<line x1="1529.6" y1="429.8" x2="1553.3" y2="429.8" stroke="#fff" stroke-width="0.8"/>
<line x1="1555" y1="92" x2="1618.9" y2="92" stroke="#333" stroke-width="0.9" stroke-dasharray="2,1.6"/>
<line x1="1555" y1="142.3" x2="1618.9" y2="142.3" stroke="#333" stroke-width="0.9" stroke-dasharray="2,1.6"/>
<line x1="1555" y1="163.6" x2="1618.9" y2="163.6" stroke="#333" stroke-width="0.9" stroke-dasharray="2,1.6"/>
<line x1="1555" y1="270.3" x2="1618.9" y2="270.3" stroke="#333" stroke-width="0.9" stroke-dasharray="2,1.6"/>
<line x1="1555" y1="329.7" x2="1618.9" y2="329.7" stroke="#333" stroke-width="0.9" stroke-dasharray="2,1.6"/>
<line x1="1555" y1="330.9" x2="1618.9" y2="330.9" stroke="#333" stroke-width="0.9" stroke-dasharray="2,1.6"/>
<line x1="1555" y1="332" x2="1618.9" y2="332" stroke="#333" stroke-width="0.9" stroke-dasharray="2,1.6"/>
<line x1="1555" y1="344.2" x2="1618.9" y2="344.2" stroke="#333" stroke-width="0.9" stroke-dasharray="2,1.6"/>
<line x1="1555" y1="381.6" x2="1618.9" y2="381.6" stroke="#333" stroke-width="0.9" stroke-dasharray="2,1.6"/>
<line x1="1555" y1="383.1" x2="1618.9" y2="383.1" stroke="#333" stroke-width="0.9" stroke-dasharray="2,1.6"/>
<line x1="1555" y1="406.7" x2="1618.9" y2="406.7" stroke="#333" stroke-width="0.9" stroke-dasharray="2,1.6"/>
<line x1="1555" y1="421.9" x2="1618.9" y2="421.9" stroke="#333" stroke-width="0.9" stroke-dasharray="2,1.6"/>
<line x1="1555" y1="423.5" x2="1618.9" y2="423.5" stroke="#333" stroke-width="0.9" stroke-dasharray="2,1.6"/>
<line x1="1637.3" y1="438" x2="1637.3" y2="508.7" stroke="#333" stroke-width="0.9" stroke-dasharray="2,1.6"/>
<line x1="1654.9" y1="438" x2="1654.9" y2="508.7" stroke="#333" stroke-width="0.9" stroke-dasharray="2,1.6"/>
<line x1="1660.5" y1="438" x2="1660.5" y2="508.7" stroke="#333" stroke-width="0.9" stroke-dasharray="2,1.6"/>
<line x1="1674.8" y1="438" x2="1674.8" y2="508.7" stroke="#333" stroke-width="0.9" stroke-dasharray="2,1.6"/>
<line x1="1687.4" y1="438" x2="1687.4" y2="508.7" stroke="#333" stroke-width="0.9" stroke-dasharray="2,1.6"/>
<line x1="1692.7" y1="438" x2="1692.7" y2="508.7" stroke="#333" stroke-width="0.9" stroke-dasharray="2,1.6"/>
<line x1="1706.9" y1="438" x2="1706.9" y2="508.7" stroke="#333" stroke-width="0.9" stroke-dasharray="2,1.6"/>
<line x1="1714.2" y1="438" x2="1714.2" y2="508.7" stroke="#333" stroke-width="0.9" stroke-dasharray="2,1.6"/>
<line x1="1719.8" y1="438" x2="1719.8" y2="508.7" stroke="#333" stroke-width="0.9" stroke-dasharray="2,1.6"/>
<line x1="1725.2" y1="438" x2="1725.2" y2="508.7" stroke="#333" stroke-width="0.9" stroke-dasharray="2,1.6"/>
<line x1="1737.2" y1="438" x2="1737.2" y2="508.7" stroke="#333" stroke-width="0.9" stroke-dasharray="2,1.6"/>
<line x1="1744.7" y1="438" x2="1744.7" y2="508.7" stroke="#333" stroke-width="0.9" stroke-dasharray="2,1.6"/>
<line x1="1749.9" y1="438" x2="1749.9" y2="508.7" stroke="#333" stroke-width="0.9" stroke-dasharray="2,1.6"/>
<line x1="1764.6" y1="438" x2="1764.6" y2="508.7" stroke="#333" stroke-width="0.9" stroke-dasharray="2,1.6"/>
<line x1="1773.6" y1="438" x2="1773.6" y2="508.7" stroke="#333" stroke-width="0.9" stroke-dasharray="2,1.6"/>
<line x1="1812.8" y1="438" x2="1812.8" y2="508.7" stroke="#333" stroke-width="0.9" stroke-dasharray="2,1.6"/>
<line x1="1821.6" y1="438" x2="1821.6" y2="508.7" stroke="#333" stroke-width="0.9" stroke-dasharray="2,1.6"/>
<line x1="1832.4" y1="438" x2="1832.4" y2="508.7" stroke="#333" stroke-width="0.9" stroke-dasharray="2,1.6"/>
<line x1="1843.1" y1="438" x2="1843.1" y2="508.7" stroke="#333" stroke-width="0.9" stroke-dasharray="2,1.6"/>
<line x1="1855.9" y1="438" x2="1855.9" y2="508.7" stroke="#333" stroke-width="0.9" stroke-dasharray="2,1.6"/>
<line x1="1866.6" y1="438" x2="1866.6" y2="508.7" stroke="#333" stroke-width="0.9" stroke-dasharray="2,1.6"/>
<line x1="1879.2" y1="438" x2="1879.2" y2="508.7" stroke="#333" stroke-width="0.9" stroke-dasharray="2,1.6"/>
<line x1="1891.9" y1="438" x2="1891.9" y2="508.7" stroke="#333" stroke-width="0.9" stroke-dasharray="2,1.6"/>
<line x1="1904.1" y1="438" x2="1904.1" y2="508.7" stroke="#333" stroke-width="0.9" stroke-dasharray="2,1.6"/>
<line x1="1929.2" y1="438" x2="1929.2" y2="508.7" stroke="#333" stroke-width="0.9" stroke-dasharray="2,1.6"/>
<line x1="1941.9" y1="438" x2="1941.9" y2="508.7" stroke="#333" stroke-width="0.9" stroke-dasharray="2,1.6"/>
<line x1="1965" y1="438" x2="1965" y2="508.7" stroke="#333" stroke-width="0.9" stroke-dasharray="2,1.6"/>
<polygon points="1555,49.6 1556,50 1557.3,60 1558,66.7 1557.3,73.3 1558.7,78.7 1560,80.7 1565.3,82.7 1558.7,84.7 1559.3,88 1561.3,90.7 1562.7,91.7 1560,93.3 1556.7,97.3 1557.3,106.7 1556,120 1557.3,133.3 1559.3,138.7 1560,142.4 1558.7,145.3 1558.7,153.3 1562.7,157.3 1566.7,160 1574.7,163.3 1565.3,165.3 1560,168 1561.3,172 1562,176 1560,178.7 1562.7,182.7 1565.3,184.7 1569.3,186.7 1562.7,188.7 1565.3,190.7 1592.7,192.3 1568,194.7 1560,197.3 1558.7,200 1558,206.7 1558.7,213.3 1558.7,220 1557.3,226.7 1555.6,230 1556.3,242.6 1559.1,244 1556.3,245.4 1556.3,258 1557.7,265 1559.8,268.5 1567.5,270.4 1558.4,272 1557.7,276.2 1559.8,278.3 1557.7,286 1562.6,291.6 1559.8,294.4 1564,298.7 1559.1,301.5 1567.5,304.3 1559.8,307.1 1559.1,314.1 1559.8,318.3 1564,321.1 1578,323.2 1592,324.6 1576.6,326.7 1592,328.1 1618.7,330.2 1585,332.3 1563.3,334.4 1564,337.9 1568.2,341.4 1563.3,344.2 1566.8,347.7 1564,350.5 1578,353.3 1599.7,355 1571,357.5 1562.6,360.3 1558.4,364.5 1562.6,368.7 1560.5,370.1 1561.9,374.3 1558.4,378.5 1568.2,381.3 1582.2,383.4 1575.2,385.5 1579.4,389 1569.6,391.1 1561.9,393.9 1565.4,396.7 1568.2,400.9 1585,404.4 1617.3,406.8 1610.2,407.9 1617.3,409.3 1578,412.1 1572.4,414.9 1571,417.7 1565.4,419.8 1585,422.6 1592,424.7 1573.8,427.5 1561.2,430.4 1558.4,433.2 1555.6,434.6 1555,434.6" fill="#000"/>
<polygon points="1629.1,508.7 1630.2,475.6 1633,458.9 1635.8,460.8 1637.6,458 1640.4,464.5 1642.3,473.8 1645,475.6 1647.8,485.8 1650.6,464.5 1655.2,442.3 1657.1,449.7 1660.4,437.6 1663.6,458.9 1667.8,456.2 1671,462.7 1674.7,454.3 1679.3,457.1 1683.1,468.2 1687.3,472.9 1689.5,474.7 1692.7,468.2 1697.9,481.2 1701.6,484 1707.2,483.1 1712.7,489.5 1715.5,484 1719.8,488.6 1725.7,483.1 1731.3,485.8 1735.9,482.1 1740.5,485.8 1745.2,484.9 1749.8,488.6 1756.3,500.7 1760.9,490.5 1764.7,479.3 1767.4,484 1773.6,476.6 1777.6,485.8 1783.2,483.1 1786.9,488.6 1791.6,491.4 1794.3,480.3 1798,483.1 1801.8,484 1805.5,486.8 1807.3,468.2 1811,455.2 1812.9,453.4 1814.7,477.5 1818.4,478.4 1821.6,465.4 1825.9,479.3 1829.6,484 1832.4,463.6 1835.1,475.6 1838.8,468.2 1843.1,466.4 1845.3,480.3 1849,470.1 1851.8,461.7 1855.9,464.5 1861.1,484 1866.7,476.6 1869.4,488.6 1874.1,491.4 1879.1,475.6 1883.4,484.9 1887.1,481.2 1891.9,472.9 1896.3,483.1 1900,498.8 1903.8,489.5 1909.3,485.8 1914.9,500.7 1924.2,499.7 1929.2,486.8 1933.4,502.5 1942.7,495.1 1950.1,496 1955.7,504.4 1961.2,498.8 1965,497.9 1969.6,502.5 1974.2,501.6 1977.9,477.5 1981.6,475.6 1983.5,483.1 1989.1,489.5 1991.8,493.3 1993,508.7" fill="#000"/>
<rect x="1482.4" y="48.8" width="511.2" height="386.3" fill="none" stroke="#000" stroke-width="1.4"/>
<line x1="1555" y1="48.8" x2="1555" y2="435.1" stroke="#000" stroke-width="1.4"/>
<line x1="1628.5" y1="48.8" x2="1628.5" y2="589.1" stroke="#000" stroke-width="1.4"/>
<rect x="1555" y="435.1" width="438.6" height="76.5" fill="none" stroke="#000" stroke-width="1.4"/>
<rect x="1628.5" y="511.6" width="365.1" height="77.5" fill="none" stroke="#000" stroke-width="1.4"/>
<line x1="1477.9" y1="434.9" x2="1482.4" y2="434.9" stroke="#000" stroke-width="1.3"/>
<line x1="1624.5" y1="434.9" x2="1628.5" y2="434.9" stroke="#000" stroke-width="1.2"/>
<text x="1473.9" y="443.1" font-family="Liberation Sans, Arial, sans-serif" font-size="23" text-anchor="end">0</text>
<line x1="1477.9" y1="358.7" x2="1482.4" y2="358.7" stroke="#000" stroke-width="1.3"/>
<line x1="1624.5" y1="358.7" x2="1628.5" y2="358.7" stroke="#000" stroke-width="1.2"/>
<text x="1473.9" y="366.9" font-family="Liberation Sans, Arial, sans-serif" font-size="23" text-anchor="end">100</text>
<line x1="1477.9" y1="282.5" x2="1482.4" y2="282.5" stroke="#000" stroke-width="1.3"/>
<line x1="1624.5" y1="282.5" x2="1628.5" y2="282.5" stroke="#000" stroke-width="1.2"/>
<text x="1473.9" y="290.7" font-family="Liberation Sans, Arial, sans-serif" font-size="23" text-anchor="end">200</text>
<line x1="1477.9" y1="206.3" x2="1482.4" y2="206.3" stroke="#000" stroke-width="1.3"/>
<line x1="1624.5" y1="206.3" x2="1628.5" y2="206.3" stroke="#000" stroke-width="1.2"/>
<text x="1473.9" y="214.5" font-family="Liberation Sans, Arial, sans-serif" font-size="23" text-anchor="end">300</text>
<line x1="1477.9" y1="130.1" x2="1482.4" y2="130.1" stroke="#000" stroke-width="1.3"/>
<line x1="1624.5" y1="130.1" x2="1628.5" y2="130.1" stroke="#000" stroke-width="1.2"/>
<text x="1473.9" y="138.3" font-family="Liberation Sans, Arial, sans-serif" font-size="23" text-anchor="end">400</text>
<line x1="1477.9" y1="53.9" x2="1482.4" y2="53.9" stroke="#000" stroke-width="1.3"/>
<line x1="1624.5" y1="53.9" x2="1628.5" y2="53.9" stroke="#000" stroke-width="1.2"/>
<text x="1473.9" y="62.1" font-family="Liberation Sans, Arial, sans-serif" font-size="23" text-anchor="end">500</text>
<text x="1428.4" y="242.1" font-family="Liberation Sans, Arial, sans-serif" font-size="22.5" text-anchor="middle" transform="rotate(-90 1428.4 242.1) translate(1428.4 242.1) scale(1 1.13) translate(-1428.4 -242.1)" textLength="155.1" lengthAdjust="spacingAndGlyphs">SP1 residue ID</text>
<line x1="1628.2" y1="435.1" x2="1628.2" y2="438.6" stroke="#000" stroke-width="1.2"/>
<line x1="1628.2" y1="589.1" x2="1628.2" y2="593.6" stroke="#000" stroke-width="1.3"/>
<text x="1628.2" y="613.9" font-family="Liberation Sans, Arial, sans-serif" font-size="23" text-anchor="middle">0</text>
<line x1="1717.8" y1="435.1" x2="1717.8" y2="438.6" stroke="#000" stroke-width="1.2"/>
<line x1="1717.8" y1="589.1" x2="1717.8" y2="593.6" stroke="#000" stroke-width="1.3"/>
<text x="1717.8" y="613.9" font-family="Liberation Sans, Arial, sans-serif" font-size="23" text-anchor="middle">50</text>
<line x1="1807.5" y1="435.1" x2="1807.5" y2="438.6" stroke="#000" stroke-width="1.2"/>
<line x1="1807.5" y1="589.1" x2="1807.5" y2="593.6" stroke="#000" stroke-width="1.3"/>
<text x="1807.5" y="613.9" font-family="Liberation Sans, Arial, sans-serif" font-size="23" text-anchor="middle">100</text>
<line x1="1897.1" y1="435.1" x2="1897.1" y2="438.6" stroke="#000" stroke-width="1.2"/>
<line x1="1897.1" y1="589.1" x2="1897.1" y2="593.6" stroke="#000" stroke-width="1.3"/>
<text x="1897.1" y="613.9" font-family="Liberation Sans, Arial, sans-serif" font-size="23" text-anchor="middle">150</text>
<line x1="1986.7" y1="435.1" x2="1986.7" y2="438.6" stroke="#000" stroke-width="1.2"/>
<line x1="1986.7" y1="589.1" x2="1986.7" y2="593.6" stroke="#000" stroke-width="1.3"/>
<text x="1986.7" y="613.9" font-family="Liberation Sans, Arial, sans-serif" font-size="23" text-anchor="middle">200</text>
<text x="1811" y="640.9" font-family="Liberation Sans, Arial, sans-serif" font-size="22.5" text-anchor="middle" transform="translate(1811 640.9) scale(1 1.13) translate(-1811 -640.9)" textLength="180.5" lengthAdjust="spacingAndGlyphs">TAF15 residue ID</text>
<line x1="1666" y1="514.6" x2="1666" y2="539.6" stroke="#000" stroke-width="1.5"/>
<line x1="1680" y1="514.6" x2="1680" y2="539.6" stroke="#000" stroke-width="1.5"/>
<line x1="1771.8" y1="514.6" x2="1771.8" y2="539.6" stroke="#000" stroke-width="1.5"/>
<line x1="1789.2" y1="514.6" x2="1789.2" y2="539.6" stroke="#000" stroke-width="1.5"/>
<line x1="1807.5" y1="514.6" x2="1807.5" y2="539.6" stroke="#000" stroke-width="1.5"/>
<line x1="1809.3" y1="514.6" x2="1809.3" y2="539.6" stroke="#000" stroke-width="1.5"/>
<line x1="1818" y1="514.6" x2="1818" y2="539.6" stroke="#000" stroke-width="1.5"/>
<line x1="1923.6" y1="514.6" x2="1923.6" y2="539.6" stroke="#000" stroke-width="1.5"/>
<line x1="1978.1" y1="514.6" x2="1978.1" y2="539.6" stroke="#000" stroke-width="1.5"/>
<line x1="1979.5" y1="514.6" x2="1979.5" y2="539.6" stroke="#000" stroke-width="1.5"/>
<line x1="1637.3" y1="540.2" x2="1637.3" y2="564.7" stroke="#228b22" stroke-width="1.5"/>
<line x1="1654.9" y1="540.2" x2="1654.9" y2="564.7" stroke="#228b22" stroke-width="1.5"/>
<line x1="1660.5" y1="540.2" x2="1660.5" y2="564.7" stroke="#228b22" stroke-width="1.5"/>
<line x1="1674.8" y1="540.2" x2="1674.8" y2="564.7" stroke="#228b22" stroke-width="1.5"/>
<line x1="1687.4" y1="540.2" x2="1687.4" y2="564.7" stroke="#228b22" stroke-width="1.5"/>
<line x1="1692.7" y1="540.2" x2="1692.7" y2="564.7" stroke="#228b22" stroke-width="1.5"/>
<line x1="1706.9" y1="540.2" x2="1706.9" y2="564.7" stroke="#228b22" stroke-width="1.5"/>
<line x1="1714.2" y1="540.2" x2="1714.2" y2="564.7" stroke="#228b22" stroke-width="1.5"/>
<line x1="1719.8" y1="540.2" x2="1719.8" y2="564.7" stroke="#228b22" stroke-width="1.5"/>
<line x1="1725.2" y1="540.2" x2="1725.2" y2="564.7" stroke="#228b22" stroke-width="1.5"/>
<line x1="1737.2" y1="540.2" x2="1737.2" y2="564.7" stroke="#228b22" stroke-width="1.5"/>
<line x1="1744.7" y1="540.2" x2="1744.7" y2="564.7" stroke="#228b22" stroke-width="1.5"/>
<line x1="1749.9" y1="540.2" x2="1749.9" y2="564.7" stroke="#228b22" stroke-width="1.5"/>
<line x1="1764.6" y1="540.2" x2="1764.6" y2="564.7" stroke="#228b22" stroke-width="1.5"/>
<line x1="1773.6" y1="540.2" x2="1773.6" y2="564.7" stroke="#228b22" stroke-width="1.5"/>
<line x1="1812.8" y1="540.2" x2="1812.8" y2="564.7" stroke="#228b22" stroke-width="1.5"/>
<line x1="1821.6" y1="540.2" x2="1821.6" y2="564.7" stroke="#228b22" stroke-width="1.5"/>
<line x1="1832.4" y1="540.2" x2="1832.4" y2="564.7" stroke="#228b22" stroke-width="1.5"/>
<line x1="1843.1" y1="540.2" x2="1843.1" y2="564.7" stroke="#228b22" stroke-width="1.5"/>
<line x1="1855.9" y1="540.2" x2="1855.9" y2="564.7" stroke="#228b22" stroke-width="1.5"/>
<line x1="1866.6" y1="540.2" x2="1866.6" y2="564.7" stroke="#228b22" stroke-width="1.5"/>
<line x1="1879.2" y1="540.2" x2="1879.2" y2="564.7" stroke="#228b22" stroke-width="1.5"/>
<line x1="1891.9" y1="540.2" x2="1891.9" y2="564.7" stroke="#228b22" stroke-width="1.5"/>
<line x1="1904.1" y1="540.2" x2="1904.1" y2="564.7" stroke="#228b22" stroke-width="1.5"/>
<line x1="1929.2" y1="540.2" x2="1929.2" y2="564.7" stroke="#228b22" stroke-width="1.5"/>
<line x1="1941.9" y1="540.2" x2="1941.9" y2="564.7" stroke="#228b22" stroke-width="1.5"/>
<line x1="1965" y1="540.2" x2="1965" y2="564.7" stroke="#228b22" stroke-width="1.5"/>
<line x1="1629.3" y1="564.7" x2="1629.3" y2="588.4" stroke="#0000ff" stroke-width="1.5"/>
<line x1="1647.9" y1="564.7" x2="1647.9" y2="588.4" stroke="#0000ff" stroke-width="1.5"/>
<line x1="1701.7" y1="564.7" x2="1701.7" y2="588.4" stroke="#0000ff" stroke-width="1.5"/>
<line x1="1752.1" y1="564.7" x2="1752.1" y2="588.4" stroke="#0000ff" stroke-width="1.5"/>
<line x1="1791" y1="564.7" x2="1791" y2="588.4" stroke="#0000ff" stroke-width="1.5"/>
<line x1="1814.3" y1="564.7" x2="1814.3" y2="588.4" stroke="#0000ff" stroke-width="1.5"/>
<line x1="1819.8" y1="564.7" x2="1819.8" y2="588.4" stroke="#0000ff" stroke-width="1.5"/>
<line x1="1829" y1="564.7" x2="1829" y2="588.4" stroke="#0000ff" stroke-width="1.5"/>
<line x1="1834.2" y1="564.7" x2="1834.2" y2="588.4" stroke="#0000ff" stroke-width="1.5"/>
<line x1="1844.9" y1="564.7" x2="1844.9" y2="588.4" stroke="#0000ff" stroke-width="1.5"/>
<line x1="1857.5" y1="564.7" x2="1857.5" y2="588.4" stroke="#0000ff" stroke-width="1.5"/>
<line x1="1859.6" y1="564.7" x2="1859.6" y2="588.4" stroke="#0000ff" stroke-width="1.5"/>
<line x1="1868.2" y1="564.7" x2="1868.2" y2="588.4" stroke="#0000ff" stroke-width="1.5"/>
<line x1="1875.4" y1="564.7" x2="1875.4" y2="588.4" stroke="#0000ff" stroke-width="1.5"/>
<line x1="1900.1" y1="564.7" x2="1900.1" y2="588.4" stroke="#0000ff" stroke-width="1.5"/>
<line x1="1915" y1="564.7" x2="1915" y2="588.4" stroke="#0000ff" stroke-width="1.5"/>
<line x1="1916.8" y1="564.7" x2="1916.8" y2="588.4" stroke="#0000ff" stroke-width="1.5"/>
<line x1="1922.2" y1="564.7" x2="1922.2" y2="588.4" stroke="#0000ff" stroke-width="1.5"/>
<line x1="1932.2" y1="564.7" x2="1932.2" y2="588.4" stroke="#0000ff" stroke-width="1.5"/>
<line x1="1934.7" y1="564.7" x2="1934.7" y2="588.4" stroke="#0000ff" stroke-width="1.5"/>
<line x1="1967.4" y1="564.7" x2="1967.4" y2="588.4" stroke="#0000ff" stroke-width="1.5"/>
<line x1="1971.3" y1="564.7" x2="1971.3" y2="588.4" stroke="#0000ff" stroke-width="1.5"/>
<line x1="1991.9" y1="564.7" x2="1991.9" y2="588.4" stroke="#0000ff" stroke-width="1.5"/>
<line x1="1757.3" y1="564.7" x2="1757.3" y2="588.4" stroke="#ff0000" stroke-width="1.5"/>
<line x1="1805.5" y1="564.7" x2="1805.5" y2="588.4" stroke="#ff0000" stroke-width="1.5"/>
<line x1="1898.2" y1="564.7" x2="1898.2" y2="588.4" stroke="#ff0000" stroke-width="1.5"/>
<line x1="1919" y1="564.7" x2="1919" y2="588.4" stroke="#ff0000" stroke-width="1.5"/>
<line x1="1920.4" y1="564.7" x2="1920.4" y2="588.4" stroke="#ff0000" stroke-width="1.5"/>
<line x1="1927.4" y1="564.7" x2="1927.4" y2="588.4" stroke="#ff0000" stroke-width="1.5"/>
<line x1="1938.5" y1="564.7" x2="1938.5" y2="588.4" stroke="#ff0000" stroke-width="1.5"/>
<line x1="1955.7" y1="564.7" x2="1955.7" y2="588.4" stroke="#ff0000" stroke-width="1.5"/>
<line x1="1960" y1="564.7" x2="1960" y2="588.4" stroke="#ff0000" stroke-width="1.5"/>
<line x1="1969.3" y1="564.7" x2="1969.3" y2="588.4" stroke="#ff0000" stroke-width="1.5"/>
<line x1="1973.3" y1="564.7" x2="1973.3" y2="588.4" stroke="#ff0000" stroke-width="1.5"/>
<line x1="1550.5" y1="441.3" x2="1555" y2="441.3" stroke="#000" stroke-width="1.3"/>
<line x1="1624.5" y1="441.3" x2="1628.5" y2="441.3" stroke="#000" stroke-width="1.2"/>
<text x="1547.9" y="454" font-family="Liberation Sans, Arial, sans-serif" font-size="23" text-anchor="end">0.01</text>
<line x1="1550.5" y1="508.6" x2="1555" y2="508.6" stroke="#000" stroke-width="1.3"/>
<line x1="1624.5" y1="508.6" x2="1628.5" y2="508.6" stroke="#000" stroke-width="1.2"/>
<text x="1547.9" y="516.8" font-family="Liberation Sans, Arial, sans-serif" font-size="23" text-anchor="end">0.00</text>
<line x1="1555.2" y1="511.6" x2="1555.2" y2="516.1" stroke="#000" stroke-width="1.3"/>
<line x1="1555.2" y1="435.1" x2="1555.2" y2="438.6" stroke="#000" stroke-width="1.2"/>
<text x="1550.2" y="537.3" font-family="Liberation Sans, Arial, sans-serif" font-size="23" text-anchor="middle">0.00</text>
<line x1="1597.6" y1="511.6" x2="1597.6" y2="516.1" stroke="#000" stroke-width="1.3"/>
<line x1="1597.6" y1="435.1" x2="1597.6" y2="438.6" stroke="#000" stroke-width="1.2"/>
<text x="1597.1" y="537.3" font-family="Liberation Sans, Arial, sans-serif" font-size="23" text-anchor="middle">0.01</text>
<text x="1496.6" y="474.2" text-anchor="middle" transform="rotate(-90 1496.6 474.2) translate(1496.6 474.2) scale(1 1.13) translate(-1496.6 -474.2)"><tspan font-family="Liberation Serif, Times New Roman, serif" font-style="italic" font-size="26">N</tspan><tspan font-family="Liberation Sans, Arial, sans-serif" font-size="17" dy="4">contact</tspan></text>
<text x="1556.6" y="564" transform="translate(1556.6 564) scale(1 1.13) translate(-1556.6 -564)"><tspan font-family="Liberation Serif, Times New Roman, serif" font-style="italic" font-size="26">N</tspan><tspan font-family="Liberation Sans, Arial, sans-serif" font-size="17" dy="4">contact</tspan></text>
<defs><linearGradient id="cbg1401" x1="0" y1="1" x2="0" y2="0"><stop offset="0.000" stop-color="#ffffff"/><stop offset="0.050" stop-color="#ffe5cc"/><stop offset="0.100" stop-color="#ffcc99"/><stop offset="0.150" stop-color="#ffb266"/><stop offset="0.200" stop-color="#ff9933"/><stop offset="0.250" stop-color="#ff8000"/><stop offset="0.300" stop-color="#ff6600"/><stop offset="0.350" stop-color="#f94d00"/><stop offset="0.400" stop-color="#e53300"/><stop offset="0.450" stop-color="#d21a00"/><stop offset="0.500" stop-color="#bf0000"/><stop offset="0.550" stop-color="#ac0000"/><stop offset="0.600" stop-color="#990000"/><stop offset="0.650" stop-color="#860000"/><stop offset="0.700" stop-color="#730000"/><stop offset="0.750" stop-color="#600000"/><stop offset="0.800" stop-color="#4c0000"/><stop offset="0.850" stop-color="#390000"/><stop offset="0.900" stop-color="#260000"/><stop offset="0.950" stop-color="#130000"/><stop offset="1.000" stop-color="#000000"/></linearGradient></defs>
<rect x="2009.5" y="53.3" width="9.4" height="367.2" fill="url(#cbg1401)" stroke="#222" stroke-width="1.2"/>
<line x1="2018.9" y1="420.5" x2="2023.4" y2="420.5" stroke="#000" stroke-width="1.2"/>
<text x="2026.9" y="428.7" font-family="Liberation Sans, Arial, sans-serif" font-size="23">0</text>
<line x1="2018.9" y1="362.1" x2="2023.4" y2="362.1" stroke="#000" stroke-width="1.2"/>
<text x="2026.9" y="370.3" font-family="Liberation Sans, Arial, sans-serif" font-size="23">1</text>
<line x1="2018.9" y1="303.7" x2="2023.4" y2="303.7" stroke="#000" stroke-width="1.2"/>
<text x="2026.9" y="311.9" font-family="Liberation Sans, Arial, sans-serif" font-size="23">2</text>
<line x1="2018.9" y1="245.4" x2="2023.4" y2="245.4" stroke="#000" stroke-width="1.2"/>
<text x="2026.9" y="253.6" font-family="Liberation Sans, Arial, sans-serif" font-size="23">3</text>
<line x1="2018.9" y1="187" x2="2023.4" y2="187" stroke="#000" stroke-width="1.2"/>
<text x="2026.9" y="195.2" font-family="Liberation Sans, Arial, sans-serif" font-size="23">4</text>
<line x1="2018.9" y1="128.6" x2="2023.4" y2="128.6" stroke="#000" stroke-width="1.2"/>
<text x="2026.9" y="136.8" font-family="Liberation Sans, Arial, sans-serif" font-size="23">5</text>
<line x1="2018.9" y1="70.2" x2="2023.4" y2="70.2" stroke="#000" stroke-width="1.2"/>
<text x="2026.9" y="78.4" font-family="Liberation Sans, Arial, sans-serif" font-size="23">6</text>
<text x="1991.1" y="41.6" font-family="Liberation Sans, Arial, sans-serif" font-size="20" transform="translate(1991.1 41.6) scale(1 1.13) translate(-1991.1 -41.6)"><tspan font-size="25" dy="1">×</tspan><tspan dy="-1">10</tspan><tspan font-size="14" dy="-9">−4</tspan></text>
<text x="0" y="691.5" font-family="Liberation Sans, Arial, sans-serif" font-size="30.5" font-weight="bold">d</text>
<rect x="264.8" y="748.4" width="24.7" height="26.1" fill="#fff0e0"/>
<rect x="313.7" y="748.4" width="24.7" height="26.1" fill="#a10000"/>
<rect x="338.2" y="748.4" width="24.7" height="26.1" fill="#ffc78f"/>
<rect x="411.6" y="748.4" width="24.7" height="26.1" fill="#ff7800"/>
<rect x="460.6" y="748.4" width="24.7" height="26.1" fill="#ffd6ad"/>
<rect x="485.1" y="748.4" width="24.7" height="26.1" fill="#580000"/>
<rect x="509.6" y="748.4" width="24.7" height="26.1" fill="#170000"/>
<rect x="534" y="748.4" width="24.7" height="26.1" fill="#ff9933"/>
<rect x="558.5" y="748.4" width="24.7" height="26.1" fill="#630000"/>
<rect x="264.8" y="774.2" width="24.7" height="26.1" fill="#fff5eb"/>
<rect x="313.7" y="774.2" width="24.7" height="26.1" fill="#de2900"/>
<rect x="338.2" y="774.2" width="24.7" height="26.1" fill="#ffd6ad"/>
<rect x="411.6" y="774.2" width="24.7" height="26.1" fill="#ff9933"/>
<rect x="460.6" y="774.2" width="24.7" height="26.1" fill="#ffe0c2"/>
<rect x="485.1" y="774.2" width="24.7" height="26.1" fill="#a10000"/>
<rect x="509.6" y="774.2" width="24.7" height="26.1" fill="#7e0000"/>
<rect x="534" y="774.2" width="24.7" height="26.1" fill="#ffb266"/>
<rect x="558.5" y="774.2" width="24.7" height="26.1" fill="#b40000"/>
<rect x="240.3" y="800" width="24.7" height="26.1" fill="#fffaf5"/>
<rect x="264.8" y="800" width="24.7" height="26.1" fill="#fff0e0"/>
<rect x="313.7" y="800" width="24.7" height="26.1" fill="#910000"/>
<rect x="338.2" y="800" width="24.7" height="26.1" fill="#ffc78f"/>
<rect x="411.6" y="800" width="24.7" height="26.1" fill="#ff7800"/>
<rect x="460.6" y="800" width="24.7" height="26.1" fill="#ffd1a3"/>
<rect x="485.1" y="800" width="24.7" height="26.1" fill="#390000"/>
<rect x="509.6" y="800" width="24.7" height="26.1" fill="#000000"/>
<rect x="534" y="800" width="24.7" height="26.1" fill="#ff9933"/>
<rect x="558.5" y="800" width="24.7" height="26.1" fill="#490000"/>
<rect x="264.8" y="825.8" width="24.7" height="26.1" fill="#fff0e0"/>
<rect x="313.7" y="825.8" width="24.7" height="26.1" fill="#e53300"/>
<rect x="338.2" y="825.8" width="24.7" height="26.1" fill="#ffcc99"/>
<rect x="411.6" y="825.8" width="24.7" height="26.1" fill="#ff8a14"/>
<rect x="460.6" y="825.8" width="24.7" height="26.1" fill="#ffd1a3"/>
<rect x="485.1" y="825.8" width="24.7" height="26.1" fill="#7e0000"/>
<rect x="509.6" y="825.8" width="24.7" height="26.1" fill="#580000"/>
<rect x="534" y="825.8" width="24.7" height="26.1" fill="#ff9e3d"/>
<rect x="558.5" y="825.8" width="24.7" height="26.1" fill="#860000"/>
<rect x="264.8" y="851.6" width="24.7" height="26.1" fill="#fffaf5"/>
<rect x="313.7" y="851.6" width="24.7" height="26.1" fill="#ff6b00"/>
<rect x="338.2" y="851.6" width="24.7" height="26.1" fill="#ffe0c2"/>
<rect x="411.6" y="851.6" width="24.7" height="26.1" fill="#ffc285"/>
<rect x="460.6" y="851.6" width="24.7" height="26.1" fill="#ffebd6"/>
<rect x="485.1" y="851.6" width="24.7" height="26.1" fill="#e93800"/>
<rect x="509.6" y="851.6" width="24.7" height="26.1" fill="#cb0f00"/>
<rect x="534" y="851.6" width="24.7" height="26.1" fill="#ffc285"/>
<rect x="558.5" y="851.6" width="24.7" height="26.1" fill="#e93800"/>
<rect x="264.8" y="877.4" width="24.7" height="26.1" fill="#fffaf5"/>
<rect x="313.7" y="877.4" width="24.7" height="26.1" fill="#fc5200"/>
<rect x="338.2" y="877.4" width="24.7" height="26.1" fill="#ffdebd"/>
<rect x="411.6" y="877.4" width="24.7" height="26.1" fill="#ffb266"/>
<rect x="460.6" y="877.4" width="24.7" height="26.1" fill="#ffebd6"/>
<rect x="485.1" y="877.4" width="24.7" height="26.1" fill="#e22e00"/>
<rect x="509.6" y="877.4" width="24.7" height="26.1" fill="#bf0000"/>
<rect x="534" y="877.4" width="24.7" height="26.1" fill="#ffc78f"/>
<rect x="558.5" y="877.4" width="24.7" height="26.1" fill="#e53300"/>
<rect x="264.8" y="903.2" width="24.7" height="26.1" fill="#fffaf5"/>
<rect x="313.7" y="903.2" width="24.7" height="26.1" fill="#ffa852"/>
<rect x="338.2" y="903.2" width="24.7" height="26.1" fill="#ffebd6"/>
<rect x="411.6" y="903.2" width="24.7" height="26.1" fill="#ffc78f"/>
<rect x="460.6" y="903.2" width="24.7" height="26.1" fill="#fff0e0"/>
<rect x="485.1" y="903.2" width="24.7" height="26.1" fill="#ff6600"/>
<rect x="509.6" y="903.2" width="24.7" height="26.1" fill="#e93800"/>
<rect x="534" y="903.2" width="24.7" height="26.1" fill="#ffd6ad"/>
<rect x="558.5" y="903.2" width="24.7" height="26.1" fill="#ff6600"/>
<rect x="264.8" y="929" width="24.7" height="26.1" fill="#fffaf5"/>
<rect x="313.7" y="929" width="24.7" height="26.1" fill="#ff8f1f"/>
<rect x="338.2" y="929" width="24.7" height="26.1" fill="#ffdbb8"/>
<rect x="411.6" y="929" width="24.7" height="26.1" fill="#ffb266"/>
<rect x="460.6" y="929" width="24.7" height="26.1" fill="#ffebd6"/>
<rect x="485.1" y="929" width="24.7" height="26.1" fill="#e22e00"/>
<rect x="509.6" y="929" width="24.7" height="26.1" fill="#bf0000"/>
<rect x="534" y="929" width="24.7" height="26.1" fill="#ffc78f"/>
<rect x="558.5" y="929" width="24.7" height="26.1" fill="#de2900"/>
<rect x="264.8" y="954.9" width="24.7" height="26.1" fill="#fffaf5"/>
<rect x="313.7" y="954.9" width="24.7" height="26.1" fill="#ff7800"/>
<rect x="338.2" y="954.9" width="24.7" height="26.1" fill="#ffe0c2"/>
<rect x="411.6" y="954.9" width="24.7" height="26.1" fill="#ffb266"/>
<rect x="460.6" y="954.9" width="24.7" height="26.1" fill="#ffebd6"/>
<rect x="485.1" y="954.9" width="24.7" height="26.1" fill="#e93800"/>
<rect x="509.6" y="954.9" width="24.7" height="26.1" fill="#cb0f00"/>
<rect x="534" y="954.9" width="24.7" height="26.1" fill="#ffc78f"/>
<rect x="558.5" y="954.9" width="24.7" height="26.1" fill="#f14200"/>
<rect x="264.8" y="980.7" width="24.7" height="26.1" fill="#fff5eb"/>
<rect x="313.7" y="980.7" width="24.7" height="26.1" fill="#ff6600"/>
<rect x="338.2" y="980.7" width="24.7" height="26.1" fill="#ffd6ad"/>
<rect x="411.6" y="980.7" width="24.7" height="26.1" fill="#ff9933"/>
<rect x="460.6" y="980.7" width="24.7" height="26.1" fill="#ffe0c2"/>
<rect x="485.1" y="980.7" width="24.7" height="26.1" fill="#bf0000"/>
<rect x="509.6" y="980.7" width="24.7" height="26.1" fill="#990000"/>
<rect x="534" y="980.7" width="24.7" height="26.1" fill="#ffb266"/>
<rect x="558.5" y="980.7" width="24.7" height="26.1" fill="#bf0000"/>
<rect x="313.7" y="1006.5" width="24.7" height="26.1" fill="#ff8f1f"/>
<rect x="338.2" y="1006.5" width="24.7" height="26.1" fill="#fff7f0"/>
<rect x="411.6" y="1006.5" width="24.7" height="26.1" fill="#ffebd6"/>
<rect x="460.6" y="1006.5" width="24.7" height="26.1" fill="#fffaf5"/>
<rect x="485.1" y="1006.5" width="24.7" height="26.1" fill="#ffc285"/>
<rect x="509.6" y="1006.5" width="24.7" height="26.1" fill="#ffc285"/>
<rect x="534" y="1006.5" width="24.7" height="26.1" fill="#fff5eb"/>
<rect x="558.5" y="1006.5" width="24.7" height="26.1" fill="#ffdbb8"/>
<rect x="313.7" y="1032.3" width="24.7" height="26.1" fill="#ffeddb"/>
<rect x="338.2" y="1032.3" width="24.7" height="26.1" fill="#fffcfa"/>
<rect x="411.6" y="1032.3" width="24.7" height="26.1" fill="#fffaf5"/>
<rect x="460.6" y="1032.3" width="24.7" height="26.1" fill="#fffcfa"/>
<rect x="485.1" y="1032.3" width="24.7" height="26.1" fill="#ffd6ad"/>
<rect x="509.6" y="1032.3" width="24.7" height="26.1" fill="#ffd1a3"/>
<rect x="534" y="1032.3" width="24.7" height="26.1" fill="#fffcfa"/>
<rect x="558.5" y="1032.3" width="24.7" height="26.1" fill="#ffdbb8"/>
<rect x="313.7" y="1058.1" width="24.7" height="26.1" fill="#fffaf5"/>
<rect x="411.6" y="1058.1" width="24.7" height="26.1" fill="#fffcfa"/>
<rect x="485.1" y="1058.1" width="24.7" height="26.1" fill="#fff0e0"/>
<rect x="509.6" y="1058.1" width="24.7" height="26.1" fill="#fff0e0"/>
<rect x="558.5" y="1058.1" width="24.7" height="26.1" fill="#fff0e0"/>
<rect x="264.8" y="1083.9" width="24.7" height="26.1" fill="#fff5eb"/>
<rect x="313.7" y="1083.9" width="24.7" height="26.1" fill="#f14200"/>
<rect x="338.2" y="1083.9" width="24.7" height="26.1" fill="#fff5eb"/>
<rect x="411.6" y="1083.9" width="24.7" height="26.1" fill="#ffeddb"/>
<rect x="460.6" y="1083.9" width="24.7" height="26.1" fill="#fffaf5"/>
<rect x="485.1" y="1083.9" width="24.7" height="26.1" fill="#ff9e3d"/>
<rect x="509.6" y="1083.9" width="24.7" height="26.1" fill="#ff9e3d"/>
<rect x="534" y="1083.9" width="24.7" height="26.1" fill="#fff5eb"/>
<rect x="558.5" y="1083.9" width="24.7" height="26.1" fill="#ffc78f"/>
<rect x="264.8" y="1109.7" width="24.7" height="26.1" fill="#fffaf5"/>
<rect x="313.7" y="1109.7" width="24.7" height="26.1" fill="#ffc285"/>
<rect x="338.2" y="1109.7" width="24.7" height="26.1" fill="#fffcfa"/>
<rect x="411.6" y="1109.7" width="24.7" height="26.1" fill="#fffaf5"/>
<rect x="460.6" y="1109.7" width="24.7" height="26.1" fill="#fffcfa"/>
<rect x="485.1" y="1109.7" width="24.7" height="26.1" fill="#ffd6ad"/>
<rect x="509.6" y="1109.7" width="24.7" height="26.1" fill="#ffd6ad"/>
<rect x="534" y="1109.7" width="24.7" height="26.1" fill="#fffcfa"/>
<rect x="558.5" y="1109.7" width="24.7" height="26.1" fill="#ffe0c2"/>
<rect x="142.1" y="756.3" width="59.9" height="10" fill="#000"/>
<rect x="142.1" y="782.1" width="43" height="10" fill="#000"/>
<rect x="142.1" y="807.9" width="63.8" height="10" fill="#000"/>
<rect x="142.1" y="833.7" width="48.9" height="10" fill="#000"/>
<rect x="142.1" y="859.5" width="29.6" height="10" fill="#000"/>
<rect x="142.1" y="885.3" width="31.9" height="10" fill="#000"/>
<rect x="142.1" y="911.1" width="23.1" height="10" fill="#000"/>
<rect x="142.1" y="937" width="30.9" height="10" fill="#000"/>
<rect x="142.1" y="962.8" width="29.2" height="10" fill="#000"/>
<rect x="142.1" y="988.6" width="37.8" height="10" fill="#000"/>
<rect x="142.1" y="1014.4" width="9.8" height="10" fill="#000"/>
<rect x="142.1" y="1040.2" width="4.9" height="10" fill="#000"/>
<rect x="142.1" y="1066" width="2.3" height="10" fill="#000"/>
<rect x="142.1" y="1091.8" width="14.9" height="10" fill="#000"/>
<rect x="142.1" y="1117.6" width="6.6" height="10" fill="#000"/>
<polyline points="212.5,761.3 186.8,787.1 211,812.9 197.8,838.7 177.3,864.5 167.8,890.3 165.7,916.1 175.8,942 166,967.8 177.9,993.6 145.8,1019.4 153,1045.2 148.4,1071 146.7,1096.8 146.1,1122.6" fill="none" stroke="#0000ff" stroke-width="2.0" stroke-dasharray="7,4"/>
<rect x="272.4" y="1211.9" width="9.3" height="1.4" fill="#000"/>
<rect x="321.3" y="1171.2" width="9.3" height="42.1" fill="#000"/>
<rect x="345.8" y="1206.1" width="9.3" height="7.2" fill="#000"/>
<rect x="419.2" y="1194.3" width="9.3" height="19" fill="#000"/>
<rect x="468.2" y="1208" width="9.3" height="5.3" fill="#000"/>
<rect x="492.7" y="1156.8" width="9.3" height="56.5" fill="#000"/>
<rect x="517.1" y="1146.6" width="9.3" height="66.7" fill="#000"/>
<rect x="541.6" y="1200" width="9.3" height="13.3" fill="#000"/>
<rect x="566.1" y="1159.8" width="9.3" height="53.5" fill="#000"/>
<polyline points="228,1210 252.5,1208.6 277,1203.2 301.5,1209.6 326,1174.5 350.4,1205.6 374.9,1210 399.4,1210 423.9,1195.5 448.4,1210 472.8,1201 497.3,1139.1 521.8,1141.2 546.3,1195.5 570.8,1152.4" fill="none" stroke="#0000ff" stroke-width="2.0" stroke-dasharray="7,4"/>
<rect x="142.1" y="748.4" width="440.9" height="464.9" fill="none" stroke="#000" stroke-width="1.4"/>
<line x1="215.8" y1="748.4" x2="215.8" y2="1213.3" stroke="#000" stroke-width="1.4"/>
<line x1="142.1" y1="1135.5" x2="583" y2="1135.5" stroke="#000" stroke-width="1.4"/>
<line x1="137.6" y1="761.3" x2="142.1" y2="761.3" stroke="#000" stroke-width="1.2"/>
<line x1="211.8" y1="761.3" x2="215.8" y2="761.3" stroke="#000" stroke-width="1.2"/>
<text x="134" y="769.3" font-family="Liberation Sans, Arial, sans-serif" font-size="22.5" text-anchor="end" transform="translate(134 769.3) scale(1 1.03) translate(-134 -769.3)">Q</text>
<line x1="137.6" y1="787.1" x2="142.1" y2="787.1" stroke="#000" stroke-width="1.2"/>
<line x1="211.8" y1="787.1" x2="215.8" y2="787.1" stroke="#000" stroke-width="1.2"/>
<text x="134" y="795.1" font-family="Liberation Sans, Arial, sans-serif" font-size="22.5" text-anchor="end" transform="translate(134 795.1) scale(1 1.03) translate(-134 -795.1)">T</text>
<line x1="137.6" y1="812.9" x2="142.1" y2="812.9" stroke="#000" stroke-width="1.2"/>
<line x1="211.8" y1="812.9" x2="215.8" y2="812.9" stroke="#000" stroke-width="1.2"/>
<text x="134" y="820.9" font-family="Liberation Sans, Arial, sans-serif" font-size="22.5" text-anchor="end" transform="translate(134 820.9) scale(1 1.03) translate(-134 -820.9)">S</text>
<line x1="137.6" y1="838.7" x2="142.1" y2="838.7" stroke="#000" stroke-width="1.2"/>
<line x1="211.8" y1="838.7" x2="215.8" y2="838.7" stroke="#000" stroke-width="1.2"/>
<text x="134" y="846.7" font-family="Liberation Sans, Arial, sans-serif" font-size="22.5" text-anchor="end" transform="translate(134 846.7) scale(1 1.03) translate(-134 -846.7)">G</text>
<line x1="137.6" y1="864.5" x2="142.1" y2="864.5" stroke="#000" stroke-width="1.2"/>
<line x1="211.8" y1="864.5" x2="215.8" y2="864.5" stroke="#000" stroke-width="1.2"/>
<text x="134" y="872.5" font-family="Liberation Sans, Arial, sans-serif" font-size="22.5" text-anchor="end" transform="translate(134 872.5) scale(1 1.03) translate(-134 -872.5)">N</text>
<line x1="137.6" y1="890.3" x2="142.1" y2="890.3" stroke="#000" stroke-width="1.2"/>
<line x1="211.8" y1="890.3" x2="215.8" y2="890.3" stroke="#000" stroke-width="1.2"/>
<text x="134" y="898.3" font-family="Liberation Sans, Arial, sans-serif" font-size="22.5" text-anchor="end" transform="translate(134 898.3) scale(1 1.03) translate(-134 -898.3)">V</text>
<line x1="137.6" y1="916.1" x2="142.1" y2="916.1" stroke="#000" stroke-width="1.2"/>
<line x1="211.8" y1="916.1" x2="215.8" y2="916.1" stroke="#000" stroke-width="1.2"/>
<text x="134" y="924.1" font-family="Liberation Sans, Arial, sans-serif" font-size="22.5" text-anchor="end" transform="translate(134 924.1) scale(1 1.03) translate(-134 -924.1)">P</text>
<line x1="137.6" y1="942" x2="142.1" y2="942" stroke="#000" stroke-width="1.2"/>
<line x1="211.8" y1="942" x2="215.8" y2="942" stroke="#000" stroke-width="1.2"/>
<text x="134" y="950" font-family="Liberation Sans, Arial, sans-serif" font-size="22.5" text-anchor="end" transform="translate(134 950) scale(1 1.03) translate(-134 -950)">L</text>
<line x1="137.6" y1="967.8" x2="142.1" y2="967.8" stroke="#000" stroke-width="1.2"/>
<line x1="211.8" y1="967.8" x2="215.8" y2="967.8" stroke="#000" stroke-width="1.2"/>
<text x="134" y="975.8" font-family="Liberation Sans, Arial, sans-serif" font-size="22.5" text-anchor="end" transform="translate(134 975.8) scale(1 1.03) translate(-134 -975.8)">I</text>
<line x1="137.6" y1="993.6" x2="142.1" y2="993.6" stroke="#000" stroke-width="1.2"/>
<line x1="211.8" y1="993.6" x2="215.8" y2="993.6" stroke="#000" stroke-width="1.2"/>
<text x="134" y="1001.6" font-family="Liberation Sans, Arial, sans-serif" font-size="22.5" text-anchor="end" transform="translate(134 1001.6) scale(1 1.03) translate(-134 -1001.6)">A</text>
<line x1="137.6" y1="1019.4" x2="142.1" y2="1019.4" stroke="#000" stroke-width="1.2"/>
<line x1="211.8" y1="1019.4" x2="215.8" y2="1019.4" stroke="#000" stroke-width="1.2"/>
<text x="134" y="1027.4" font-family="Liberation Sans, Arial, sans-serif" font-size="22.5" text-anchor="end" transform="translate(134 1027.4) scale(1 1.03) translate(-134 -1027.4)">Y</text>
<line x1="137.6" y1="1045.2" x2="142.1" y2="1045.2" stroke="#000" stroke-width="1.2"/>
<line x1="211.8" y1="1045.2" x2="215.8" y2="1045.2" stroke="#000" stroke-width="1.2"/>
<text x="134" y="1053.2" font-family="Liberation Sans, Arial, sans-serif" font-size="22.5" text-anchor="end" transform="translate(134 1053.2) scale(1 1.03) translate(-134 -1053.2)">E</text>
<line x1="137.6" y1="1071" x2="142.1" y2="1071" stroke="#000" stroke-width="1.2"/>
<line x1="211.8" y1="1071" x2="215.8" y2="1071" stroke="#000" stroke-width="1.2"/>
<text x="134" y="1079" font-family="Liberation Sans, Arial, sans-serif" font-size="22.5" text-anchor="end" transform="translate(134 1079) scale(1 1.03) translate(-134 -1079)">D</text>
<line x1="137.6" y1="1096.8" x2="142.1" y2="1096.8" stroke="#000" stroke-width="1.2"/>
<line x1="211.8" y1="1096.8" x2="215.8" y2="1096.8" stroke="#000" stroke-width="1.2"/>
<text x="134" y="1104.8" font-family="Liberation Sans, Arial, sans-serif" font-size="22.5" text-anchor="end" transform="translate(134 1104.8) scale(1 1.03) translate(-134 -1104.8)">R</text>
<line x1="137.6" y1="1122.6" x2="142.1" y2="1122.6" stroke="#000" stroke-width="1.2"/>
<line x1="211.8" y1="1122.6" x2="215.8" y2="1122.6" stroke="#000" stroke-width="1.2"/>
<text x="134" y="1130.6" font-family="Liberation Sans, Arial, sans-serif" font-size="22.5" text-anchor="end" transform="translate(134 1130.6) scale(1 1.03) translate(-134 -1130.6)">K</text>
<line x1="228" y1="1135.5" x2="228" y2="1139.5" stroke="#000" stroke-width="1.2"/>
<line x1="228" y1="1213.3" x2="228" y2="1217.8" stroke="#000" stroke-width="1.2"/>
<text x="228" y="1237.3" font-family="Liberation Sans, Arial, sans-serif" font-size="22.5" text-anchor="middle" transform="translate(228 1237.3) scale(1 1.03) translate(-228 -1237.3)">K</text>
<line x1="252.5" y1="1135.5" x2="252.5" y2="1139.5" stroke="#000" stroke-width="1.2"/>
<line x1="252.5" y1="1213.3" x2="252.5" y2="1217.8" stroke="#000" stroke-width="1.2"/>
<text x="252.5" y="1237.3" font-family="Liberation Sans, Arial, sans-serif" font-size="22.5" text-anchor="middle" transform="translate(252.5 1237.3) scale(1 1.03) translate(-252.5 -1237.3)">R</text>
<line x1="277" y1="1135.5" x2="277" y2="1139.5" stroke="#000" stroke-width="1.2"/>
<line x1="277" y1="1213.3" x2="277" y2="1217.8" stroke="#000" stroke-width="1.2"/>
<text x="277" y="1237.3" font-family="Liberation Sans, Arial, sans-serif" font-size="22.5" text-anchor="middle" transform="translate(277 1237.3) scale(1 1.03) translate(-277 -1237.3)">D</text>
<line x1="301.5" y1="1135.5" x2="301.5" y2="1139.5" stroke="#000" stroke-width="1.2"/>
<line x1="301.5" y1="1213.3" x2="301.5" y2="1217.8" stroke="#000" stroke-width="1.2"/>
<text x="301.5" y="1237.3" font-family="Liberation Sans, Arial, sans-serif" font-size="22.5" text-anchor="middle" transform="translate(301.5 1237.3) scale(1 1.03) translate(-301.5 -1237.3)">E</text>
<line x1="326" y1="1135.5" x2="326" y2="1139.5" stroke="#000" stroke-width="1.2"/>
<line x1="326" y1="1213.3" x2="326" y2="1217.8" stroke="#000" stroke-width="1.2"/>
<text x="326" y="1237.3" font-family="Liberation Sans, Arial, sans-serif" font-size="22.5" text-anchor="middle" transform="translate(326 1237.3) scale(1 1.03) translate(-326 -1237.3)">Y</text>
<line x1="350.4" y1="1135.5" x2="350.4" y2="1139.5" stroke="#000" stroke-width="1.2"/>
<line x1="350.4" y1="1213.3" x2="350.4" y2="1217.8" stroke="#000" stroke-width="1.2"/>
<text x="350.4" y="1237.3" font-family="Liberation Sans, Arial, sans-serif" font-size="22.5" text-anchor="middle" transform="translate(350.4 1237.3) scale(1 1.03) translate(-350.4 -1237.3)">A</text>
<line x1="374.9" y1="1135.5" x2="374.9" y2="1139.5" stroke="#000" stroke-width="1.2"/>
<line x1="374.9" y1="1213.3" x2="374.9" y2="1217.8" stroke="#000" stroke-width="1.2"/>
<text x="374.9" y="1237.3" font-family="Liberation Sans, Arial, sans-serif" font-size="22.5" text-anchor="middle" transform="translate(374.9 1237.3) scale(1 1.03) translate(-374.9 -1237.3)">I</text>
<line x1="399.4" y1="1135.5" x2="399.4" y2="1139.5" stroke="#000" stroke-width="1.2"/>
<line x1="399.4" y1="1213.3" x2="399.4" y2="1217.8" stroke="#000" stroke-width="1.2"/>
<text x="399.4" y="1237.3" font-family="Liberation Sans, Arial, sans-serif" font-size="22.5" text-anchor="middle" transform="translate(399.4 1237.3) scale(1 1.03) translate(-399.4 -1237.3)">L</text>
<line x1="423.9" y1="1135.5" x2="423.9" y2="1139.5" stroke="#000" stroke-width="1.2"/>
<line x1="423.9" y1="1213.3" x2="423.9" y2="1217.8" stroke="#000" stroke-width="1.2"/>
<text x="423.9" y="1237.3" font-family="Liberation Sans, Arial, sans-serif" font-size="22.5" text-anchor="middle" transform="translate(423.9 1237.3) scale(1 1.03) translate(-423.9 -1237.3)">P</text>
<line x1="448.4" y1="1135.5" x2="448.4" y2="1139.5" stroke="#000" stroke-width="1.2"/>
<line x1="448.4" y1="1213.3" x2="448.4" y2="1217.8" stroke="#000" stroke-width="1.2"/>
<text x="448.4" y="1237.3" font-family="Liberation Sans, Arial, sans-serif" font-size="22.5" text-anchor="middle" transform="translate(448.4 1237.3) scale(1 1.03) translate(-448.4 -1237.3)">V</text>
<line x1="472.8" y1="1135.5" x2="472.8" y2="1139.5" stroke="#000" stroke-width="1.2"/>
<line x1="472.8" y1="1213.3" x2="472.8" y2="1217.8" stroke="#000" stroke-width="1.2"/>
<text x="472.8" y="1237.3" font-family="Liberation Sans, Arial, sans-serif" font-size="22.5" text-anchor="middle" transform="translate(472.8 1237.3) scale(1 1.03) translate(-472.8 -1237.3)">N</text>
<line x1="497.3" y1="1135.5" x2="497.3" y2="1139.5" stroke="#000" stroke-width="1.2"/>
<line x1="497.3" y1="1213.3" x2="497.3" y2="1217.8" stroke="#000" stroke-width="1.2"/>
<text x="497.3" y="1237.3" font-family="Liberation Sans, Arial, sans-serif" font-size="22.5" text-anchor="middle" transform="translate(497.3 1237.3) scale(1 1.03) translate(-497.3 -1237.3)">G</text>
<line x1="521.8" y1="1135.5" x2="521.8" y2="1139.5" stroke="#000" stroke-width="1.2"/>
<line x1="521.8" y1="1213.3" x2="521.8" y2="1217.8" stroke="#000" stroke-width="1.2"/>
<text x="521.8" y="1237.3" font-family="Liberation Sans, Arial, sans-serif" font-size="22.5" text-anchor="middle" transform="translate(521.8 1237.3) scale(1 1.03) translate(-521.8 -1237.3)">S</text>
<line x1="546.3" y1="1135.5" x2="546.3" y2="1139.5" stroke="#000" stroke-width="1.2"/>
<line x1="546.3" y1="1213.3" x2="546.3" y2="1217.8" stroke="#000" stroke-width="1.2"/>
<text x="546.3" y="1237.3" font-family="Liberation Sans, Arial, sans-serif" font-size="22.5" text-anchor="middle" transform="translate(546.3 1237.3) scale(1 1.03) translate(-546.3 -1237.3)">T</text>
<line x1="570.8" y1="1135.5" x2="570.8" y2="1139.5" stroke="#000" stroke-width="1.2"/>
<line x1="570.8" y1="1213.3" x2="570.8" y2="1217.8" stroke="#000" stroke-width="1.2"/>
<text x="570.8" y="1237.3" font-family="Liberation Sans, Arial, sans-serif" font-size="22.5" text-anchor="middle" transform="translate(570.8 1237.3) scale(1 1.03) translate(-570.8 -1237.3)">Q</text>
<line x1="164.8" y1="748.4" x2="164.8" y2="743.9" stroke="#000" stroke-width="1.2"/>
<text x="164.8" y="736.5" font-family="Liberation Sans, Arial, sans-serif" font-size="21" text-anchor="middle" transform="translate(164.8 736.5) scale(1 1.05) translate(-164.8 -736.5)">25</text>
<line x1="188.7" y1="748.4" x2="188.7" y2="743.9" stroke="#000" stroke-width="1.2"/>
<text x="188.7" y="736.5" font-family="Liberation Sans, Arial, sans-serif" font-size="21" text-anchor="middle" transform="translate(188.7 736.5) scale(1 1.05) translate(-188.7 -736.5)">50</text>
<line x1="211.5" y1="748.4" x2="211.5" y2="743.9" stroke="#000" stroke-width="1.2"/>
<text x="211.5" y="736.5" font-family="Liberation Sans, Arial, sans-serif" font-size="21" text-anchor="middle" transform="translate(211.5 736.5) scale(1 1.05) translate(-211.5 -736.5)">75</text>
<text x="143.6" y="708.6" transform="translate(143.6 708.6) scale(1 1.13) translate(-143.6 -708.6)"><tspan font-family="Liberation Serif, Times New Roman, serif" font-style="italic" font-size="22">N</tspan><tspan font-family="Liberation Sans, Arial, sans-serif" font-size="13.2" dy="3">residue</tspan></text>
<line x1="142.3" y1="1213.3" x2="142.3" y2="1217.8" stroke="#000" stroke-width="1.2"/>
<line x1="142.3" y1="1135.5" x2="142.3" y2="1139.5" stroke="#000" stroke-width="1.2"/>
<text x="142.3" y="1237" font-family="Liberation Sans, Arial, sans-serif" font-size="21" text-anchor="middle" transform="translate(142.3 1237) scale(1 1.05) translate(-142.3 -1237)">0</text>
<line x1="198.8" y1="1213.3" x2="198.8" y2="1217.8" stroke="#000" stroke-width="1.2"/>
<line x1="198.8" y1="1135.5" x2="198.8" y2="1139.5" stroke="#000" stroke-width="1.2"/>
<text x="198.8" y="1237" font-family="Liberation Sans, Arial, sans-serif" font-size="21" text-anchor="middle" transform="translate(198.8 1237) scale(1 1.05) translate(-198.8 -1237)">25</text>
<text x="144.2" y="1262" transform="translate(144.2 1262) scale(1 1.13) translate(-144.2 -1262)"><tspan font-family="Liberation Serif, Times New Roman, serif" font-style="italic" font-size="22">N</tspan><tspan font-family="Liberation Sans, Arial, sans-serif" font-size="14" dy="3.7">contact</tspan></text>
<line x1="137.6" y1="1143.1" x2="142.1" y2="1143.1" stroke="#000" stroke-width="1.2"/>
<line x1="211.8" y1="1143.1" x2="215.8" y2="1143.1" stroke="#000" stroke-width="1.2"/>
<text x="133.3" y="1150.7" font-family="Liberation Sans, Arial, sans-serif" font-size="21" text-anchor="end" transform="translate(133.3 1150.7) scale(1 1.05) translate(-133.3 -1150.7)">50</text>
<line x1="137.6" y1="1213.3" x2="142.1" y2="1213.3" stroke="#000" stroke-width="1.2"/>
<line x1="211.8" y1="1213.3" x2="215.8" y2="1213.3" stroke="#000" stroke-width="1.2"/>
<text x="133.3" y="1220.9" font-family="Liberation Sans, Arial, sans-serif" font-size="21" text-anchor="end" transform="translate(133.3 1220.9) scale(1 1.05) translate(-133.3 -1220.9)">0</text>
<text x="102" y="1182.5" text-anchor="middle" transform="rotate(-90 102 1182.5) translate(102 1182.5) scale(1 1.13) translate(-102 -1182.5)"><tspan font-family="Liberation Serif, Times New Roman, serif" font-style="italic" font-size="22">N</tspan><tspan font-family="Liberation Sans, Arial, sans-serif" font-size="14" dy="1.5">contact</tspan></text>
<line x1="583" y1="1143.2" x2="587.5" y2="1143.2" stroke="#000" stroke-width="1.2"/>
<text x="591.4" y="1150.8" font-family="Liberation Sans, Arial, sans-serif" font-size="21" transform="translate(591.4 1150.8) scale(1 1.05) translate(-591.4 -1150.8)">50</text>
<line x1="583" y1="1210.4" x2="587.5" y2="1210.4" stroke="#000" stroke-width="1.2"/>
<text x="591.4" y="1218" font-family="Liberation Sans, Arial, sans-serif" font-size="21" transform="translate(591.4 1218) scale(1 1.05) translate(-591.4 -1218)">0</text>
<text x="637" y="1184" text-anchor="middle" transform="rotate(-90 637 1184) translate(637 1184) scale(1 1.13) translate(-637 -1184)"><tspan font-family="Liberation Serif, Times New Roman, serif" font-style="italic" font-size="22">N</tspan><tspan font-family="Liberation Sans, Arial, sans-serif" font-size="14" dy="1.5">residue</tspan></text>
<text x="105" y="941.2" font-family="Liberation Sans, Arial, sans-serif" font-size="22.5" text-anchor="middle" transform="rotate(-90 105 941.2) translate(105 941.2) scale(1 1.13) translate(-105 -941.2)" textLength="170.9" lengthAdjust="spacingAndGlyphs">SP1 residue type</text>
<text x="399.4" y="1262.8" font-family="Liberation Sans, Arial, sans-serif" font-size="22.5" text-anchor="middle" transform="translate(399.4 1262.8) scale(1 1.13) translate(-399.4 -1262.8)" textLength="171.3" lengthAdjust="spacingAndGlyphs">FUS residue type</text>
<defs><linearGradient id="mcbg0" x1="0" y1="1" x2="0" y2="0"><stop offset="0.000" stop-color="#ffffff"/><stop offset="0.050" stop-color="#ffe5cc"/><stop offset="0.100" stop-color="#ffcc99"/><stop offset="0.150" stop-color="#ffb266"/><stop offset="0.200" stop-color="#ff9933"/><stop offset="0.250" stop-color="#ff8000"/><stop offset="0.300" stop-color="#ff6600"/><stop offset="0.350" stop-color="#f94d00"/><stop offset="0.400" stop-color="#e53300"/><stop offset="0.450" stop-color="#d21a00"/><stop offset="0.500" stop-color="#bf0000"/><stop offset="0.550" stop-color="#ac0000"/><stop offset="0.600" stop-color="#990000"/><stop offset="0.650" stop-color="#860000"/><stop offset="0.700" stop-color="#730000"/><stop offset="0.750" stop-color="#600000"/><stop offset="0.800" stop-color="#4c0000"/><stop offset="0.850" stop-color="#390000"/><stop offset="0.900" stop-color="#260000"/><stop offset="0.950" stop-color="#130000"/><stop offset="1.000" stop-color="#000000"/></linearGradient></defs>
<rect x="598.1" y="751.8" width="10.1" height="368.7" fill="url(#mcbg0)" stroke="#222" stroke-width="1.2"/>
<line x1="608.2" y1="1120.5" x2="612.7" y2="1120.5" stroke="#000" stroke-width="1.2"/>
<text x="615.2" y="1128" font-family="Liberation Sans, Arial, sans-serif" font-size="21" transform="translate(615.2 1128) scale(1 1.05) translate(-615.2 -1128)">0</text>
<line x1="608.2" y1="1067.9" x2="612.7" y2="1067.9" stroke="#000" stroke-width="1.2"/>
<text x="615.2" y="1075.4" font-family="Liberation Sans, Arial, sans-serif" font-size="21" transform="translate(615.2 1075.4) scale(1 1.05) translate(-615.2 -1075.4)">1</text>
<line x1="608.2" y1="1015.3" x2="612.7" y2="1015.3" stroke="#000" stroke-width="1.2"/>
<text x="615.2" y="1022.8" font-family="Liberation Sans, Arial, sans-serif" font-size="21" transform="translate(615.2 1022.8) scale(1 1.05) translate(-615.2 -1022.8)">2</text>
<line x1="608.2" y1="962.7" x2="612.7" y2="962.7" stroke="#000" stroke-width="1.2"/>
<text x="615.2" y="970.2" font-family="Liberation Sans, Arial, sans-serif" font-size="21" transform="translate(615.2 970.2) scale(1 1.05) translate(-615.2 -970.2)">3</text>
<line x1="608.2" y1="910.1" x2="612.7" y2="910.1" stroke="#000" stroke-width="1.2"/>
<text x="615.2" y="917.6" font-family="Liberation Sans, Arial, sans-serif" font-size="21" transform="translate(615.2 917.6) scale(1 1.05) translate(-615.2 -917.6)">4</text>
<line x1="608.2" y1="857.5" x2="612.7" y2="857.5" stroke="#000" stroke-width="1.2"/>
<text x="615.2" y="865" font-family="Liberation Sans, Arial, sans-serif" font-size="21" transform="translate(615.2 865) scale(1 1.05) translate(-615.2 -865)">5</text>
<line x1="608.2" y1="804.9" x2="612.7" y2="804.9" stroke="#000" stroke-width="1.2"/>
<text x="615.2" y="812.4" font-family="Liberation Sans, Arial, sans-serif" font-size="21" transform="translate(615.2 812.4) scale(1 1.05) translate(-615.2 -812.4)">6</text>
<text x="689.5" y="691.5" font-family="Liberation Sans, Arial, sans-serif" font-size="30.5" font-weight="bold">e</text>
<rect x="929.8" y="748.4" width="24.7" height="26.1" fill="#fffaf5"/>
<rect x="954.3" y="748.4" width="24.7" height="26.1" fill="#fff2e5"/>
<rect x="1003.2" y="748.4" width="24.7" height="26.1" fill="#ff7000"/>
<rect x="1027.7" y="748.4" width="24.7" height="26.1" fill="#ffe0c2"/>
<rect x="1101.1" y="748.4" width="24.7" height="26.1" fill="#ffb870"/>
<rect x="1150.1" y="748.4" width="24.7" height="26.1" fill="#ffe0c2"/>
<rect x="1174.6" y="748.4" width="24.7" height="26.1" fill="#de2900"/>
<rect x="1199.1" y="748.4" width="24.7" height="26.1" fill="#c70a00"/>
<rect x="1223.5" y="748.4" width="24.7" height="26.1" fill="#ffc78f"/>
<rect x="1248" y="748.4" width="24.7" height="26.1" fill="#de2900"/>
<rect x="1003.2" y="774.2" width="24.7" height="26.1" fill="#ffd9b3"/>
<rect x="1027.7" y="774.2" width="24.7" height="26.1" fill="#fffaf5"/>
<rect x="1101.1" y="774.2" width="24.7" height="26.1" fill="#fff0e0"/>
<rect x="1150.1" y="774.2" width="24.7" height="26.1" fill="#fffaf5"/>
<rect x="1174.6" y="774.2" width="24.7" height="26.1" fill="#ffd1a3"/>
<rect x="1199.1" y="774.2" width="24.7" height="26.1" fill="#ffc78f"/>
<rect x="1223.5" y="774.2" width="24.7" height="26.1" fill="#fff5eb"/>
<rect x="1248" y="774.2" width="24.7" height="26.1" fill="#ffd1a3"/>
<rect x="929.8" y="800" width="24.7" height="26.1" fill="#fffaf5"/>
<rect x="954.3" y="800" width="24.7" height="26.1" fill="#fff5eb"/>
<rect x="1003.2" y="800" width="24.7" height="26.1" fill="#990000"/>
<rect x="1027.7" y="800" width="24.7" height="26.1" fill="#ffd9b3"/>
<rect x="1101.1" y="800" width="24.7" height="26.1" fill="#ffa852"/>
<rect x="1150.1" y="800" width="24.7" height="26.1" fill="#ffdebd"/>
<rect x="1174.6" y="800" width="24.7" height="26.1" fill="#a10000"/>
<rect x="1199.1" y="800" width="24.7" height="26.1" fill="#910000"/>
<rect x="1223.5" y="800" width="24.7" height="26.1" fill="#ffb870"/>
<rect x="1248" y="800" width="24.7" height="26.1" fill="#bf0000"/>
<rect x="929.8" y="825.8" width="24.7" height="26.1" fill="#fffaf5"/>
<rect x="954.3" y="825.8" width="24.7" height="26.1" fill="#fff0e0"/>
<rect x="1003.2" y="825.8" width="24.7" height="26.1" fill="#600000"/>
<rect x="1027.7" y="825.8" width="24.7" height="26.1" fill="#ffd1a3"/>
<rect x="1101.1" y="825.8" width="24.7" height="26.1" fill="#ff9933"/>
<rect x="1150.1" y="825.8" width="24.7" height="26.1" fill="#ffdebd"/>
<rect x="1174.6" y="825.8" width="24.7" height="26.1" fill="#860000"/>
<rect x="1199.1" y="825.8" width="24.7" height="26.1" fill="#6f0000"/>
<rect x="1223.5" y="825.8" width="24.7" height="26.1" fill="#ffb266"/>
<rect x="1248" y="825.8" width="24.7" height="26.1" fill="#b40000"/>
<rect x="954.3" y="851.6" width="24.7" height="26.1" fill="#fffcfa"/>
<rect x="1003.2" y="851.6" width="24.7" height="26.1" fill="#ffb870"/>
<rect x="1027.7" y="851.6" width="24.7" height="26.1" fill="#fff5eb"/>
<rect x="1101.1" y="851.6" width="24.7" height="26.1" fill="#ffebd6"/>
<rect x="1150.1" y="851.6" width="24.7" height="26.1" fill="#fffaf5"/>
<rect x="1174.6" y="851.6" width="24.7" height="26.1" fill="#ffb870"/>
<rect x="1199.1" y="851.6" width="24.7" height="26.1" fill="#ffb266"/>
<rect x="1223.5" y="851.6" width="24.7" height="26.1" fill="#fff0e0"/>
<rect x="1248" y="851.6" width="24.7" height="26.1" fill="#ffc285"/>
<rect x="1003.2" y="877.4" width="24.7" height="26.1" fill="#ffeddb"/>
<rect x="1101.1" y="877.4" width="24.7" height="26.1" fill="#fffaf5"/>
<rect x="1174.6" y="877.4" width="24.7" height="26.1" fill="#ffeddb"/>
<rect x="1199.1" y="877.4" width="24.7" height="26.1" fill="#ffebd6"/>
<rect x="1223.5" y="877.4" width="24.7" height="26.1" fill="#fffaf5"/>
<rect x="1248" y="877.4" width="24.7" height="26.1" fill="#fff0e0"/>
<rect x="1003.2" y="903.2" width="24.7" height="26.1" fill="#ffd9b3"/>
<rect x="1027.7" y="903.2" width="24.7" height="26.1" fill="#fffaf5"/>
<rect x="1101.1" y="903.2" width="24.7" height="26.1" fill="#ffeddb"/>
<rect x="1150.1" y="903.2" width="24.7" height="26.1" fill="#fffaf5"/>
<rect x="1174.6" y="903.2" width="24.7" height="26.1" fill="#ffd1a3"/>
<rect x="1199.1" y="903.2" width="24.7" height="26.1" fill="#ffd1a3"/>
<rect x="1223.5" y="903.2" width="24.7" height="26.1" fill="#fff7f0"/>
<rect x="1248" y="903.2" width="24.7" height="26.1" fill="#ffd6ad"/>
<rect x="1003.2" y="980.7" width="24.7" height="26.1" fill="#fff0e0"/>
<rect x="1027.7" y="980.7" width="24.7" height="26.1" fill="#fffcfa"/>
<rect x="1101.1" y="980.7" width="24.7" height="26.1" fill="#fffcfa"/>
<rect x="1174.6" y="980.7" width="24.7" height="26.1" fill="#fff0e0"/>
<rect x="1199.1" y="980.7" width="24.7" height="26.1" fill="#fff0e0"/>
<rect x="1223.5" y="980.7" width="24.7" height="26.1" fill="#fffcfa"/>
<rect x="1248" y="980.7" width="24.7" height="26.1" fill="#fff0e0"/>
<rect x="929.8" y="1006.5" width="24.7" height="26.1" fill="#fff7f0"/>
<rect x="954.3" y="1006.5" width="24.7" height="26.1" fill="#fff5eb"/>
<rect x="1003.2" y="1006.5" width="24.7" height="26.1" fill="#000000"/>
<rect x="1027.7" y="1006.5" width="24.7" height="26.1" fill="#ffdebd"/>
<rect x="1101.1" y="1006.5" width="24.7" height="26.1" fill="#ffb266"/>
<rect x="1150.1" y="1006.5" width="24.7" height="26.1" fill="#ffe0c2"/>
<rect x="1174.6" y="1006.5" width="24.7" height="26.1" fill="#990000"/>
<rect x="1199.1" y="1006.5" width="24.7" height="26.1" fill="#b40000"/>
<rect x="1223.5" y="1006.5" width="24.7" height="26.1" fill="#ffd6ad"/>
<rect x="1248" y="1006.5" width="24.7" height="26.1" fill="#ff7000"/>
<rect x="1003.2" y="1032.3" width="24.7" height="26.1" fill="#ffe0c2"/>
<rect x="1027.7" y="1032.3" width="24.7" height="26.1" fill="#fffcfa"/>
<rect x="1101.1" y="1032.3" width="24.7" height="26.1" fill="#fffcfa"/>
<rect x="1174.6" y="1032.3" width="24.7" height="26.1" fill="#ffd9b3"/>
<rect x="1199.1" y="1032.3" width="24.7" height="26.1" fill="#ffd6ad"/>
<rect x="1248" y="1032.3" width="24.7" height="26.1" fill="#ffe0c2"/>
<rect x="929.8" y="1058.1" width="24.7" height="26.1" fill="#fffaf5"/>
<rect x="954.3" y="1058.1" width="24.7" height="26.1" fill="#fffaf5"/>
<rect x="1003.2" y="1058.1" width="24.7" height="26.1" fill="#ffb266"/>
<rect x="1027.7" y="1058.1" width="24.7" height="26.1" fill="#fffaf5"/>
<rect x="1101.1" y="1058.1" width="24.7" height="26.1" fill="#fff0e0"/>
<rect x="1150.1" y="1058.1" width="24.7" height="26.1" fill="#fffaf5"/>
<rect x="1174.6" y="1058.1" width="24.7" height="26.1" fill="#ffa852"/>
<rect x="1199.1" y="1058.1" width="24.7" height="26.1" fill="#ff9e3d"/>
<rect x="1223.5" y="1058.1" width="24.7" height="26.1" fill="#fff7f0"/>
<rect x="1248" y="1058.1" width="24.7" height="26.1" fill="#ffb870"/>
<rect x="954.3" y="1083.9" width="24.7" height="26.1" fill="#fff7f0"/>
<rect x="1003.2" y="1083.9" width="24.7" height="26.1" fill="#b40000"/>
<rect x="1027.7" y="1083.9" width="24.7" height="26.1" fill="#fff2e5"/>
<rect x="1101.1" y="1083.9" width="24.7" height="26.1" fill="#ffeddb"/>
<rect x="1150.1" y="1083.9" width="24.7" height="26.1" fill="#fffaf5"/>
<rect x="1174.6" y="1083.9" width="24.7" height="26.1" fill="#ff8a14"/>
<rect x="1199.1" y="1083.9" width="24.7" height="26.1" fill="#ff8a14"/>
<rect x="1223.5" y="1083.9" width="24.7" height="26.1" fill="#fff5eb"/>
<rect x="1248" y="1083.9" width="24.7" height="26.1" fill="#ffd1a3"/>
<rect x="1003.2" y="1109.7" width="24.7" height="26.1" fill="#ffebd6"/>
<rect x="1101.1" y="1109.7" width="24.7" height="26.1" fill="#fffcfa"/>
<rect x="1174.6" y="1109.7" width="24.7" height="26.1" fill="#fff0e0"/>
<rect x="1199.1" y="1109.7" width="24.7" height="26.1" fill="#fff0e0"/>
<rect x="1248" y="1109.7" width="24.7" height="26.1" fill="#fff7f0"/>
<rect x="831.6" y="756.3" width="39.9" height="10" fill="#000"/>
<rect x="831.6" y="782.1" width="7.9" height="10" fill="#000"/>
<rect x="831.6" y="807.9" width="55.6" height="10" fill="#000"/>
<rect x="831.6" y="833.7" width="63.9" height="10" fill="#000"/>
<rect x="831.6" y="859.5" width="12.4" height="10" fill="#000"/>
<rect x="831.6" y="885.3" width="2.8" height="10" fill="#000"/>
<rect x="831.6" y="911.1" width="6.9" height="10" fill="#000"/>
<rect x="831.6" y="937" width="0.4" height="10" fill="#000"/>
<rect x="831.6" y="962.8" width="0.4" height="10" fill="#000"/>
<rect x="831.6" y="988.6" width="3" height="10" fill="#000"/>
<rect x="831.6" y="1014.4" width="55.1" height="10" fill="#000"/>
<rect x="831.6" y="1040.2" width="5.1" height="10" fill="#000"/>
<rect x="831.6" y="1066" width="14.2" height="10" fill="#000"/>
<rect x="831.6" y="1091.8" width="23.3" height="10" fill="#000"/>
<rect x="831.6" y="1117.6" width="2.5" height="10" fill="#000"/>
<polyline points="896.8,761.3 843.2,787.1 902.4,812.9 900.5,838.7 852,864.5 836.8,890.3 843.2,916.1 834.6,942 834.6,967.8 838,993.6 880.9,1019.4 845.8,1045.2 864,1071 851,1096.8 838,1122.6" fill="none" stroke="#0000ff" stroke-width="2.0" stroke-dasharray="7,4"/>
<rect x="961.9" y="1212" width="9.3" height="1.3" fill="#000"/>
<rect x="1010.8" y="1146.3" width="9.3" height="67" fill="#000"/>
<rect x="1035.3" y="1208" width="9.3" height="5.3" fill="#000"/>
<rect x="1108.7" y="1198.4" width="9.3" height="14.9" fill="#000"/>
<rect x="1157.7" y="1209" width="9.3" height="4.3" fill="#000"/>
<rect x="1182.2" y="1156.8" width="9.3" height="56.5" fill="#000"/>
<rect x="1206.6" y="1154.3" width="9.3" height="59" fill="#000"/>
<rect x="1231.1" y="1203.9" width="9.3" height="9.4" fill="#000"/>
<rect x="1255.6" y="1170.3" width="9.3" height="43" fill="#000"/>
<polyline points="917.5,1210 942,1208.6 966.5,1203.2 991,1209.6 1015.5,1174.5 1039.9,1205.6 1064.4,1210 1088.9,1210 1113.4,1195.5 1137.9,1210 1162.3,1201 1186.8,1139.1 1211.3,1141.2 1235.8,1195.5 1260.3,1152.4" fill="none" stroke="#0000ff" stroke-width="2.0" stroke-dasharray="7,4"/>
<rect x="831.6" y="748.4" width="440.9" height="464.9" fill="none" stroke="#000" stroke-width="1.4"/>
<line x1="905.3" y1="748.4" x2="905.3" y2="1213.3" stroke="#000" stroke-width="1.4"/>
<line x1="831.6" y1="1135.5" x2="1272.5" y2="1135.5" stroke="#000" stroke-width="1.4"/>
<line x1="827.1" y1="761.3" x2="831.6" y2="761.3" stroke="#000" stroke-width="1.2"/>
<line x1="901.3" y1="761.3" x2="905.3" y2="761.3" stroke="#000" stroke-width="1.2"/>
<text x="823.5" y="769.3" font-family="Liberation Sans, Arial, sans-serif" font-size="22.5" text-anchor="end" transform="translate(823.5 769.3) scale(1 1.03) translate(-823.5 -769.3)">Q</text>
<line x1="827.1" y1="787.1" x2="831.6" y2="787.1" stroke="#000" stroke-width="1.2"/>
<line x1="901.3" y1="787.1" x2="905.3" y2="787.1" stroke="#000" stroke-width="1.2"/>
<text x="823.5" y="795.1" font-family="Liberation Sans, Arial, sans-serif" font-size="22.5" text-anchor="end" transform="translate(823.5 795.1) scale(1 1.03) translate(-823.5 -795.1)">T</text>
<line x1="827.1" y1="812.9" x2="831.6" y2="812.9" stroke="#000" stroke-width="1.2"/>
<line x1="901.3" y1="812.9" x2="905.3" y2="812.9" stroke="#000" stroke-width="1.2"/>
<text x="823.5" y="820.9" font-family="Liberation Sans, Arial, sans-serif" font-size="22.5" text-anchor="end" transform="translate(823.5 820.9) scale(1 1.03) translate(-823.5 -820.9)">S</text>
<line x1="827.1" y1="838.7" x2="831.6" y2="838.7" stroke="#000" stroke-width="1.2"/>
<line x1="901.3" y1="838.7" x2="905.3" y2="838.7" stroke="#000" stroke-width="1.2"/>
<text x="823.5" y="846.7" font-family="Liberation Sans, Arial, sans-serif" font-size="22.5" text-anchor="end" transform="translate(823.5 846.7) scale(1 1.03) translate(-823.5 -846.7)">G</text>
<line x1="827.1" y1="864.5" x2="831.6" y2="864.5" stroke="#000" stroke-width="1.2"/>
<line x1="901.3" y1="864.5" x2="905.3" y2="864.5" stroke="#000" stroke-width="1.2"/>
<text x="823.5" y="872.5" font-family="Liberation Sans, Arial, sans-serif" font-size="22.5" text-anchor="end" transform="translate(823.5 872.5) scale(1 1.03) translate(-823.5 -872.5)">N</text>
<line x1="827.1" y1="890.3" x2="831.6" y2="890.3" stroke="#000" stroke-width="1.2"/>
<line x1="901.3" y1="890.3" x2="905.3" y2="890.3" stroke="#000" stroke-width="1.2"/>
<text x="823.5" y="898.3" font-family="Liberation Sans, Arial, sans-serif" font-size="22.5" text-anchor="end" transform="translate(823.5 898.3) scale(1 1.03) translate(-823.5 -898.3)">V</text>
<line x1="827.1" y1="916.1" x2="831.6" y2="916.1" stroke="#000" stroke-width="1.2"/>
<line x1="901.3" y1="916.1" x2="905.3" y2="916.1" stroke="#000" stroke-width="1.2"/>
<text x="823.5" y="924.1" font-family="Liberation Sans, Arial, sans-serif" font-size="22.5" text-anchor="end" transform="translate(823.5 924.1) scale(1 1.03) translate(-823.5 -924.1)">P</text>
<line x1="827.1" y1="942" x2="831.6" y2="942" stroke="#000" stroke-width="1.2"/>
<line x1="901.3" y1="942" x2="905.3" y2="942" stroke="#000" stroke-width="1.2"/>
<text x="823.5" y="950" font-family="Liberation Sans, Arial, sans-serif" font-size="22.5" text-anchor="end" transform="translate(823.5 950) scale(1 1.03) translate(-823.5 -950)">L</text>
<line x1="827.1" y1="967.8" x2="831.6" y2="967.8" stroke="#000" stroke-width="1.2"/>
<line x1="901.3" y1="967.8" x2="905.3" y2="967.8" stroke="#000" stroke-width="1.2"/>
<text x="823.5" y="975.8" font-family="Liberation Sans, Arial, sans-serif" font-size="22.5" text-anchor="end" transform="translate(823.5 975.8) scale(1 1.03) translate(-823.5 -975.8)">I</text>
<line x1="827.1" y1="993.6" x2="831.6" y2="993.6" stroke="#000" stroke-width="1.2"/>
<line x1="901.3" y1="993.6" x2="905.3" y2="993.6" stroke="#000" stroke-width="1.2"/>
<text x="823.5" y="1001.6" font-family="Liberation Sans, Arial, sans-serif" font-size="22.5" text-anchor="end" transform="translate(823.5 1001.6) scale(1 1.03) translate(-823.5 -1001.6)">A</text>
<line x1="827.1" y1="1019.4" x2="831.6" y2="1019.4" stroke="#000" stroke-width="1.2"/>
<line x1="901.3" y1="1019.4" x2="905.3" y2="1019.4" stroke="#000" stroke-width="1.2"/>
<text x="823.5" y="1027.4" font-family="Liberation Sans, Arial, sans-serif" font-size="22.5" text-anchor="end" transform="translate(823.5 1027.4) scale(1 1.03) translate(-823.5 -1027.4)">Y</text>
<line x1="827.1" y1="1045.2" x2="831.6" y2="1045.2" stroke="#000" stroke-width="1.2"/>
<line x1="901.3" y1="1045.2" x2="905.3" y2="1045.2" stroke="#000" stroke-width="1.2"/>
<text x="823.5" y="1053.2" font-family="Liberation Sans, Arial, sans-serif" font-size="22.5" text-anchor="end" transform="translate(823.5 1053.2) scale(1 1.03) translate(-823.5 -1053.2)">E</text>
<line x1="827.1" y1="1071" x2="831.6" y2="1071" stroke="#000" stroke-width="1.2"/>
<line x1="901.3" y1="1071" x2="905.3" y2="1071" stroke="#000" stroke-width="1.2"/>
<text x="823.5" y="1079" font-family="Liberation Sans, Arial, sans-serif" font-size="22.5" text-anchor="end" transform="translate(823.5 1079) scale(1 1.03) translate(-823.5 -1079)">D</text>
<line x1="827.1" y1="1096.8" x2="831.6" y2="1096.8" stroke="#000" stroke-width="1.2"/>
<line x1="901.3" y1="1096.8" x2="905.3" y2="1096.8" stroke="#000" stroke-width="1.2"/>
<text x="823.5" y="1104.8" font-family="Liberation Sans, Arial, sans-serif" font-size="22.5" text-anchor="end" transform="translate(823.5 1104.8) scale(1 1.03) translate(-823.5 -1104.8)">R</text>
<line x1="827.1" y1="1122.6" x2="831.6" y2="1122.6" stroke="#000" stroke-width="1.2"/>
<line x1="901.3" y1="1122.6" x2="905.3" y2="1122.6" stroke="#000" stroke-width="1.2"/>
<text x="823.5" y="1130.6" font-family="Liberation Sans, Arial, sans-serif" font-size="22.5" text-anchor="end" transform="translate(823.5 1130.6) scale(1 1.03) translate(-823.5 -1130.6)">K</text>
<line x1="917.5" y1="1135.5" x2="917.5" y2="1139.5" stroke="#000" stroke-width="1.2"/>
<line x1="917.5" y1="1213.3" x2="917.5" y2="1217.8" stroke="#000" stroke-width="1.2"/>
<text x="917.5" y="1237.3" font-family="Liberation Sans, Arial, sans-serif" font-size="22.5" text-anchor="middle" transform="translate(917.5 1237.3) scale(1 1.03) translate(-917.5 -1237.3)">K</text>
<line x1="942" y1="1135.5" x2="942" y2="1139.5" stroke="#000" stroke-width="1.2"/>
<line x1="942" y1="1213.3" x2="942" y2="1217.8" stroke="#000" stroke-width="1.2"/>
<text x="942" y="1237.3" font-family="Liberation Sans, Arial, sans-serif" font-size="22.5" text-anchor="middle" transform="translate(942 1237.3) scale(1 1.03) translate(-942 -1237.3)">R</text>
<line x1="966.5" y1="1135.5" x2="966.5" y2="1139.5" stroke="#000" stroke-width="1.2"/>
<line x1="966.5" y1="1213.3" x2="966.5" y2="1217.8" stroke="#000" stroke-width="1.2"/>
<text x="966.5" y="1237.3" font-family="Liberation Sans, Arial, sans-serif" font-size="22.5" text-anchor="middle" transform="translate(966.5 1237.3) scale(1 1.03) translate(-966.5 -1237.3)">D</text>
<line x1="991" y1="1135.5" x2="991" y2="1139.5" stroke="#000" stroke-width="1.2"/>
<line x1="991" y1="1213.3" x2="991" y2="1217.8" stroke="#000" stroke-width="1.2"/>
<text x="991" y="1237.3" font-family="Liberation Sans, Arial, sans-serif" font-size="22.5" text-anchor="middle" transform="translate(991 1237.3) scale(1 1.03) translate(-991 -1237.3)">E</text>
<line x1="1015.5" y1="1135.5" x2="1015.5" y2="1139.5" stroke="#000" stroke-width="1.2"/>
<line x1="1015.5" y1="1213.3" x2="1015.5" y2="1217.8" stroke="#000" stroke-width="1.2"/>
<text x="1015.5" y="1237.3" font-family="Liberation Sans, Arial, sans-serif" font-size="22.5" text-anchor="middle" transform="translate(1015.5 1237.3) scale(1 1.03) translate(-1015.5 -1237.3)">Y</text>
<line x1="1039.9" y1="1135.5" x2="1039.9" y2="1139.5" stroke="#000" stroke-width="1.2"/>
<line x1="1039.9" y1="1213.3" x2="1039.9" y2="1217.8" stroke="#000" stroke-width="1.2"/>
<text x="1039.9" y="1237.3" font-family="Liberation Sans, Arial, sans-serif" font-size="22.5" text-anchor="middle" transform="translate(1039.9 1237.3) scale(1 1.03) translate(-1039.9 -1237.3)">A</text>
<line x1="1064.4" y1="1135.5" x2="1064.4" y2="1139.5" stroke="#000" stroke-width="1.2"/>
<line x1="1064.4" y1="1213.3" x2="1064.4" y2="1217.8" stroke="#000" stroke-width="1.2"/>
<text x="1064.4" y="1237.3" font-family="Liberation Sans, Arial, sans-serif" font-size="22.5" text-anchor="middle" transform="translate(1064.4 1237.3) scale(1 1.03) translate(-1064.4 -1237.3)">I</text>
<line x1="1088.9" y1="1135.5" x2="1088.9" y2="1139.5" stroke="#000" stroke-width="1.2"/>
<line x1="1088.9" y1="1213.3" x2="1088.9" y2="1217.8" stroke="#000" stroke-width="1.2"/>
<text x="1088.9" y="1237.3" font-family="Liberation Sans, Arial, sans-serif" font-size="22.5" text-anchor="middle" transform="translate(1088.9 1237.3) scale(1 1.03) translate(-1088.9 -1237.3)">L</text>
<line x1="1113.4" y1="1135.5" x2="1113.4" y2="1139.5" stroke="#000" stroke-width="1.2"/>
<line x1="1113.4" y1="1213.3" x2="1113.4" y2="1217.8" stroke="#000" stroke-width="1.2"/>
<text x="1113.4" y="1237.3" font-family="Liberation Sans, Arial, sans-serif" font-size="22.5" text-anchor="middle" transform="translate(1113.4 1237.3) scale(1 1.03) translate(-1113.4 -1237.3)">P</text>
<line x1="1137.9" y1="1135.5" x2="1137.9" y2="1139.5" stroke="#000" stroke-width="1.2"/>
<line x1="1137.9" y1="1213.3" x2="1137.9" y2="1217.8" stroke="#000" stroke-width="1.2"/>
<text x="1137.9" y="1237.3" font-family="Liberation Sans, Arial, sans-serif" font-size="22.5" text-anchor="middle" transform="translate(1137.9 1237.3) scale(1 1.03) translate(-1137.9 -1237.3)">V</text>
<line x1="1162.3" y1="1135.5" x2="1162.3" y2="1139.5" stroke="#000" stroke-width="1.2"/>
<line x1="1162.3" y1="1213.3" x2="1162.3" y2="1217.8" stroke="#000" stroke-width="1.2"/>
<text x="1162.3" y="1237.3" font-family="Liberation Sans, Arial, sans-serif" font-size="22.5" text-anchor="middle" transform="translate(1162.3 1237.3) scale(1 1.03) translate(-1162.3 -1237.3)">N</text>
<line x1="1186.8" y1="1135.5" x2="1186.8" y2="1139.5" stroke="#000" stroke-width="1.2"/>
<line x1="1186.8" y1="1213.3" x2="1186.8" y2="1217.8" stroke="#000" stroke-width="1.2"/>
<text x="1186.8" y="1237.3" font-family="Liberation Sans, Arial, sans-serif" font-size="22.5" text-anchor="middle" transform="translate(1186.8 1237.3) scale(1 1.03) translate(-1186.8 -1237.3)">G</text>
<line x1="1211.3" y1="1135.5" x2="1211.3" y2="1139.5" stroke="#000" stroke-width="1.2"/>
<line x1="1211.3" y1="1213.3" x2="1211.3" y2="1217.8" stroke="#000" stroke-width="1.2"/>
<text x="1211.3" y="1237.3" font-family="Liberation Sans, Arial, sans-serif" font-size="22.5" text-anchor="middle" transform="translate(1211.3 1237.3) scale(1 1.03) translate(-1211.3 -1237.3)">S</text>
<line x1="1235.8" y1="1135.5" x2="1235.8" y2="1139.5" stroke="#000" stroke-width="1.2"/>
<line x1="1235.8" y1="1213.3" x2="1235.8" y2="1217.8" stroke="#000" stroke-width="1.2"/>
<text x="1235.8" y="1237.3" font-family="Liberation Sans, Arial, sans-serif" font-size="22.5" text-anchor="middle" transform="translate(1235.8 1237.3) scale(1 1.03) translate(-1235.8 -1237.3)">T</text>
<line x1="1260.3" y1="1135.5" x2="1260.3" y2="1139.5" stroke="#000" stroke-width="1.2"/>
<line x1="1260.3" y1="1213.3" x2="1260.3" y2="1217.8" stroke="#000" stroke-width="1.2"/>
<text x="1260.3" y="1237.3" font-family="Liberation Sans, Arial, sans-serif" font-size="22.5" text-anchor="middle" transform="translate(1260.3 1237.3) scale(1 1.03) translate(-1260.3 -1237.3)">Q</text>
<line x1="834.9" y1="748.4" x2="834.9" y2="743.9" stroke="#000" stroke-width="1.2"/>
<text x="834.9" y="736.5" font-family="Liberation Sans, Arial, sans-serif" font-size="21" text-anchor="middle" transform="translate(834.9 736.5) scale(1 1.05) translate(-834.9 -736.5)">0</text>
<line x1="878.1" y1="748.4" x2="878.1" y2="743.9" stroke="#000" stroke-width="1.2"/>
<text x="878.1" y="736.5" font-family="Liberation Sans, Arial, sans-serif" font-size="21" text-anchor="middle" transform="translate(878.1 736.5) scale(1 1.05) translate(-878.1 -736.5)">25</text>
<text x="833.1" y="708.6" transform="translate(833.1 708.6) scale(1 1.13) translate(-833.1 -708.6)"><tspan font-family="Liberation Serif, Times New Roman, serif" font-style="italic" font-size="22">N</tspan><tspan font-family="Liberation Sans, Arial, sans-serif" font-size="13.2" dy="3">residue</tspan></text>
<line x1="832" y1="1213.3" x2="832" y2="1217.8" stroke="#000" stroke-width="1.2"/>
<line x1="832" y1="1135.5" x2="832" y2="1139.5" stroke="#000" stroke-width="1.2"/>
<text x="832" y="1237" font-family="Liberation Sans, Arial, sans-serif" font-size="21" text-anchor="middle" transform="translate(832 1237) scale(1 1.05) translate(-832 -1237)">0</text>
<line x1="883.5" y1="1213.3" x2="883.5" y2="1217.8" stroke="#000" stroke-width="1.2"/>
<line x1="883.5" y1="1135.5" x2="883.5" y2="1139.5" stroke="#000" stroke-width="1.2"/>
<text x="883.5" y="1237" font-family="Liberation Sans, Arial, sans-serif" font-size="21" text-anchor="middle" transform="translate(883.5 1237) scale(1 1.05) translate(-883.5 -1237)">25</text>
<text x="833.7" y="1262" transform="translate(833.7 1262) scale(1 1.13) translate(-833.7 -1262)"><tspan font-family="Liberation Serif, Times New Roman, serif" font-style="italic" font-size="22">N</tspan><tspan font-family="Liberation Sans, Arial, sans-serif" font-size="14" dy="3.7">contact</tspan></text>
<line x1="827.1" y1="1166.6" x2="831.6" y2="1166.6" stroke="#000" stroke-width="1.2"/>
<line x1="901.3" y1="1166.6" x2="905.3" y2="1166.6" stroke="#000" stroke-width="1.2"/>
<text x="822.8" y="1174.2" font-family="Liberation Sans, Arial, sans-serif" font-size="21" text-anchor="end" transform="translate(822.8 1174.2) scale(1 1.05) translate(-822.8 -1174.2)">25</text>
<line x1="827.1" y1="1213.3" x2="831.6" y2="1213.3" stroke="#000" stroke-width="1.2"/>
<line x1="901.3" y1="1213.3" x2="905.3" y2="1213.3" stroke="#000" stroke-width="1.2"/>
<text x="822.8" y="1220.9" font-family="Liberation Sans, Arial, sans-serif" font-size="21" text-anchor="end" transform="translate(822.8 1220.9) scale(1 1.05) translate(-822.8 -1220.9)">0</text>
<text x="791.5" y="1182.5" text-anchor="middle" transform="rotate(-90 791.5 1182.5) translate(791.5 1182.5) scale(1 1.13) translate(-791.5 -1182.5)"><tspan font-family="Liberation Serif, Times New Roman, serif" font-style="italic" font-size="22">N</tspan><tspan font-family="Liberation Sans, Arial, sans-serif" font-size="14" dy="1.5">contact</tspan></text>
<line x1="1272.5" y1="1143.2" x2="1277" y2="1143.2" stroke="#000" stroke-width="1.2"/>
<text x="1280.9" y="1150.8" font-family="Liberation Sans, Arial, sans-serif" font-size="21" transform="translate(1280.9 1150.8) scale(1 1.05) translate(-1280.9 -1150.8)">50</text>
<line x1="1272.5" y1="1210.4" x2="1277" y2="1210.4" stroke="#000" stroke-width="1.2"/>
<text x="1280.9" y="1218" font-family="Liberation Sans, Arial, sans-serif" font-size="21" transform="translate(1280.9 1218) scale(1 1.05) translate(-1280.9 -1218)">0</text>
<text x="1326.5" y="1184" text-anchor="middle" transform="rotate(-90 1326.5 1184) translate(1326.5 1184) scale(1 1.13) translate(-1326.5 -1184)"><tspan font-family="Liberation Serif, Times New Roman, serif" font-style="italic" font-size="22">N</tspan><tspan font-family="Liberation Sans, Arial, sans-serif" font-size="14" dy="1.5">residue</tspan></text>
<text x="794.5" y="942.5" font-family="Liberation Sans, Arial, sans-serif" font-size="22.5" text-anchor="middle" transform="rotate(-90 794.5 942.5) translate(794.5 942.5) scale(1 1.13) translate(-794.5 -942.5)" textLength="193.5" lengthAdjust="spacingAndGlyphs">TAF15 residue type</text>
<text x="1088.9" y="1262.8" font-family="Liberation Sans, Arial, sans-serif" font-size="22.5" text-anchor="middle" transform="translate(1088.9 1262.8) scale(1 1.13) translate(-1088.9 -1262.8)" textLength="171.3" lengthAdjust="spacingAndGlyphs">FUS residue type</text>
<defs><linearGradient id="mcbg689" x1="0" y1="1" x2="0" y2="0"><stop offset="0.000" stop-color="#ffffff"/><stop offset="0.050" stop-color="#ffe5cc"/><stop offset="0.100" stop-color="#ffcc99"/><stop offset="0.150" stop-color="#ffb266"/><stop offset="0.200" stop-color="#ff9933"/><stop offset="0.250" stop-color="#ff8000"/><stop offset="0.300" stop-color="#ff6600"/><stop offset="0.350" stop-color="#f94d00"/><stop offset="0.400" stop-color="#e53300"/><stop offset="0.450" stop-color="#d21a00"/><stop offset="0.500" stop-color="#bf0000"/><stop offset="0.550" stop-color="#ac0000"/><stop offset="0.600" stop-color="#990000"/><stop offset="0.650" stop-color="#860000"/><stop offset="0.700" stop-color="#730000"/><stop offset="0.750" stop-color="#600000"/><stop offset="0.800" stop-color="#4c0000"/><stop offset="0.850" stop-color="#390000"/><stop offset="0.900" stop-color="#260000"/><stop offset="0.950" stop-color="#130000"/><stop offset="1.000" stop-color="#000000"/></linearGradient></defs>
<rect x="1287.6" y="751.8" width="10.1" height="368.7" fill="url(#mcbg689)" stroke="#222" stroke-width="1.2"/>
<line x1="1297.7" y1="1120.5" x2="1302.2" y2="1120.5" stroke="#000" stroke-width="1.2"/>
<text x="1304.7" y="1128" font-family="Liberation Sans, Arial, sans-serif" font-size="21" transform="translate(1304.7 1128) scale(1 1.05) translate(-1304.7 -1128)">0</text>
<line x1="1297.7" y1="1045.6" x2="1302.2" y2="1045.6" stroke="#000" stroke-width="1.2"/>
<text x="1304.7" y="1053.1" font-family="Liberation Sans, Arial, sans-serif" font-size="21" transform="translate(1304.7 1053.1) scale(1 1.05) translate(-1304.7 -1053.1)">2</text>
<line x1="1297.7" y1="970.6" x2="1302.2" y2="970.6" stroke="#000" stroke-width="1.2"/>
<text x="1304.7" y="978.1" font-family="Liberation Sans, Arial, sans-serif" font-size="21" transform="translate(1304.7 978.1) scale(1 1.05) translate(-1304.7 -978.1)">4</text>
<line x1="1297.7" y1="895.7" x2="1302.2" y2="895.7" stroke="#000" stroke-width="1.2"/>
<text x="1304.7" y="903.2" font-family="Liberation Sans, Arial, sans-serif" font-size="21" transform="translate(1304.7 903.2) scale(1 1.05) translate(-1304.7 -903.2)">6</text>
<line x1="1297.7" y1="820.7" x2="1302.2" y2="820.7" stroke="#000" stroke-width="1.2"/>
<text x="1304.7" y="828.2" font-family="Liberation Sans, Arial, sans-serif" font-size="21" transform="translate(1304.7 828.2) scale(1 1.05) translate(-1304.7 -828.2)">8</text>
<text x="1400" y="691.5" font-family="Liberation Sans, Arial, sans-serif" font-size="30.5" font-weight="bold">f</text>
<rect x="1623.4" y="748.4" width="24.7" height="26.1" fill="#fffaf5"/>
<rect x="1647.9" y="748.4" width="24.7" height="26.1" fill="#fff0e0"/>
<rect x="1672.4" y="748.4" width="24.7" height="26.1" fill="#ffc285"/>
<rect x="1696.8" y="748.4" width="24.7" height="26.1" fill="#fff0e0"/>
<rect x="1721.3" y="748.4" width="24.7" height="26.1" fill="#f54700"/>
<rect x="1745.8" y="748.4" width="24.7" height="26.1" fill="#ffe0c2"/>
<rect x="1819.2" y="748.4" width="24.7" height="26.1" fill="#ffd1a3"/>
<rect x="1868.2" y="748.4" width="24.7" height="26.1" fill="#ffc78f"/>
<rect x="1892.7" y="748.4" width="24.7" height="26.1" fill="#cf1400"/>
<rect x="1917.2" y="748.4" width="24.7" height="26.1" fill="#a80000"/>
<rect x="1941.6" y="748.4" width="24.7" height="26.1" fill="#ffd1a3"/>
<rect x="1966.1" y="748.4" width="24.7" height="26.1" fill="#da2400"/>
<rect x="1623.4" y="774.2" width="24.7" height="26.1" fill="#fffcfa"/>
<rect x="1647.9" y="774.2" width="24.7" height="26.1" fill="#fff5eb"/>
<rect x="1672.4" y="774.2" width="24.7" height="26.1" fill="#ffd1a3"/>
<rect x="1696.8" y="774.2" width="24.7" height="26.1" fill="#fff2e5"/>
<rect x="1721.3" y="774.2" width="24.7" height="26.1" fill="#ff7000"/>
<rect x="1745.8" y="774.2" width="24.7" height="26.1" fill="#ffe0c2"/>
<rect x="1819.2" y="774.2" width="24.7" height="26.1" fill="#ffd9b3"/>
<rect x="1868.2" y="774.2" width="24.7" height="26.1" fill="#ffcf9e"/>
<rect x="1892.7" y="774.2" width="24.7" height="26.1" fill="#f14200"/>
<rect x="1917.2" y="774.2" width="24.7" height="26.1" fill="#de2900"/>
<rect x="1941.6" y="774.2" width="24.7" height="26.1" fill="#ffe0c2"/>
<rect x="1966.1" y="774.2" width="24.7" height="26.1" fill="#f14200"/>
<rect x="1623.4" y="800" width="24.7" height="26.1" fill="#fffaf5"/>
<rect x="1647.9" y="800" width="24.7" height="26.1" fill="#ffd9b3"/>
<rect x="1672.4" y="800" width="24.7" height="26.1" fill="#ff7800"/>
<rect x="1696.8" y="800" width="24.7" height="26.1" fill="#ffd1a3"/>
<rect x="1721.3" y="800" width="24.7" height="26.1" fill="#600000"/>
<rect x="1745.8" y="800" width="24.7" height="26.1" fill="#ffd9b3"/>
<rect x="1819.2" y="800" width="24.7" height="26.1" fill="#ffb870"/>
<rect x="1843.7" y="800" width="24.7" height="26.1" fill="#fffaf5"/>
<rect x="1868.2" y="800" width="24.7" height="26.1" fill="#ffa347"/>
<rect x="1892.7" y="800" width="24.7" height="26.1" fill="#410000"/>
<rect x="1917.2" y="800" width="24.7" height="26.1" fill="#000000"/>
<rect x="1941.6" y="800" width="24.7" height="26.1" fill="#ffb266"/>
<rect x="1966.1" y="800" width="24.7" height="26.1" fill="#320000"/>
<rect x="1647.9" y="825.8" width="24.7" height="26.1" fill="#ffe5cc"/>
<rect x="1672.4" y="825.8" width="24.7" height="26.1" fill="#ff8f1f"/>
<rect x="1696.8" y="825.8" width="24.7" height="26.1" fill="#ffd6ad"/>
<rect x="1721.3" y="825.8" width="24.7" height="26.1" fill="#f14200"/>
<rect x="1745.8" y="825.8" width="24.7" height="26.1" fill="#ffdbb8"/>
<rect x="1819.2" y="825.8" width="24.7" height="26.1" fill="#ffb870"/>
<rect x="1843.7" y="825.8" width="24.7" height="26.1" fill="#fffaf5"/>
<rect x="1868.2" y="825.8" width="24.7" height="26.1" fill="#ff9e3d"/>
<rect x="1892.7" y="825.8" width="24.7" height="26.1" fill="#8a0000"/>
<rect x="1917.2" y="825.8" width="24.7" height="26.1" fill="#600000"/>
<rect x="1941.6" y="825.8" width="24.7" height="26.1" fill="#ffb266"/>
<rect x="1966.1" y="825.8" width="24.7" height="26.1" fill="#6f0000"/>
<rect x="1647.9" y="851.6" width="24.7" height="26.1" fill="#fffaf5"/>
<rect x="1672.4" y="851.6" width="24.7" height="26.1" fill="#ffcf9e"/>
<rect x="1696.8" y="851.6" width="24.7" height="26.1" fill="#fff0e0"/>
<rect x="1721.3" y="851.6" width="24.7" height="26.1" fill="#ff8000"/>
<rect x="1745.8" y="851.6" width="24.7" height="26.1" fill="#fff5eb"/>
<rect x="1819.2" y="851.6" width="24.7" height="26.1" fill="#ffe5cc"/>
<rect x="1843.7" y="851.6" width="24.7" height="26.1" fill="#fffcfa"/>
<rect x="1868.2" y="851.6" width="24.7" height="26.1" fill="#ffd1a3"/>
<rect x="1892.7" y="851.6" width="24.7" height="26.1" fill="#ff6100"/>
<rect x="1917.2" y="851.6" width="24.7" height="26.1" fill="#ff6100"/>
<rect x="1941.6" y="851.6" width="24.7" height="26.1" fill="#ffe0c2"/>
<rect x="1966.1" y="851.6" width="24.7" height="26.1" fill="#ff6600"/>
<rect x="1647.9" y="877.4" width="24.7" height="26.1" fill="#fffaf5"/>
<rect x="1672.4" y="877.4" width="24.7" height="26.1" fill="#ffd1a3"/>
<rect x="1696.8" y="877.4" width="24.7" height="26.1" fill="#fff5eb"/>
<rect x="1721.3" y="877.4" width="24.7" height="26.1" fill="#fc5200"/>
<rect x="1745.8" y="877.4" width="24.7" height="26.1" fill="#ffe0c2"/>
<rect x="1819.2" y="877.4" width="24.7" height="26.1" fill="#ffe0c2"/>
<rect x="1868.2" y="877.4" width="24.7" height="26.1" fill="#ffdbb8"/>
<rect x="1892.7" y="877.4" width="24.7" height="26.1" fill="#ff6100"/>
<rect x="1917.2" y="877.4" width="24.7" height="26.1" fill="#f14200"/>
<rect x="1941.6" y="877.4" width="24.7" height="26.1" fill="#ffe0c2"/>
<rect x="1966.1" y="877.4" width="24.7" height="26.1" fill="#fc5200"/>
<rect x="1672.4" y="903.2" width="24.7" height="26.1" fill="#fff0e0"/>
<rect x="1721.3" y="903.2" width="24.7" height="26.1" fill="#ffd1a3"/>
<rect x="1745.8" y="903.2" width="24.7" height="26.1" fill="#fff5eb"/>
<rect x="1819.2" y="903.2" width="24.7" height="26.1" fill="#ffe5cc"/>
<rect x="1868.2" y="903.2" width="24.7" height="26.1" fill="#ffebd6"/>
<rect x="1892.7" y="903.2" width="24.7" height="26.1" fill="#ffb266"/>
<rect x="1917.2" y="903.2" width="24.7" height="26.1" fill="#ffb266"/>
<rect x="1941.6" y="903.2" width="24.7" height="26.1" fill="#fff0e0"/>
<rect x="1966.1" y="903.2" width="24.7" height="26.1" fill="#ffb870"/>
<rect x="1672.4" y="929" width="24.7" height="26.1" fill="#ffebd6"/>
<rect x="1696.8" y="929" width="24.7" height="26.1" fill="#fffaf5"/>
<rect x="1721.3" y="929" width="24.7" height="26.1" fill="#ffc78f"/>
<rect x="1745.8" y="929" width="24.7" height="26.1" fill="#fff5eb"/>
<rect x="1819.2" y="929" width="24.7" height="26.1" fill="#ffe5cc"/>
<rect x="1868.2" y="929" width="24.7" height="26.1" fill="#ffe5cc"/>
<rect x="1892.7" y="929" width="24.7" height="26.1" fill="#ff9933"/>
<rect x="1917.2" y="929" width="24.7" height="26.1" fill="#ff8000"/>
<rect x="1941.6" y="929" width="24.7" height="26.1" fill="#ffdbb8"/>
<rect x="1966.1" y="929" width="24.7" height="26.1" fill="#ff8f1f"/>
<rect x="1672.4" y="954.9" width="24.7" height="26.1" fill="#ffebd6"/>
<rect x="1696.8" y="954.9" width="24.7" height="26.1" fill="#fffaf5"/>
<rect x="1721.3" y="954.9" width="24.7" height="26.1" fill="#ffa852"/>
<rect x="1745.8" y="954.9" width="24.7" height="26.1" fill="#fff5eb"/>
<rect x="1819.2" y="954.9" width="24.7" height="26.1" fill="#ffe5cc"/>
<rect x="1868.2" y="954.9" width="24.7" height="26.1" fill="#ffebd6"/>
<rect x="1892.7" y="954.9" width="24.7" height="26.1" fill="#ff9933"/>
<rect x="1917.2" y="954.9" width="24.7" height="26.1" fill="#ff8f1f"/>
<rect x="1941.6" y="954.9" width="24.7" height="26.1" fill="#ffe5cc"/>
<rect x="1966.1" y="954.9" width="24.7" height="26.1" fill="#ff9933"/>
<rect x="1647.9" y="980.7" width="24.7" height="26.1" fill="#fff5eb"/>
<rect x="1672.4" y="980.7" width="24.7" height="26.1" fill="#ffcf9e"/>
<rect x="1696.8" y="980.7" width="24.7" height="26.1" fill="#fff2e5"/>
<rect x="1721.3" y="980.7" width="24.7" height="26.1" fill="#f94d00"/>
<rect x="1745.8" y="980.7" width="24.7" height="26.1" fill="#ffdbb8"/>
<rect x="1819.2" y="980.7" width="24.7" height="26.1" fill="#ffc78f"/>
<rect x="1843.7" y="980.7" width="24.7" height="26.1" fill="#fffaf5"/>
<rect x="1868.2" y="980.7" width="24.7" height="26.1" fill="#ffc78f"/>
<rect x="1892.7" y="980.7" width="24.7" height="26.1" fill="#de2900"/>
<rect x="1917.2" y="980.7" width="24.7" height="26.1" fill="#bb0000"/>
<rect x="1941.6" y="980.7" width="24.7" height="26.1" fill="#ffcf9e"/>
<rect x="1966.1" y="980.7" width="24.7" height="26.1" fill="#e22e00"/>
<rect x="1623.4" y="1006.5" width="24.7" height="26.1" fill="#fffaf5"/>
<rect x="1647.9" y="1006.5" width="24.7" height="26.1" fill="#ffe5cc"/>
<rect x="1672.4" y="1006.5" width="24.7" height="26.1" fill="#fffaf5"/>
<rect x="1721.3" y="1006.5" width="24.7" height="26.1" fill="#ffb266"/>
<rect x="1745.8" y="1006.5" width="24.7" height="26.1" fill="#fffaf5"/>
<rect x="1819.2" y="1006.5" width="24.7" height="26.1" fill="#fffaf5"/>
<rect x="1868.2" y="1006.5" width="24.7" height="26.1" fill="#fffaf5"/>
<rect x="1892.7" y="1006.5" width="24.7" height="26.1" fill="#ffc78f"/>
<rect x="1917.2" y="1006.5" width="24.7" height="26.1" fill="#ffc78f"/>
<rect x="1941.6" y="1006.5" width="24.7" height="26.1" fill="#fffaf5"/>
<rect x="1966.1" y="1006.5" width="24.7" height="26.1" fill="#fff0e0"/>
<rect x="1672.4" y="1032.3" width="24.7" height="26.1" fill="#fff5eb"/>
<rect x="1696.8" y="1032.3" width="24.7" height="26.1" fill="#fffaf5"/>
<rect x="1721.3" y="1032.3" width="24.7" height="26.1" fill="#ffe0c2"/>
<rect x="1819.2" y="1032.3" width="24.7" height="26.1" fill="#fffaf5"/>
<rect x="1868.2" y="1032.3" width="24.7" height="26.1" fill="#fffaf5"/>
<rect x="1892.7" y="1032.3" width="24.7" height="26.1" fill="#ffd6ad"/>
<rect x="1917.2" y="1032.3" width="24.7" height="26.1" fill="#ffc78f"/>
<rect x="1966.1" y="1032.3" width="24.7" height="26.1" fill="#ffd6ad"/>
<rect x="1672.4" y="1058.1" width="24.7" height="26.1" fill="#fffaf5"/>
<rect x="1721.3" y="1058.1" width="24.7" height="26.1" fill="#fffaf5"/>
<rect x="1892.7" y="1058.1" width="24.7" height="26.1" fill="#fff0e0"/>
<rect x="1917.2" y="1058.1" width="24.7" height="26.1" fill="#fff0e0"/>
<rect x="1966.1" y="1058.1" width="24.7" height="26.1" fill="#fff5eb"/>
<rect x="1672.4" y="1083.9" width="24.7" height="26.1" fill="#ff9e3d"/>
<rect x="1696.8" y="1083.9" width="24.7" height="26.1" fill="#ffe0c2"/>
<rect x="1721.3" y="1083.9" width="24.7" height="26.1" fill="#bf0000"/>
<rect x="1745.8" y="1083.9" width="24.7" height="26.1" fill="#fffaf5"/>
<rect x="1819.2" y="1083.9" width="24.7" height="26.1" fill="#fff0e0"/>
<rect x="1868.2" y="1083.9" width="24.7" height="26.1" fill="#fff0e0"/>
<rect x="1892.7" y="1083.9" width="24.7" height="26.1" fill="#ffa852"/>
<rect x="1917.2" y="1083.9" width="24.7" height="26.1" fill="#ff8000"/>
<rect x="1941.6" y="1083.9" width="24.7" height="26.1" fill="#fff0e0"/>
<rect x="1966.1" y="1083.9" width="24.7" height="26.1" fill="#ffb266"/>
<rect x="1672.4" y="1109.7" width="24.7" height="26.1" fill="#ffc285"/>
<rect x="1696.8" y="1109.7" width="24.7" height="26.1" fill="#ffe0c2"/>
<rect x="1721.3" y="1109.7" width="24.7" height="26.1" fill="#ff7800"/>
<rect x="1819.2" y="1109.7" width="24.7" height="26.1" fill="#fffaf5"/>
<rect x="1868.2" y="1109.7" width="24.7" height="26.1" fill="#fff0e0"/>
<rect x="1892.7" y="1109.7" width="24.7" height="26.1" fill="#ffc78f"/>
<rect x="1917.2" y="1109.7" width="24.7" height="26.1" fill="#ffb266"/>
<rect x="1941.6" y="1109.7" width="24.7" height="26.1" fill="#fff5eb"/>
<rect x="1966.1" y="1109.7" width="24.7" height="26.1" fill="#ffb266"/>
<rect x="1549.7" y="756.3" width="33.8" height="10" fill="#000"/>
<rect x="1549.7" y="782.1" width="28" height="10" fill="#000"/>
<rect x="1549.7" y="807.9" width="63.7" height="10" fill="#000"/>
<rect x="1549.7" y="833.7" width="47.7" height="10" fill="#000"/>
<rect x="1549.7" y="859.5" width="21.7" height="10" fill="#000"/>
<rect x="1549.7" y="885.3" width="24.6" height="10" fill="#000"/>
<rect x="1549.7" y="911.1" width="9.9" height="10" fill="#000"/>
<rect x="1549.7" y="937" width="14.9" height="10" fill="#000"/>
<rect x="1549.7" y="962.8" width="14.9" height="10" fill="#000"/>
<rect x="1549.7" y="988.6" width="31.7" height="10" fill="#000"/>
<rect x="1549.7" y="1014.4" width="6.5" height="10" fill="#000"/>
<rect x="1549.7" y="1040.2" width="4.9" height="10" fill="#000"/>
<rect x="1549.7" y="1066" width="0.7" height="10" fill="#000"/>
<rect x="1549.7" y="1091.8" width="20.4" height="10" fill="#000"/>
<rect x="1549.7" y="1117.6" width="13.3" height="10" fill="#000"/>
<polyline points="1620.5,761.3 1594,787.1 1619.2,812.9 1601.6,838.7 1584.8,864.5 1574.3,890.3 1573,916.1 1583.5,942 1573,967.8 1584,993.6 1553.3,1019.4 1559.6,1045.2 1555.4,1071 1553.3,1096.8 1553.3,1122.6" fill="none" stroke="#0000ff" stroke-width="2.0" stroke-dasharray="7,4"/>
<rect x="1655.5" y="1210.4" width="9.3" height="2.9" fill="#000"/>
<rect x="1679.9" y="1195.5" width="9.3" height="17.8" fill="#000"/>
<rect x="1704.4" y="1208" width="9.3" height="5.3" fill="#000"/>
<rect x="1728.9" y="1162.7" width="9.3" height="50.6" fill="#000"/>
<rect x="1753.4" y="1209" width="9.3" height="4.3" fill="#000"/>
<rect x="1826.8" y="1202.6" width="9.3" height="10.7" fill="#000"/>
<rect x="1875.8" y="1201" width="9.3" height="12.3" fill="#000"/>
<rect x="1900.3" y="1156.8" width="9.3" height="56.5" fill="#000"/>
<rect x="1924.7" y="1146.3" width="9.3" height="67" fill="#000"/>
<rect x="1949.2" y="1203.9" width="9.3" height="9.4" fill="#000"/>
<rect x="1973.7" y="1156" width="9.3" height="57.3" fill="#000"/>
<polyline points="1635.6,1205.9 1660.1,1192.3 1684.6,1178.7 1709.1,1198.4 1733.6,1161 1758,1206 1782.5,1209.4 1807,1209.4 1831.5,1201 1856,1207.2 1880.4,1191.3 1904.9,1140.9 1929.4,1138.8 1953.9,1201 1978.4,1145.1" fill="none" stroke="#0000ff" stroke-width="2.0" stroke-dasharray="7,4"/>
<rect x="1549.7" y="748.4" width="440.9" height="464.9" fill="none" stroke="#000" stroke-width="1.4"/>
<line x1="1623.4" y1="748.4" x2="1623.4" y2="1213.3" stroke="#000" stroke-width="1.4"/>
<line x1="1549.7" y1="1135.5" x2="1990.6" y2="1135.5" stroke="#000" stroke-width="1.4"/>
<line x1="1545.2" y1="761.3" x2="1549.7" y2="761.3" stroke="#000" stroke-width="1.2"/>
<line x1="1619.4" y1="761.3" x2="1623.4" y2="761.3" stroke="#000" stroke-width="1.2"/>
<text x="1541.6" y="769.3" font-family="Liberation Sans, Arial, sans-serif" font-size="22.5" text-anchor="end" transform="translate(1541.6 769.3) scale(1 1.03) translate(-1541.6 -769.3)">Q</text>
<line x1="1545.2" y1="787.1" x2="1549.7" y2="787.1" stroke="#000" stroke-width="1.2"/>
<line x1="1619.4" y1="787.1" x2="1623.4" y2="787.1" stroke="#000" stroke-width="1.2"/>
<text x="1541.6" y="795.1" font-family="Liberation Sans, Arial, sans-serif" font-size="22.5" text-anchor="end" transform="translate(1541.6 795.1) scale(1 1.03) translate(-1541.6 -795.1)">T</text>
<line x1="1545.2" y1="812.9" x2="1549.7" y2="812.9" stroke="#000" stroke-width="1.2"/>
<line x1="1619.4" y1="812.9" x2="1623.4" y2="812.9" stroke="#000" stroke-width="1.2"/>
<text x="1541.6" y="820.9" font-family="Liberation Sans, Arial, sans-serif" font-size="22.5" text-anchor="end" transform="translate(1541.6 820.9) scale(1 1.03) translate(-1541.6 -820.9)">S</text>
<line x1="1545.2" y1="838.7" x2="1549.7" y2="838.7" stroke="#000" stroke-width="1.2"/>
<line x1="1619.4" y1="838.7" x2="1623.4" y2="838.7" stroke="#000" stroke-width="1.2"/>
<text x="1541.6" y="846.7" font-family="Liberation Sans, Arial, sans-serif" font-size="22.5" text-anchor="end" transform="translate(1541.6 846.7) scale(1 1.03) translate(-1541.6 -846.7)">G</text>
<line x1="1545.2" y1="864.5" x2="1549.7" y2="864.5" stroke="#000" stroke-width="1.2"/>
<line x1="1619.4" y1="864.5" x2="1623.4" y2="864.5" stroke="#000" stroke-width="1.2"/>
<text x="1541.6" y="872.5" font-family="Liberation Sans, Arial, sans-serif" font-size="22.5" text-anchor="end" transform="translate(1541.6 872.5) scale(1 1.03) translate(-1541.6 -872.5)">N</text>
<line x1="1545.2" y1="890.3" x2="1549.7" y2="890.3" stroke="#000" stroke-width="1.2"/>
<line x1="1619.4" y1="890.3" x2="1623.4" y2="890.3" stroke="#000" stroke-width="1.2"/>
<text x="1541.6" y="898.3" font-family="Liberation Sans, Arial, sans-serif" font-size="22.5" text-anchor="end" transform="translate(1541.6 898.3) scale(1 1.03) translate(-1541.6 -898.3)">V</text>
<line x1="1545.2" y1="916.1" x2="1549.7" y2="916.1" stroke="#000" stroke-width="1.2"/>
<line x1="1619.4" y1="916.1" x2="1623.4" y2="916.1" stroke="#000" stroke-width="1.2"/>
<text x="1541.6" y="924.1" font-family="Liberation Sans, Arial, sans-serif" font-size="22.5" text-anchor="end" transform="translate(1541.6 924.1) scale(1 1.03) translate(-1541.6 -924.1)">P</text>
<line x1="1545.2" y1="942" x2="1549.7" y2="942" stroke="#000" stroke-width="1.2"/>
<line x1="1619.4" y1="942" x2="1623.4" y2="942" stroke="#000" stroke-width="1.2"/>
<text x="1541.6" y="950" font-family="Liberation Sans, Arial, sans-serif" font-size="22.5" text-anchor="end" transform="translate(1541.6 950) scale(1 1.03) translate(-1541.6 -950)">L</text>
<line x1="1545.2" y1="967.8" x2="1549.7" y2="967.8" stroke="#000" stroke-width="1.2"/>
<line x1="1619.4" y1="967.8" x2="1623.4" y2="967.8" stroke="#000" stroke-width="1.2"/>
<text x="1541.6" y="975.8" font-family="Liberation Sans, Arial, sans-serif" font-size="22.5" text-anchor="end" transform="translate(1541.6 975.8) scale(1 1.03) translate(-1541.6 -975.8)">I</text>
<line x1="1545.2" y1="993.6" x2="1549.7" y2="993.6" stroke="#000" stroke-width="1.2"/>
<line x1="1619.4" y1="993.6" x2="1623.4" y2="993.6" stroke="#000" stroke-width="1.2"/>
<text x="1541.6" y="1001.6" font-family="Liberation Sans, Arial, sans-serif" font-size="22.5" text-anchor="end" transform="translate(1541.6 1001.6) scale(1 1.03) translate(-1541.6 -1001.6)">A</text>
<line x1="1545.2" y1="1019.4" x2="1549.7" y2="1019.4" stroke="#000" stroke-width="1.2"/>
<line x1="1619.4" y1="1019.4" x2="1623.4" y2="1019.4" stroke="#000" stroke-width="1.2"/>
<text x="1541.6" y="1027.4" font-family="Liberation Sans, Arial, sans-serif" font-size="22.5" text-anchor="end" transform="translate(1541.6 1027.4) scale(1 1.03) translate(-1541.6 -1027.4)">Y</text>
<line x1="1545.2" y1="1045.2" x2="1549.7" y2="1045.2" stroke="#000" stroke-width="1.2"/>
<line x1="1619.4" y1="1045.2" x2="1623.4" y2="1045.2" stroke="#000" stroke-width="1.2"/>
<text x="1541.6" y="1053.2" font-family="Liberation Sans, Arial, sans-serif" font-size="22.5" text-anchor="end" transform="translate(1541.6 1053.2) scale(1 1.03) translate(-1541.6 -1053.2)">E</text>
<line x1="1545.2" y1="1071" x2="1549.7" y2="1071" stroke="#000" stroke-width="1.2"/>
<line x1="1619.4" y1="1071" x2="1623.4" y2="1071" stroke="#000" stroke-width="1.2"/>
<text x="1541.6" y="1079" font-family="Liberation Sans, Arial, sans-serif" font-size="22.5" text-anchor="end" transform="translate(1541.6 1079) scale(1 1.03) translate(-1541.6 -1079)">D</text>
<line x1="1545.2" y1="1096.8" x2="1549.7" y2="1096.8" stroke="#000" stroke-width="1.2"/>
<line x1="1619.4" y1="1096.8" x2="1623.4" y2="1096.8" stroke="#000" stroke-width="1.2"/>
<text x="1541.6" y="1104.8" font-family="Liberation Sans, Arial, sans-serif" font-size="22.5" text-anchor="end" transform="translate(1541.6 1104.8) scale(1 1.03) translate(-1541.6 -1104.8)">R</text>
<line x1="1545.2" y1="1122.6" x2="1549.7" y2="1122.6" stroke="#000" stroke-width="1.2"/>
<line x1="1619.4" y1="1122.6" x2="1623.4" y2="1122.6" stroke="#000" stroke-width="1.2"/>
<text x="1541.6" y="1130.6" font-family="Liberation Sans, Arial, sans-serif" font-size="22.5" text-anchor="end" transform="translate(1541.6 1130.6) scale(1 1.03) translate(-1541.6 -1130.6)">K</text>
<line x1="1635.6" y1="1135.5" x2="1635.6" y2="1139.5" stroke="#000" stroke-width="1.2"/>
<line x1="1635.6" y1="1213.3" x2="1635.6" y2="1217.8" stroke="#000" stroke-width="1.2"/>
<text x="1635.6" y="1237.3" font-family="Liberation Sans, Arial, sans-serif" font-size="22.5" text-anchor="middle" transform="translate(1635.6 1237.3) scale(1 1.03) translate(-1635.6 -1237.3)">K</text>
<line x1="1660.1" y1="1135.5" x2="1660.1" y2="1139.5" stroke="#000" stroke-width="1.2"/>
<line x1="1660.1" y1="1213.3" x2="1660.1" y2="1217.8" stroke="#000" stroke-width="1.2"/>
<text x="1660.1" y="1237.3" font-family="Liberation Sans, Arial, sans-serif" font-size="22.5" text-anchor="middle" transform="translate(1660.1 1237.3) scale(1 1.03) translate(-1660.1 -1237.3)">R</text>
<line x1="1684.6" y1="1135.5" x2="1684.6" y2="1139.5" stroke="#000" stroke-width="1.2"/>
<line x1="1684.6" y1="1213.3" x2="1684.6" y2="1217.8" stroke="#000" stroke-width="1.2"/>
<text x="1684.6" y="1237.3" font-family="Liberation Sans, Arial, sans-serif" font-size="22.5" text-anchor="middle" transform="translate(1684.6 1237.3) scale(1 1.03) translate(-1684.6 -1237.3)">D</text>
<line x1="1709.1" y1="1135.5" x2="1709.1" y2="1139.5" stroke="#000" stroke-width="1.2"/>
<line x1="1709.1" y1="1213.3" x2="1709.1" y2="1217.8" stroke="#000" stroke-width="1.2"/>
<text x="1709.1" y="1237.3" font-family="Liberation Sans, Arial, sans-serif" font-size="22.5" text-anchor="middle" transform="translate(1709.1 1237.3) scale(1 1.03) translate(-1709.1 -1237.3)">E</text>
<line x1="1733.6" y1="1135.5" x2="1733.6" y2="1139.5" stroke="#000" stroke-width="1.2"/>
<line x1="1733.6" y1="1213.3" x2="1733.6" y2="1217.8" stroke="#000" stroke-width="1.2"/>
<text x="1733.6" y="1237.3" font-family="Liberation Sans, Arial, sans-serif" font-size="22.5" text-anchor="middle" transform="translate(1733.6 1237.3) scale(1 1.03) translate(-1733.6 -1237.3)">Y</text>
<line x1="1758" y1="1135.5" x2="1758" y2="1139.5" stroke="#000" stroke-width="1.2"/>
<line x1="1758" y1="1213.3" x2="1758" y2="1217.8" stroke="#000" stroke-width="1.2"/>
<text x="1758" y="1237.3" font-family="Liberation Sans, Arial, sans-serif" font-size="22.5" text-anchor="middle" transform="translate(1758 1237.3) scale(1 1.03) translate(-1758 -1237.3)">A</text>
<line x1="1782.5" y1="1135.5" x2="1782.5" y2="1139.5" stroke="#000" stroke-width="1.2"/>
<line x1="1782.5" y1="1213.3" x2="1782.5" y2="1217.8" stroke="#000" stroke-width="1.2"/>
<text x="1782.5" y="1237.3" font-family="Liberation Sans, Arial, sans-serif" font-size="22.5" text-anchor="middle" transform="translate(1782.5 1237.3) scale(1 1.03) translate(-1782.5 -1237.3)">I</text>
<line x1="1807" y1="1135.5" x2="1807" y2="1139.5" stroke="#000" stroke-width="1.2"/>
<line x1="1807" y1="1213.3" x2="1807" y2="1217.8" stroke="#000" stroke-width="1.2"/>
<text x="1807" y="1237.3" font-family="Liberation Sans, Arial, sans-serif" font-size="22.5" text-anchor="middle" transform="translate(1807 1237.3) scale(1 1.03) translate(-1807 -1237.3)">L</text>
<line x1="1831.5" y1="1135.5" x2="1831.5" y2="1139.5" stroke="#000" stroke-width="1.2"/>
<line x1="1831.5" y1="1213.3" x2="1831.5" y2="1217.8" stroke="#000" stroke-width="1.2"/>
<text x="1831.5" y="1237.3" font-family="Liberation Sans, Arial, sans-serif" font-size="22.5" text-anchor="middle" transform="translate(1831.5 1237.3) scale(1 1.03) translate(-1831.5 -1237.3)">P</text>
<line x1="1856" y1="1135.5" x2="1856" y2="1139.5" stroke="#000" stroke-width="1.2"/>
<line x1="1856" y1="1213.3" x2="1856" y2="1217.8" stroke="#000" stroke-width="1.2"/>
<text x="1856" y="1237.3" font-family="Liberation Sans, Arial, sans-serif" font-size="22.5" text-anchor="middle" transform="translate(1856 1237.3) scale(1 1.03) translate(-1856 -1237.3)">V</text>
<line x1="1880.4" y1="1135.5" x2="1880.4" y2="1139.5" stroke="#000" stroke-width="1.2"/>
<line x1="1880.4" y1="1213.3" x2="1880.4" y2="1217.8" stroke="#000" stroke-width="1.2"/>
<text x="1880.4" y="1237.3" font-family="Liberation Sans, Arial, sans-serif" font-size="22.5" text-anchor="middle" transform="translate(1880.4 1237.3) scale(1 1.03) translate(-1880.4 -1237.3)">N</text>
<line x1="1904.9" y1="1135.5" x2="1904.9" y2="1139.5" stroke="#000" stroke-width="1.2"/>
<line x1="1904.9" y1="1213.3" x2="1904.9" y2="1217.8" stroke="#000" stroke-width="1.2"/>
<text x="1904.9" y="1237.3" font-family="Liberation Sans, Arial, sans-serif" font-size="22.5" text-anchor="middle" transform="translate(1904.9 1237.3) scale(1 1.03) translate(-1904.9 -1237.3)">G</text>
<line x1="1929.4" y1="1135.5" x2="1929.4" y2="1139.5" stroke="#000" stroke-width="1.2"/>
<line x1="1929.4" y1="1213.3" x2="1929.4" y2="1217.8" stroke="#000" stroke-width="1.2"/>
<text x="1929.4" y="1237.3" font-family="Liberation Sans, Arial, sans-serif" font-size="22.5" text-anchor="middle" transform="translate(1929.4 1237.3) scale(1 1.03) translate(-1929.4 -1237.3)">S</text>
<line x1="1953.9" y1="1135.5" x2="1953.9" y2="1139.5" stroke="#000" stroke-width="1.2"/>
<line x1="1953.9" y1="1213.3" x2="1953.9" y2="1217.8" stroke="#000" stroke-width="1.2"/>
<text x="1953.9" y="1237.3" font-family="Liberation Sans, Arial, sans-serif" font-size="22.5" text-anchor="middle" transform="translate(1953.9 1237.3) scale(1 1.03) translate(-1953.9 -1237.3)">T</text>
<line x1="1978.4" y1="1135.5" x2="1978.4" y2="1139.5" stroke="#000" stroke-width="1.2"/>
<line x1="1978.4" y1="1213.3" x2="1978.4" y2="1217.8" stroke="#000" stroke-width="1.2"/>
<text x="1978.4" y="1237.3" font-family="Liberation Sans, Arial, sans-serif" font-size="22.5" text-anchor="middle" transform="translate(1978.4 1237.3) scale(1 1.03) translate(-1978.4 -1237.3)">Q</text>
<line x1="1572.2" y1="748.4" x2="1572.2" y2="743.9" stroke="#000" stroke-width="1.2"/>
<text x="1572.2" y="736.5" font-family="Liberation Sans, Arial, sans-serif" font-size="21" text-anchor="middle" transform="translate(1572.2 736.5) scale(1 1.05) translate(-1572.2 -736.5)">25</text>
<line x1="1595.7" y1="748.4" x2="1595.7" y2="743.9" stroke="#000" stroke-width="1.2"/>
<text x="1595.7" y="736.5" font-family="Liberation Sans, Arial, sans-serif" font-size="21" text-anchor="middle" transform="translate(1595.7 736.5) scale(1 1.05) translate(-1595.7 -736.5)">50</text>
<line x1="1619.2" y1="748.4" x2="1619.2" y2="743.9" stroke="#000" stroke-width="1.2"/>
<text x="1619.2" y="736.5" font-family="Liberation Sans, Arial, sans-serif" font-size="21" text-anchor="middle" transform="translate(1619.2 736.5) scale(1 1.05) translate(-1619.2 -736.5)">75</text>
<text x="1551.2" y="708.6" transform="translate(1551.2 708.6) scale(1 1.13) translate(-1551.2 -708.6)"><tspan font-family="Liberation Serif, Times New Roman, serif" font-style="italic" font-size="22">N</tspan><tspan font-family="Liberation Sans, Arial, sans-serif" font-size="13.2" dy="3">residue</tspan></text>
<line x1="1550" y1="1213.3" x2="1550" y2="1217.8" stroke="#000" stroke-width="1.2"/>
<line x1="1550" y1="1135.5" x2="1550" y2="1139.5" stroke="#000" stroke-width="1.2"/>
<text x="1550" y="1237" font-family="Liberation Sans, Arial, sans-serif" font-size="21" text-anchor="middle" transform="translate(1550 1237) scale(1 1.05) translate(-1550 -1237)">0.0</text>
<line x1="1596.6" y1="1213.3" x2="1596.6" y2="1217.8" stroke="#000" stroke-width="1.2"/>
<line x1="1596.6" y1="1135.5" x2="1596.6" y2="1139.5" stroke="#000" stroke-width="1.2"/>
<text x="1596.6" y="1237" font-family="Liberation Sans, Arial, sans-serif" font-size="21" text-anchor="middle" transform="translate(1596.6 1237) scale(1 1.05) translate(-1596.6 -1237)">0.1</text>
<text x="1551.8" y="1262" transform="translate(1551.8 1262) scale(1 1.13) translate(-1551.8 -1262)"><tspan font-family="Liberation Serif, Times New Roman, serif" font-style="italic" font-size="22">N</tspan><tspan font-family="Liberation Sans, Arial, sans-serif" font-size="14" dy="3.7">contact</tspan></text>
<line x1="1545.2" y1="1171.6" x2="1549.7" y2="1171.6" stroke="#000" stroke-width="1.2"/>
<line x1="1619.4" y1="1171.6" x2="1623.4" y2="1171.6" stroke="#000" stroke-width="1.2"/>
<text x="1540.9" y="1179.2" font-family="Liberation Sans, Arial, sans-serif" font-size="21" text-anchor="end" transform="translate(1540.9 1179.2) scale(1 1.05) translate(-1540.9 -1179.2)">0.1</text>
<line x1="1545.2" y1="1213.3" x2="1549.7" y2="1213.3" stroke="#000" stroke-width="1.2"/>
<line x1="1619.4" y1="1213.3" x2="1623.4" y2="1213.3" stroke="#000" stroke-width="1.2"/>
<text x="1540.9" y="1220.9" font-family="Liberation Sans, Arial, sans-serif" font-size="21" text-anchor="end" transform="translate(1540.9 1220.9) scale(1 1.05) translate(-1540.9 -1220.9)">0.0</text>
<text x="1506.1" y="1182.5" text-anchor="middle" transform="rotate(-90 1506.1 1182.5) translate(1506.1 1182.5) scale(1 1.13) translate(-1506.1 -1182.5)"><tspan font-family="Liberation Serif, Times New Roman, serif" font-style="italic" font-size="22">N</tspan><tspan font-family="Liberation Sans, Arial, sans-serif" font-size="14" dy="1.5">contact</tspan></text>
<line x1="1990.6" y1="1166.1" x2="1995.1" y2="1166.1" stroke="#000" stroke-width="1.2"/>
<text x="1999" y="1173.7" font-family="Liberation Sans, Arial, sans-serif" font-size="21" transform="translate(1999 1173.7) scale(1 1.05) translate(-1999 -1173.7)">25</text>
<line x1="1990.6" y1="1210.2" x2="1995.1" y2="1210.2" stroke="#000" stroke-width="1.2"/>
<text x="1999" y="1217.8" font-family="Liberation Sans, Arial, sans-serif" font-size="21" transform="translate(1999 1217.8) scale(1 1.05) translate(-1999 -1217.8)">0</text>
<text x="2044.6" y="1184" text-anchor="middle" transform="rotate(-90 2044.6 1184) translate(2044.6 1184) scale(1 1.13) translate(-2044.6 -1184)"><tspan font-family="Liberation Serif, Times New Roman, serif" font-style="italic" font-size="22">N</tspan><tspan font-family="Liberation Sans, Arial, sans-serif" font-size="14" dy="1.5">residue</tspan></text>
<text x="1512.6" y="941.2" font-family="Liberation Sans, Arial, sans-serif" font-size="22.5" text-anchor="middle" transform="rotate(-90 1512.6 941.2) translate(1512.6 941.2) scale(1 1.13) translate(-1512.6 -941.2)" textLength="170.9" lengthAdjust="spacingAndGlyphs">SP1 residue type</text>
<text x="1806.4" y="1262.8" font-family="Liberation Sans, Arial, sans-serif" font-size="22.5" text-anchor="middle" transform="translate(1806.4 1262.8) scale(1 1.13) translate(-1806.4 -1262.8)" textLength="193.5" lengthAdjust="spacingAndGlyphs">TAF15 residue type</text>
<defs><linearGradient id="mcbg1407" x1="0" y1="1" x2="0" y2="0"><stop offset="0.000" stop-color="#ffffff"/><stop offset="0.050" stop-color="#ffe5cc"/><stop offset="0.100" stop-color="#ffcc99"/><stop offset="0.150" stop-color="#ffb266"/><stop offset="0.200" stop-color="#ff9933"/><stop offset="0.250" stop-color="#ff8000"/><stop offset="0.300" stop-color="#ff6600"/><stop offset="0.350" stop-color="#f94d00"/><stop offset="0.400" stop-color="#e53300"/><stop offset="0.450" stop-color="#d21a00"/><stop offset="0.500" stop-color="#bf0000"/><stop offset="0.550" stop-color="#ac0000"/><stop offset="0.600" stop-color="#990000"/><stop offset="0.650" stop-color="#860000"/><stop offset="0.700" stop-color="#730000"/><stop offset="0.750" stop-color="#600000"/><stop offset="0.800" stop-color="#4c0000"/><stop offset="0.850" stop-color="#390000"/><stop offset="0.900" stop-color="#260000"/><stop offset="0.950" stop-color="#130000"/><stop offset="1.000" stop-color="#000000"/></linearGradient></defs>
<rect x="2005.7" y="751.8" width="10.1" height="368.7" fill="url(#mcbg1407)" stroke="#222" stroke-width="1.2"/>
<line x1="2015.8" y1="1120.5" x2="2020.3" y2="1120.5" stroke="#000" stroke-width="1.2"/>
<text x="2022.8" y="1128" font-family="Liberation Sans, Arial, sans-serif" font-size="21" transform="translate(2022.8 1128) scale(1 1.05) translate(-2022.8 -1128)">0.0</text>
<line x1="2015.8" y1="1060.8" x2="2020.3" y2="1060.8" stroke="#000" stroke-width="1.2"/>
<text x="2022.8" y="1068.3" font-family="Liberation Sans, Arial, sans-serif" font-size="21" transform="translate(2022.8 1068.3) scale(1 1.05) translate(-2022.8 -1068.3)">0.5</text>
<line x1="2015.8" y1="1001.2" x2="2020.3" y2="1001.2" stroke="#000" stroke-width="1.2"/>
<text x="2022.8" y="1008.7" font-family="Liberation Sans, Arial, sans-serif" font-size="21" transform="translate(2022.8 1008.7) scale(1 1.05) translate(-2022.8 -1008.7)">1.0</text>
<line x1="2015.8" y1="941.5" x2="2020.3" y2="941.5" stroke="#000" stroke-width="1.2"/>
<text x="2022.8" y="949" font-family="Liberation Sans, Arial, sans-serif" font-size="21" transform="translate(2022.8 949) scale(1 1.05) translate(-2022.8 -949)">1.5</text>
<line x1="2015.8" y1="881.9" x2="2020.3" y2="881.9" stroke="#000" stroke-width="1.2"/>
<text x="2022.8" y="889.4" font-family="Liberation Sans, Arial, sans-serif" font-size="21" transform="translate(2022.8 889.4) scale(1 1.05) translate(-2022.8 -889.4)">2.0</text>
<line x1="2015.8" y1="822.2" x2="2020.3" y2="822.2" stroke="#000" stroke-width="1.2"/>
<text x="2022.8" y="829.7" font-family="Liberation Sans, Arial, sans-serif" font-size="21" transform="translate(2022.8 829.7) scale(1 1.05) translate(-2022.8 -829.7)">2.5</text>
<line x1="2015.8" y1="762.5" x2="2020.3" y2="762.5" stroke="#000" stroke-width="1.2"/>
<text x="2022.8" y="770" font-family="Liberation Sans, Arial, sans-serif" font-size="21" transform="translate(2022.8 770) scale(1 1.05) translate(-2022.8 -770)">3.0</text>
<text x="1986.1" y="741.5" font-family="Liberation Sans, Arial, sans-serif" font-size="20" transform="translate(1986.1 741.5) scale(1 1.13) translate(-1986.1 -741.5)"><tspan font-size="25" dy="1">×</tspan><tspan dy="-1">10</tspan><tspan font-size="14" dy="-9">−2</tspan></text>
<text x="0" y="1313.3" font-family="Liberation Sans, Arial, sans-serif" font-size="30.5" font-weight="bold">g</text>
<rect x="251" y="1323.9" width="239.6" height="19.4" fill="#575757"/>
<rect x="251" y="1348.6" width="325.5" height="19.4" fill="#575757"/>
<rect x="251" y="1373.3" width="142" height="19.4" fill="#575757"/>
<rect x="251" y="1397.7" width="5.6" height="19.4" fill="#575757"/>
<rect x="251" y="1422.4" width="107.6" height="19.4" fill="#575757"/>
<rect x="251" y="1317.8" width="341.7" height="129.7" fill="none" stroke="#222" stroke-width="1.4"/>
<line x1="246.5" y1="1333.4" x2="251" y2="1333.4" stroke="#222" stroke-width="1.3"/>
<text x="242.5" y="1341.7" font-family="Liberation Sans, Arial, sans-serif" font-size="22" text-anchor="end" transform="translate(242.5 1341.7) scale(1 1.06) translate(-242.5 -1341.7)">Aliphatic</text>
<line x1="246.5" y1="1358.1" x2="251" y2="1358.1" stroke="#222" stroke-width="1.3"/>
<text x="242.5" y="1366.4" font-family="Liberation Sans, Arial, sans-serif" font-size="22" text-anchor="end" transform="translate(242.5 1366.4) scale(1 1.06) translate(-242.5 -1366.4)">Aliphatic-Aromatic</text>
<line x1="246.5" y1="1382.8" x2="251" y2="1382.8" stroke="#222" stroke-width="1.3"/>
<text x="242.5" y="1391.1" font-family="Liberation Sans, Arial, sans-serif" font-size="22" text-anchor="end" transform="translate(242.5 1391.1) scale(1 1.06) translate(-242.5 -1391.1)">Aromatic</text>
<line x1="246.5" y1="1407.6" x2="251" y2="1407.6" stroke="#222" stroke-width="1.3"/>
<text x="242.5" y="1415.9" font-family="Liberation Sans, Arial, sans-serif" font-size="22" text-anchor="end" transform="translate(242.5 1415.9) scale(1 1.06) translate(-242.5 -1415.9)">Electrostatic</text>
<line x1="246.5" y1="1432.3" x2="251" y2="1432.3" stroke="#222" stroke-width="1.3"/>
<text x="242.5" y="1440.6" font-family="Liberation Sans, Arial, sans-serif" font-size="22" text-anchor="end" transform="translate(242.5 1440.6) scale(1 1.06) translate(-242.5 -1440.6)">Cation-pi</text>
<line x1="251" y1="1447.5" x2="251" y2="1452" stroke="#222" stroke-width="1.3"/>
<text x="251" y="1471.5" font-family="Liberation Sans, Arial, sans-serif" font-size="21" text-anchor="middle" transform="translate(251 1471.5) scale(1 1.05) translate(-251 -1471.5)">0.00</text>
<line x1="373.8" y1="1447.5" x2="373.8" y2="1452" stroke="#222" stroke-width="1.3"/>
<text x="373.8" y="1471.5" font-family="Liberation Sans, Arial, sans-serif" font-size="21" text-anchor="middle" transform="translate(373.8 1471.5) scale(1 1.05) translate(-373.8 -1471.5)">0.02</text>
<line x1="497" y1="1447.5" x2="497" y2="1452" stroke="#222" stroke-width="1.3"/>
<text x="497" y="1471.5" font-family="Liberation Sans, Arial, sans-serif" font-size="21" text-anchor="middle" transform="translate(497 1471.5) scale(1 1.05) translate(-497 -1471.5)">0.04</text>
<text x="690" y="1313.7" font-family="Liberation Sans, Arial, sans-serif" font-size="30.5" font-weight="bold">h</text>
<rect x="940.2" y="1323.9" width="24.2" height="19.4" fill="#575757"/>
<rect x="940.2" y="1348.6" width="106.8" height="19.4" fill="#575757"/>
<rect x="940.2" y="1373.3" width="325.6" height="19.4" fill="#575757"/>
<rect x="940.2" y="1397.7" width="8.1" height="19.4" fill="#575757"/>
<rect x="940.2" y="1422.4" width="187.6" height="19.4" fill="#575757"/>
<rect x="940.2" y="1317.8" width="341.8" height="129.7" fill="none" stroke="#222" stroke-width="1.4"/>
<line x1="935.7" y1="1333.4" x2="940.2" y2="1333.4" stroke="#222" stroke-width="1.3"/>
<text x="931.7" y="1341.7" font-family="Liberation Sans, Arial, sans-serif" font-size="22" text-anchor="end" transform="translate(931.7 1341.7) scale(1 1.06) translate(-931.7 -1341.7)">Aliphatic</text>
<line x1="935.7" y1="1358.1" x2="940.2" y2="1358.1" stroke="#222" stroke-width="1.3"/>
<text x="931.7" y="1366.4" font-family="Liberation Sans, Arial, sans-serif" font-size="22" text-anchor="end" transform="translate(931.7 1366.4) scale(1 1.06) translate(-931.7 -1366.4)">Aliphatic-Aromatic</text>
<line x1="935.7" y1="1382.8" x2="940.2" y2="1382.8" stroke="#222" stroke-width="1.3"/>
<text x="931.7" y="1391.1" font-family="Liberation Sans, Arial, sans-serif" font-size="22" text-anchor="end" transform="translate(931.7 1391.1) scale(1 1.06) translate(-931.7 -1391.1)">Aromatic</text>
<line x1="935.7" y1="1407.6" x2="940.2" y2="1407.6" stroke="#222" stroke-width="1.3"/>
<text x="931.7" y="1415.9" font-family="Liberation Sans, Arial, sans-serif" font-size="22" text-anchor="end" transform="translate(931.7 1415.9) scale(1 1.06) translate(-931.7 -1415.9)">Electrostatic</text>
<line x1="935.7" y1="1432.3" x2="940.2" y2="1432.3" stroke="#222" stroke-width="1.3"/>
<text x="931.7" y="1440.6" font-family="Liberation Sans, Arial, sans-serif" font-size="22" text-anchor="end" transform="translate(931.7 1440.6) scale(1 1.06) translate(-931.7 -1440.6)">Cation-pi</text>
<line x1="940.2" y1="1447.5" x2="940.2" y2="1452" stroke="#222" stroke-width="1.3"/>
<text x="940.2" y="1471.5" font-family="Liberation Sans, Arial, sans-serif" font-size="21" text-anchor="middle" transform="translate(940.2 1471.5) scale(1 1.05) translate(-940.2 -1471.5)">0.00</text>
<line x1="1039.2" y1="1447.5" x2="1039.2" y2="1452" stroke="#222" stroke-width="1.3"/>
<text x="1039.2" y="1471.5" font-family="Liberation Sans, Arial, sans-serif" font-size="21" text-anchor="middle" transform="translate(1039.2 1471.5) scale(1 1.05) translate(-1039.2 -1471.5)">0.02</text>
<line x1="1137.9" y1="1447.5" x2="1137.9" y2="1452" stroke="#222" stroke-width="1.3"/>
<text x="1137.9" y="1471.5" font-family="Liberation Sans, Arial, sans-serif" font-size="21" text-anchor="middle" transform="translate(1137.9 1471.5) scale(1 1.05) translate(-1137.9 -1471.5)">0.04</text>
<line x1="1237.2" y1="1447.5" x2="1237.2" y2="1452" stroke="#222" stroke-width="1.3"/>
<text x="1237.2" y="1471.5" font-family="Liberation Sans, Arial, sans-serif" font-size="21" text-anchor="middle" transform="translate(1237.2 1471.5) scale(1 1.05) translate(-1237.2 -1471.5)">0.06</text>
<text x="1399.6" y="1312.8" font-family="Liberation Sans, Arial, sans-serif" font-size="23" font-weight="bold">i</text>
<rect x="1651.6" y="1323.9" width="151.5" height="19.4" fill="#575757"/>
<rect x="1651.6" y="1348.6" width="325.9" height="19.4" fill="#575757"/>
<rect x="1651.6" y="1373.3" width="185.8" height="19.4" fill="#575757"/>
<rect x="1651.6" y="1397.7" width="117.9" height="19.4" fill="#575757"/>
<rect x="1651.6" y="1422.4" width="262.5" height="19.4" fill="#575757"/>
<rect x="1651.6" y="1317.8" width="342.8" height="129.7" fill="none" stroke="#222" stroke-width="1.4"/>
<line x1="1647.1" y1="1333.4" x2="1651.6" y2="1333.4" stroke="#222" stroke-width="1.3"/>
<text x="1643.1" y="1341.7" font-family="Liberation Sans, Arial, sans-serif" font-size="22" text-anchor="end" transform="translate(1643.1 1341.7) scale(1 1.06) translate(-1643.1 -1341.7)">Aliphatic</text>
<line x1="1647.1" y1="1358.1" x2="1651.6" y2="1358.1" stroke="#222" stroke-width="1.3"/>
<text x="1643.1" y="1366.4" font-family="Liberation Sans, Arial, sans-serif" font-size="22" text-anchor="end" transform="translate(1643.1 1366.4) scale(1 1.06) translate(-1643.1 -1366.4)">Aliphatic-Aromatic</text>
<line x1="1647.1" y1="1382.8" x2="1651.6" y2="1382.8" stroke="#222" stroke-width="1.3"/>
<text x="1643.1" y="1391.1" font-family="Liberation Sans, Arial, sans-serif" font-size="22" text-anchor="end" transform="translate(1643.1 1391.1) scale(1 1.06) translate(-1643.1 -1391.1)">Aromatic</text>
<line x1="1647.1" y1="1407.6" x2="1651.6" y2="1407.6" stroke="#222" stroke-width="1.3"/>
<text x="1643.1" y="1415.9" font-family="Liberation Sans, Arial, sans-serif" font-size="22" text-anchor="end" transform="translate(1643.1 1415.9) scale(1 1.06) translate(-1643.1 -1415.9)">Electrostatic</text>
<line x1="1647.1" y1="1432.3" x2="1651.6" y2="1432.3" stroke="#222" stroke-width="1.3"/>
<text x="1643.1" y="1440.6" font-family="Liberation Sans, Arial, sans-serif" font-size="22" text-anchor="end" transform="translate(1643.1 1440.6) scale(1 1.06) translate(-1643.1 -1440.6)">Cation-pi</text>
<line x1="1651.6" y1="1447.5" x2="1651.6" y2="1452" stroke="#222" stroke-width="1.3"/>
<text x="1651.6" y="1471.5" font-family="Liberation Sans, Arial, sans-serif" font-size="21" text-anchor="middle" transform="translate(1651.6 1471.5) scale(1 1.05) translate(-1651.6 -1471.5)">0.00</text>
<line x1="1723.5" y1="1447.5" x2="1723.5" y2="1452" stroke="#222" stroke-width="1.3"/>
<text x="1723.5" y="1471.5" font-family="Liberation Sans, Arial, sans-serif" font-size="21" text-anchor="middle" transform="translate(1723.5 1471.5) scale(1 1.05) translate(-1723.5 -1471.5)">0.01</text>
<line x1="1795.3" y1="1447.5" x2="1795.3" y2="1452" stroke="#222" stroke-width="1.3"/>
<text x="1795.3" y="1471.5" font-family="Liberation Sans, Arial, sans-serif" font-size="21" text-anchor="middle" transform="translate(1795.3 1471.5) scale(1 1.05) translate(-1795.3 -1471.5)">0.02</text>
<line x1="1866.5" y1="1447.5" x2="1866.5" y2="1452" stroke="#222" stroke-width="1.3"/>
<text x="1866.5" y="1471.5" font-family="Liberation Sans, Arial, sans-serif" font-size="21" text-anchor="middle" transform="translate(1866.5 1471.5) scale(1 1.05) translate(-1866.5 -1471.5)">0.03</text>
<line x1="1938.3" y1="1447.5" x2="1938.3" y2="1452" stroke="#222" stroke-width="1.3"/>
<text x="1938.3" y="1471.5" font-family="Liberation Sans, Arial, sans-serif" font-size="21" text-anchor="middle" transform="translate(1938.3 1471.5) scale(1 1.05) translate(-1938.3 -1471.5)">0.04</text>
<text x="408.6" y="1496.7" font-family="Liberation Sans, Arial, sans-serif" font-size="21.5" transform="translate(408.6 1496.7) scale(1 1.13) translate(-408.6 -1496.7)">F<tspan font-size="15" dy="5">int</tspan></text>
<text x="1097.9" y="1496.7" font-family="Liberation Sans, Arial, sans-serif" font-size="21.5" transform="translate(1097.9 1496.7) scale(1 1.13) translate(-1097.9 -1496.7)">F<tspan font-size="15" dy="5">int</tspan></text>
<text x="1809.8" y="1497.2" font-family="Liberation Sans, Arial, sans-serif" font-size="21.5" transform="translate(1809.8 1497.2) scale(1 1.13) translate(-1809.8 -1497.2)">F<tspan font-size="15" dy="5">int</tspan></text>
</svg>
</body></html>
